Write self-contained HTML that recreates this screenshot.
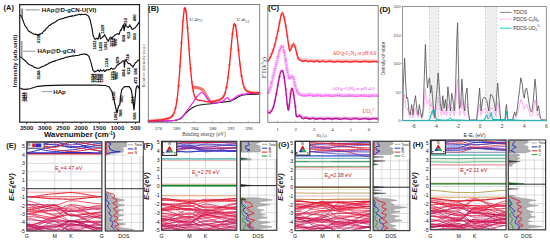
<!DOCTYPE html>
<html><head><meta charset="utf-8"><style>
html,body{margin:0;padding:0;background:#fff;width:550px;height:243px;overflow:hidden;font-family:"Liberation Sans",sans-serif;}
svg{display:block;}
</style></head><body><svg xmlns="http://www.w3.org/2000/svg" width="550" height="243" viewBox="0 0 550 243"><text x="3.6" y="9.8" font-size="7.4" text-anchor="start" font-weight="bold" fill="#111" font-family="Liberation Sans, sans-serif" >(A)</text><text transform="translate(16.6 61) rotate(-90)" font-size="6.0" text-anchor="middle" font-weight="bold" fill="#111" font-family="Liberation Sans, sans-serif">Intensity (arb.unit)</text><path d="M20.1 14.9 L21.2 16.4 L22.5 19 L23.7 22.4 L24.9 25.5 L25.8 26.9 L26.6 27.6 L27.5 29.3 L28.4 30.9 L29.2 31.3 L30.1 32.1 L30.9 32.1 L31.8 32.9 L32.6 33.3 L33.5 34.1 L34.4 34.3 L35.3 34.1 L36.1 34.4 L37 34.7 L37.9 35.3 L38.8 34.8 L39.6 34 L40.5 34.1 L41.3 33.3 L42.2 33.3 L43.1 32 L43.9 30.9 L44.8 30.6 L45.7 29.1 L46.5 28.2 L47.4 27.8 L48.2 26.7 L49.1 25.3 L50 25.3 L50.8 24.5 L51.7 24.1 L52.5 23.2 L53.4 23.2 L54.3 22.5 L55.1 22.2 L56 21.6 L56.8 20.7 L57.7 20.2 L58.6 19.8 L59.4 19.5 L60.3 19.1 L61.2 19 L62 18.9 L62.9 18.2 L63.8 18.4 L64.6 17.8 L65.5 17.5 L66.4 17.6 L67.2 17.1 L68.1 16.7 L69 16.6 L69.8 16.6 L70.7 16 L71.5 16.5 L72.4 15.6 L73.3 16 L74.1 15.9 L75 15.1 L75.8 15.5 L76.7 15 L77.5 15 L78.3 14.5 L79.1 14.4 L79.9 14.4 L80.8 14.9 L81.6 14.2 L82.4 14.5 L83.2 14.5 L84 14.4 L84.8 14.2 L85.7 14.3 L86.5 14.6 L87.3 15.5 L88.1 15.7 L88.9 16.8 L89.8 19.3 L90.6 21.8 L91.9 27.8 L93 35 L94.2 38.1 L95.2 39.3 L96.8 38.2 L97.7 39.2 L98.5 38.5 L99.6 33 L100.4 38.9 L101.2 38.1 L102.1 37.7 L103.4 36.5 L104.6 34.7 L105.4 36.5 L107 39.1 L108.3 41.3 L109.5 38.4 L110.8 37.2 L111.6 38.4 L112.4 37.2 L114 36.1 L114.8 35 L115.7 34.9 L117.3 33.6 L118.2 33.8 L119 34.6 L120.6 29.8 L121.4 30.1 L122.3 27.3 L123.4 24.8 L124.1 30.6 L124.6 28.2 L125.1 24.4 L126.4 26.4 L128 27.5 L128.8 27 L129.7 24.9 L130.5 26.7 L131.3 27.5 L132.2 29.5 L133 29.3 L134.6 28 L135.4 27.7 L136.3 26.2 L137.9 24.1 L139.5 21.5" fill="none" stroke="#111" stroke-width="1.15" stroke-linejoin="round"/><path d="M20.1 56.8 L21.5 57.6 L22.4 58.5 L23.2 59.1 L24 59.8 L24.9 60.6 L25.8 61.2 L26.6 62 L27.5 63.2 L28.4 63.9 L29.2 64.4 L30.1 65 L31 65.3 L31.8 65.6 L32.7 66.1 L33.6 66.9 L34.4 67.4 L35.3 67.5 L36.1 68 L37 68.1 L37.9 68.2 L38.7 68.3 L39.6 68 L40.4 67.3 L41.3 67.2 L42.2 66.5 L43 66.3 L43.9 66.1 L44.8 65.6 L45.6 64.9 L46.5 64.9 L47.3 64.3 L48.2 63.8 L49.1 63 L49.9 62.9 L50.8 62.3 L51.6 62.2 L52.5 61.6 L53.4 61.5 L54.2 61.1 L55.1 60.9 L56 60.3 L56.8 60.2 L57.7 60 L58.6 59.8 L59.4 59.2 L60.3 59.2 L61.2 58.9 L62 58.5 L62.9 58.4 L63.8 58.2 L64.6 57.7 L65.5 57.5 L66.3 57 L67.2 57.3 L68.1 57.1 L68.9 56.6 L69.8 56.5 L70.7 56.4 L71.5 56.3 L72.4 55.8 L73.2 56.1 L74.1 55.9 L75 55.8 L75.8 55.5 L76.7 55.5 L77.5 55.5 L78.4 55.3 L79.3 55.2 L80.3 54.5 L81.2 54.4 L82.1 54.4 L83.1 54.3 L84 53.8 L84.8 54.3 L85.7 54.4 L86.5 54.2 L87.3 55.1 L88.1 55.6 L88.9 56.2 L89.8 58.7 L90.6 61.3 L91.9 66.2 L93 70.3 L93.8 71 L94.7 72 L96.3 71.1 L97.2 70.7 L98 69.9 L98.8 70.8 L99.6 71.6 L100.4 69.6 L101.2 70.7 L102.1 70.9 L102.9 70.7 L103.7 69.8 L104.6 71.5 L105.4 71.1 L106.5 69.7 L107.5 69.9 L109.1 69.8 L109.9 69.7 L110.8 68.5 L111.6 68.1 L112.4 69.1 L113.2 69.1 L114 68.7 L114.8 68.6 L115.7 67.5 L116.5 66.2 L117.3 64.9 L118.2 64.9 L119.8 63.2 L120.6 63.1 L121.4 62.2 L122.8 60.8 L123.9 61.1 L124.4 67.1 L125.1 59.7 L126.4 60.7 L128 63.2 L128.8 63.7 L129.7 63.3 L130.5 64.5 L131.3 65.4 L132.2 65.7 L133 67.1 L134.6 64.2 L135.4 62.7 L136.3 62.3 L137.9 60.4 L139.5 59.8" fill="none" stroke="#111" stroke-width="1.15" stroke-linejoin="round"/><path d="M20.2 88 L22.5 89.2 L26.1 89.4 L30.7 88.5 L36.1 86.7 L45.1 85.6 L63.2 85.2 L97.6 85.2 L105.1 85.5 L109 86.7 L111.9 91.5 L113.8 99.2 L115.7 107.5 L116.6 111.5 L117.3 112.3 L118 108 L118.9 105.5 L119.8 104.8 L120.6 96 L121.8 89.6 L124.4 86.7 L129.2 86.7 L131.2 89.6 L132.5 97.3 L133.4 105 L134 109.9 L134.6 104 L135.2 97.3 L136 88.7 L137 86 L137.9 85.7 L138.6 88 L139.3 86.7" fill="none" stroke="#111" stroke-width="1.2" stroke-linejoin="round"/><path d="M21.6 17.5 L22.1 8.6 L22.6 18" fill="none" stroke="#444" stroke-width="0.7"/><path d="M21.4 57.6 L21.8 41 L22.2 57.8" fill="none" stroke="#777" stroke-width="0.7"/><line x1="25.5" y1="9.9" x2="39.7" y2="9.9" stroke="#777" stroke-width="0.8"/><text x="41.8" y="12.1" font-size="6.2" text-anchor="start" font-weight="bold" fill="#111" font-family="Liberation Sans, sans-serif" >HAp@D-gCN-U(VI)</text><line x1="23.2" y1="51.2" x2="35.3" y2="51.2" stroke="#777" stroke-width="0.8"/><text x="37.6" y="53.4" font-size="6.2" text-anchor="start" font-weight="bold" fill="#111" font-family="Liberation Sans, sans-serif" >HAp@D-gCN</text><line x1="41.5" y1="91.6" x2="52.4" y2="91.6" stroke="#999" stroke-width="1"/><text x="53.2" y="93.8" font-size="6.2" text-anchor="start" font-weight="bold" fill="#111" font-family="Liberation Sans, sans-serif" >HAp</text><text transform="translate(39.7 38.6) rotate(-90)" font-size="4.1" text-anchor="middle" font-weight="bold" fill="#111" stroke="#111" stroke-width="0.12" font-family="Liberation Sans, sans-serif">3198</text><text transform="translate(95.7 45) rotate(-90)" font-size="4.1" text-anchor="middle" font-weight="bold" fill="#111" stroke="#111" stroke-width="0.12" font-family="Liberation Sans, sans-serif">1622</text><text transform="translate(102.1 46.6) rotate(-90)" font-size="4.1" text-anchor="middle" font-weight="bold" fill="#111" stroke="#111" stroke-width="0.12" font-family="Liberation Sans, sans-serif">1420</text><text transform="translate(104.4 29.3) rotate(-90)" font-size="4.1" text-anchor="middle" font-weight="bold" fill="#111" stroke="#111" stroke-width="0.12" font-family="Liberation Sans, sans-serif">1329</text><text transform="translate(106.5 45.8) rotate(-90)" font-size="4.1" text-anchor="middle" font-weight="bold" fill="#111" stroke="#111" stroke-width="0.12" font-family="Liberation Sans, sans-serif">1261</text><text transform="translate(113.3 42.5) rotate(-90)" font-size="4.1" text-anchor="middle" font-weight="bold" fill="#111" stroke="#111" stroke-width="0.12" font-family="Liberation Sans, sans-serif">1075</text><text transform="translate(115.3 42.5) rotate(-90)" font-size="4.1" text-anchor="middle" font-weight="bold" fill="#111" stroke="#111" stroke-width="0.12" font-family="Liberation Sans, sans-serif">1020</text><text transform="translate(117.3 42.5) rotate(-90)" font-size="4.1" text-anchor="middle" font-weight="bold" fill="#111" stroke="#111" stroke-width="0.12" font-family="Liberation Sans, sans-serif">996</text><text transform="translate(125.1 38.4) rotate(-90)" font-size="4.1" text-anchor="middle" font-weight="bold" fill="#111" stroke="#111" stroke-width="0.12" font-family="Liberation Sans, sans-serif">804</text><text transform="translate(126.7 21.5) rotate(-90)" font-size="4.1" text-anchor="middle" font-weight="bold" fill="#111" stroke="#111" stroke-width="0.12" font-family="Liberation Sans, sans-serif">723</text><text transform="translate(130.4 35.1) rotate(-90)" font-size="4.1" text-anchor="middle" font-weight="bold" fill="#111" stroke="#111" stroke-width="0.12" font-family="Liberation Sans, sans-serif">613</text><text transform="translate(135.8 36.7) rotate(-90)" font-size="4.1" text-anchor="middle" font-weight="bold" fill="#111" stroke="#111" stroke-width="0.12" font-family="Liberation Sans, sans-serif">563</text><text transform="translate(135.8 17.8) rotate(-90)" font-size="4.1" text-anchor="middle" font-weight="bold" fill="#111" stroke="#111" stroke-width="0.12" font-family="Liberation Sans, sans-serif">490</text><text transform="translate(40.4 75) rotate(-90)" font-size="4.1" text-anchor="middle" font-weight="bold" fill="#111" stroke="#111" stroke-width="0.12" font-family="Liberation Sans, sans-serif">3188</text><text transform="translate(94.1 78.3) rotate(-90)" font-size="4.1" text-anchor="middle" font-weight="bold" fill="#111" stroke="#111" stroke-width="0.12" font-family="Liberation Sans, sans-serif">1634</text><text transform="translate(96.3 78.3) rotate(-90)" font-size="4.1" text-anchor="middle" font-weight="bold" fill="#111" stroke="#111" stroke-width="0.12" font-family="Liberation Sans, sans-serif">1563</text><text transform="translate(98.5 78.3) rotate(-90)" font-size="4.1" text-anchor="middle" font-weight="bold" fill="#111" stroke="#111" stroke-width="0.12" font-family="Liberation Sans, sans-serif">1470</text><text transform="translate(100.7 78.3) rotate(-90)" font-size="4.1" text-anchor="middle" font-weight="bold" fill="#111" stroke="#111" stroke-width="0.12" font-family="Liberation Sans, sans-serif">1320</text><text transform="translate(102.9 78.3) rotate(-90)" font-size="4.1" text-anchor="middle" font-weight="bold" fill="#111" stroke="#111" stroke-width="0.12" font-family="Liberation Sans, sans-serif">1256</text><text transform="translate(108.2 62.7) rotate(-90)" font-size="4.1" text-anchor="middle" font-weight="bold" fill="#111" stroke="#111" stroke-width="0.12" font-family="Liberation Sans, sans-serif">1124</text><text transform="translate(114.3 75.8) rotate(-90)" font-size="4.1" text-anchor="middle" font-weight="bold" fill="#111" stroke="#111" stroke-width="0.12" font-family="Liberation Sans, sans-serif">1075</text><text transform="translate(116.3 75.8) rotate(-90)" font-size="4.1" text-anchor="middle" font-weight="bold" fill="#111" stroke="#111" stroke-width="0.12" font-family="Liberation Sans, sans-serif">1020</text><text transform="translate(118.3 75.8) rotate(-90)" font-size="4.1" text-anchor="middle" font-weight="bold" fill="#111" stroke="#111" stroke-width="0.12" font-family="Liberation Sans, sans-serif">995</text><text transform="translate(118.9 60.2) rotate(-90)" font-size="4.1" text-anchor="middle" font-weight="bold" fill="#111" stroke="#111" stroke-width="0.12" font-family="Liberation Sans, sans-serif">879</text><text transform="translate(125.1 73) rotate(-90)" font-size="4.1" text-anchor="middle" font-weight="bold" fill="#111" stroke="#111" stroke-width="0.12" font-family="Liberation Sans, sans-serif">804</text><text transform="translate(130.4 70.9) rotate(-90)" font-size="4.1" text-anchor="middle" font-weight="bold" fill="#111" stroke="#111" stroke-width="0.12" font-family="Liberation Sans, sans-serif">613</text><text transform="translate(128.7 57.7) rotate(-90)" font-size="4.1" text-anchor="middle" font-weight="bold" fill="#111" stroke="#111" stroke-width="0.12" font-family="Liberation Sans, sans-serif">724</text><text transform="translate(136.7 71.3) rotate(-90)" font-size="4.1" text-anchor="middle" font-weight="bold" fill="#111" stroke="#111" stroke-width="0.12" font-family="Liberation Sans, sans-serif">566</text><text transform="translate(24.5 97) rotate(-90)" font-size="4.1" text-anchor="middle" font-weight="bold" fill="#111" stroke="#111" stroke-width="0.12" font-family="Liberation Sans, sans-serif">3444</text><text transform="translate(27.2 97) rotate(-90)" font-size="4.1" text-anchor="middle" font-weight="bold" fill="#111" stroke="#111" stroke-width="0.12" font-family="Liberation Sans, sans-serif">3423</text><text transform="translate(114.7 96) rotate(-90)" font-size="4.1" text-anchor="middle" font-weight="bold" fill="#111" stroke="#111" stroke-width="0.12" font-family="Liberation Sans, sans-serif">1120</text><text transform="translate(117.1 116) rotate(-90)" font-size="4.1" text-anchor="middle" font-weight="bold" fill="#111" stroke="#111" stroke-width="0.12" font-family="Liberation Sans, sans-serif">1062</text><text transform="translate(121.7 113) rotate(-90)" font-size="4.1" text-anchor="middle" font-weight="bold" fill="#111" stroke="#111" stroke-width="0.12" font-family="Liberation Sans, sans-serif">966</text><text transform="translate(122.5 99) rotate(-90)" font-size="4.1" text-anchor="middle" font-weight="bold" fill="#111" stroke="#111" stroke-width="0.12" font-family="Liberation Sans, sans-serif">960</text><text transform="translate(134 100) rotate(-90)" font-size="4.1" text-anchor="middle" font-weight="bold" fill="#111" stroke="#111" stroke-width="0.12" font-family="Liberation Sans, sans-serif">661</text><text transform="translate(136.2 116) rotate(-90)" font-size="4.1" text-anchor="middle" font-weight="bold" fill="#111" stroke="#111" stroke-width="0.12" font-family="Liberation Sans, sans-serif">606</text><text transform="translate(136.7 80.3) rotate(-90)" font-size="4.1" text-anchor="middle" font-weight="bold" fill="#111" stroke="#111" stroke-width="0.12" font-family="Liberation Sans, sans-serif">472</text><rect x="19.7" y="4.6" width="119.8" height="117.6" fill="none" stroke="#222" stroke-width="1.2"/><line x1="26.7" y1="122.2" x2="26.7" y2="124" stroke="#222" stroke-width="0.9"/><text x="26.7" y="130" font-size="6.1" text-anchor="middle" font-weight="bold" fill="#1a1a1a" font-family="Liberation Sans, sans-serif" >3500</text><line x1="35.8" y1="122.2" x2="35.8" y2="123.3" stroke="#222" stroke-width="0.7"/><line x1="44.8" y1="122.2" x2="44.8" y2="124" stroke="#222" stroke-width="0.9"/><text x="44.8" y="130" font-size="6.1" text-anchor="middle" font-weight="bold" fill="#1a1a1a" font-family="Liberation Sans, sans-serif" >3000</text><line x1="53.9" y1="122.2" x2="53.9" y2="123.3" stroke="#222" stroke-width="0.7"/><line x1="63" y1="122.2" x2="63" y2="124" stroke="#222" stroke-width="0.9"/><text x="63" y="130" font-size="6.1" text-anchor="middle" font-weight="bold" fill="#1a1a1a" font-family="Liberation Sans, sans-serif" >2500</text><line x1="72.1" y1="122.2" x2="72.1" y2="123.3" stroke="#222" stroke-width="0.7"/><line x1="81.1" y1="122.2" x2="81.1" y2="124" stroke="#222" stroke-width="0.9"/><text x="81.1" y="130" font-size="6.1" text-anchor="middle" font-weight="bold" fill="#1a1a1a" font-family="Liberation Sans, sans-serif" >2000</text><line x1="90.2" y1="122.2" x2="90.2" y2="123.3" stroke="#222" stroke-width="0.7"/><line x1="99.3" y1="122.2" x2="99.3" y2="124" stroke="#222" stroke-width="0.9"/><text x="99.3" y="130" font-size="6.1" text-anchor="middle" font-weight="bold" fill="#1a1a1a" font-family="Liberation Sans, sans-serif" >1500</text><line x1="108.4" y1="122.2" x2="108.4" y2="123.3" stroke="#222" stroke-width="0.7"/><line x1="117.5" y1="122.2" x2="117.5" y2="124" stroke="#222" stroke-width="0.9"/><text x="117.5" y="130" font-size="6.1" text-anchor="middle" font-weight="bold" fill="#1a1a1a" font-family="Liberation Sans, sans-serif" >1000</text><line x1="126.5" y1="122.2" x2="126.5" y2="123.3" stroke="#222" stroke-width="0.7"/><line x1="135.6" y1="122.2" x2="135.6" y2="124" stroke="#222" stroke-width="0.9"/><text x="135.6" y="130" font-size="6.1" text-anchor="middle" font-weight="bold" fill="#1a1a1a" font-family="Liberation Sans, sans-serif" >500</text><text x="44" y="137.4" font-size="7.8" text-anchor="start" font-weight="bold" fill="#111" font-family="Liberation Sans, sans-serif" >Wavenumber (cm<tspan font-size="4.6" dy="-2.6">-1</tspan><tspan dy="2.6">)</tspan></text><circle cx="148.5" cy="120.9" r="1.1" fill="none" stroke="#f06868" stroke-width="0.55"/><circle cx="150" cy="120.8" r="1.1" fill="none" stroke="#f06868" stroke-width="0.55"/><circle cx="151.5" cy="120.7" r="1.1" fill="none" stroke="#f06868" stroke-width="0.55"/><circle cx="153" cy="120.6" r="1.1" fill="none" stroke="#f06868" stroke-width="0.55"/><circle cx="154.5" cy="120.5" r="1.1" fill="none" stroke="#f06868" stroke-width="0.55"/><circle cx="156" cy="120.4" r="1.1" fill="none" stroke="#f06868" stroke-width="0.55"/><circle cx="157.5" cy="120.2" r="1.1" fill="none" stroke="#f06868" stroke-width="0.55"/><circle cx="159" cy="120.1" r="1.1" fill="none" stroke="#f06868" stroke-width="0.55"/><circle cx="160.5" cy="119.9" r="1.1" fill="none" stroke="#f06868" stroke-width="0.55"/><circle cx="162" cy="119.7" r="1.1" fill="none" stroke="#f06868" stroke-width="0.55"/><circle cx="163.5" cy="119.5" r="1.1" fill="none" stroke="#f06868" stroke-width="0.55"/><circle cx="165" cy="119.2" r="1.1" fill="none" stroke="#f06868" stroke-width="0.55"/><circle cx="166.5" cy="118.9" r="1.1" fill="none" stroke="#f06868" stroke-width="0.55"/><circle cx="168" cy="118.4" r="1.1" fill="none" stroke="#f06868" stroke-width="0.55"/><circle cx="169.5" cy="117.9" r="1.1" fill="none" stroke="#f06868" stroke-width="0.55"/><circle cx="171" cy="117.1" r="1.1" fill="none" stroke="#f06868" stroke-width="0.55"/><circle cx="172.5" cy="115.7" r="1.1" fill="none" stroke="#f06868" stroke-width="0.55"/><circle cx="174" cy="113.1" r="1.1" fill="none" stroke="#f06868" stroke-width="0.55"/><circle cx="175.5" cy="108.2" r="1.1" fill="none" stroke="#f06868" stroke-width="0.55"/><circle cx="177" cy="99.7" r="1.1" fill="none" stroke="#f06868" stroke-width="0.55"/><circle cx="178.5" cy="85.8" r="1.1" fill="none" stroke="#f06868" stroke-width="0.55"/><circle cx="180" cy="66" r="1.1" fill="none" stroke="#f06868" stroke-width="0.55"/><circle cx="181.5" cy="42.8" r="1.1" fill="none" stroke="#f06868" stroke-width="0.55"/><circle cx="183" cy="21" r="1.1" fill="none" stroke="#f06868" stroke-width="0.55"/><circle cx="184.5" cy="8.6" r="1.1" fill="none" stroke="#f06868" stroke-width="0.55"/><circle cx="186" cy="11.7" r="1.1" fill="none" stroke="#f06868" stroke-width="0.55"/><circle cx="187.5" cy="27.8" r="1.1" fill="none" stroke="#f06868" stroke-width="0.55"/><circle cx="189" cy="49" r="1.1" fill="none" stroke="#f06868" stroke-width="0.55"/><circle cx="190.5" cy="68.4" r="1.1" fill="none" stroke="#f06868" stroke-width="0.55"/><circle cx="192" cy="82.9" r="1.1" fill="none" stroke="#f06868" stroke-width="0.55"/><circle cx="193" cy="89.7" r="1.1" fill="none" stroke="#f06868" stroke-width="0.55"/><circle cx="193.5" cy="87" r="1.1" fill="none" stroke="#f06868" stroke-width="0.55"/><circle cx="194" cy="87.1" r="1.1" fill="none" stroke="#f06868" stroke-width="0.55"/><circle cx="194.5" cy="87.2" r="1.1" fill="none" stroke="#f06868" stroke-width="0.55"/><circle cx="195" cy="87.3" r="1.1" fill="none" stroke="#f06868" stroke-width="0.55"/><circle cx="195.5" cy="87.3" r="1.1" fill="none" stroke="#f06868" stroke-width="0.55"/><circle cx="196" cy="87.4" r="1.1" fill="none" stroke="#f06868" stroke-width="0.55"/><circle cx="196.5" cy="87.5" r="1.1" fill="none" stroke="#f06868" stroke-width="0.55"/><circle cx="197" cy="87.6" r="1.1" fill="none" stroke="#f06868" stroke-width="0.55"/><circle cx="197.5" cy="87.7" r="1.1" fill="none" stroke="#f06868" stroke-width="0.55"/><circle cx="198" cy="87.9" r="1.1" fill="none" stroke="#f06868" stroke-width="0.55"/><circle cx="198.5" cy="88" r="1.1" fill="none" stroke="#f06868" stroke-width="0.55"/><circle cx="199" cy="88.1" r="1.1" fill="none" stroke="#f06868" stroke-width="0.55"/><circle cx="199.5" cy="88.3" r="1.1" fill="none" stroke="#f06868" stroke-width="0.55"/><circle cx="200" cy="88.4" r="1.1" fill="none" stroke="#f06868" stroke-width="0.55"/><circle cx="200.5" cy="88.6" r="1.1" fill="none" stroke="#f06868" stroke-width="0.55"/><circle cx="201" cy="88.8" r="1.1" fill="none" stroke="#f06868" stroke-width="0.55"/><circle cx="201.5" cy="89.1" r="1.1" fill="none" stroke="#f06868" stroke-width="0.55"/><circle cx="202" cy="89.3" r="1.1" fill="none" stroke="#f06868" stroke-width="0.55"/><circle cx="202.5" cy="89.5" r="1.1" fill="none" stroke="#f06868" stroke-width="0.55"/><circle cx="203" cy="90.2" r="1.1" fill="none" stroke="#f06868" stroke-width="0.55"/><circle cx="203.5" cy="90.9" r="1.1" fill="none" stroke="#f06868" stroke-width="0.55"/><circle cx="204" cy="91.6" r="1.1" fill="none" stroke="#f06868" stroke-width="0.55"/><circle cx="204.5" cy="92.3" r="1.1" fill="none" stroke="#f06868" stroke-width="0.55"/><circle cx="205" cy="93" r="1.1" fill="none" stroke="#f06868" stroke-width="0.55"/><circle cx="205.5" cy="93.9" r="1.1" fill="none" stroke="#f06868" stroke-width="0.55"/><circle cx="206" cy="94.8" r="1.1" fill="none" stroke="#f06868" stroke-width="0.55"/><circle cx="206.5" cy="95.7" r="1.1" fill="none" stroke="#f06868" stroke-width="0.55"/><circle cx="207" cy="96.6" r="1.1" fill="none" stroke="#f06868" stroke-width="0.55"/><circle cx="207.5" cy="97.5" r="1.1" fill="none" stroke="#f06868" stroke-width="0.55"/><circle cx="208" cy="98.3" r="1.1" fill="none" stroke="#f06868" stroke-width="0.55"/><circle cx="208.5" cy="99.1" r="1.1" fill="none" stroke="#f06868" stroke-width="0.55"/><circle cx="209" cy="99.9" r="1.1" fill="none" stroke="#f06868" stroke-width="0.55"/><circle cx="209.5" cy="100.7" r="1.1" fill="none" stroke="#f06868" stroke-width="0.55"/><circle cx="210" cy="101.5" r="1.1" fill="none" stroke="#f06868" stroke-width="0.55"/><circle cx="210.5" cy="101.8" r="1.1" fill="none" stroke="#f06868" stroke-width="0.55"/><circle cx="211" cy="101.7" r="1.1" fill="none" stroke="#f06868" stroke-width="0.55"/><circle cx="211.5" cy="101.7" r="1.1" fill="none" stroke="#f06868" stroke-width="0.55"/><circle cx="213" cy="101.5" r="1.1" fill="none" stroke="#f06868" stroke-width="0.55"/><circle cx="214.5" cy="101.2" r="1.1" fill="none" stroke="#f06868" stroke-width="0.55"/><circle cx="216" cy="100.9" r="1.1" fill="none" stroke="#f06868" stroke-width="0.55"/><circle cx="217.5" cy="100.5" r="1.1" fill="none" stroke="#f06868" stroke-width="0.55"/><circle cx="219" cy="100" r="1.1" fill="none" stroke="#f06868" stroke-width="0.55"/><circle cx="220.5" cy="99.3" r="1.1" fill="none" stroke="#f06868" stroke-width="0.55"/><circle cx="222" cy="98.2" r="1.1" fill="none" stroke="#f06868" stroke-width="0.55"/><circle cx="223.5" cy="96.4" r="1.1" fill="none" stroke="#f06868" stroke-width="0.55"/><circle cx="225" cy="93" r="1.1" fill="none" stroke="#f06868" stroke-width="0.55"/><circle cx="226.5" cy="87.1" r="1.1" fill="none" stroke="#f06868" stroke-width="0.55"/><circle cx="228" cy="77.8" r="1.1" fill="none" stroke="#f06868" stroke-width="0.55"/><circle cx="229.5" cy="64.7" r="1.1" fill="none" stroke="#f06868" stroke-width="0.55"/><circle cx="231" cy="48.8" r="1.1" fill="none" stroke="#f06868" stroke-width="0.55"/><circle cx="232.5" cy="33.7" r="1.1" fill="none" stroke="#f06868" stroke-width="0.55"/><circle cx="234" cy="24.5" r="1.1" fill="none" stroke="#f06868" stroke-width="0.55"/><circle cx="235.5" cy="25.7" r="1.1" fill="none" stroke="#f06868" stroke-width="0.55"/><circle cx="237" cy="35.9" r="1.1" fill="none" stroke="#f06868" stroke-width="0.55"/><circle cx="238.5" cy="50.4" r="1.1" fill="none" stroke="#f06868" stroke-width="0.55"/><circle cx="240" cy="64.3" r="1.1" fill="none" stroke="#f06868" stroke-width="0.55"/><circle cx="241.5" cy="75.8" r="1.1" fill="none" stroke="#f06868" stroke-width="0.55"/><circle cx="243" cy="83.4" r="1.1" fill="none" stroke="#f06868" stroke-width="0.55"/><circle cx="244.5" cy="87.9" r="1.1" fill="none" stroke="#f06868" stroke-width="0.55"/><circle cx="246" cy="90.2" r="1.1" fill="none" stroke="#f06868" stroke-width="0.55"/><circle cx="247.5" cy="91.3" r="1.1" fill="none" stroke="#f06868" stroke-width="0.55"/><circle cx="249" cy="91.9" r="1.1" fill="none" stroke="#f06868" stroke-width="0.55"/><circle cx="250.5" cy="92.3" r="1.1" fill="none" stroke="#f06868" stroke-width="0.55"/><circle cx="252" cy="92.6" r="1.1" fill="none" stroke="#f06868" stroke-width="0.55"/><circle cx="253.5" cy="92.7" r="1.1" fill="none" stroke="#f06868" stroke-width="0.55"/><circle cx="255" cy="92.9" r="1.1" fill="none" stroke="#f06868" stroke-width="0.55"/><circle cx="256.5" cy="92.9" r="1.1" fill="none" stroke="#f06868" stroke-width="0.55"/><circle cx="258" cy="93" r="1.1" fill="none" stroke="#f06868" stroke-width="0.55"/><circle cx="259.5" cy="93.1" r="1.1" fill="none" stroke="#f06868" stroke-width="0.55"/><path d="M148.5 121.5 C150.4 121.5 156.1 121.3 160 121.2 C163.9 121.1 169 121 172 120.8 C175 120.6 176.3 120.3 178 119.8 C179.7 119.2 180.5 118.8 182 117.5 C183.5 116.2 185.3 113.6 187 112 C188.7 110.4 190.3 109.1 192 108 C193.7 106.9 195.1 106.1 197.3 105.5 C199.5 104.9 202.7 104.6 205 104.3 C207.3 104 208.5 104 211 103.7 C213.5 103.4 216.8 102.9 220 102.5 C223.2 102.1 227.5 101.7 230 101.1 C232.5 100.5 233.3 99.8 235 99 C236.7 98.2 237.8 96.8 240 96 C242.2 95.2 244.8 94.8 248 94.5 C251.2 94.2 257.6 94.1 259.5 94" fill="none" stroke="#222" stroke-width="1.1"/><path d="M148.5 121.2 C152.4 121.1 167.1 120.9 172 120.6 C176.9 120.3 176.3 120.1 178 119.5 C179.7 118.9 180.7 118.2 182 117 C183.3 115.8 184.7 113.8 186 112 C187.3 110.2 188.7 108.3 190 106.5 C191.3 104.7 192.8 102.8 194 101 C195.2 99.2 196.2 97.4 197.5 96 C198.8 94.6 200.3 92.7 201.6 92.5 C202.8 92.3 203.9 93.8 205 95 C206.1 96.2 207 98.2 208 99.5 C209 100.8 209.8 101.9 211 102.5 C212.2 103.1 213.2 103.2 215 103 C216.8 102.8 220.2 102.2 222 101.5 C223.8 100.8 224.6 99.6 225.5 99 C226.4 98.4 227 97.6 227.6 97.7 C228.2 97.8 228.7 99.1 229.2 99.5 C229.7 99.9 230.2 100.4 230.8 100.3 C231.4 100.2 231.8 99.8 233 99 C234.2 98.2 236.2 96.3 238 95.5 C239.8 94.7 241.7 94.4 244 94 C246.3 93.6 249.4 93.4 252 93.3 C254.6 93.2 258.2 93.2 259.5 93.2" fill="none" stroke="#ee22ee" stroke-width="1.2"/><path d="M148.5 120.9 L149 120.9 L149.5 120.8 L150 120.8 L150.5 120.8 L151 120.7 L151.5 120.7 L152 120.7 L152.5 120.6 L153 120.6 L153.5 120.6 L154 120.5 L154.5 120.5 L155 120.5 L155.5 120.4 L156 120.4 L156.5 120.3 L157 120.3 L157.5 120.2 L158 120.2 L158.5 120.1 L159 120.1 L159.5 120 L160 120 L160.5 119.9 L161 119.8 L161.5 119.8 L162 119.7 L162.5 119.6 L163 119.6 L163.5 119.5 L164 119.4 L164.5 119.3 L165 119.2 L165.5 119.1 L166 119 L166.5 118.9 L167 118.7 L167.5 118.6 L168 118.4 L168.5 118.3 L169 118.1 L169.5 117.9 L170 117.7 L170.5 117.4 L171 117.1 L171.5 116.8 L172 116.3 L172.5 115.7 L173 115 L173.5 114.1 L174 113.1 L174.5 111.8 L175 110.2 L175.5 108.2 L176 105.9 L176.5 103.1 L177 99.7 L177.5 95.8 L178 91.2 L178.5 85.8 L179 79.8 L179.5 73.2 L180 66 L180.5 58.5 L181 50.7 L181.5 42.8 L182 35.2 L182.5 27.7 L183 21 L183.5 15.3 L184 11.1 L184.5 8.6 L185 7.8 L185.5 8.9 L186 11.7 L186.5 16 L187 21.4 L187.5 27.8 L188 34.7 L188.5 41.8 L189 49 L189.5 55.9 L190 62.4 L190.5 68.4 L191 73.9 L191.5 78.7 L192 82.9 L192.5 86.6 L193 89.7 L193.5 92.3 L194 94.3 L194.5 96 L195 97.2 L195.5 98.1 L196 98.8 L196.5 99.3 L197 99.6 L197.5 99.8 L198 100 L198.5 100.1 L199 100.2 L199.5 100.3 L200 100.3 L200.5 100.4 L201 100.4 L201.5 100.5 L202 100.6 L202.5 100.7 L203 100.8 L203.5 100.9 L204 101 L204.5 101.2 L205 101.3 L205.5 101.4 L206 101.5 L206.5 101.6 L207 101.7 L207.5 101.8 L208 101.8 L208.5 101.8 L209 101.8 L209.5 101.8 L210 101.8 L210.5 101.8 L211 101.7 L211.5 101.7 L212 101.6 L212.5 101.5 L213 101.5 L213.5 101.4 L214 101.3 L214.5 101.2 L215 101.1 L215.5 101 L216 100.9 L216.5 100.7 L217 100.6 L217.5 100.5 L218 100.3 L218.5 100.2 L219 100 L219.5 99.8 L220 99.6 L220.5 99.3 L221 99 L221.5 98.6 L222 98.2 L222.5 97.7 L223 97.1 L223.5 96.4 L224 95.5 L224.5 94.4 L225 93 L225.5 91.4 L226 89.4 L226.5 87.1 L227 84.4 L227.5 81.3 L228 77.8 L228.5 73.8 L229 69.4 L229.5 64.7 L230 59.6 L230.5 54.3 L231 48.8 L231.5 43.4 L232 38.3 L232.5 33.7 L233 29.7 L233.5 26.6 L234 24.5 L234.5 23.7 L235 24.1 L235.5 25.7 L236 28.3 L236.5 31.8 L237 35.9 L237.5 40.5 L238 45.4 L238.5 50.4 L239 55.2 L239.5 59.9 L240 64.3 L240.5 68.5 L241 72.4 L241.5 75.8 L242 78.7 L242.5 81.3 L243 83.4 L243.5 85.2 L244 86.7 L244.5 87.9 L245 88.9 L245.5 89.6 L246 90.2 L246.5 90.7 L247 91 L247.5 91.3 L248 91.5 L248.5 91.7 L249 91.9 L249.5 92.1 L250 92.2 L250.5 92.3 L251 92.4 L251.5 92.5 L252 92.6 L252.5 92.6 L253 92.7 L253.5 92.7 L254 92.8 L254.5 92.8 L255 92.9 L255.5 92.9 L256 92.9 L256.5 92.9 L257 93 L257.5 93 L258 93 L258.5 93 L259 93 L259.5 93.1" fill="none" stroke="#ff2020" stroke-width="1.35"/><rect x="148.3" y="4.5" width="111.4" height="118.2" fill="none" stroke="#777" stroke-width="0.9"/><text x="148" y="10.7" font-size="7.9" text-anchor="start" font-weight="bold" fill="#111" font-family="Liberation Sans, sans-serif" >(B)</text><text x="189.5" y="21" font-size="4.9" text-anchor="start" font-weight="normal" fill="#333" font-family="Liberation Serif, serif" >U 4f<tspan font-size="3.2" dy="1.3">7/2</tspan></text><text x="236.4" y="21.4" font-size="4.9" text-anchor="start" font-weight="normal" fill="#333" font-family="Liberation Serif, serif" >U 4f<tspan font-size="3.2" dy="1.3">5/2</tspan></text><line x1="158" y1="122.7" x2="158" y2="121.2" stroke="#777" stroke-width="0.6"/><text x="158.6" y="129.9" font-size="5.0" text-anchor="middle" font-weight="normal" fill="#333" font-family="Liberation Serif, serif" >376</text><line x1="167" y1="122.7" x2="167" y2="121.8" stroke="#777" stroke-width="0.5"/><line x1="176.1" y1="122.7" x2="176.1" y2="121.2" stroke="#777" stroke-width="0.6"/><text x="176.7" y="129.9" font-size="5.0" text-anchor="middle" font-weight="normal" fill="#333" font-family="Liberation Serif, serif" >380</text><line x1="185.1" y1="122.7" x2="185.1" y2="121.8" stroke="#777" stroke-width="0.5"/><line x1="194.1" y1="122.7" x2="194.1" y2="121.2" stroke="#777" stroke-width="0.6"/><text x="194.7" y="129.9" font-size="5.0" text-anchor="middle" font-weight="normal" fill="#333" font-family="Liberation Serif, serif" >384</text><line x1="203.2" y1="122.7" x2="203.2" y2="121.8" stroke="#777" stroke-width="0.5"/><line x1="212.2" y1="122.7" x2="212.2" y2="121.2" stroke="#777" stroke-width="0.6"/><text x="212.8" y="129.9" font-size="5.0" text-anchor="middle" font-weight="normal" fill="#333" font-family="Liberation Serif, serif" >388</text><line x1="221.2" y1="122.7" x2="221.2" y2="121.8" stroke="#777" stroke-width="0.5"/><line x1="230.3" y1="122.7" x2="230.3" y2="121.2" stroke="#777" stroke-width="0.6"/><text x="230.9" y="129.9" font-size="5.0" text-anchor="middle" font-weight="normal" fill="#333" font-family="Liberation Serif, serif" >392</text><line x1="239.3" y1="122.7" x2="239.3" y2="121.8" stroke="#777" stroke-width="0.5"/><line x1="248.3" y1="122.7" x2="248.3" y2="121.2" stroke="#777" stroke-width="0.6"/><text x="248.9" y="129.9" font-size="5.0" text-anchor="middle" font-weight="normal" fill="#333" font-family="Liberation Serif, serif" >396</text><line x1="257.4" y1="122.7" x2="257.4" y2="121.8" stroke="#777" stroke-width="0.5"/><text x="204" y="136" font-size="5.3" text-anchor="middle" font-weight="normal" fill="#444" font-family="Liberation Serif, serif" >Binding energy (eV)</text><text transform="translate(145 66) rotate(-90)" font-size="4.6" text-anchor="middle" font-weight="normal" fill="#555" font-family="Liberation Serif, serif">Relative intensity (a.u.)</text><path d="M268.2 59.1l1.1 1.9h-2.2z" fill="none" stroke="#ff7070" stroke-width="0.5"/><path d="M269.8 56l1.1 1.9h-2.2z" fill="none" stroke="#ff7070" stroke-width="0.5"/><path d="M271.4 52.5l1.1 1.9h-2.2z" fill="none" stroke="#ff7070" stroke-width="0.5"/><path d="M273 48.2l1.1 1.9h-2.2z" fill="none" stroke="#ff7070" stroke-width="0.5"/><path d="M274.6 43.3l1.1 1.9h-2.2z" fill="none" stroke="#ff7070" stroke-width="0.5"/><path d="M276.2 36.5l1.1 1.9h-2.2z" fill="none" stroke="#ff7070" stroke-width="0.5"/><path d="M277.8 29.5l1.1 1.9h-2.2z" fill="none" stroke="#ff7070" stroke-width="0.5"/><path d="M279.4 21.2l1.1 1.9h-2.2z" fill="none" stroke="#ff7070" stroke-width="0.5"/><path d="M281 13.7l1.1 1.9h-2.2z" fill="none" stroke="#ff7070" stroke-width="0.5"/><path d="M282.6 11.2l1.1 1.9h-2.2z" fill="none" stroke="#ff7070" stroke-width="0.5"/><path d="M284.2 16l1.1 1.9h-2.2z" fill="none" stroke="#ff7070" stroke-width="0.5"/><path d="M285.8 24.3l1.1 1.9h-2.2z" fill="none" stroke="#ff7070" stroke-width="0.5"/><path d="M287.4 34.5l1.1 1.9h-2.2z" fill="none" stroke="#ff7070" stroke-width="0.5"/><path d="M289 44.8l1.1 1.9h-2.2z" fill="none" stroke="#ff7070" stroke-width="0.5"/><path d="M290.6 47.3l1.1 1.9h-2.2z" fill="none" stroke="#ff7070" stroke-width="0.5"/><path d="M292.2 43.9l1.1 1.9h-2.2z" fill="none" stroke="#ff7070" stroke-width="0.5"/><path d="M293.8 42l1.1 1.9h-2.2z" fill="none" stroke="#ff7070" stroke-width="0.5"/><path d="M295.4 45.6l1.1 1.9h-2.2z" fill="none" stroke="#ff7070" stroke-width="0.5"/><path d="M297 52.2l1.1 1.9h-2.2z" fill="none" stroke="#ff7070" stroke-width="0.5"/><path d="M298.6 56.6l1.1 1.9h-2.2z" fill="none" stroke="#ff7070" stroke-width="0.5"/><path d="M300.2 57.8l1.1 1.9h-2.2z" fill="none" stroke="#ff7070" stroke-width="0.5"/><path d="M301.8 58.7l1.1 1.9h-2.2z" fill="none" stroke="#ff7070" stroke-width="0.5"/><path d="M303.4 59l1.1 1.9h-2.2z" fill="none" stroke="#ff7070" stroke-width="0.5"/><path d="M305 58.6l1.1 1.9h-2.2z" fill="none" stroke="#ff7070" stroke-width="0.5"/><path d="M306.6 58.6l1.1 1.9h-2.2z" fill="none" stroke="#ff7070" stroke-width="0.5"/><path d="M308.2 59.4l1.1 1.9h-2.2z" fill="none" stroke="#ff7070" stroke-width="0.5"/><path d="M309.8 59.1l1.1 1.9h-2.2z" fill="none" stroke="#ff7070" stroke-width="0.5"/><path d="M311.4 58.8l1.1 1.9h-2.2z" fill="none" stroke="#ff7070" stroke-width="0.5"/><path d="M313 59.3l1.1 1.9h-2.2z" fill="none" stroke="#ff7070" stroke-width="0.5"/><path d="M314.6 59.4l1.1 1.9h-2.2z" fill="none" stroke="#ff7070" stroke-width="0.5"/><path d="M316.2 58.9l1.1 1.9h-2.2z" fill="none" stroke="#ff7070" stroke-width="0.5"/><path d="M317.8 59l1.1 1.9h-2.2z" fill="none" stroke="#ff7070" stroke-width="0.5"/><path d="M319.4 59.5l1.1 1.9h-2.2z" fill="none" stroke="#ff7070" stroke-width="0.5"/><path d="M321 59.4l1.1 1.9h-2.2z" fill="none" stroke="#ff7070" stroke-width="0.5"/><path d="M322.6 59l1.1 1.9h-2.2z" fill="none" stroke="#ff7070" stroke-width="0.5"/><path d="M324.2 59.2l1.1 1.9h-2.2z" fill="none" stroke="#ff7070" stroke-width="0.5"/><path d="M325.8 59.6l1.1 1.9h-2.2z" fill="none" stroke="#ff7070" stroke-width="0.5"/><path d="M327.4 59.5l1.1 1.9h-2.2z" fill="none" stroke="#ff7070" stroke-width="0.5"/><path d="M329 59.2l1.1 1.9h-2.2z" fill="none" stroke="#ff7070" stroke-width="0.5"/><path d="M330.6 59.1l1.1 1.9h-2.2z" fill="none" stroke="#ff7070" stroke-width="0.5"/><path d="M332.2 59.4l1.1 1.9h-2.2z" fill="none" stroke="#ff7070" stroke-width="0.5"/><path d="M333.8 59.8l1.1 1.9h-2.2z" fill="none" stroke="#ff7070" stroke-width="0.5"/><path d="M335.4 59.6l1.1 1.9h-2.2z" fill="none" stroke="#ff7070" stroke-width="0.5"/><path d="M337 59.3l1.1 1.9h-2.2z" fill="none" stroke="#ff7070" stroke-width="0.5"/><path d="M338.6 59.2l1.1 1.9h-2.2z" fill="none" stroke="#ff7070" stroke-width="0.5"/><path d="M340.2 59.5l1.1 1.9h-2.2z" fill="none" stroke="#ff7070" stroke-width="0.5"/><path d="M341.8 59.8l1.1 1.9h-2.2z" fill="none" stroke="#ff7070" stroke-width="0.5"/><path d="M343.4 59.6l1.1 1.9h-2.2z" fill="none" stroke="#ff7070" stroke-width="0.5"/><path d="M345 59.3l1.1 1.9h-2.2z" fill="none" stroke="#ff7070" stroke-width="0.5"/><path d="M346.6 59.2l1.1 1.9h-2.2z" fill="none" stroke="#ff7070" stroke-width="0.5"/><path d="M348.2 59.5l1.1 1.9h-2.2z" fill="none" stroke="#ff7070" stroke-width="0.5"/><path d="M349.8 59.8l1.1 1.9h-2.2z" fill="none" stroke="#ff7070" stroke-width="0.5"/><path d="M351.4 59.6l1.1 1.9h-2.2z" fill="none" stroke="#ff7070" stroke-width="0.5"/><path d="M353 59.4l1.1 1.9h-2.2z" fill="none" stroke="#ff7070" stroke-width="0.5"/><path d="M354.6 59.2l1.1 1.9h-2.2z" fill="none" stroke="#ff7070" stroke-width="0.5"/><path d="M356.2 59.3l1.1 1.9h-2.2z" fill="none" stroke="#ff7070" stroke-width="0.5"/><path d="M357.8 59.5l1.1 1.9h-2.2z" fill="none" stroke="#ff7070" stroke-width="0.5"/><path d="M359.4 59.7l1.1 1.9h-2.2z" fill="none" stroke="#ff7070" stroke-width="0.5"/><path d="M361 59.7l1.1 1.9h-2.2z" fill="none" stroke="#ff7070" stroke-width="0.5"/><path d="M362.6 59.5l1.1 1.9h-2.2z" fill="none" stroke="#ff7070" stroke-width="0.5"/><path d="M364.2 59.3l1.1 1.9h-2.2z" fill="none" stroke="#ff7070" stroke-width="0.5"/><path d="M365.8 59.3l1.1 1.9h-2.2z" fill="none" stroke="#ff7070" stroke-width="0.5"/><path d="M367.4 59.5l1.1 1.9h-2.2z" fill="none" stroke="#ff7070" stroke-width="0.5"/><path d="M369 59.7l1.1 1.9h-2.2z" fill="none" stroke="#ff7070" stroke-width="0.5"/><path d="M370.6 59.7l1.1 1.9h-2.2z" fill="none" stroke="#ff7070" stroke-width="0.5"/><path d="M372.2 59.5l1.1 1.9h-2.2z" fill="none" stroke="#ff7070" stroke-width="0.5"/><path d="M373.8 59.3l1.1 1.9h-2.2z" fill="none" stroke="#ff7070" stroke-width="0.5"/><path d="M375.4 59.4l1.1 1.9h-2.2z" fill="none" stroke="#ff7070" stroke-width="0.5"/><path d="M377 59.6l1.1 1.9h-2.2z" fill="none" stroke="#ff7070" stroke-width="0.5"/><circle cx="268.2" cy="92.5" r="1.1" fill="none" stroke="#f070f0" stroke-width="0.5"/><circle cx="269.8" cy="88.5" r="1.1" fill="none" stroke="#f070f0" stroke-width="0.5"/><circle cx="271.4" cy="82.8" r="1.1" fill="none" stroke="#f070f0" stroke-width="0.5"/><circle cx="273" cy="76.2" r="1.1" fill="none" stroke="#f070f0" stroke-width="0.5"/><circle cx="274.6" cy="69.5" r="1.1" fill="none" stroke="#f070f0" stroke-width="0.5"/><circle cx="276.2" cy="63.3" r="1.1" fill="none" stroke="#f070f0" stroke-width="0.5"/><circle cx="277.8" cy="56.9" r="1.1" fill="none" stroke="#f070f0" stroke-width="0.5"/><circle cx="279.4" cy="50.7" r="1.1" fill="none" stroke="#f070f0" stroke-width="0.5"/><circle cx="281" cy="46.2" r="1.1" fill="none" stroke="#f070f0" stroke-width="0.5"/><circle cx="282.6" cy="45.8" r="1.1" fill="none" stroke="#f070f0" stroke-width="0.5"/><circle cx="284.2" cy="51.3" r="1.1" fill="none" stroke="#f070f0" stroke-width="0.5"/><circle cx="285.8" cy="60.3" r="1.1" fill="none" stroke="#f070f0" stroke-width="0.5"/><circle cx="287.4" cy="70" r="1.1" fill="none" stroke="#f070f0" stroke-width="0.5"/><circle cx="289" cy="76.7" r="1.1" fill="none" stroke="#f070f0" stroke-width="0.5"/><circle cx="290.6" cy="76.7" r="1.1" fill="none" stroke="#f070f0" stroke-width="0.5"/><circle cx="292.2" cy="75.6" r="1.1" fill="none" stroke="#f070f0" stroke-width="0.5"/><circle cx="293.8" cy="78" r="1.1" fill="none" stroke="#f070f0" stroke-width="0.5"/><circle cx="295.4" cy="85.3" r="1.1" fill="none" stroke="#f070f0" stroke-width="0.5"/><circle cx="297" cy="90.6" r="1.1" fill="none" stroke="#f070f0" stroke-width="0.5"/><circle cx="298.6" cy="92.8" r="1.1" fill="none" stroke="#f070f0" stroke-width="0.5"/><circle cx="300.2" cy="93.9" r="1.1" fill="none" stroke="#f070f0" stroke-width="0.5"/><circle cx="301.8" cy="94.5" r="1.1" fill="none" stroke="#f070f0" stroke-width="0.5"/><circle cx="303.4" cy="94.7" r="1.1" fill="none" stroke="#f070f0" stroke-width="0.5"/><circle cx="305" cy="94.8" r="1.1" fill="none" stroke="#f070f0" stroke-width="0.5"/><circle cx="306.6" cy="94.8" r="1.1" fill="none" stroke="#f070f0" stroke-width="0.5"/><circle cx="308.2" cy="94.5" r="1.1" fill="none" stroke="#f070f0" stroke-width="0.5"/><circle cx="309.8" cy="94.2" r="1.1" fill="none" stroke="#f070f0" stroke-width="0.5"/><circle cx="311.4" cy="94.6" r="1.1" fill="none" stroke="#f070f0" stroke-width="0.5"/><circle cx="313" cy="95" r="1.1" fill="none" stroke="#f070f0" stroke-width="0.5"/><circle cx="314.6" cy="95.1" r="1.1" fill="none" stroke="#f070f0" stroke-width="0.5"/><circle cx="316.2" cy="94.8" r="1.1" fill="none" stroke="#f070f0" stroke-width="0.5"/><circle cx="317.8" cy="94.5" r="1.1" fill="none" stroke="#f070f0" stroke-width="0.5"/><circle cx="319.4" cy="94.8" r="1.1" fill="none" stroke="#f070f0" stroke-width="0.5"/><circle cx="321" cy="95.1" r="1.1" fill="none" stroke="#f070f0" stroke-width="0.5"/><circle cx="322.6" cy="95.2" r="1.1" fill="none" stroke="#f070f0" stroke-width="0.5"/><circle cx="324.2" cy="95" r="1.1" fill="none" stroke="#f070f0" stroke-width="0.5"/><circle cx="325.8" cy="94.8" r="1.1" fill="none" stroke="#f070f0" stroke-width="0.5"/><circle cx="327.4" cy="94.7" r="1.1" fill="none" stroke="#f070f0" stroke-width="0.5"/><circle cx="329" cy="94.9" r="1.1" fill="none" stroke="#f070f0" stroke-width="0.5"/><circle cx="330.6" cy="95.1" r="1.1" fill="none" stroke="#f070f0" stroke-width="0.5"/><circle cx="332.2" cy="95.3" r="1.1" fill="none" stroke="#f070f0" stroke-width="0.5"/><circle cx="333.8" cy="95.1" r="1.1" fill="none" stroke="#f070f0" stroke-width="0.5"/><circle cx="335.4" cy="95" r="1.1" fill="none" stroke="#f070f0" stroke-width="0.5"/><circle cx="337" cy="94.8" r="1.1" fill="none" stroke="#f070f0" stroke-width="0.5"/><circle cx="338.6" cy="94.8" r="1.1" fill="none" stroke="#f070f0" stroke-width="0.5"/><circle cx="340.2" cy="94.9" r="1.1" fill="none" stroke="#f070f0" stroke-width="0.5"/><circle cx="341.8" cy="95.1" r="1.1" fill="none" stroke="#f070f0" stroke-width="0.5"/><circle cx="343.4" cy="95.2" r="1.1" fill="none" stroke="#f070f0" stroke-width="0.5"/><circle cx="345" cy="95.2" r="1.1" fill="none" stroke="#f070f0" stroke-width="0.5"/><circle cx="346.6" cy="95.1" r="1.1" fill="none" stroke="#f070f0" stroke-width="0.5"/><circle cx="348.2" cy="94.9" r="1.1" fill="none" stroke="#f070f0" stroke-width="0.5"/><circle cx="349.8" cy="94.8" r="1.1" fill="none" stroke="#f070f0" stroke-width="0.5"/><circle cx="351.4" cy="94.9" r="1.1" fill="none" stroke="#f070f0" stroke-width="0.5"/><circle cx="353" cy="95.1" r="1.1" fill="none" stroke="#f070f0" stroke-width="0.5"/><circle cx="354.6" cy="95.3" r="1.1" fill="none" stroke="#f070f0" stroke-width="0.5"/><circle cx="356.2" cy="95.4" r="1.1" fill="none" stroke="#f070f0" stroke-width="0.5"/><circle cx="357.8" cy="95.2" r="1.1" fill="none" stroke="#f070f0" stroke-width="0.5"/><circle cx="359.4" cy="95.1" r="1.1" fill="none" stroke="#f070f0" stroke-width="0.5"/><circle cx="361" cy="95" r="1.1" fill="none" stroke="#f070f0" stroke-width="0.5"/><circle cx="362.6" cy="95" r="1.1" fill="none" stroke="#f070f0" stroke-width="0.5"/><circle cx="364.2" cy="95.1" r="1.1" fill="none" stroke="#f070f0" stroke-width="0.5"/><circle cx="365.8" cy="95.2" r="1.1" fill="none" stroke="#f070f0" stroke-width="0.5"/><circle cx="367.4" cy="95.4" r="1.1" fill="none" stroke="#f070f0" stroke-width="0.5"/><circle cx="369" cy="95.3" r="1.1" fill="none" stroke="#f070f0" stroke-width="0.5"/><circle cx="370.6" cy="95.2" r="1.1" fill="none" stroke="#f070f0" stroke-width="0.5"/><circle cx="372.2" cy="95.1" r="1.1" fill="none" stroke="#f070f0" stroke-width="0.5"/><circle cx="373.8" cy="95" r="1.1" fill="none" stroke="#f070f0" stroke-width="0.5"/><circle cx="375.4" cy="95.1" r="1.1" fill="none" stroke="#f070f0" stroke-width="0.5"/><circle cx="377" cy="95.2" r="1.1" fill="none" stroke="#f070f0" stroke-width="0.5"/><circle cx="268.2" cy="111.4" r="1.1" fill="none" stroke="#e060c0" stroke-width="0.5"/><circle cx="269.8" cy="112.4" r="1.1" fill="none" stroke="#e060c0" stroke-width="0.5"/><circle cx="271.4" cy="110.5" r="1.1" fill="none" stroke="#e060c0" stroke-width="0.5"/><circle cx="273" cy="107.2" r="1.1" fill="none" stroke="#e060c0" stroke-width="0.5"/><circle cx="274.6" cy="101.3" r="1.1" fill="none" stroke="#e060c0" stroke-width="0.5"/><circle cx="276.2" cy="93.7" r="1.1" fill="none" stroke="#e060c0" stroke-width="0.5"/><circle cx="277.8" cy="85.2" r="1.1" fill="none" stroke="#e060c0" stroke-width="0.5"/><circle cx="279.4" cy="76.7" r="1.1" fill="none" stroke="#e060c0" stroke-width="0.5"/><circle cx="281" cy="71.2" r="1.1" fill="none" stroke="#e060c0" stroke-width="0.5"/><circle cx="282.6" cy="71" r="1.1" fill="none" stroke="#e060c0" stroke-width="0.5"/><circle cx="284.2" cy="77.5" r="1.1" fill="none" stroke="#e060c0" stroke-width="0.5"/><circle cx="285.8" cy="89.4" r="1.1" fill="none" stroke="#e060c0" stroke-width="0.5"/><circle cx="287.4" cy="104.1" r="1.1" fill="none" stroke="#e060c0" stroke-width="0.5"/><circle cx="289" cy="105.8" r="1.1" fill="none" stroke="#e060c0" stroke-width="0.5"/><circle cx="290.6" cy="93.3" r="1.1" fill="none" stroke="#e060c0" stroke-width="0.5"/><circle cx="292.2" cy="88.7" r="1.1" fill="none" stroke="#e060c0" stroke-width="0.5"/><circle cx="293.8" cy="95.2" r="1.1" fill="none" stroke="#e060c0" stroke-width="0.5"/><circle cx="295.4" cy="106.4" r="1.1" fill="none" stroke="#e060c0" stroke-width="0.5"/><circle cx="297" cy="115.7" r="1.1" fill="none" stroke="#e060c0" stroke-width="0.5"/><circle cx="298.6" cy="115.6" r="1.1" fill="none" stroke="#e060c0" stroke-width="0.5"/><circle cx="300.2" cy="115.4" r="1.1" fill="none" stroke="#e060c0" stroke-width="0.5"/><circle cx="301.8" cy="117.1" r="1.1" fill="none" stroke="#e060c0" stroke-width="0.5"/><circle cx="303.4" cy="117.9" r="1.1" fill="none" stroke="#e060c0" stroke-width="0.5"/><circle cx="305" cy="117.4" r="1.1" fill="none" stroke="#e060c0" stroke-width="0.5"/><circle cx="306.6" cy="117.5" r="1.1" fill="none" stroke="#e060c0" stroke-width="0.5"/><circle cx="308.2" cy="117.9" r="1.1" fill="none" stroke="#e060c0" stroke-width="0.5"/><circle cx="309.8" cy="118.3" r="1.1" fill="none" stroke="#e060c0" stroke-width="0.5"/><circle cx="311.4" cy="118" r="1.1" fill="none" stroke="#e060c0" stroke-width="0.5"/><circle cx="313" cy="117.6" r="1.1" fill="none" stroke="#e060c0" stroke-width="0.5"/><circle cx="314.6" cy="118.1" r="1.1" fill="none" stroke="#e060c0" stroke-width="0.5"/><circle cx="316.2" cy="118.6" r="1.1" fill="none" stroke="#e060c0" stroke-width="0.5"/><circle cx="317.8" cy="118.2" r="1.1" fill="none" stroke="#e060c0" stroke-width="0.5"/><circle cx="319.4" cy="117.9" r="1.1" fill="none" stroke="#e060c0" stroke-width="0.5"/><circle cx="321" cy="118" r="1.1" fill="none" stroke="#e060c0" stroke-width="0.5"/><circle cx="322.6" cy="118.3" r="1.1" fill="none" stroke="#e060c0" stroke-width="0.5"/><circle cx="324.2" cy="118.6" r="1.1" fill="none" stroke="#e060c0" stroke-width="0.5"/><circle cx="325.8" cy="118.2" r="1.1" fill="none" stroke="#e060c0" stroke-width="0.5"/><circle cx="327.4" cy="117.9" r="1.1" fill="none" stroke="#e060c0" stroke-width="0.5"/><circle cx="329" cy="118" r="1.1" fill="none" stroke="#e060c0" stroke-width="0.5"/><circle cx="330.6" cy="118.3" r="1.1" fill="none" stroke="#e060c0" stroke-width="0.5"/><circle cx="332.2" cy="118.5" r="1.1" fill="none" stroke="#e060c0" stroke-width="0.5"/><circle cx="333.8" cy="118.2" r="1.1" fill="none" stroke="#e060c0" stroke-width="0.5"/><circle cx="335.4" cy="117.9" r="1.1" fill="none" stroke="#e060c0" stroke-width="0.5"/><circle cx="337" cy="118" r="1.1" fill="none" stroke="#e060c0" stroke-width="0.5"/><circle cx="338.6" cy="118.3" r="1.1" fill="none" stroke="#e060c0" stroke-width="0.5"/><circle cx="340.2" cy="118.6" r="1.1" fill="none" stroke="#e060c0" stroke-width="0.5"/><circle cx="341.8" cy="118.3" r="1.1" fill="none" stroke="#e060c0" stroke-width="0.5"/><circle cx="343.4" cy="118.1" r="1.1" fill="none" stroke="#e060c0" stroke-width="0.5"/><circle cx="345" cy="117.9" r="1.1" fill="none" stroke="#e060c0" stroke-width="0.5"/><circle cx="346.6" cy="118.1" r="1.1" fill="none" stroke="#e060c0" stroke-width="0.5"/><circle cx="348.2" cy="118.3" r="1.1" fill="none" stroke="#e060c0" stroke-width="0.5"/><circle cx="349.8" cy="118.6" r="1.1" fill="none" stroke="#e060c0" stroke-width="0.5"/><circle cx="351.4" cy="118.4" r="1.1" fill="none" stroke="#e060c0" stroke-width="0.5"/><circle cx="353" cy="118.2" r="1.1" fill="none" stroke="#e060c0" stroke-width="0.5"/><circle cx="354.6" cy="118" r="1.1" fill="none" stroke="#e060c0" stroke-width="0.5"/><circle cx="356.2" cy="118.1" r="1.1" fill="none" stroke="#e060c0" stroke-width="0.5"/><circle cx="357.8" cy="118.3" r="1.1" fill="none" stroke="#e060c0" stroke-width="0.5"/><circle cx="359.4" cy="118.5" r="1.1" fill="none" stroke="#e060c0" stroke-width="0.5"/><circle cx="361" cy="118.5" r="1.1" fill="none" stroke="#e060c0" stroke-width="0.5"/><circle cx="362.6" cy="118.3" r="1.1" fill="none" stroke="#e060c0" stroke-width="0.5"/><circle cx="364.2" cy="118.1" r="1.1" fill="none" stroke="#e060c0" stroke-width="0.5"/><circle cx="365.8" cy="118.1" r="1.1" fill="none" stroke="#e060c0" stroke-width="0.5"/><circle cx="367.4" cy="118.3" r="1.1" fill="none" stroke="#e060c0" stroke-width="0.5"/><circle cx="369" cy="118.5" r="1.1" fill="none" stroke="#e060c0" stroke-width="0.5"/><circle cx="370.6" cy="118.5" r="1.1" fill="none" stroke="#e060c0" stroke-width="0.5"/><circle cx="372.2" cy="118.3" r="1.1" fill="none" stroke="#e060c0" stroke-width="0.5"/><circle cx="373.8" cy="118" r="1.1" fill="none" stroke="#e060c0" stroke-width="0.5"/><circle cx="375.4" cy="118.1" r="1.1" fill="none" stroke="#e060c0" stroke-width="0.5"/><circle cx="377" cy="118.3" r="1.1" fill="none" stroke="#e060c0" stroke-width="0.5"/><path d="M268.2 61.4 C268.6 60.7 269.8 58.5 270.5 57 C271.2 55.5 271.7 54.1 272.4 52.3 C273.1 50.5 273.8 48.5 274.5 46 C275.2 43.5 275.9 40.2 276.5 37.5 C277.1 34.8 277.7 32.4 278.2 30 C278.7 27.6 279 25.3 279.5 23 C280 20.7 280.5 17.7 281 16 C281.5 14.3 281.9 13 282.3 12.9 C282.7 12.8 283.2 14 283.6 15.5 C284.1 17 284.5 19.6 285 22 C285.5 24.4 286 27.4 286.4 30 C286.8 32.6 287.1 35 287.5 37.5 C287.9 40 288.2 42.8 288.6 45 C289 47.2 289.3 50.1 289.7 50.8 C290.1 51.5 290.5 49.9 291 49 C291.5 48.1 292 46.3 292.5 45.5 C293 44.7 293.3 44 293.8 44.3 C294.3 44.6 294.8 45.8 295.3 47.5 C295.8 49.2 296.5 52.6 297 54.5 C297.5 56.4 297.9 57.8 298.5 58.8 C299.1 59.8 300.1 60.2 300.8 60.6 C301.6 61 302.1 61.4 303 61.4 C303.9 61.4 305.1 60.5 306 60.6 C306.9 60.7 307.7 61.7 308.5 61.8 C309.3 61.9 310.1 61 311 61 C311.9 61 313 61.9 314 61.9 C315 61.9 316 61 317 61 C318 61 319 62 320 62 C321 62 322 61.2 323 61.2 C324 61.2 324.8 62 326 62 C327.2 62 328.7 61.3 330 61.3 C331.3 61.3 332.7 62.1 334 62.1 C335.3 62.1 336.7 61.4 338 61.4 C339.3 61.4 340.7 62.1 342 62.1 C343.3 62.1 344.7 61.4 346 61.4 C347.3 61.4 348.5 62.1 350 62.1 C351.5 62.1 353.3 61.5 355 61.5 C356.7 61.5 358.3 62.1 360 62.1 C361.7 62.1 363.3 61.5 365 61.5 C366.7 61.5 368.5 62.1 370 62.1 C371.5 62.1 372.7 61.6 374 61.6 C375.3 61.6 377.3 61.9 378 62" fill="none" stroke="#ff2a2a" stroke-width="1.45"/><path d="M268.2 93.5 C268.4 92.9 269.2 91.1 269.7 89.8 C270.2 88.5 270.6 87 271 85.5 C271.4 84 271.8 82.2 272.2 80.5 C272.6 78.8 273 77.2 273.4 75.5 C273.8 73.8 274.2 72.2 274.6 70.5 C275 68.8 275.5 67.1 275.9 65.5 C276.3 63.9 276.7 62.5 277.1 60.8 C277.5 59.1 278 57.1 278.4 55.5 C278.8 53.9 279.2 52.2 279.6 51 C280 49.8 280.2 48.8 280.5 48 C280.8 47.2 281.2 46.7 281.5 46.5 C281.8 46.3 282.2 46.2 282.5 46.6 C282.8 47 283.1 47.4 283.5 49 C283.9 50.6 284.5 53.2 285 56 C285.5 58.8 286 62.8 286.5 66 C287 69.2 287.7 73.3 288.2 75.5 C288.7 77.7 289.1 78.7 289.5 79 C289.9 79.3 290.3 77.9 290.8 77.5 C291.3 77.1 291.8 76.2 292.3 76.5 C292.8 76.8 293.3 77.4 293.8 79 C294.3 80.6 294.7 83.8 295.3 86 C295.9 88.2 296.5 90.9 297.2 92.3 C297.9 93.7 298.5 94 299.3 94.6 C300.1 95.1 300.9 95.4 302 95.6 C303.1 95.8 304.7 96 306 95.9 C307.3 95.8 308.7 95.2 310 95.2 C311.3 95.2 312.7 96.2 314 96.2 C315.3 96.2 316.7 95.5 318 95.5 C319.3 95.5 320.5 96.3 322 96.3 C323.5 96.3 325.3 95.6 327 95.6 C328.7 95.6 330.2 96.3 332 96.3 C333.8 96.3 336 95.7 338 95.7 C340 95.7 342 96.3 344 96.3 C346 96.3 348 95.8 350 95.8 C352 95.8 354 96.4 356 96.4 C358 96.4 360 95.9 362 95.9 C364 95.9 366.2 96.4 368 96.4 C369.8 96.4 371.3 96 373 96 C374.7 96 377.2 96.2 378 96.2" fill="none" stroke="#f8a0f0" stroke-width="0.7" transform="translate(-1.3 0.3)"/><path d="M268.2 93.5 C268.4 92.9 269.2 91.1 269.7 89.8 C270.2 88.5 270.6 87 271 85.5 C271.4 84 271.8 82.2 272.2 80.5 C272.6 78.8 273 77.2 273.4 75.5 C273.8 73.8 274.2 72.2 274.6 70.5 C275 68.8 275.5 67.1 275.9 65.5 C276.3 63.9 276.7 62.5 277.1 60.8 C277.5 59.1 278 57.1 278.4 55.5 C278.8 53.9 279.2 52.2 279.6 51 C280 49.8 280.2 48.8 280.5 48 C280.8 47.2 281.2 46.7 281.5 46.5 C281.8 46.3 282.2 46.2 282.5 46.6 C282.8 47 283.1 47.4 283.5 49 C283.9 50.6 284.5 53.2 285 56 C285.5 58.8 286 62.8 286.5 66 C287 69.2 287.7 73.3 288.2 75.5 C288.7 77.7 289.1 78.7 289.5 79 C289.9 79.3 290.3 77.9 290.8 77.5 C291.3 77.1 291.8 76.2 292.3 76.5 C292.8 76.8 293.3 77.4 293.8 79 C294.3 80.6 294.7 83.8 295.3 86 C295.9 88.2 296.5 90.9 297.2 92.3 C297.9 93.7 298.5 94 299.3 94.6 C300.1 95.1 300.9 95.4 302 95.6 C303.1 95.8 304.7 96 306 95.9 C307.3 95.8 308.7 95.2 310 95.2 C311.3 95.2 312.7 96.2 314 96.2 C315.3 96.2 316.7 95.5 318 95.5 C319.3 95.5 320.5 96.3 322 96.3 C323.5 96.3 325.3 95.6 327 95.6 C328.7 95.6 330.2 96.3 332 96.3 C333.8 96.3 336 95.7 338 95.7 C340 95.7 342 96.3 344 96.3 C346 96.3 348 95.8 350 95.8 C352 95.8 354 96.4 356 96.4 C358 96.4 360 95.9 362 95.9 C364 95.9 366.2 96.4 368 96.4 C369.8 96.4 371.3 96 373 96 C374.7 96 377.2 96.2 378 96.2" fill="none" stroke="#f8a0f0" stroke-width="0.7" transform="translate(1.1 0.3)"/><path d="M268.2 93.5 C268.4 92.9 269.2 91.1 269.7 89.8 C270.2 88.5 270.6 87 271 85.5 C271.4 84 271.8 82.2 272.2 80.5 C272.6 78.8 273 77.2 273.4 75.5 C273.8 73.8 274.2 72.2 274.6 70.5 C275 68.8 275.5 67.1 275.9 65.5 C276.3 63.9 276.7 62.5 277.1 60.8 C277.5 59.1 278 57.1 278.4 55.5 C278.8 53.9 279.2 52.2 279.6 51 C280 49.8 280.2 48.8 280.5 48 C280.8 47.2 281.2 46.7 281.5 46.5 C281.8 46.3 282.2 46.2 282.5 46.6 C282.8 47 283.1 47.4 283.5 49 C283.9 50.6 284.5 53.2 285 56 C285.5 58.8 286 62.8 286.5 66 C287 69.2 287.7 73.3 288.2 75.5 C288.7 77.7 289.1 78.7 289.5 79 C289.9 79.3 290.3 77.9 290.8 77.5 C291.3 77.1 291.8 76.2 292.3 76.5 C292.8 76.8 293.3 77.4 293.8 79 C294.3 80.6 294.7 83.8 295.3 86 C295.9 88.2 296.5 90.9 297.2 92.3 C297.9 93.7 298.5 94 299.3 94.6 C300.1 95.1 300.9 95.4 302 95.6 C303.1 95.8 304.7 96 306 95.9 C307.3 95.8 308.7 95.2 310 95.2 C311.3 95.2 312.7 96.2 314 96.2 C315.3 96.2 316.7 95.5 318 95.5 C319.3 95.5 320.5 96.3 322 96.3 C323.5 96.3 325.3 95.6 327 95.6 C328.7 95.6 330.2 96.3 332 96.3 C333.8 96.3 336 95.7 338 95.7 C340 95.7 342 96.3 344 96.3 C346 96.3 348 95.8 350 95.8 C352 95.8 354 96.4 356 96.4 C358 96.4 360 95.9 362 95.9 C364 95.9 366.2 96.4 368 96.4 C369.8 96.4 371.3 96 373 96 C374.7 96 377.2 96.2 378 96.2" fill="none" stroke="#f050f0" stroke-width="1.2" stroke-dasharray="1.4 0.7"/><path d="M268.2 112 C268.4 112.2 269.1 113.3 269.7 113.1 C270.2 112.9 270.9 112 271.5 111 C272.1 110 272.8 109 273.4 107 C274 105 274.7 101.9 275.3 99 C275.9 96.1 276.5 93 277.1 89.7 C277.7 86.4 278.4 81.9 279 79 C279.6 76.1 280 73.9 280.5 72.5 C281 71.1 281.5 70.3 282 70.4 C282.5 70.5 282.9 71.4 283.3 73 C283.7 74.6 284.1 77 284.5 79.8 C284.9 82.6 285.4 86.3 285.8 90 C286.2 93.7 286.6 98.6 287 102 C287.4 105.4 287.8 109.9 288.2 110.2 C288.6 110.5 289.1 106.9 289.5 104 C289.9 101.1 290.3 95.6 290.7 93 C291.1 90.4 291.5 88.7 291.9 88.5 C292.3 88.3 292.8 90.2 293.2 92 C293.6 93.8 294 97.1 294.4 99.6 C294.8 102.1 295.1 104.3 295.4 107 C295.7 109.7 295.8 113.9 296.2 115.5 C296.6 117.1 296.9 116.8 297.5 116.8 C298.1 116.8 299.2 115.5 299.9 115.6 C300.6 115.7 300.9 117 301.5 117.5 C302.1 118 302.6 118.5 303.2 118.6 C303.8 118.7 304.3 118.1 305 118 C305.7 117.9 306.5 118 307.3 118.2 C308.1 118.4 309.1 119 310 119 C310.9 119 312 118.2 313 118.2 C314 118.2 314.8 119.2 316 119.2 C317.2 119.2 318.7 118.4 320 118.4 C321.3 118.4 322.7 119.2 324 119.2 C325.3 119.2 326.7 118.4 328 118.4 C329.3 118.4 330.7 119.1 332 119.1 C333.3 119.1 334.7 118.4 336 118.4 C337.3 118.4 338.5 119.2 340 119.2 C341.5 119.2 343.3 118.5 345 118.5 C346.7 118.5 348.3 119.2 350 119.2 C351.7 119.2 353.3 118.5 355 118.5 C356.7 118.5 358.3 119.2 360 119.2 C361.7 119.2 363.3 118.6 365 118.6 C366.7 118.6 368.5 119.2 370 119.2 C371.5 119.2 372.7 118.6 374 118.6 C375.3 118.6 377.3 118.9 378 119" fill="none" stroke="#c0109a" stroke-width="1.45"/><rect x="267.8" y="5.5" width="110.4" height="116.8" fill="none" stroke="#777" stroke-width="0.9"/><text x="268" y="10.4" font-size="8.0" text-anchor="start" font-weight="bold" fill="#111" font-family="Liberation Sans, sans-serif" >(C)</text><text x="376.3" y="54.9" font-size="5.1" text-anchor="end" font-weight="normal" fill="#ff3030" font-family="Liberation Serif, serif" >AO/g-C<tspan font-size="3.4" dy="1.2">3</tspan><tspan dy="-1.2">N</tspan><tspan font-size="3.4" dy="1.2">4</tspan><tspan dy="-1.2"> at pH 6.0</tspan></text><text x="374.5" y="89.8" font-size="5.0" text-anchor="end" font-weight="normal" fill="#e840e8" font-family="Liberation Serif, serif" >AO/g-C<tspan font-size="3.4" dy="1.2">3</tspan><tspan dy="-1.2">N</tspan><tspan font-size="3.4" dy="1.2">4</tspan><tspan dy="-1.2"> at pH 4.0</tspan></text><text x="362.6" y="113.4" font-size="5.4" text-anchor="start" font-weight="normal" fill="#ff3030" font-family="Liberation Serif, serif" >UO<tspan font-size="3.4" dy="1.2">2</tspan><tspan font-size="3.4" dy="-3.6">2+</tspan></text><line x1="277.5" y1="122.3" x2="277.5" y2="120.8" stroke="#777" stroke-width="0.6"/><text x="277.5" y="131" font-size="5.0" text-anchor="middle" font-weight="normal" fill="#333" font-family="Liberation Serif, serif" >1</text><line x1="286.6" y1="122.3" x2="286.6" y2="121.4" stroke="#777" stroke-width="0.5"/><line x1="295.8" y1="122.3" x2="295.8" y2="120.8" stroke="#777" stroke-width="0.6"/><text x="295.8" y="131" font-size="5.0" text-anchor="middle" font-weight="normal" fill="#333" font-family="Liberation Serif, serif" >2</text><line x1="304.9" y1="122.3" x2="304.9" y2="121.4" stroke="#777" stroke-width="0.5"/><line x1="314.1" y1="122.3" x2="314.1" y2="120.8" stroke="#777" stroke-width="0.6"/><text x="314.1" y="131" font-size="5.0" text-anchor="middle" font-weight="normal" fill="#333" font-family="Liberation Serif, serif" >3</text><line x1="323.2" y1="122.3" x2="323.2" y2="121.4" stroke="#777" stroke-width="0.5"/><line x1="332.4" y1="122.3" x2="332.4" y2="120.8" stroke="#777" stroke-width="0.6"/><text x="332.4" y="131" font-size="5.0" text-anchor="middle" font-weight="normal" fill="#333" font-family="Liberation Serif, serif" >4</text><line x1="341.5" y1="122.3" x2="341.5" y2="121.4" stroke="#777" stroke-width="0.5"/><line x1="350.7" y1="122.3" x2="350.7" y2="120.8" stroke="#777" stroke-width="0.6"/><text x="350.7" y="131" font-size="5.0" text-anchor="middle" font-weight="normal" fill="#333" font-family="Liberation Serif, serif" >5</text><line x1="359.8" y1="122.3" x2="359.8" y2="121.4" stroke="#777" stroke-width="0.5"/><line x1="369" y1="122.3" x2="369" y2="120.8" stroke="#777" stroke-width="0.6"/><text x="369" y="131" font-size="5.0" text-anchor="middle" font-weight="normal" fill="#333" font-family="Liberation Serif, serif" >6</text><text x="321.7" y="136.7" font-size="5.0" text-anchor="middle" font-weight="normal" fill="#444" font-family="Liberation Serif, serif" >R(Å)</text><text transform="translate(266.4 67.5) rotate(-90)" font-size="6.9" text-anchor="middle" font-weight="normal" fill="#555" font-family="Liberation Serif, serif">FT(k<tspan font-size="4.4" dy="-2.2">3</tspan><tspan dy="2.2">χ)</tspan></text><rect x="429.5" y="6.5" width="9.1" height="114.1" fill="#efefef"/><line x1="429.5" y1="6.5" x2="429.5" y2="120.6" stroke="#bbb" stroke-width="0.7" stroke-dasharray="2 1.5"/><line x1="438.6" y1="6.5" x2="438.6" y2="120.6" stroke="#bbb" stroke-width="0.7" stroke-dasharray="2 1.5"/><rect x="485.5" y="6.5" width="10.9" height="114.1" fill="#efefef"/><line x1="485.5" y1="6.5" x2="485.5" y2="120.6" stroke="#bbb" stroke-width="0.7" stroke-dasharray="2 1.5"/><line x1="496.4" y1="6.5" x2="496.4" y2="120.6" stroke="#bbb" stroke-width="0.7" stroke-dasharray="2 1.5"/><path d="M402.6 120.3 L403.3 103 L404.6 94.3 L405.8 105.9 L406.6 109.4 L407.6 108.8 L408.9 115.8 L410.2 117.7 L411.7 112.6 L413 117.7 L414.2 112 L415.5 108.2 L416.8 114.5 L418.1 117.7 L419.3 112.6 L420.6 116.4 L421.9 119 L423.2 115.5 L424.4 101.6 L425.4 88.6 L426.5 101.6 L427.5 104.3 L428.5 100.5 L429.6 99.2 L430.6 106.9 L431.6 103 L432.6 109.4 L433.6 115.8 L434.7 119 L435.7 112 L436.9 105.6 L438.2 96.7 L439.2 103 L440.3 112 L441.5 115.8 L442.8 108.2 L444.1 114.5 L445.4 110 L446.6 115.8 L447.9 103.7 L449.2 110 L450.5 115.8 L451.7 106.9 L453 110.7 L454.3 115.8 L455.6 106.9 L456.8 86.7 L457.6 79.5 L458.3 95.1 L459.1 109.8 L459.4 115.5 L460.7 113.2 L461.9 99.8 L463.2 110.7 L464.5 115.8 L465.8 107.5 L467 104.3 L468.3 115.8 L469.6 120.3 L472 120.3 L476.6 120.3 L478.1 112.8 L479.6 104.3 L480.3 110.3 L481.1 115.8 L482 112.3 L482.9 109.4 L484.7 108.8 L485.8 109.8 L486.8 110.7 L487.8 113.3 L488.8 115.8 L489.7 110.8 L490.6 107.5 L492.4 108.2 L493.4 109.8 L494.4 112 L495.7 115.8 L496.7 107.8 L497.7 101.8 L498.6 107.8 L499.5 113.3 L500.2 117.3 L500.8 120.3 L505 120.3 L505.7 115.3 L506.4 112.6 L507.2 116.3 L507.9 120.3 L512.6 120.2 L513.7 117.8 L514.7 116.4 L515.7 118.3 L517.2 115.1 L518.2 110.7 L519.5 105.5 L520.8 99.2 L522.3 102.4 L523.3 107.5 L524.3 109.4 L525.4 104.9 L526.6 104.3 L527.9 108.1 L529.2 112.5 L530.4 115.8 L531.7 116.4 L533 111.9 L534.3 104.3 L535 99.8 L536 104.9 L537.3 115.8 L538.6 113.2 L539.6 117 L540.6 119.5 L542 120.2 L546.3 120.3" fill="none" stroke="#f8a8ec" stroke-width="0.9"/><path d="M402.6 120 L403.3 85.5 L404.6 58 L405.8 85.5 L406.6 98.3 L407.6 97 L408.9 111 L410.2 114.8 L411.7 104.6 L413 114.8 L414.2 103.4 L415.5 95.7 L416.8 108.5 L418.1 114.8 L419.3 104.6 L420.6 112.3 L421.9 117.4 L423.2 108.5 L424.4 75.3 L425.4 44.5 L426.5 75.3 L427.5 88 L428.5 80.4 L429.6 77.9 L430.6 93.2 L431.6 85.5 L432.6 98.3 L433.6 111 L434.7 117.4 L435.7 103.4 L436.9 90.6 L438.2 72.8 L439.2 85.5 L440.3 103.4 L441.5 111 L442.8 95.7 L444.1 108.5 L445.4 99.5 L446.6 111 L447.9 86.8 L449.2 99.5 L450.5 111 L451.7 93.2 L453 100.8 L454.3 111 L455.6 88 L456.8 40 L457.6 22.8 L458.3 60 L459.1 95 L459.4 108.5 L460.7 105.9 L461.9 79.1 L463.2 100.8 L464.5 111 L465.8 94.4 L467 88 L468.3 111 L469.6 120 L472 120 L476.6 120 L478.1 105 L479.6 88 L480.3 100 L481.1 111 L482 104 L482.9 98.3 L484.7 97 L485.8 99 L486.8 100.8 L487.8 106 L488.8 111 L489.7 101 L490.6 94.4 L492.4 95.7 L493.4 99 L494.4 103.4 L495.7 111 L496.7 95 L497.7 83 L498.6 95 L499.5 106 L500.2 114 L500.8 120 L505 120 L505.7 110 L506.4 104.6 L507.2 112 L507.9 120 L512.6 119.8 L513.7 115 L514.7 112.2 L515.7 116 L517.2 109.6 L518.2 100.7 L519.5 90.5 L520.8 77.8 L522.3 84.2 L523.3 94.4 L524.3 98.2 L525.4 89.3 L526.6 88 L527.9 95.6 L529.2 104.5 L530.4 110.9 L531.7 112.2 L533 103.3 L534.3 88 L535 79.1 L536 89.3 L537.3 110.9 L538.6 105.8 L539.6 113.4 L540.6 118.5 L542 119.8 L546.3 120" fill="none" stroke="#555" stroke-width="0.85"/><path d="M402.6 120.4 L428 120.4 L430 119 L431.3 114 L432.4 110.5 L433.4 115 L434.3 110 L435.3 115 L436.4 119.6 L445 120.2 L449 119.6 L450.4 117.5 L451.5 119.8 L470 120.4 L484 120.2 L485.5 117 L486.8 114.8 L488 119 L490 117 L491.3 112.3 L492.5 119.5 L505.5 119.5 L506.7 111 L507.6 119.5 L520 120.3 L546.3 120.4" fill="none" stroke="#18b8b8" stroke-width="1.0"/><path d="M402.5 6.5 H546.4 V120.6 H402.5 Z" fill="none" stroke="#888" stroke-width="0.9"/><line x1="402.5" y1="120.6" x2="546.4" y2="120.6" stroke="#20b8b8" stroke-width="0.9"/><line x1="401.3" y1="6.5" x2="402.5" y2="6.5" stroke="#888" stroke-width="0.6"/><text x="400.6" y="8" font-size="4.3" text-anchor="end" font-weight="normal" fill="#444" font-family="Liberation Sans, sans-serif" >200</text><line x1="401.3" y1="35" x2="402.5" y2="35" stroke="#888" stroke-width="0.6"/><text x="400.6" y="36.5" font-size="4.3" text-anchor="end" font-weight="normal" fill="#444" font-family="Liberation Sans, sans-serif" >150</text><line x1="401.3" y1="63.5" x2="402.5" y2="63.5" stroke="#888" stroke-width="0.6"/><text x="400.6" y="65" font-size="4.3" text-anchor="end" font-weight="normal" fill="#444" font-family="Liberation Sans, sans-serif" >100</text><line x1="401.3" y1="92.1" x2="402.5" y2="92.1" stroke="#888" stroke-width="0.6"/><text x="400.6" y="93.6" font-size="4.3" text-anchor="end" font-weight="normal" fill="#444" font-family="Liberation Sans, sans-serif" >50</text><line x1="401.3" y1="120.6" x2="402.5" y2="120.6" stroke="#888" stroke-width="0.6"/><text x="400.6" y="122.1" font-size="4.3" text-anchor="end" font-weight="normal" fill="#444" font-family="Liberation Sans, sans-serif" >0</text><line x1="413.6" y1="120.6" x2="413.6" y2="121.8" stroke="#888" stroke-width="0.6"/><text x="413.6" y="127.9" font-size="4.7" text-anchor="middle" font-weight="normal" fill="#333" font-family="Liberation Sans, sans-serif" >-6</text><line x1="435.8" y1="120.6" x2="435.8" y2="121.8" stroke="#888" stroke-width="0.6"/><text x="435.8" y="127.9" font-size="4.7" text-anchor="middle" font-weight="normal" fill="#333" font-family="Liberation Sans, sans-serif" >-4</text><line x1="457.9" y1="120.6" x2="457.9" y2="121.8" stroke="#888" stroke-width="0.6"/><text x="457.9" y="127.9" font-size="4.7" text-anchor="middle" font-weight="normal" fill="#333" font-family="Liberation Sans, sans-serif" >-2</text><line x1="480" y1="120.6" x2="480" y2="121.8" stroke="#888" stroke-width="0.6"/><text x="480" y="127.9" font-size="4.7" text-anchor="middle" font-weight="normal" fill="#333" font-family="Liberation Sans, sans-serif" >0</text><line x1="502.1" y1="120.6" x2="502.1" y2="121.8" stroke="#888" stroke-width="0.6"/><text x="502.1" y="127.9" font-size="4.7" text-anchor="middle" font-weight="normal" fill="#333" font-family="Liberation Sans, sans-serif" >2</text><line x1="524.2" y1="120.6" x2="524.2" y2="121.8" stroke="#888" stroke-width="0.6"/><text x="524.2" y="127.9" font-size="4.7" text-anchor="middle" font-weight="normal" fill="#333" font-family="Liberation Sans, sans-serif" >4</text><line x1="546.4" y1="120.6" x2="546.4" y2="121.8" stroke="#888" stroke-width="0.6"/><text x="546.4" y="127.9" font-size="4.7" text-anchor="middle" font-weight="normal" fill="#333" font-family="Liberation Sans, sans-serif" >6</text><text x="379.5" y="11.5" font-size="7.9" text-anchor="start" font-weight="bold" fill="#111" font-family="Liberation Sans, sans-serif" >(D)</text><text transform="translate(384.6 58.5) rotate(-90)" font-size="4.8" text-anchor="middle" font-weight="normal" fill="#444" font-family="Liberation Sans, sans-serif">Density-of-state</text><text x="463.5" y="137.2" font-size="5.5" text-anchor="start" font-weight="normal" fill="#333" font-family="Liberation Sans, sans-serif" >E-E<tspan font-size="3.4" dy="1.1">f</tspan><tspan dy="-1.1"> (eV)</tspan></text><line x1="499.9" y1="12.4" x2="511.6" y2="12.4" stroke="#666" stroke-width="0.8"/><line x1="499.9" y1="19.2" x2="511.6" y2="19.2" stroke="#ffb8f0" stroke-width="1"/><line x1="499.9" y1="28.2" x2="511.6" y2="28.2" stroke="#20c8c8" stroke-width="1"/><text x="513.2" y="14.2" font-size="5" text-anchor="start" font-weight="normal" fill="#333" font-family="Liberation Sans, sans-serif" >TDOS</text><text x="513.2" y="21" font-size="4.8" text-anchor="start" font-weight="normal" fill="#333" font-family="Liberation Sans, sans-serif" >PDOS-C<tspan font-size="3" dy="1">3</tspan><tspan dy="-1">N</tspan><tspan font-size="3" dy="1">4</tspan></text><text x="513.2" y="30" font-size="4.8" text-anchor="start" font-weight="normal" fill="#333" font-family="Liberation Sans, sans-serif" >PDOS-UO<tspan font-size="3" dy="1">2</tspan><tspan font-size="3" dy="-4">2+</tspan></text><clipPath id="cbE"><rect x="26.8" y="141.8" width="75.1" height="89.2"/></clipPath><clipPath id="cdE"><rect x="105.3" y="141.8" width="37.9" height="89.2"/></clipPath><path d="M26.8 230.8H101.9M105.3 230.8H143.2M26.8 222.4H101.9M105.3 222.4H143.2M26.8 214H101.9M105.3 214H143.2M26.8 205.6H101.9M105.3 205.6H143.2M26.8 197.1H101.9M105.3 197.1H143.2M26.8 180.3H101.9M105.3 180.3H143.2M26.8 171.8H101.9M105.3 171.8H143.2M26.8 163.4H101.9M105.3 163.4H143.2M26.8 155H101.9M105.3 155H143.2M26.8 146.5H101.9M105.3 146.5H143.2M54.8 141.8V231M71 141.8V231M114 141.8V231M122.7 141.8V231M131.4 141.8V231M140.1 141.8V231" stroke="#c4c4c4" stroke-width="0.6" fill="none"/><g clip-path="url(#cbE)" fill="none"><path d="M26.8 211.5 L28.4 211.5 L29.9 211.4 L31.5 211.4 L33 211.3 L34.6 211.2 L36.1 211.1 L37.7 211 L39.2 210.9 L40.8 210.8 L42.4 210.7 L43.9 210.6 L45.5 210.5 L47 210.4 L48.6 210.4 L50.1 210.3 L51.7 210.2 L53.2 210.2 L54.8 210.1 L56.4 210.8 L58 211.8 L59.7 213 L61.3 214.4 L62.9 215.9 L64.5 217.4 L66.1 218.8 L67.8 220.1 L69.4 221 L71 221.7 L72.5 221.7 L74.1 221.7 L75.6 221.6 L77.2 221.6 L78.7 221.6 L80.3 221.5 L81.8 221.5 L83.4 221.5 L84.9 221.4 L86.5 221.4 L88 221.3 L89.5 221.3 L91.1 221.2 L92.6 221.2 L94.2 221.2 L95.7 221.1 L97.3 221.1 L98.8 221.1 L100.4 221 L101.9 221" stroke="#d81850" stroke-width="0.85" stroke-opacity="0.9"/><path d="M26.8 209.4 L28.4 209.5 L29.9 209.7 L31.5 209.9 L33 210.2 L34.6 210.5 L36.1 210.8 L37.7 211.1 L39.2 211.5 L40.8 211.8 L42.4 212.2 L43.9 212.5 L45.5 212.9 L47 213.2 L48.6 213.5 L50.1 213.7 L51.7 214 L53.2 214.1 L54.8 214.3 L56.4 214 L58 213.6 L59.7 213.1 L61.3 212.6 L62.9 212 L64.5 211.4 L66.1 210.8 L67.8 210.3 L69.4 210 L71 209.7 L72.5 209.8 L74.1 210 L75.6 210.2 L77.2 210.5 L78.7 210.7 L80.3 211 L81.8 211.4 L83.4 211.7 L84.9 212 L86.5 212.4 L88 212.8 L89.5 213.1 L91.1 213.4 L92.6 213.8 L94.2 214.1 L95.7 214.3 L97.3 214.6 L98.8 214.8 L100.4 215 L101.9 215.1" stroke="#e01838" stroke-width="0.85" stroke-opacity="0.9"/><path d="M26.8 210.5 L28.4 210.3 L29.9 210.1 L31.5 209.9 L33 209.6 L34.6 209.3 L36.1 209 L37.7 208.6 L39.2 208.3 L40.8 207.9 L42.4 207.5 L43.9 207.2 L45.5 206.8 L47 206.5 L48.6 206.2 L50.1 205.9 L51.7 205.7 L53.2 205.5 L54.8 205.4 L56.4 206 L58 206.8 L59.7 207.9 L61.3 209.1 L62.9 210.4 L64.5 211.7 L66.1 212.9 L67.8 214 L69.4 214.9 L71 215.4 L72.5 215.4 L74.1 215.2 L75.6 215.1 L77.2 215 L78.7 214.8 L80.3 214.6 L81.8 214.4 L83.4 214.2 L84.9 214 L86.5 213.7 L88 213.5 L89.5 213.3 L91.1 213.1 L92.6 212.9 L94.2 212.7 L95.7 212.5 L97.3 212.4 L98.8 212.3 L100.4 212.1 L101.9 212.1" stroke="#e01838" stroke-width="0.85" stroke-opacity="0.9"/><path d="M26.8 213.5 L28.4 213.6 L29.9 213.8 L31.5 213.9 L33 214.2 L34.6 214.4 L36.1 214.7 L37.7 215 L39.2 215.3 L40.8 215.6 L42.4 215.9 L43.9 216.1 L45.5 216.4 L47 216.7 L48.6 216.9 L50.1 217.2 L51.7 217.3 L53.2 217.5 L54.8 217.6 L56.4 216.9 L58 215.9 L59.7 214.7 L61.3 213.2 L62.9 211.7 L64.5 210.2 L66.1 208.7 L67.8 207.5 L69.4 206.5 L71 205.8 L72.5 206.1 L74.1 206.5 L75.6 207 L77.2 207.5 L78.7 208.1 L80.3 208.8 L81.8 209.5 L83.4 210.3 L84.9 211.1 L86.5 211.9 L88 212.6 L89.5 213.4 L91.1 214.2 L92.6 214.9 L94.2 215.6 L95.7 216.2 L97.3 216.7 L98.8 217.2 L100.4 217.6 L101.9 217.9" stroke="#e8102c" stroke-width="0.85" stroke-opacity="0.9"/><path d="M26.8 209.2 L28.4 209.1 L29.9 209 L31.5 208.8 L33 208.6 L34.6 208.4 L36.1 208.2 L37.7 207.9 L39.2 207.6 L40.8 207.4 L42.4 207.1 L43.9 206.8 L45.5 206.6 L47 206.3 L48.6 206.1 L50.1 205.9 L51.7 205.7 L53.2 205.6 L54.8 205.5 L56.4 205.8 L58 206.3 L59.7 206.8 L61.3 207.5 L62.9 208.2 L64.5 208.9 L66.1 209.5 L67.8 210.1 L69.4 210.5 L71 210.8 L72.5 210.7 L74.1 210.5 L75.6 210.3 L77.2 210.1 L78.7 209.8 L80.3 209.5 L81.8 209.2 L83.4 208.8 L84.9 208.5 L86.5 208.1 L88 207.7 L89.5 207.4 L91.1 207.1 L92.6 206.7 L94.2 206.4 L95.7 206.1 L97.3 205.9 L98.8 205.7 L100.4 205.5 L101.9 205.4" stroke="#e8102c" stroke-width="0.85" stroke-opacity="0.9"/><path d="M26.8 213.8 L28.4 213.6 L29.9 213.4 L31.5 213.1 L33 212.7 L34.6 212.3 L36.1 211.9 L37.7 211.4 L39.2 210.9 L40.8 210.4 L42.4 209.9 L43.9 209.5 L45.5 209 L47 208.6 L48.6 208.2 L50.1 207.8 L51.7 207.5 L53.2 207.2 L54.8 207 L56.4 207.6 L58 208.3 L59.7 209.2 L61.3 210.3 L62.9 211.4 L64.5 212.6 L66.1 213.7 L67.8 214.6 L69.4 215.3 L71 215.8 L72.5 215.8 L74.1 215.6 L75.6 215.5 L77.2 215.4 L78.7 215.2 L80.3 215 L81.8 214.8 L83.4 214.6 L84.9 214.4 L86.5 214.2 L88 213.9 L89.5 213.7 L91.1 213.5 L92.6 213.3 L94.2 213.1 L95.7 213 L97.3 212.8 L98.8 212.7 L100.4 212.6 L101.9 212.5" stroke="#f01830" stroke-width="0.85" stroke-opacity="0.9"/><path d="M26.8 213.4 L28.4 213.3 L29.9 213.2 L31.5 213.1 L33 212.9 L34.6 212.7 L36.1 212.5 L37.7 212.3 L39.2 212.1 L40.8 211.8 L42.4 211.6 L43.9 211.3 L45.5 211.1 L47 210.9 L48.6 210.7 L50.1 210.5 L51.7 210.4 L53.2 210.3 L54.8 210.2 L56.4 209.9 L58 209.4 L59.7 208.8 L61.3 208.1 L62.9 207.4 L64.5 206.7 L66.1 206 L67.8 205.4 L69.4 204.9 L71 204.6 L72.5 204.7 L74.1 204.9 L75.6 205.1 L77.2 205.4 L78.7 205.6 L80.3 206 L81.8 206.3 L83.4 206.6 L84.9 207 L86.5 207.3 L88 207.7 L89.5 208 L91.1 208.4 L92.6 208.7 L94.2 209 L95.7 209.3 L97.3 209.5 L98.8 209.7 L100.4 209.9 L101.9 210.1" stroke="#e8102c" stroke-width="0.85" stroke-opacity="0.9"/><path d="M26.8 207.7 L28.4 207.6 L29.9 207.5 L31.5 207.4 L33 207.3 L34.6 207.1 L36.1 207 L37.7 206.8 L39.2 206.7 L40.8 206.5 L42.4 206.3 L43.9 206.2 L45.5 206 L47 205.8 L48.6 205.7 L50.1 205.6 L51.7 205.5 L53.2 205.4 L54.8 205.3 L56.4 205 L58 204.7 L59.7 204.2 L61.3 203.6 L62.9 203 L64.5 202.4 L66.1 201.8 L67.8 201.3 L69.4 200.9 L71 200.7 L72.5 200.7 L74.1 200.8 L75.6 201 L77.2 201.1 L78.7 201.3 L80.3 201.5 L81.8 201.7 L83.4 201.9 L84.9 202.1 L86.5 202.3 L88 202.5 L89.5 202.7 L91.1 202.9 L92.6 203.1 L94.2 203.3 L95.7 203.5 L97.3 203.6 L98.8 203.7 L100.4 203.8 L101.9 203.9" stroke="#f01830" stroke-width="0.85" stroke-opacity="0.9"/><path d="M26.8 200.8 L28.4 201 L29.9 201.3 L31.5 201.6 L33 202 L34.6 202.5 L36.1 203 L37.7 203.5 L39.2 204 L40.8 204.6 L42.4 205.1 L43.9 205.7 L45.5 206.2 L47 206.7 L48.6 207.1 L50.1 207.5 L51.7 207.9 L53.2 208.1 L54.8 208.4 L56.4 208.4 L58 208.3 L59.7 208.3 L61.3 208.3 L62.9 208.3 L64.5 208.2 L66.1 208.2 L67.8 208.2 L69.4 208.2 L71 208.2 L72.5 208.1 L74.1 208.1 L75.6 208 L77.2 208 L78.7 207.9 L80.3 207.9 L81.8 207.8 L83.4 207.7 L84.9 207.6 L86.5 207.5 L88 207.5 L89.5 207.4 L91.1 207.3 L92.6 207.2 L94.2 207.2 L95.7 207.1 L97.3 207 L98.8 207 L100.4 207 L101.9 206.9" stroke="#d81850" stroke-width="0.85" stroke-opacity="0.9"/><path d="M26.8 226.2 L28.4 226.2 L29.9 226.2 L31.5 226.2 L33 226.1 L34.6 226.1 L36.1 226.1 L37.7 226.1 L39.2 226.1 L40.8 226.1 L42.4 226.1 L43.9 226.1 L45.5 226.1 L47 226.1 L48.6 226.1 L50.1 226.1 L51.7 226.1 L53.2 226.1 L54.8 226.1 L56.4 226.1 L58 226.1 L59.7 226.1 L61.3 226.1 L62.9 226.1 L64.5 226.1 L66.1 226.1 L67.8 226.1 L69.4 226.1 L71 226.1 L72.5 226.1 L74.1 226.1 L75.6 226.1 L77.2 226.1 L78.7 226 L80.3 226 L81.8 226 L83.4 225.9 L84.9 225.9 L86.5 225.9 L88 225.8 L89.5 225.8 L91.1 225.8 L92.6 225.7 L94.2 225.7 L95.7 225.7 L97.3 225.6 L98.8 225.6 L100.4 225.6 L101.9 225.6" stroke="#f06080" stroke-width="0.85" stroke-opacity="0.9"/><path d="M26.8 218.1 L28.4 218.2 L29.9 218.5 L31.5 218.8 L33 219.1 L34.6 219.5 L36.1 219.9 L37.7 220.3 L39.2 220.7 L40.8 221.2 L42.4 221.6 L43.9 222.1 L45.5 222.5 L47 222.9 L48.6 223.3 L50.1 223.6 L51.7 223.9 L53.2 224.1 L54.8 224.3 L56.4 224.3 L58 224.3 L59.7 224.2 L61.3 224.2 L62.9 224.1 L64.5 224.1 L66.1 224 L67.8 224 L69.4 224 L71 223.9 L72.5 224 L74.1 224.2 L75.6 224.3 L77.2 224.5 L78.7 224.7 L80.3 224.9 L81.8 225.2 L83.4 225.4 L84.9 225.7 L86.5 225.9 L88 226.2 L89.5 226.4 L91.1 226.7 L92.6 226.9 L94.2 227.1 L95.7 227.3 L97.3 227.5 L98.8 227.7 L100.4 227.8 L101.9 227.9" stroke="#d02058" stroke-width="0.85" stroke-opacity="0.9"/><path d="M26.8 226.7 L28.4 226.4 L29.9 226 L31.5 225.6 L33 225.1 L34.6 224.5 L36.1 223.9 L37.7 223.2 L39.2 222.5 L40.8 221.8 L42.4 221.1 L43.9 220.4 L45.5 219.7 L47 219.1 L48.6 218.5 L50.1 218 L51.7 217.5 L53.2 217.1 L54.8 216.9 L56.4 216.7 L58 216.6 L59.7 216.3 L61.3 216.1 L62.9 215.8 L64.5 215.6 L66.1 215.3 L67.8 215.1 L69.4 214.9 L71 214.8 L72.5 215.1 L74.1 215.4 L75.6 215.8 L77.2 216.2 L78.7 216.8 L80.3 217.3 L81.8 217.9 L83.4 218.5 L84.9 219.2 L86.5 219.9 L88 220.5 L89.5 221.2 L91.1 221.8 L92.6 222.4 L94.2 223 L95.7 223.5 L97.3 223.9 L98.8 224.3 L100.4 224.6 L101.9 224.9" stroke="#e02050" stroke-width="0.85" stroke-opacity="0.9"/><path d="M26.8 227.9 L28.4 227.9 L29.9 227.8 L31.5 227.8 L33 227.7 L34.6 227.6 L36.1 227.5 L37.7 227.3 L39.2 227.2 L40.8 227.1 L42.4 227 L43.9 226.8 L45.5 226.7 L47 226.6 L48.6 226.5 L50.1 226.4 L51.7 226.4 L53.2 226.3 L54.8 226.2 L56.4 226.1 L58 225.9 L59.7 225.7 L61.3 225.4 L62.9 225.1 L64.5 224.8 L66.1 224.5 L67.8 224.3 L69.4 224.1 L71 223.9 L72.5 224 L74.1 224.2 L75.6 224.4 L77.2 224.6 L78.7 224.8 L80.3 225.1 L81.8 225.3 L83.4 225.6 L84.9 225.9 L86.5 226.2 L88 226.5 L89.5 226.8 L91.1 227.1 L92.6 227.4 L94.2 227.6 L95.7 227.9 L97.3 228.1 L98.8 228.3 L100.4 228.4 L101.9 228.5" stroke="#b81058" stroke-width="0.85" stroke-opacity="0.9"/><path d="M26.8 226.1 L28.4 225.8 L29.9 225.5 L31.5 225.1 L33 224.7 L34.6 224.2 L36.1 223.7 L37.7 223.2 L39.2 222.6 L40.8 222 L42.4 221.4 L43.9 220.8 L45.5 220.3 L47 219.7 L48.6 219.3 L50.1 218.8 L51.7 218.5 L53.2 218.2 L54.8 217.9 L56.4 217.7 L58 217.3 L59.7 216.9 L61.3 216.4 L62.9 215.9 L64.5 215.4 L66.1 214.9 L67.8 214.4 L69.4 214.1 L71 213.8 L72.5 214.2 L74.1 214.5 L75.6 215 L77.2 215.5 L78.7 216.1 L80.3 216.8 L81.8 217.5 L83.4 218.2 L84.9 219 L86.5 219.8 L88 220.6 L89.5 221.3 L91.1 222.1 L92.6 222.8 L94.2 223.4 L95.7 224 L97.3 224.6 L98.8 225 L100.4 225.4 L101.9 225.7" stroke="#e02050" stroke-width="0.85" stroke-opacity="0.9"/><path d="M26.8 224.8 L28.4 224.7 L29.9 224.6 L31.5 224.4 L33 224.3 L34.6 224 L36.1 223.8 L37.7 223.6 L39.2 223.3 L40.8 223.1 L42.4 222.8 L43.9 222.6 L45.5 222.3 L47 222.1 L48.6 221.9 L50.1 221.7 L51.7 221.6 L53.2 221.4 L54.8 221.3 L56.4 221.6 L58 222 L59.7 222.5 L61.3 223.1 L62.9 223.7 L64.5 224.4 L66.1 225 L67.8 225.5 L69.4 225.9 L71 226.2 L72.5 225.9 L74.1 225.6 L75.6 225.1 L77.2 224.7 L78.7 224.1 L80.3 223.5 L81.8 222.9 L83.4 222.3 L84.9 221.6 L86.5 220.9 L88 220.2 L89.5 219.5 L91.1 218.8 L92.6 218.2 L94.2 217.6 L95.7 217.1 L97.3 216.6 L98.8 216.2 L100.4 215.9 L101.9 215.6" stroke="#e02050" stroke-width="0.85" stroke-opacity="0.9"/><path d="M26.8 214 L28.4 214.2 L29.9 214.5 L31.5 214.8 L33 215.1 L34.6 215.5 L36.1 216 L37.7 216.4 L39.2 216.9 L40.8 217.4 L42.4 217.9 L43.9 218.4 L45.5 218.9 L47 219.3 L48.6 219.7 L50.1 220.1 L51.7 220.4 L53.2 220.6 L54.8 220.8 L56.4 220.8 L58 220.9 L59.7 220.9 L61.3 221 L62.9 221 L64.5 221.1 L66.1 221.1 L67.8 221.2 L69.4 221.2 L71 221.2 L72.5 221 L74.1 220.7 L75.6 220.3 L77.2 219.9 L78.7 219.5 L80.3 219 L81.8 218.4 L83.4 217.8 L84.9 217.2 L86.5 216.6 L88 216 L89.5 215.4 L91.1 214.9 L92.6 214.3 L94.2 213.8 L95.7 213.4 L97.3 212.9 L98.8 212.6 L100.4 212.3 L101.9 212" stroke="#d02058" stroke-width="0.85" stroke-opacity="0.9"/><path d="M26.8 216.5 L28.4 216.6 L29.9 216.7 L31.5 216.8 L33 216.8 L34.6 217 L36.1 217.1 L37.7 217.2 L39.2 217.3 L40.8 217.5 L42.4 217.6 L43.9 217.7 L45.5 217.9 L47 218 L48.6 218.1 L50.1 218.2 L51.7 218.3 L53.2 218.3 L54.8 218.4 L56.4 217.9 L58 217.3 L59.7 216.5 L61.3 215.5 L62.9 214.5 L64.5 213.5 L66.1 212.6 L67.8 211.8 L69.4 211.1 L71 210.7 L72.5 210.9 L74.1 211.1 L75.6 211.5 L77.2 211.8 L78.7 212.2 L80.3 212.7 L81.8 213.1 L83.4 213.6 L84.9 214.2 L86.5 214.7 L88 215.2 L89.5 215.7 L91.1 216.2 L92.6 216.7 L94.2 217.1 L95.7 217.5 L97.3 217.9 L98.8 218.2 L100.4 218.5 L101.9 218.7" stroke="#d81848" stroke-width="0.85" stroke-opacity="0.9"/><path d="M26.8 213.9 L28.4 213.8 L29.9 213.7 L31.5 213.6 L33 213.4 L34.6 213.2 L36.1 213 L37.7 212.8 L39.2 212.6 L40.8 212.4 L42.4 212.2 L43.9 211.9 L45.5 211.7 L47 211.5 L48.6 211.3 L50.1 211.2 L51.7 211 L53.2 210.9 L54.8 210.8 L56.4 210.8 L58 210.9 L59.7 210.9 L61.3 210.9 L62.9 210.9 L64.5 211 L66.1 211 L67.8 211 L69.4 211 L71 211 L72.5 211 L74.1 210.8 L75.6 210.7 L77.2 210.6 L78.7 210.4 L80.3 210.2 L81.8 210 L83.4 209.8 L84.9 209.5 L86.5 209.3 L88 209.1 L89.5 208.9 L91.1 208.6 L92.6 208.4 L94.2 208.2 L95.7 208.1 L97.3 207.9 L98.8 207.8 L100.4 207.7 L101.9 207.6" stroke="#f06080" stroke-width="0.85" stroke-opacity="0.9"/><path d="M26.8 205 L28.4 205.3 L29.9 205.7 L31.5 206.2 L33 206.7 L34.6 207.3 L36.1 208 L37.7 208.8 L39.2 209.5 L40.8 210.3 L42.4 211.1 L43.9 211.9 L45.5 212.6 L47 213.3 L48.6 213.9 L50.1 214.5 L51.7 215 L53.2 215.4 L54.8 215.7 L56.4 216 L58 216.5 L59.7 217.1 L61.3 217.8 L62.9 218.6 L64.5 219.3 L66.1 220.1 L67.8 220.7 L69.4 221.2 L71 221.5 L72.5 221.3 L74.1 221.1 L75.6 220.9 L77.2 220.6 L78.7 220.3 L80.3 219.9 L81.8 219.6 L83.4 219.2 L84.9 218.8 L86.5 218.4 L88 217.9 L89.5 217.5 L91.1 217.1 L92.6 216.8 L94.2 216.4 L95.7 216.1 L97.3 215.8 L98.8 215.6 L100.4 215.4 L101.9 215.2" stroke="#e02050" stroke-width="0.85" stroke-opacity="0.9"/><path d="M26.8 204.1 L28.4 204.3 L29.9 204.5 L31.5 204.7 L33 205 L34.6 205.3 L36.1 205.7 L37.7 206.1 L39.2 206.4 L40.8 206.8 L42.4 207.2 L43.9 207.6 L45.5 208 L47 208.3 L48.6 208.6 L50.1 208.9 L51.7 209.1 L53.2 209.3 L54.8 209.5 L56.4 209.6 L58 209.8 L59.7 210 L61.3 210.2 L62.9 210.5 L64.5 210.7 L66.1 211 L67.8 211.2 L69.4 211.4 L71 211.5 L72.5 211.4 L74.1 211.3 L75.6 211.2 L77.2 211 L78.7 210.9 L80.3 210.7 L81.8 210.5 L83.4 210.3 L84.9 210.1 L86.5 209.9 L88 209.7 L89.5 209.5 L91.1 209.3 L92.6 209.1 L94.2 208.9 L95.7 208.8 L97.3 208.6 L98.8 208.5 L100.4 208.4 L101.9 208.3" stroke="#b81058" stroke-width="0.85" stroke-opacity="0.9"/><path d="M26.8 204.5 L28.4 204.5 L29.9 204.5 L31.5 204.5 L33 204.5 L34.6 204.5 L36.1 204.5 L37.7 204.5 L39.2 204.5 L40.8 204.5 L42.4 204.6 L43.9 204.6 L45.5 204.6 L47 204.6 L48.6 204.6 L50.1 204.6 L51.7 204.6 L53.2 204.6 L54.8 204.6 L56.4 205.3 L58 206.2 L59.7 207.4 L61.3 208.8 L62.9 210.3 L64.5 211.7 L66.1 213.1 L67.8 214.3 L69.4 215.2 L71 215.9 L72.5 215.9 L74.1 216 L75.6 216 L77.2 216.1 L78.7 216.2 L80.3 216.3 L81.8 216.3 L83.4 216.4 L84.9 216.5 L86.5 216.6 L88 216.7 L89.5 216.8 L91.1 216.9 L92.6 217 L94.2 217 L95.7 217.1 L97.3 217.2 L98.8 217.2 L100.4 217.3 L101.9 217.3" stroke="#c81860" stroke-width="0.85" stroke-opacity="0.9"/><path d="M26.8 240.6 L28.4 240.6 L29.9 240.6 L31.5 240.5 L33 240.5 L34.6 240.5 L36.1 240.4 L37.7 240.4 L39.2 240.4 L40.8 240.3 L42.4 240.3 L43.9 240.2 L45.5 240.2 L47 240.2 L48.6 240.1 L50.1 240.1 L51.7 240.1 L53.2 240 L54.8 240 L56.4 239.8 L58 239.6 L59.7 239.2 L61.3 238.8 L62.9 238.4 L64.5 237.9 L66.1 237.5 L67.8 237.2 L69.4 236.9 L71 236.7 L72.5 236.7 L74.1 236.8 L75.6 236.9 L77.2 237 L78.7 237.1 L80.3 237.2 L81.8 237.3 L83.4 237.4 L84.9 237.6 L86.5 237.7 L88 237.8 L89.5 238 L91.1 238.1 L92.6 238.2 L94.2 238.3 L95.7 238.4 L97.3 238.5 L98.8 238.6 L100.4 238.6 L101.9 238.7" stroke="#c81860" stroke-width="0.85" stroke-opacity="0.9"/><path d="M26.8 231 L28.4 231.2 L29.9 231.4 L31.5 231.7 L33 232.1 L34.6 232.4 L36.1 232.9 L37.7 233.3 L39.2 233.8 L40.8 234.2 L42.4 234.7 L43.9 235.2 L45.5 235.6 L47 236 L48.6 236.4 L50.1 236.7 L51.7 237 L53.2 237.3 L54.8 237.5 L56.4 237.6 L58 237.8 L59.7 238 L61.3 238.3 L62.9 238.6 L64.5 238.9 L66.1 239.2 L67.8 239.4 L69.4 239.6 L71 239.7 L72.5 239.4 L74.1 239 L75.6 238.6 L77.2 238.1 L78.7 237.5 L80.3 236.8 L81.8 236.1 L83.4 235.4 L84.9 234.7 L86.5 233.9 L88 233.2 L89.5 232.4 L91.1 231.7 L92.6 231 L94.2 230.4 L95.7 229.8 L97.3 229.3 L98.8 228.8 L100.4 228.4 L101.9 228.1" stroke="#c81860" stroke-width="0.85" stroke-opacity="0.9"/><path d="M26.8 240.6 L28.4 240.4 L29.9 240.1 L31.5 239.8 L33 239.4 L34.6 239 L36.1 238.6 L37.7 238.1 L39.2 237.6 L40.8 237.1 L42.4 236.6 L43.9 236 L45.5 235.6 L47 235.1 L48.6 234.7 L50.1 234.3 L51.7 234 L53.2 233.7 L54.8 233.5 L56.4 233.3 L58 232.9 L59.7 232.3 L61.3 231.7 L62.9 231.1 L64.5 230.5 L66.1 229.9 L67.8 229.4 L69.4 229 L71 228.7 L72.5 228.9 L74.1 229.1 L75.6 229.4 L77.2 229.8 L78.7 230.1 L80.3 230.5 L81.8 231 L83.4 231.4 L84.9 231.9 L86.5 232.4 L88 232.9 L89.5 233.4 L91.1 233.8 L92.6 234.3 L94.2 234.7 L95.7 235 L97.3 235.4 L98.8 235.7 L100.4 235.9 L101.9 236.1" stroke="#b81058" stroke-width="0.85" stroke-opacity="0.9"/><path d="M26.8 237.1 L28.4 237.1 L29.9 237.1 L31.5 237.1 L33 237.1 L34.6 237.1 L36.1 237 L37.7 237 L39.2 237 L40.8 237 L42.4 237 L43.9 237 L45.5 236.9 L47 236.9 L48.6 236.9 L50.1 236.9 L51.7 236.9 L53.2 236.9 L54.8 236.9 L56.4 236.4 L58 235.8 L59.7 235 L61.3 234.1 L62.9 233.2 L64.5 232.2 L66.1 231.4 L67.8 230.6 L69.4 230 L71 229.5 L72.5 229.6 L74.1 229.7 L75.6 229.7 L77.2 229.8 L78.7 229.9 L80.3 230 L81.8 230.1 L83.4 230.2 L84.9 230.4 L86.5 230.5 L88 230.6 L89.5 230.7 L91.1 230.8 L92.6 230.9 L94.2 231 L95.7 231.1 L97.3 231.2 L98.8 231.3 L100.4 231.4 L101.9 231.4" stroke="#b81058" stroke-width="0.85" stroke-opacity="0.9"/><path d="M26.8 225.6 L28.4 225.9 L29.9 226.1 L31.5 226.5 L33 226.9 L34.6 227.3 L36.1 227.8 L37.7 228.3 L39.2 228.8 L40.8 229.4 L42.4 229.9 L43.9 230.5 L45.5 231 L47 231.4 L48.6 231.9 L50.1 232.3 L51.7 232.6 L53.2 232.9 L54.8 233.1 L56.4 232.7 L58 232 L59.7 231.2 L61.3 230.3 L62.9 229.3 L64.5 228.3 L66.1 227.3 L67.8 226.5 L69.4 225.8 L71 225.4 L72.5 225.4 L74.1 225.4 L75.6 225.4 L77.2 225.3 L78.7 225.3 L80.3 225.3 L81.8 225.3 L83.4 225.2 L84.9 225.2 L86.5 225.2 L88 225.2 L89.5 225.1 L91.1 225.1 L92.6 225.1 L94.2 225.1 L95.7 225 L97.3 225 L98.8 225 L100.4 225 L101.9 225" stroke="#c02070" stroke-width="0.85" stroke-opacity="0.9"/><path d="M26.8 229.4 L28.4 229.3 L29.9 229.1 L31.5 228.9 L33 228.7 L34.6 228.4 L36.1 228.1 L37.7 227.8 L39.2 227.5 L40.8 227.1 L42.4 226.8 L43.9 226.5 L45.5 226.1 L47 225.8 L48.6 225.6 L50.1 225.3 L51.7 225.1 L53.2 225 L54.8 224.8 L56.4 225.1 L58 225.6 L59.7 226.2 L61.3 226.9 L62.9 227.6 L64.5 228.3 L66.1 229 L67.8 229.6 L69.4 230.1 L71 230.4 L72.5 230.4 L74.1 230.5 L75.6 230.5 L77.2 230.6 L78.7 230.7 L80.3 230.7 L81.8 230.8 L83.4 230.9 L84.9 231 L86.5 231 L88 231.1 L89.5 231.2 L91.1 231.3 L92.6 231.4 L94.2 231.4 L95.7 231.5 L97.3 231.5 L98.8 231.6 L100.4 231.6 L101.9 231.7" stroke="#d02068" stroke-width="0.85" stroke-opacity="0.9"/><path d="M26.8 225.4 L28.4 225.7 L29.9 226.1 L31.5 226.5 L33 227.1 L34.6 227.7 L36.1 228.3 L37.7 229 L39.2 229.8 L40.8 230.5 L42.4 231.3 L43.9 232 L45.5 232.7 L47 233.4 L48.6 234 L50.1 234.5 L51.7 235 L53.2 235.4 L54.8 235.7 L56.4 235 L58 234 L59.7 232.8 L61.3 231.4 L62.9 229.8 L64.5 228.3 L66.1 226.9 L67.8 225.7 L69.4 224.7 L71 224 L72.5 224.2 L74.1 224.4 L75.6 224.7 L77.2 225 L78.7 225.3 L80.3 225.7 L81.8 226.2 L83.4 226.6 L84.9 227 L86.5 227.5 L88 228 L89.5 228.4 L91.1 228.9 L92.6 229.3 L94.2 229.7 L95.7 230 L97.3 230.3 L98.8 230.6 L100.4 230.8 L101.9 231" stroke="#b81058" stroke-width="0.85" stroke-opacity="0.9"/><path d="M26.8 223.7 L28.4 223.9 L29.9 224.1 L31.5 224.4 L33 224.7 L34.6 225.1 L36.1 225.5 L37.7 225.9 L39.2 226.4 L40.8 226.8 L42.4 227.3 L43.9 227.7 L45.5 228.2 L47 228.6 L48.6 229 L50.1 229.3 L51.7 229.6 L53.2 229.8 L54.8 230 L56.4 229.9 L58 229.7 L59.7 229.5 L61.3 229.2 L62.9 228.9 L64.5 228.6 L66.1 228.4 L67.8 228.1 L69.4 228 L71 227.8 L72.5 227.8 L74.1 227.8 L75.6 227.8 L77.2 227.9 L78.7 227.9 L80.3 227.9 L81.8 227.9 L83.4 227.9 L84.9 227.9 L86.5 227.9 L88 227.9 L89.5 227.9 L91.1 228 L92.6 228 L94.2 228 L95.7 228 L97.3 228 L98.8 228 L100.4 228 L101.9 228" stroke="#d02068" stroke-width="0.85" stroke-opacity="0.9"/><path d="M26.8 234.1 L28.4 233.8 L29.9 233.3 L31.5 232.7 L33 232 L34.6 231.2 L36.1 230.4 L37.7 229.5 L39.2 228.5 L40.8 227.6 L42.4 226.6 L43.9 225.7 L45.5 224.8 L47 223.9 L48.6 223.2 L50.1 222.5 L51.7 221.9 L53.2 221.4 L54.8 221 L56.4 221 L58 221.1 L59.7 221.1 L61.3 221.2 L62.9 221.2 L64.5 221.3 L66.1 221.4 L67.8 221.4 L69.4 221.5 L71 221.5 L72.5 221.5 L74.1 221.5 L75.6 221.5 L77.2 221.5 L78.7 221.5 L80.3 221.6 L81.8 221.6 L83.4 221.6 L84.9 221.6 L86.5 221.6 L88 221.6 L89.5 221.7 L91.1 221.7 L92.6 221.7 L94.2 221.7 L95.7 221.7 L97.3 221.7 L98.8 221.7 L100.4 221.8 L101.9 221.8" stroke="#d02068" stroke-width="0.85" stroke-opacity="0.9"/><path d="M26.8 230.6 L28.4 230.6 L29.9 230.5 L31.5 230.4 L33 230.2 L34.6 230.1 L36.1 229.9 L37.7 229.7 L39.2 229.5 L40.8 229.3 L42.4 229.1 L43.9 228.9 L45.5 228.8 L47 228.6 L48.6 228.4 L50.1 228.3 L51.7 228.2 L53.2 228.1 L54.8 228 L56.4 227.6 L58 227 L59.7 226.3 L61.3 225.5 L62.9 224.6 L64.5 223.7 L66.1 222.8 L67.8 222.1 L69.4 221.5 L71 221.1 L72.5 221.3 L74.1 221.5 L75.6 221.8 L77.2 222.1 L78.7 222.5 L80.3 222.8 L81.8 223.3 L83.4 223.7 L84.9 224.1 L86.5 224.6 L88 225.1 L89.5 225.5 L91.1 225.9 L92.6 226.4 L94.2 226.7 L95.7 227.1 L97.3 227.4 L98.8 227.7 L100.4 227.9 L101.9 228.1" stroke="#d02068" stroke-width="0.85" stroke-opacity="0.9"/><path d="M26.8 219.9 L28.4 220 L29.9 220 L31.5 220.1 L33 220.2 L34.6 220.3 L36.1 220.4 L37.7 220.5 L39.2 220.6 L40.8 220.7 L42.4 220.8 L43.9 220.9 L45.5 221 L47 221.1 L48.6 221.2 L50.1 221.3 L51.7 221.3 L53.2 221.4 L54.8 221.4 L56.4 222 L58 222.9 L59.7 224 L61.3 225.2 L62.9 226.6 L64.5 227.9 L66.1 229.2 L67.8 230.3 L69.4 231.1 L71 231.7 L72.5 231.5 L74.1 231.2 L75.6 230.8 L77.2 230.4 L78.7 229.9 L80.3 229.4 L81.8 228.9 L83.4 228.3 L84.9 227.7 L86.5 227.1 L88 226.5 L89.5 225.9 L91.1 225.3 L92.6 224.8 L94.2 224.3 L95.7 223.8 L97.3 223.4 L98.8 223 L100.4 222.7 L101.9 222.5" stroke="#c02070" stroke-width="0.85" stroke-opacity="0.9"/><path d="M26.8 224.5 L28.4 224.7 L29.9 224.9 L31.5 225.2 L33 225.5 L34.6 225.8 L36.1 226.2 L37.7 226.6 L39.2 227 L40.8 227.4 L42.4 227.9 L43.9 228.3 L45.5 228.7 L47 229.1 L48.6 229.4 L50.1 229.7 L51.7 230 L53.2 230.2 L54.8 230.4 L56.4 229.8 L58 229 L59.7 228 L61.3 226.9 L62.9 225.7 L64.5 224.4 L66.1 223.3 L67.8 222.3 L69.4 221.5 L71 221 L72.5 221.3 L74.1 221.6 L75.6 222.1 L77.2 222.6 L78.7 223.2 L80.3 223.8 L81.8 224.5 L83.4 225.3 L84.9 226 L86.5 226.8 L88 227.5 L89.5 228.3 L91.1 229 L92.6 229.7 L94.2 230.4 L95.7 231 L97.3 231.5 L98.8 231.9 L100.4 232.3 L101.9 232.6" stroke="#b81058" stroke-width="0.85" stroke-opacity="0.9"/><path d="M26.8 229.9 L28.4 229.8 L29.9 229.7 L31.5 229.6 L33 229.4 L34.6 229.3 L36.1 229.1 L37.7 228.9 L39.2 228.7 L40.8 228.5 L42.4 228.3 L43.9 228.1 L45.5 227.9 L47 227.7 L48.6 227.5 L50.1 227.4 L51.7 227.2 L53.2 227.1 L54.8 227 L56.4 226.6 L58 226.1 L59.7 225.4 L61.3 224.5 L62.9 223.7 L64.5 222.8 L66.1 222 L67.8 221.2 L69.4 220.7 L71 220.3 L72.5 220.5 L74.1 220.8 L75.6 221.2 L77.2 221.6 L78.7 222.1 L80.3 222.6 L81.8 223.2 L83.4 223.7 L84.9 224.4 L86.5 225 L88 225.6 L89.5 226.2 L91.1 226.8 L92.6 227.3 L94.2 227.9 L95.7 228.3 L97.3 228.8 L98.8 229.1 L100.4 229.4 L101.9 229.7" stroke="#a81050" stroke-width="0.85" stroke-opacity="0.9"/><path d="M26.8 229 L28.4 228.8 L29.9 228.4 L31.5 227.9 L33 227.4 L34.6 226.8 L36.1 226.1 L37.7 225.4 L39.2 224.7 L40.8 224 L42.4 223.3 L43.9 222.5 L45.5 221.8 L47 221.2 L48.6 220.6 L50.1 220.1 L51.7 219.6 L53.2 219.2 L54.8 218.9 L56.4 219.1 L58 219.4 L59.7 219.7 L61.3 220.1 L62.9 220.5 L64.5 220.9 L66.1 221.3 L67.8 221.6 L69.4 221.9 L71 222.1 L72.5 222.1 L74.1 222.1 L75.6 222.1 L77.2 222.1 L78.7 222.2 L80.3 222.2 L81.8 222.2 L83.4 222.3 L84.9 222.3 L86.5 222.3 L88 222.4 L89.5 222.4 L91.1 222.4 L92.6 222.5 L94.2 222.5 L95.7 222.5 L97.3 222.6 L98.8 222.6 L100.4 222.6 L101.9 222.6" stroke="#c81860" stroke-width="0.85" stroke-opacity="0.9"/><path d="M26.8 192.2 L28.4 192.2 L29.9 192.2 L31.5 192.2 L33 192.2 L34.6 192.2 L36.1 192.2 L37.7 192.2 L39.2 192.2 L40.8 192.2 L42.4 192.2 L43.9 192.2 L45.5 192.2 L47 192.2 L48.6 192.2 L50.1 192.2 L51.7 192.2 L53.2 192.2 L54.8 192.2 L56.4 192.2 L58 192.2 L59.7 192.2 L61.3 192.2 L62.9 192.2 L64.5 192.2 L66.1 192.2 L67.8 192.2 L69.4 192.2 L71 192.2 L72.5 192.2 L74.1 192.2 L75.6 192.2 L77.2 192.2 L78.7 192.2 L80.3 192.2 L81.8 192.2 L83.4 192.2 L84.9 192.2 L86.5 192.2 L88 192.2 L89.5 192.2 L91.1 192.2 L92.6 192.2 L94.2 192.2 L95.7 192.2 L97.3 192.2 L98.8 192.2 L100.4 192.2 L101.9 192.2" stroke="#f08080" stroke-width="0.8"/><path d="M26.8 196.7 L28.4 196.8 L29.9 196.8 L31.5 196.9 L33 197.1 L34.6 197.2 L36.1 197.3 L37.7 197.5 L39.2 197.6 L40.8 197.8 L42.4 197.9 L43.9 198.1 L45.5 198.2 L47 198.3 L48.6 198.5 L50.1 198.6 L51.7 198.7 L53.2 198.8 L54.8 198.8 L56.4 198.8 L58 198.9 L59.7 198.9 L61.3 199 L62.9 199 L64.5 199.1 L66.1 199.1 L67.8 199.2 L69.4 199.2 L71 199.2 L72.5 199.2 L74.1 199.1 L75.6 199 L77.2 198.9 L78.7 198.7 L80.3 198.6 L81.8 198.5 L83.4 198.3 L84.9 198.1 L86.5 198 L88 197.8 L89.5 197.6 L91.1 197.5 L92.6 197.3 L94.2 197.2 L95.7 197.1 L97.3 197 L98.8 196.9 L100.4 196.8 L101.9 196.7" stroke="#e02030" stroke-width="1.1"/><path d="M26.8 197.1 L28.4 197 L29.9 196.9 L31.5 196.8 L33 196.6 L34.6 196.4 L36.1 196.2 L37.7 195.9 L39.2 195.7 L40.8 195.4 L42.4 195.2 L43.9 195 L45.5 194.7 L47 194.5 L48.6 194.3 L50.1 194.1 L51.7 194 L53.2 193.9 L54.8 193.8 L56.4 193.7 L58 193.6 L59.7 193.4 L61.3 193.3 L62.9 193.1 L64.5 193 L66.1 192.8 L67.8 192.7 L69.4 192.6 L71 192.5 L72.5 192.6 L74.1 192.7 L75.6 192.9 L77.2 193.1 L78.7 193.3 L80.3 193.5 L81.8 193.8 L83.4 194.1 L84.9 194.3 L86.5 194.6 L88 194.9 L89.5 195.1 L91.1 195.4 L92.6 195.7 L94.2 195.9 L95.7 196.1 L97.3 196.3 L98.8 196.5 L100.4 196.6 L101.9 196.7" stroke="#e02030" stroke-width="1.0"/><path d="M26.8 196.7 L28.4 196.7 L29.9 196.7 L31.5 196.7 L33 196.7 L34.6 196.7 L36.1 196.7 L37.7 196.7 L39.2 196.7 L40.8 196.7 L42.4 196.7 L43.9 196.7 L45.5 196.7 L47 196.7 L48.6 196.7 L50.1 196.7 L51.7 196.7 L53.2 196.7 L54.8 196.7 L56.4 196.7 L58 196.7 L59.7 196.7 L61.3 196.7 L62.9 196.7 L64.5 196.7 L66.1 196.7 L67.8 196.7 L69.4 196.7 L71 196.7 L72.5 196.7 L74.1 196.7 L75.6 196.7 L77.2 196.7 L78.7 196.7 L80.3 196.7 L81.8 196.7 L83.4 196.7 L84.9 196.7 L86.5 196.7 L88 196.7 L89.5 196.7 L91.1 196.7 L92.6 196.7 L94.2 196.7 L95.7 196.7 L97.3 196.7 L98.8 196.7 L100.4 196.7 L101.9 196.7" stroke="#e83040" stroke-width="0.8"/><path d="M26.8 154.6 L28.4 154.6 L29.9 154.6 L31.5 154.6 L33 154.6 L34.6 154.6 L36.1 154.6 L37.7 154.6 L39.2 154.6 L40.8 154.6 L42.4 154.6 L43.9 154.6 L45.5 154.6 L47 154.6 L48.6 154.6 L50.1 154.6 L51.7 154.6 L53.2 154.6 L54.8 154.6 L56.4 154.6 L58 154.6 L59.7 154.6 L61.3 154.6 L62.9 154.6 L64.5 154.6 L66.1 154.6 L67.8 154.6 L69.4 154.6 L71 154.6 L72.5 154.6 L74.1 154.6 L75.6 154.6 L77.2 154.6 L78.7 154.6 L80.3 154.6 L81.8 154.6 L83.4 154.6 L84.9 154.6 L86.5 154.6 L88 154.6 L89.5 154.6 L91.1 154.6 L92.6 154.6 L94.2 154.6 L95.7 154.6 L97.3 154.6 L98.8 154.6 L100.4 154.6 L101.9 154.6" stroke="#f0a0a0" stroke-width="0.8"/><path d="M26.8 153.7 L28.4 153.7 L29.9 153.7 L31.5 153.7 L33 153.7 L34.6 153.7 L36.1 153.7 L37.7 153.7 L39.2 153.7 L40.8 153.7 L42.4 153.7 L43.9 153.7 L45.5 153.7 L47 153.7 L48.6 153.6 L50.1 153.6 L51.7 153.6 L53.2 153.6 L54.8 153.6 L56.4 153.6 L58 153.6 L59.7 153.7 L61.3 153.7 L62.9 153.7 L64.5 153.7 L66.1 153.7 L67.8 153.7 L69.4 153.7 L71 153.7 L72.5 153.7 L74.1 153.7 L75.6 153.7 L77.2 153.7 L78.7 153.7 L80.3 153.7 L81.8 153.7 L83.4 153.7 L84.9 153.7 L86.5 153.7 L88 153.7 L89.5 153.7 L91.1 153.7 L92.6 153.7 L94.2 153.7 L95.7 153.7 L97.3 153.7 L98.8 153.7 L100.4 153.7 L101.9 153.7" stroke="#e02030" stroke-width="1.3"/><path d="M26.8 152.9 L28.4 152.9 L29.9 152.9 L31.5 152.9 L33 152.9 L34.6 152.9 L36.1 152.9 L37.7 152.9 L39.2 152.9 L40.8 152.9 L42.4 152.9 L43.9 152.9 L45.5 152.9 L47 152.9 L48.6 152.9 L50.1 152.9 L51.7 152.9 L53.2 152.9 L54.8 152.9 L56.4 152.8 L58 152.8 L59.7 152.8 L61.3 152.7 L62.9 152.7 L64.5 152.6 L66.1 152.6 L67.8 152.5 L69.4 152.5 L71 152.5 L72.5 152.5 L74.1 152.5 L75.6 152.5 L77.2 152.5 L78.7 152.5 L80.3 152.6 L81.8 152.6 L83.4 152.6 L84.9 152.6 L86.5 152.7 L88 152.7 L89.5 152.7 L91.1 152.7 L92.6 152.8 L94.2 152.8 L95.7 152.8 L97.3 152.8 L98.8 152.8 L100.4 152.9 L101.9 152.9" stroke="#2030c8" stroke-width="1.3"/><path d="M26.8 152.5 L28.4 152.3 L29.9 152.1 L31.5 151.8 L33 151.5 L34.6 151.1 L36.1 150.8 L37.7 150.4 L39.2 149.9 L40.8 149.5 L42.4 149.1 L43.9 148.7 L45.5 148.2 L47 147.9 L48.6 147.5 L50.1 147.2 L51.7 146.9 L53.2 146.7 L54.8 146.5 L56.4 146.3 L58 145.9 L59.7 145.5 L61.3 145 L62.9 144.4 L64.5 143.9 L66.1 143.4 L67.8 142.9 L69.4 142.6 L71 142.3 L72.5 142.6 L74.1 142.9 L75.6 143.2 L77.2 143.7 L78.7 144.1 L80.3 144.6 L81.8 145.2 L83.4 145.8 L84.9 146.4 L86.5 147 L88 147.6 L89.5 148.2 L91.1 148.8 L92.6 149.3 L94.2 149.8 L95.7 150.3 L97.3 150.7 L98.8 151.1 L100.4 151.4 L101.9 151.6" stroke="#2030c8" stroke-width="1.0"/><path d="M26.8 147.4 L28.4 147.5 L29.9 147.7 L31.5 147.9 L33 148.1 L34.6 148.3 L36.1 148.6 L37.7 148.9 L39.2 149.2 L40.8 149.5 L42.4 149.8 L43.9 150.1 L45.5 150.4 L47 150.7 L48.6 150.9 L50.1 151.1 L51.7 151.3 L53.2 151.5 L54.8 151.6 L56.4 151.5 L58 151.4 L59.7 151.2 L61.3 151 L62.9 150.8 L64.5 150.5 L66.1 150.3 L67.8 150.2 L69.4 150 L71 149.9 L72.5 149.8 L74.1 149.6 L75.6 149.4 L77.2 149.2 L78.7 148.9 L80.3 148.7 L81.8 148.4 L83.4 148.1 L84.9 147.7 L86.5 147.4 L88 147.1 L89.5 146.7 L91.1 146.4 L92.6 146.1 L94.2 145.8 L95.7 145.6 L97.3 145.4 L98.8 145.2 L100.4 145 L101.9 144.9" stroke="#2838c8" stroke-width="1.0"/><path d="M26.8 142.3 L28.4 142.6 L29.9 142.8 L31.5 143.2 L33 143.6 L34.6 144 L36.1 144.5 L37.7 145 L39.2 145.6 L40.8 146.1 L42.4 146.7 L43.9 147.2 L45.5 147.7 L47 148.2 L48.6 148.7 L50.1 149.1 L51.7 149.4 L53.2 149.7 L54.8 149.9 L56.4 150 L58 150.2 L59.7 150.3 L61.3 150.5 L62.9 150.8 L64.5 151 L66.1 151.2 L67.8 151.4 L69.4 151.5 L71 151.6 L72.5 151.5 L74.1 151.4 L75.6 151.3 L77.2 151.1 L78.7 151 L80.3 150.8 L81.8 150.6 L83.4 150.4 L84.9 150.1 L86.5 149.9 L88 149.7 L89.5 149.5 L91.1 149.3 L92.6 149.1 L94.2 148.9 L95.7 148.7 L97.3 148.6 L98.8 148.4 L100.4 148.3 L101.9 148.2" stroke="#e02030" stroke-width="1.0"/><path d="M26.8 146.5 L28.4 146.5 L29.9 146.4 L31.5 146.3 L33 146.1 L34.6 146 L36.1 145.8 L37.7 145.6 L39.2 145.5 L40.8 145.3 L42.4 145.1 L43.9 144.9 L45.5 144.7 L47 144.6 L48.6 144.4 L50.1 144.3 L51.7 144.2 L53.2 144.1 L54.8 144 L56.4 144.2 L58 144.5 L59.7 144.9 L61.3 145.3 L62.9 145.7 L64.5 146.1 L66.1 146.6 L67.8 146.9 L69.4 147.2 L71 147.4 L72.5 147.5 L74.1 147.6 L75.6 147.7 L77.2 147.9 L78.7 148 L80.3 148.2 L81.8 148.4 L83.4 148.6 L84.9 148.9 L86.5 149.1 L88 149.3 L89.5 149.5 L91.1 149.7 L92.6 149.9 L94.2 150.1 L95.7 150.3 L97.3 150.4 L98.8 150.6 L100.4 150.7 L101.9 150.8" stroke="#e02838" stroke-width="1.0"/><path d="M26.8 141.5 L28.4 141.6 L29.9 141.7 L31.5 141.9 L33 142 L34.6 142.2 L36.1 142.5 L37.7 142.7 L39.2 142.9 L40.8 143.2 L42.4 143.4 L43.9 143.7 L45.5 143.9 L47 144.1 L48.6 144.3 L50.1 144.5 L51.7 144.6 L53.2 144.8 L54.8 144.9 L56.4 145 L58 145.2 L59.7 145.5 L61.3 145.8 L62.9 146.1 L64.5 146.5 L66.1 146.8 L67.8 147 L69.4 147.2 L71 147.4 L72.5 147.3 L74.1 147.1 L75.6 147 L77.2 146.8 L78.7 146.6 L80.3 146.3 L81.8 146.1 L83.4 145.8 L84.9 145.6 L86.5 145.3 L88 145 L89.5 144.7 L91.1 144.5 L92.6 144.2 L94.2 144 L95.7 143.8 L97.3 143.6 L98.8 143.4 L100.4 143.3 L101.9 143.2" stroke="#2030c8" stroke-width="1.0"/><path d="M26.8 143.2 L28.4 143.2 L29.9 143.1 L31.5 143.1 L33 143 L34.6 143 L36.1 142.9 L37.7 142.9 L39.2 142.8 L40.8 142.8 L42.4 142.7 L43.9 142.6 L45.5 142.6 L47 142.5 L48.6 142.5 L50.1 142.4 L51.7 142.4 L53.2 142.4 L54.8 142.3 L56.4 142.5 L58 142.7 L59.7 143 L61.3 143.3 L62.9 143.6 L64.5 143.9 L66.1 144.2 L67.8 144.5 L69.4 144.7 L71 144.9 L72.5 144.8 L74.1 144.7 L75.6 144.5 L77.2 144.4 L78.7 144.2 L80.3 144 L81.8 143.8 L83.4 143.6 L84.9 143.4 L86.5 143.2 L88 143 L89.5 142.7 L91.1 142.5 L92.6 142.3 L94.2 142.1 L95.7 142 L97.3 141.8 L98.8 141.7 L100.4 141.6 L101.9 141.5" stroke="#8030a0" stroke-width="1.0"/><path d="M26.8 144 L28.4 144.1 L29.9 144.2 L31.5 144.4 L33 144.6 L34.6 144.8 L36.1 145 L37.7 145.2 L39.2 145.5 L40.8 145.7 L42.4 146 L43.9 146.2 L45.5 146.4 L47 146.6 L48.6 146.8 L50.1 147 L51.7 147.2 L53.2 147.3 L54.8 147.4 L56.4 147 L58 146.6 L59.7 145.9 L61.3 145.2 L62.9 144.4 L64.5 143.7 L66.1 143 L67.8 142.3 L69.4 141.8 L71 141.5 L72.5 141.6 L74.1 141.7 L75.6 141.9 L77.2 142.1 L78.7 142.3 L80.3 142.5 L81.8 142.8 L83.4 143.1 L84.9 143.3 L86.5 143.6 L88 143.9 L89.5 144.1 L91.1 144.4 L92.6 144.7 L94.2 144.9 L95.7 145.1 L97.3 145.3 L98.8 145.5 L100.4 145.6 L101.9 145.7" stroke="#e02030" stroke-width="1.0"/><path d="M26.8 149.1 L28.4 148.9 L29.9 148.6 L31.5 148.2 L33 147.8 L34.6 147.4 L36.1 146.9 L37.7 146.4 L39.2 145.8 L40.8 145.3 L42.4 144.7 L43.9 144.2 L45.5 143.7 L47 143.2 L48.6 142.7 L50.1 142.3 L51.7 142 L53.2 141.7 L54.8 141.5 L56.4 141.8 L58 142.2 L59.7 142.7 L61.3 143.4 L62.9 144 L64.5 144.7 L66.1 145.3 L67.8 145.8 L69.4 146.3 L71 146.5 L72.5 146.6 L74.1 146.6 L75.6 146.6 L77.2 146.7 L78.7 146.7 L80.3 146.8 L81.8 146.8 L83.4 146.9 L84.9 146.9 L86.5 147 L88 147 L89.5 147.1 L91.1 147.1 L92.6 147.2 L94.2 147.2 L95.7 147.3 L97.3 147.3 L98.8 147.3 L100.4 147.4 L101.9 147.4" stroke="#3040c0" stroke-width="0.9"/></g><line x1="26.8" y1="188.7" x2="101.9" y2="188.7" stroke="#333" stroke-width="1"/><line x1="105.3" y1="188.7" x2="143.2" y2="188.7" stroke="#333" stroke-width="1"/><g clip-path="url(#cdE)"><path d="M105.3 191.2 L105.3 191.2 L105.8 191.6 L106.3 191.9 L106.8 192.2 L107.5 192.6 L108.2 192.9 L108.9 193.3 L109.6 193.6 L110.3 193.9 L110.8 194.3 L111.2 194.6 L111.5 194.9 L111.7 195.3 L111.9 195.6 L112.3 195.9 L112.8 196.3 L113.4 196.6 L114.1 197 L114.8 197.3 L115.4 197.6 L115.8 198 L116.9 198.3 L118.5 198.6 L120.1 199 L121.7 199.3 L123.3 199.7 L124.9 200 L124.1 200.3 L122.5 200.7 L120.9 201 L119.3 201.3 L117.7 201.7 L118.1 202 L118.1 202.4 L118 202.7 L117.7 203 L117.4 203.4 L118.5 203.7 L120.1 204 L121.7 204.4 L123.3 204.7 L124.9 205.1 L124.1 205.4 L122.5 205.7 L120.9 206.1 L119.3 206.4 L117.9 206.7 L117.1 207.1 L116.4 207.4 L115.7 207.8 L115.4 208.1 L116.3 208.4 L117.8 208.8 L119.4 209.1 L120.9 209.4 L122.4 209.8 L123.9 210.1 L123.2 210.4 L121.6 210.8 L120.1 211.1 L118.6 211.5 L117.1 211.8 L115.6 212.1 L116 212.5 L116.6 212.8 L117.4 213.1 L118.1 213.5 L118.7 213.8 L119.4 214.2 L120.9 214.5 L122.4 214.8 L123.9 215.2 L123.2 215.5 L121.6 215.8 L120.1 216.2 L118.6 216.5 L117.1 216.9 L117.4 217.2 L117.7 217.5 L117.8 217.9 L117.8 218.2 L117.4 218.5 L118.2 218.9 L119.6 219.2 L120.9 219.6 L122.3 219.9 L120.9 220.2 L119.6 220.6 L118.2 220.9 L116.9 221.2 L116.3 221.6 L116.9 221.9 L117.4 222.3 L118.7 222.6 L120.4 222.9 L122.1 223.3 L123.8 223.6 L125.5 223.9 L125.5 224.3 L123.8 224.6 L122.1 224.9 L120.4 225.3 L118.7 225.6 L119.1 226 L119.3 226.3 L119.1 226.6 L118.7 227 L118.6 227.3 L121 227.6 L123.3 228 L125.6 228.3 L127.9 228.7 L130.2 229 L132.6 229.3 L133.7 229.7 L131.4 230 L129.1 230.3 L126.8 230.7 L124.4 231 L122.1 231.4 L119.8 231.7 L117.5 232 L115.2 232.4 L115.2 232.7 L115.7 233 L116.4 233.4 L105.3 233.4Z" fill="#b0b0b0" stroke="#8c8c8c" stroke-width="0.4"/><path d="M105.3 140.6 L127.3 140.6 L127.3 144 L126.3 146.5 L122.3 147.2 L118.3 147.8 L123.3 148.4 L123.6 149.9 L123.3 151.6 L121.3 152.5 L114.3 153.3 L111.3 154.1 L107.3 155 L105.3 155.4 L105.3 155.4Z" fill="#b0b0b0" stroke="#8c8c8c" stroke-width="0.4"/><path d="M105.9 192.9 L106.1 193.6 L105.9 194.3 L106.3 194.9 L107.1 195.6 L107.4 196.3 L107.3 197 L107.1 197.6 L107.3 198.3 L106.6 199 L106 199.7 L105.9 200.3 L107.3 201 L108.3 201.7 L108.3 202.4 L108.8 203 L109.1 203.7 L109.1 204.4 L108.3 205.1 L107.2 205.7 L107.2 206.4 L108.3 207.1 L108.6 207.8 L108.9 208.4 L109.5 209.1 L110.3 209.8 L110.6 210.4 L109.7 211.1 L109.1 211.8 L109.1 212.5 L109.5 213.1 L109.4 213.8 L109.7 214.5 L110.7 215.2 L111.7 215.8 L112.1 216.5 L111.4 217.2 L111 217.9 L111 218.5 L110.5 219.2 L110 219.9 L110.3 220.6 L111.5 221.2 L112.8 221.9 L112.7 222.6 L112.8 223.3 L112.8 223.9 L113 224.6 L112.1 225.3 L111 226 L111.5 226.6 L112.8 227.3 L113.2 228 L113.6 228.7 L113.9 229.3 L114.4 230 L114.4 230.7 L113.5 231.4" fill="none" stroke="#2030c8" stroke-width="0.9"/><path d="M106.6 191.7 L107.8 192.3 L109.3 193 L111.4 193.7 L113.6 194.3 L114.6 195 L114.5 195.7 L114.5 196.4 L114.2 197 L112.5 197.7 L113.2 198.4 L115.7 199.1 L116.9 199.7 L116.7 200.4 L116.2 201.1 L116.5 201.8 L114.5 202.4 L112.7 203.1 L113.2 203.8 L115.1 204.5 L116.2 205.1 L116.4 205.8 L117.5 206.5 L117.9 207.2 L115.3 207.8 L113.5 208.5 L114.2 209.2 L114.7 209.9 L114.5 210.5 L116.2 211.2 L118 211.9 L118.1 212.6 L116.4 213.2 L115 213.9 L115 214.6 L114 215.3 L113.5 215.9 L115.7 216.6 L117.8 217.3 L118.1 218 L117 218.6 L116.9 219.3 L116.5 220 L114.2 220.6 L113.6 221.3 L115.6 222 L117 222.7 L117.1 223.3 L117.9 224 L118.7 224.7 L117.1 225.4 L114.6 226 L114.3 226.7 L115.6 227.4 L115.8 228.1 L116.6 228.7 L118.3 229.4 L119.4 230.1 L117.9 230.8 L115.6 231.4" fill="none" stroke="#e02030" stroke-width="0.9"/><path d="M106.8 141.5 L111.1 144 L108.9 145.7 L109.9 149.1 L114.3 151.2 L120.3 151.6 L111.3 152.5 L106.8 153.7" fill="none" stroke="#2030c8" stroke-width="1.0"/><path d="M106.6 141.5 L106.4 146.5 L106.7 150.8 L106.5 154.6" fill="none" stroke="#e02030" stroke-width="0.8"/></g><rect x="26.8" y="141.8" width="75.1" height="89.2" fill="none" stroke="#3a3a3a" stroke-width="1.2"/><rect x="105.3" y="141.8" width="37.9" height="89.2" fill="none" stroke="#3a3a3a" stroke-width="1.2"/><text x="25" y="232.8" font-size="5.3" text-anchor="end" font-weight="normal" fill="#222" font-family="Liberation Sans, sans-serif" >-5</text><text x="25" y="224.3" font-size="5.3" text-anchor="end" font-weight="normal" fill="#222" font-family="Liberation Sans, sans-serif" >-4</text><text x="25" y="215.9" font-size="5.3" text-anchor="end" font-weight="normal" fill="#222" font-family="Liberation Sans, sans-serif" >-3</text><text x="25" y="207.5" font-size="5.3" text-anchor="end" font-weight="normal" fill="#222" font-family="Liberation Sans, sans-serif" >-2</text><text x="25" y="199" font-size="5.3" text-anchor="end" font-weight="normal" fill="#222" font-family="Liberation Sans, sans-serif" >-1</text><text x="25" y="190.6" font-size="5.3" text-anchor="end" font-weight="normal" fill="#222" font-family="Liberation Sans, sans-serif" >0</text><text x="25" y="182.2" font-size="5.3" text-anchor="end" font-weight="normal" fill="#222" font-family="Liberation Sans, sans-serif" >1</text><text x="25" y="173.7" font-size="5.3" text-anchor="end" font-weight="normal" fill="#222" font-family="Liberation Sans, sans-serif" >2</text><text x="25" y="165.3" font-size="5.3" text-anchor="end" font-weight="normal" fill="#222" font-family="Liberation Sans, sans-serif" >3</text><text x="25" y="156.9" font-size="5.3" text-anchor="end" font-weight="normal" fill="#222" font-family="Liberation Sans, sans-serif" >4</text><text x="25" y="148.4" font-size="5.3" text-anchor="end" font-weight="normal" fill="#222" font-family="Liberation Sans, sans-serif" >5</text><text transform="translate(14.1 187) rotate(-90)" font-size="7.3" text-anchor="middle" font-style="italic" font-weight="bold" fill="#1a1a1a" font-family="Liberation Sans, sans-serif">E-E<tspan font-size="4.8" dy="1.5">f</tspan><tspan dy="-1.5">(eV)</tspan></text><text x="26.8" y="237.9" font-size="5.3" text-anchor="middle" font-weight="normal" fill="#111" font-family="Liberation Sans, sans-serif" >G</text><text x="54.8" y="237.9" font-size="5.3" text-anchor="middle" font-weight="normal" fill="#111" font-family="Liberation Sans, sans-serif" >M</text><text x="71" y="237.9" font-size="5.3" text-anchor="middle" font-weight="normal" fill="#111" font-family="Liberation Sans, sans-serif" >K</text><text x="101.9" y="237.9" font-size="5.3" text-anchor="middle" font-weight="normal" fill="#111" font-family="Liberation Sans, sans-serif" >G</text><text x="123.8" y="237.9" font-size="5.1" text-anchor="middle" font-weight="normal" fill="#111" font-family="Liberation Sans, sans-serif" >DOS</text><text x="6.2" y="148.2" font-size="7.6" text-anchor="start" font-weight="bold" fill="#222" font-family="Liberation Sans, sans-serif" >(E)</text><text x="55" y="170.3" font-size="5.4" text-anchor="start" font-weight="normal" fill="#c01830" font-family="Liberation Sans, sans-serif" >E<tspan font-size="3.6" dy="1.5">g</tspan><tspan dy="-1.5">=4.47 eV</tspan></text><rect x="126.9" y="142.4" width="15.7" height="13.8" fill="#fff"/><line x1="127.7" y1="144.8" x2="133.3" y2="144.8" stroke="#aaa" stroke-width="1"/><text x="134.6" y="146.1" font-size="3.5" text-anchor="start" font-weight="normal" fill="#222" font-family="Liberation Sans, sans-serif" >Total</text><line x1="127.7" y1="148.9" x2="133.3" y2="148.9" stroke="#2030c8" stroke-width="1"/><text x="134.6" y="150.2" font-size="3.5" text-anchor="start" font-weight="normal" fill="#222" font-family="Liberation Sans, sans-serif" >B</text><line x1="127.7" y1="153" x2="133.3" y2="153" stroke="#e02030" stroke-width="1"/><text x="134.6" y="154.2" font-size="3.5" text-anchor="start" font-weight="normal" fill="#222" font-family="Liberation Sans, sans-serif" >N</text><rect x="27.6" y="142.4" width="16.4" height="5.8" fill="#e4e4e4" stroke="#555" stroke-width="0.8"/><rect x="32.2" y="143.5" width="3.4" height="3.6" fill="#e02030"/><rect x="35.6" y="143.5" width="5.6" height="3.6" fill="#2030d0"/><text x="28.1" y="146.4" font-size="3" text-anchor="start" font-weight="normal" fill="#333" font-family="Liberation Sans, sans-serif" >N</text><clipPath id="cbF"><rect x="161.5" y="141.3" width="75.3" height="89"/></clipPath><clipPath id="cdF"><rect x="240.3" y="141.3" width="36.5" height="89"/></clipPath><path d="M161.5 221.6H236.8M240.3 221.6H276.8M161.5 212.7H236.8M240.3 212.7H276.8M161.5 203.9H236.8M240.3 203.9H276.8M161.5 195.1H236.8M240.3 195.1H276.8M161.5 186.2H236.8M240.3 186.2H276.8M161.5 177.4H236.8M240.3 177.4H276.8M161.5 168.6H236.8M240.3 168.6H276.8M161.5 159.8H236.8M240.3 159.8H276.8M161.5 150.9H236.8M240.3 150.9H276.8M161.5 142.1H236.8M240.3 142.1H276.8M189.5 141.3V230.3M205.5 141.3V230.3M249 141.3V230.3M257.7 141.3V230.3M266.4 141.3V230.3M275.1 141.3V230.3" stroke="#c4c4c4" stroke-width="0.6" fill="none"/><g clip-path="url(#cbF)" fill="none"><path d="M161.5 203.2 L163.1 203.4 L164.6 203.7 L166.2 204 L167.7 204.4 L169.3 204.8 L170.8 205.3 L172.4 205.8 L173.9 206.3 L175.5 206.9 L177.1 207.4 L178.6 207.9 L180.2 208.4 L181.7 208.9 L183.3 209.3 L184.8 209.7 L186.4 210 L187.9 210.3 L189.5 210.5 L191.1 210.1 L192.7 209.6 L194.3 208.9 L195.9 208.1 L197.5 207.3 L199.1 206.4 L200.7 205.6 L202.3 204.9 L203.9 204.4 L205.5 204 L207.1 204.1 L208.6 204.3 L210.2 204.5 L211.8 204.8 L213.3 205.1 L214.9 205.4 L216.5 205.7 L218 206 L219.6 206.4 L221.2 206.7 L222.7 207.1 L224.3 207.4 L225.8 207.8 L227.4 208.1 L229 208.4 L230.5 208.7 L232.1 208.9 L233.7 209.1 L235.2 209.3 L236.8 209.5" stroke="#d81040" stroke-width="0.9" stroke-opacity="0.9"/><path d="M161.5 208.4 L163.1 208.3 L164.6 208 L166.2 207.8 L167.7 207.5 L169.3 207.1 L170.8 206.7 L172.4 206.3 L173.9 205.9 L175.5 205.5 L177.1 205 L178.6 204.6 L180.2 204.2 L181.7 203.8 L183.3 203.5 L184.8 203.2 L186.4 202.9 L187.9 202.7 L189.5 202.5 L191.1 202.8 L192.7 203.1 L194.3 203.6 L195.9 204.2 L197.5 204.8 L199.1 205.4 L200.7 205.9 L202.3 206.4 L203.9 206.8 L205.5 207.1 L207.1 207.1 L208.6 207.1 L210.2 207.1 L211.8 207.1 L213.3 207.1 L214.9 207.1 L216.5 207.1 L218 207.1 L219.6 207.1 L221.2 207.1 L222.7 207.1 L224.3 207.1 L225.8 207.1 L227.4 207.1 L229 207.1 L230.5 207.1 L232.1 207.1 L233.7 207.1 L235.2 207.1 L236.8 207.1" stroke="#e8102c" stroke-width="0.9" stroke-opacity="0.9"/><path d="M161.5 199.7 L163.1 199.8 L164.6 199.9 L166.2 200 L167.7 200.1 L169.3 200.3 L170.8 200.5 L172.4 200.7 L173.9 200.9 L175.5 201.1 L177.1 201.3 L178.6 201.5 L180.2 201.7 L181.7 201.9 L183.3 202.1 L184.8 202.3 L186.4 202.4 L187.9 202.5 L189.5 202.6 L191.1 202.9 L192.7 203.3 L194.3 203.9 L195.9 204.5 L197.5 205.2 L199.1 205.9 L200.7 206.6 L202.3 207.1 L203.9 207.6 L205.5 207.9 L207.1 207.9 L208.6 207.9 L210.2 207.9 L211.8 207.9 L213.3 207.9 L214.9 207.9 L216.5 207.9 L218 207.9 L219.6 207.9 L221.2 207.8 L222.7 207.8 L224.3 207.8 L225.8 207.8 L227.4 207.8 L229 207.8 L230.5 207.8 L232.1 207.8 L233.7 207.8 L235.2 207.8 L236.8 207.8" stroke="#e01838" stroke-width="0.9" stroke-opacity="0.9"/><path d="M161.5 204.3 L163.1 204.2 L164.6 204.2 L166.2 204.2 L167.7 204.2 L169.3 204.1 L170.8 204.1 L172.4 204.1 L173.9 204 L175.5 204 L177.1 203.9 L178.6 203.9 L180.2 203.8 L181.7 203.8 L183.3 203.8 L184.8 203.7 L186.4 203.7 L187.9 203.7 L189.5 203.7 L191.1 203.4 L192.7 203 L194.3 202.6 L195.9 202 L197.5 201.4 L199.1 200.9 L200.7 200.3 L202.3 199.8 L203.9 199.5 L205.5 199.2 L207.1 199.2 L208.6 199.3 L210.2 199.3 L211.8 199.4 L213.3 199.4 L214.9 199.5 L216.5 199.6 L218 199.7 L219.6 199.7 L221.2 199.8 L222.7 199.9 L224.3 200 L225.8 200 L227.4 200.1 L229 200.2 L230.5 200.2 L232.1 200.3 L233.7 200.3 L235.2 200.4 L236.8 200.4" stroke="#d81040" stroke-width="0.9" stroke-opacity="0.9"/><path d="M161.5 218.2 L163.1 218.1 L164.6 217.9 L166.2 217.6 L167.7 217.3 L169.3 217 L170.8 216.7 L172.4 216.3 L173.9 216 L175.5 215.6 L177.1 215.2 L178.6 214.8 L180.2 214.4 L181.7 214.1 L183.3 213.8 L184.8 213.5 L186.4 213.3 L187.9 213.1 L189.5 212.9 L191.1 213.4 L192.7 214 L194.3 214.8 L195.9 215.7 L197.5 216.7 L199.1 217.7 L200.7 218.6 L202.3 219.4 L203.9 220 L205.5 220.4 L207.1 220.3 L208.6 220.1 L210.2 219.9 L211.8 219.7 L213.3 219.4 L214.9 219.1 L216.5 218.8 L218 218.5 L219.6 218.2 L221.2 217.8 L222.7 217.5 L224.3 217.2 L225.8 216.8 L227.4 216.5 L229 216.2 L230.5 216 L232.1 215.7 L233.7 215.5 L235.2 215.4 L236.8 215.2" stroke="#f06080" stroke-width="0.85" stroke-opacity="0.9"/><path d="M161.5 209 L163.1 209.1 L164.6 209.1 L166.2 209.1 L167.7 209.1 L169.3 209.1 L170.8 209.1 L172.4 209.1 L173.9 209.1 L175.5 209.1 L177.1 209.2 L178.6 209.2 L180.2 209.2 L181.7 209.2 L183.3 209.2 L184.8 209.2 L186.4 209.2 L187.9 209.2 L189.5 209.2 L191.1 209.3 L192.7 209.5 L194.3 209.7 L195.9 210 L197.5 210.2 L199.1 210.5 L200.7 210.7 L202.3 210.9 L203.9 211.1 L205.5 211.2 L207.1 211.1 L208.6 211.1 L210.2 210.9 L211.8 210.8 L213.3 210.7 L214.9 210.5 L216.5 210.3 L218 210.2 L219.6 210 L221.2 209.8 L222.7 209.6 L224.3 209.4 L225.8 209.2 L227.4 209 L229 208.9 L230.5 208.7 L232.1 208.6 L233.7 208.5 L235.2 208.4 L236.8 208.3" stroke="#f01830" stroke-width="0.85" stroke-opacity="0.9"/><path d="M161.5 216.2 L163.1 216.1 L164.6 216 L166.2 215.9 L167.7 215.8 L169.3 215.6 L170.8 215.5 L172.4 215.3 L173.9 215.1 L175.5 214.9 L177.1 214.7 L178.6 214.5 L180.2 214.4 L181.7 214.2 L183.3 214 L184.8 213.9 L186.4 213.8 L187.9 213.7 L189.5 213.6 L191.1 213.8 L192.7 214.2 L194.3 214.6 L195.9 215 L197.5 215.5 L199.1 216 L200.7 216.5 L202.3 216.9 L203.9 217.2 L205.5 217.5 L207.1 217.4 L208.6 217.4 L210.2 217.4 L211.8 217.4 L213.3 217.3 L214.9 217.3 L216.5 217.3 L218 217.2 L219.6 217.2 L221.2 217.1 L222.7 217.1 L224.3 217.1 L225.8 217 L227.4 217 L229 217 L230.5 216.9 L232.1 216.9 L233.7 216.9 L235.2 216.9 L236.8 216.8" stroke="#e83060" stroke-width="0.85" stroke-opacity="0.9"/><path d="M161.5 219.7 L163.1 219.7 L164.6 219.6 L166.2 219.5 L167.7 219.4 L169.3 219.3 L170.8 219.2 L172.4 219.1 L173.9 219 L175.5 218.9 L177.1 218.8 L178.6 218.7 L180.2 218.5 L181.7 218.4 L183.3 218.3 L184.8 218.3 L186.4 218.2 L187.9 218.1 L189.5 218.1 L191.1 217.9 L192.7 217.7 L194.3 217.3 L195.9 217 L197.5 216.6 L199.1 216.2 L200.7 215.8 L202.3 215.5 L203.9 215.3 L205.5 215.1 L207.1 215.2 L208.6 215.3 L210.2 215.5 L211.8 215.7 L213.3 215.9 L214.9 216.1 L216.5 216.4 L218 216.7 L219.6 216.9 L221.2 217.2 L222.7 217.5 L224.3 217.8 L225.8 218 L227.4 218.3 L229 218.5 L230.5 218.7 L232.1 218.9 L233.7 219.1 L235.2 219.2 L236.8 219.3" stroke="#e02050" stroke-width="0.85" stroke-opacity="0.9"/><path d="M161.5 210.9 L163.1 210.8 L164.6 210.7 L166.2 210.6 L167.7 210.5 L169.3 210.3 L170.8 210.2 L172.4 210 L173.9 209.8 L175.5 209.6 L177.1 209.4 L178.6 209.3 L180.2 209.1 L181.7 208.9 L183.3 208.8 L184.8 208.6 L186.4 208.5 L187.9 208.4 L189.5 208.3 L191.1 208.7 L192.7 209.2 L194.3 209.9 L195.9 210.7 L197.5 211.5 L199.1 212.3 L200.7 213 L202.3 213.7 L203.9 214.2 L205.5 214.6 L207.1 214.4 L208.6 214.1 L210.2 213.8 L211.8 213.5 L213.3 213.1 L214.9 212.6 L216.5 212.2 L218 211.7 L219.6 211.2 L221.2 210.6 L222.7 210.1 L224.3 209.6 L225.8 209.1 L227.4 208.7 L229 208.2 L230.5 207.8 L232.1 207.5 L233.7 207.2 L235.2 206.9 L236.8 206.7" stroke="#e01838" stroke-width="0.85" stroke-opacity="0.9"/><path d="M161.5 209.8 L163.1 210.1 L164.6 210.4 L166.2 210.7 L167.7 211.1 L169.3 211.6 L170.8 212.1 L172.4 212.6 L173.9 213.2 L175.5 213.7 L177.1 214.3 L178.6 214.9 L180.2 215.4 L181.7 215.9 L183.3 216.3 L184.8 216.8 L186.4 217.1 L187.9 217.4 L189.5 217.6 L191.1 217.2 L192.7 216.5 L194.3 215.7 L195.9 214.7 L197.5 213.7 L199.1 212.6 L200.7 211.7 L202.3 210.8 L203.9 210.2 L205.5 209.7 L207.1 209.9 L208.6 210.1 L210.2 210.4 L211.8 210.7 L213.3 211.1 L214.9 211.5 L216.5 211.9 L218 212.3 L219.6 212.8 L221.2 213.3 L222.7 213.7 L224.3 214.2 L225.8 214.7 L227.4 215.1 L229 215.5 L230.5 215.8 L232.1 216.2 L233.7 216.4 L235.2 216.7 L236.8 216.9" stroke="#d81040" stroke-width="0.85" stroke-opacity="0.9"/><path d="M161.5 205.3 L163.1 205.4 L164.6 205.5 L166.2 205.7 L167.7 205.9 L169.3 206.1 L170.8 206.4 L172.4 206.6 L173.9 206.9 L175.5 207.2 L177.1 207.5 L178.6 207.8 L180.2 208 L181.7 208.3 L183.3 208.5 L184.8 208.7 L186.4 208.9 L187.9 209 L189.5 209.1 L191.1 209.6 L192.7 210.3 L194.3 211.1 L195.9 212.1 L197.5 213.1 L199.1 214.2 L200.7 215.1 L202.3 216 L203.9 216.7 L205.5 217.1 L207.1 217.1 L208.6 217 L210.2 216.9 L211.8 216.8 L213.3 216.7 L214.9 216.6 L216.5 216.5 L218 216.3 L219.6 216.2 L221.2 216 L222.7 215.9 L224.3 215.8 L225.8 215.6 L227.4 215.5 L229 215.4 L230.5 215.3 L232.1 215.2 L233.7 215.1 L235.2 215 L236.8 215" stroke="#f01830" stroke-width="0.85" stroke-opacity="0.9"/><path d="M161.5 210.3 L163.1 210.1 L164.6 209.9 L166.2 209.7 L167.7 209.4 L169.3 209.1 L170.8 208.7 L172.4 208.4 L173.9 208 L175.5 207.6 L177.1 207.2 L178.6 206.8 L180.2 206.5 L181.7 206.1 L183.3 205.8 L184.8 205.5 L186.4 205.3 L187.9 205.1 L189.5 204.9 L191.1 205.3 L192.7 205.9 L194.3 206.6 L195.9 207.4 L197.5 208.3 L199.1 209.2 L200.7 210 L202.3 210.8 L203.9 211.3 L205.5 211.7 L207.1 211.5 L208.6 211.3 L210.2 211 L211.8 210.6 L213.3 210.3 L214.9 209.8 L216.5 209.4 L218 208.9 L219.6 208.4 L221.2 207.9 L222.7 207.4 L224.3 206.9 L225.8 206.4 L227.4 206 L229 205.6 L230.5 205.2 L232.1 204.8 L233.7 204.5 L235.2 204.3 L236.8 204.1" stroke="#d02058" stroke-width="0.85" stroke-opacity="0.9"/><path d="M161.5 213.8 L163.1 213.8 L164.6 213.8 L166.2 213.9 L167.7 213.9 L169.3 214 L170.8 214 L172.4 214.1 L173.9 214.2 L175.5 214.2 L177.1 214.3 L178.6 214.4 L180.2 214.4 L181.7 214.5 L183.3 214.5 L184.8 214.6 L186.4 214.6 L187.9 214.7 L189.5 214.7 L191.1 214.2 L192.7 213.4 L194.3 212.5 L195.9 211.5 L197.5 210.4 L199.1 209.2 L200.7 208.2 L202.3 207.3 L203.9 206.5 L205.5 206 L207.1 206.1 L208.6 206.2 L210.2 206.4 L211.8 206.5 L213.3 206.7 L214.9 206.9 L216.5 207.1 L218 207.3 L219.6 207.5 L221.2 207.7 L222.7 207.9 L224.3 208.1 L225.8 208.3 L227.4 208.5 L229 208.7 L230.5 208.9 L232.1 209 L233.7 209.2 L235.2 209.3 L236.8 209.4" stroke="#e83060" stroke-width="0.85" stroke-opacity="0.9"/><path d="M161.5 204.2 L163.1 204.2 L164.6 204.3 L166.2 204.4 L167.7 204.5 L169.3 204.6 L170.8 204.7 L172.4 204.8 L173.9 204.9 L175.5 205.1 L177.1 205.2 L178.6 205.3 L180.2 205.5 L181.7 205.6 L183.3 205.7 L184.8 205.8 L186.4 205.9 L187.9 205.9 L189.5 206 L191.1 206.3 L192.7 206.6 L194.3 207.1 L195.9 207.7 L197.5 208.3 L199.1 208.9 L200.7 209.5 L202.3 210 L203.9 210.4 L205.5 210.7 L207.1 210.5 L208.6 210.2 L210.2 209.9 L211.8 209.6 L213.3 209.2 L214.9 208.8 L216.5 208.4 L218 207.9 L219.6 207.4 L221.2 206.9 L222.7 206.4 L224.3 206 L225.8 205.5 L227.4 205 L229 204.6 L230.5 204.3 L232.1 203.9 L233.7 203.6 L235.2 203.4 L236.8 203.2" stroke="#d81040" stroke-width="0.85" stroke-opacity="0.9"/><path d="M161.5 205.1 L163.1 205.4 L164.6 205.8 L166.2 206.2 L167.7 206.7 L169.3 207.2 L170.8 207.8 L172.4 208.5 L173.9 209.1 L175.5 209.8 L177.1 210.5 L178.6 211.2 L180.2 211.8 L181.7 212.4 L183.3 213 L184.8 213.5 L186.4 213.9 L187.9 214.2 L189.5 214.5 L191.1 214.2 L192.7 213.8 L194.3 213.3 L195.9 212.7 L197.5 212 L199.1 211.4 L200.7 210.8 L202.3 210.3 L203.9 209.8 L205.5 209.5 L207.1 209.5 L208.6 209.5 L210.2 209.5 L211.8 209.5 L213.3 209.5 L214.9 209.5 L216.5 209.5 L218 209.5 L219.6 209.5 L221.2 209.5 L222.7 209.4 L224.3 209.4 L225.8 209.4 L227.4 209.4 L229 209.4 L230.5 209.4 L232.1 209.4 L233.7 209.4 L235.2 209.4 L236.8 209.4" stroke="#f06080" stroke-width="0.85" stroke-opacity="0.9"/><path d="M161.5 208.4 L163.1 208.3 L164.6 208.3 L166.2 208.2 L167.7 208.1 L169.3 207.9 L170.8 207.8 L172.4 207.7 L173.9 207.5 L175.5 207.4 L177.1 207.2 L178.6 207.1 L180.2 206.9 L181.7 206.8 L183.3 206.7 L184.8 206.6 L186.4 206.5 L187.9 206.4 L189.5 206.3 L191.1 206.1 L192.7 205.7 L194.3 205.2 L195.9 204.7 L197.5 204.1 L199.1 203.5 L200.7 203 L202.3 202.5 L203.9 202.1 L205.5 201.9 L207.1 201.9 L208.6 201.8 L210.2 201.8 L211.8 201.8 L213.3 201.8 L214.9 201.7 L216.5 201.7 L218 201.7 L219.6 201.6 L221.2 201.6 L222.7 201.5 L224.3 201.5 L225.8 201.5 L227.4 201.4 L229 201.4 L230.5 201.4 L232.1 201.4 L233.7 201.3 L235.2 201.3 L236.8 201.3" stroke="#f01830" stroke-width="0.85" stroke-opacity="0.9"/><path d="M161.5 224.2 L163.1 224.3 L164.6 224.5 L166.2 224.7 L167.7 224.9 L169.3 225.1 L170.8 225.3 L172.4 225.6 L173.9 225.9 L175.5 226.1 L177.1 226.4 L178.6 226.7 L180.2 226.9 L181.7 227.2 L183.3 227.4 L184.8 227.6 L186.4 227.8 L187.9 227.9 L189.5 228 L191.1 228.1 L192.7 228.2 L194.3 228.3 L195.9 228.4 L197.5 228.6 L199.1 228.7 L200.7 228.8 L202.3 228.9 L203.9 229 L205.5 229.1 L207.1 228.9 L208.6 228.7 L210.2 228.5 L211.8 228.2 L213.3 227.9 L214.9 227.6 L216.5 227.2 L218 226.8 L219.6 226.5 L221.2 226.1 L222.7 225.7 L224.3 225.3 L225.8 224.9 L227.4 224.6 L229 224.2 L230.5 223.9 L232.1 223.6 L233.7 223.4 L235.2 223.2 L236.8 223.1" stroke="#c01050" stroke-width="0.85" stroke-opacity="0.9"/><path d="M161.5 220.5 L163.1 220.4 L164.6 220.2 L166.2 220 L167.7 219.8 L169.3 219.6 L170.8 219.3 L172.4 219 L173.9 218.7 L175.5 218.4 L177.1 218 L178.6 217.7 L180.2 217.4 L181.7 217.2 L183.3 216.9 L184.8 216.7 L186.4 216.5 L187.9 216.3 L189.5 216.2 L191.1 216.6 L192.7 217.3 L194.3 218 L195.9 219 L197.5 219.9 L199.1 220.9 L200.7 221.8 L202.3 222.6 L203.9 223.2 L205.5 223.7 L207.1 223.6 L208.6 223.5 L210.2 223.4 L211.8 223.2 L213.3 223.1 L214.9 222.9 L216.5 222.7 L218 222.5 L219.6 222.3 L221.2 222.1 L222.7 221.9 L224.3 221.7 L225.8 221.5 L227.4 221.3 L229 221.1 L230.5 221 L232.1 220.8 L233.7 220.7 L235.2 220.6 L236.8 220.5" stroke="#f06080" stroke-width="0.85" stroke-opacity="0.9"/><path d="M161.5 230 L163.1 229.7 L164.6 229.3 L166.2 228.9 L167.7 228.3 L169.3 227.7 L170.8 227.1 L172.4 226.4 L173.9 225.7 L175.5 225 L177.1 224.2 L178.6 223.5 L180.2 222.8 L181.7 222.2 L183.3 221.6 L184.8 221 L186.4 220.6 L187.9 220.2 L189.5 219.9 L191.1 219.8 L192.7 219.7 L194.3 219.5 L195.9 219.2 L197.5 219 L199.1 218.7 L200.7 218.5 L202.3 218.3 L203.9 218.2 L205.5 218.1 L207.1 218.3 L208.6 218.7 L210.2 219.1 L211.8 219.5 L213.3 220 L214.9 220.6 L216.5 221.2 L218 221.8 L219.6 222.5 L221.2 223.1 L222.7 223.8 L224.3 224.5 L225.8 225.1 L227.4 225.7 L229 226.3 L230.5 226.8 L232.1 227.2 L233.7 227.6 L235.2 228 L236.8 228.2" stroke="#e02060" stroke-width="0.85" stroke-opacity="0.9"/><path d="M161.5 218.3 L163.1 218.5 L164.6 218.7 L166.2 218.9 L167.7 219.2 L169.3 219.6 L170.8 220 L172.4 220.4 L173.9 220.8 L175.5 221.2 L177.1 221.6 L178.6 222.1 L180.2 222.5 L181.7 222.8 L183.3 223.2 L184.8 223.5 L186.4 223.7 L187.9 224 L189.5 224.1 L191.1 223.6 L192.7 222.8 L194.3 221.8 L195.9 220.6 L197.5 219.4 L199.1 218.1 L200.7 217 L202.3 216 L203.9 215.2 L205.5 214.6 L207.1 214.8 L208.6 215.1 L210.2 215.5 L211.8 215.9 L213.3 216.3 L214.9 216.8 L216.5 217.4 L218 217.9 L219.6 218.5 L221.2 219.1 L222.7 219.7 L224.3 220.3 L225.8 220.8 L227.4 221.4 L229 221.9 L230.5 222.3 L232.1 222.7 L233.7 223.1 L235.2 223.4 L236.8 223.6" stroke="#e02060" stroke-width="0.85" stroke-opacity="0.9"/><path d="M161.5 220.8 L163.1 220.7 L164.6 220.5 L166.2 220.3 L167.7 220.1 L169.3 219.8 L170.8 219.6 L172.4 219.3 L173.9 218.9 L175.5 218.6 L177.1 218.3 L178.6 218 L180.2 217.7 L181.7 217.4 L183.3 217.1 L184.8 216.9 L186.4 216.7 L187.9 216.5 L189.5 216.4 L191.1 216.9 L192.7 217.5 L194.3 218.4 L195.9 219.3 L197.5 220.3 L199.1 221.3 L200.7 222.3 L202.3 223.1 L203.9 223.8 L205.5 224.2 L207.1 224.1 L208.6 223.9 L210.2 223.7 L211.8 223.5 L213.3 223.2 L214.9 222.9 L216.5 222.6 L218 222.3 L219.6 221.9 L221.2 221.6 L222.7 221.3 L224.3 220.9 L225.8 220.6 L227.4 220.3 L229 220 L230.5 219.7 L232.1 219.5 L233.7 219.3 L235.2 219.1 L236.8 219" stroke="#c01050" stroke-width="0.85" stroke-opacity="0.9"/><path d="M161.5 218.4 L163.1 218.6 L164.6 218.7 L166.2 218.9 L167.7 219.2 L169.3 219.5 L170.8 219.8 L172.4 220.1 L173.9 220.4 L175.5 220.8 L177.1 221.1 L178.6 221.4 L180.2 221.8 L181.7 222.1 L183.3 222.3 L184.8 222.6 L186.4 222.8 L187.9 223 L189.5 223.1 L191.1 222.5 L192.7 221.7 L194.3 220.6 L195.9 219.3 L197.5 218 L199.1 216.7 L200.7 215.4 L202.3 214.3 L203.9 213.5 L205.5 212.9 L207.1 212.8 L208.6 212.8 L210.2 212.7 L211.8 212.7 L213.3 212.6 L214.9 212.5 L216.5 212.5 L218 212.4 L219.6 212.3 L221.2 212.2 L222.7 212.1 L224.3 212 L225.8 212 L227.4 211.9 L229 211.8 L230.5 211.7 L232.1 211.7 L233.7 211.6 L235.2 211.6 L236.8 211.6" stroke="#d01850" stroke-width="0.85" stroke-opacity="0.9"/><path d="M161.5 224.3 L163.1 224 L164.6 223.6 L166.2 223.1 L167.7 222.5 L169.3 221.8 L170.8 221.1 L172.4 220.3 L173.9 219.5 L175.5 218.7 L177.1 217.9 L178.6 217.1 L180.2 216.3 L181.7 215.6 L183.3 215 L184.8 214.4 L186.4 213.9 L187.9 213.5 L189.5 213.1 L191.1 213.6 L192.7 214.4 L194.3 215.3 L195.9 216.3 L197.5 217.4 L199.1 218.5 L200.7 219.5 L202.3 220.4 L203.9 221.2 L205.5 221.7 L207.1 221.4 L208.6 221.1 L210.2 220.7 L211.8 220.3 L213.3 219.8 L214.9 219.3 L216.5 218.7 L218 218.1 L219.6 217.5 L221.2 216.8 L222.7 216.2 L224.3 215.6 L225.8 215 L227.4 214.4 L229 213.9 L230.5 213.4 L232.1 212.9 L233.7 212.6 L235.2 212.2 L236.8 212" stroke="#f06080" stroke-width="0.85" stroke-opacity="0.9"/><path d="M161.5 219.3 L163.1 219.4 L164.6 219.5 L166.2 219.6 L167.7 219.8 L169.3 220 L170.8 220.2 L172.4 220.4 L173.9 220.6 L175.5 220.9 L177.1 221.1 L178.6 221.3 L180.2 221.5 L181.7 221.7 L183.3 221.9 L184.8 222.1 L186.4 222.2 L187.9 222.3 L189.5 222.4 L191.1 222 L192.7 221.4 L194.3 220.7 L195.9 219.9 L197.5 219 L199.1 218.1 L200.7 217.3 L202.3 216.5 L203.9 216 L205.5 215.6 L207.1 215.5 L208.6 215.4 L210.2 215.2 L211.8 215.1 L213.3 214.9 L214.9 214.7 L216.5 214.5 L218 214.3 L219.6 214.1 L221.2 213.9 L222.7 213.6 L224.3 213.4 L225.8 213.2 L227.4 213 L229 212.8 L230.5 212.6 L232.1 212.5 L233.7 212.4 L235.2 212.3 L236.8 212.2" stroke="#e02060" stroke-width="0.85" stroke-opacity="0.9"/><path d="M161.5 221.9 L163.1 221.5 L164.6 221.1 L166.2 220.5 L167.7 219.8 L169.3 219 L170.8 218.2 L172.4 217.3 L173.9 216.4 L175.5 215.5 L177.1 214.6 L178.6 213.7 L180.2 212.8 L181.7 212 L183.3 211.2 L184.8 210.5 L186.4 209.9 L187.9 209.5 L189.5 209.1 L191.1 209.1 L192.7 209.2 L194.3 209.3 L195.9 209.4 L197.5 209.5 L199.1 209.6 L200.7 209.7 L202.3 209.7 L203.9 209.8 L205.5 209.8 L207.1 210 L208.6 210.1 L210.2 210.3 L211.8 210.5 L213.3 210.7 L214.9 211 L216.5 211.2 L218 211.5 L219.6 211.8 L221.2 212.1 L222.7 212.4 L224.3 212.7 L225.8 212.9 L227.4 213.2 L229 213.4 L230.5 213.7 L232.1 213.9 L233.7 214 L235.2 214.2 L236.8 214.3" stroke="#d02058" stroke-width="0.85" stroke-opacity="0.9"/><path d="M161.5 209.5 L163.1 209.5 L164.6 209.5 L166.2 209.4 L167.7 209.4 L169.3 209.3 L170.8 209.3 L172.4 209.2 L173.9 209.1 L175.5 209.1 L177.1 209 L178.6 208.9 L180.2 208.9 L181.7 208.8 L183.3 208.7 L184.8 208.7 L186.4 208.7 L187.9 208.6 L189.5 208.6 L191.1 208.9 L192.7 209.3 L194.3 209.7 L195.9 210.3 L197.5 210.9 L199.1 211.5 L200.7 212.1 L202.3 212.6 L203.9 212.9 L205.5 213.2 L207.1 213.2 L208.6 213.2 L210.2 213.2 L211.8 213.2 L213.3 213.1 L214.9 213.1 L216.5 213.1 L218 213.1 L219.6 213 L221.2 213 L222.7 213 L224.3 213 L225.8 212.9 L227.4 212.9 L229 212.9 L230.5 212.9 L232.1 212.9 L233.7 212.8 L235.2 212.8 L236.8 212.8" stroke="#e02050" stroke-width="0.85" stroke-opacity="0.9"/><path d="M161.5 216 L163.1 216.2 L164.6 216.4 L166.2 216.7 L167.7 217 L169.3 217.4 L170.8 217.8 L172.4 218.2 L173.9 218.6 L175.5 219 L177.1 219.5 L178.6 219.9 L180.2 220.3 L181.7 220.7 L183.3 221.1 L184.8 221.4 L186.4 221.7 L187.9 221.9 L189.5 222.1 L191.1 221.6 L192.7 220.9 L194.3 220.1 L195.9 219.1 L197.5 218.1 L199.1 217.1 L200.7 216.1 L202.3 215.3 L203.9 214.7 L205.5 214.2 L207.1 214.4 L208.6 214.6 L210.2 214.8 L211.8 215.1 L213.3 215.5 L214.9 215.8 L216.5 216.2 L218 216.6 L219.6 217 L221.2 217.4 L222.7 217.9 L224.3 218.3 L225.8 218.7 L227.4 219.1 L229 219.4 L230.5 219.8 L232.1 220.1 L233.7 220.3 L235.2 220.5 L236.8 220.7" stroke="#c81858" stroke-width="0.85" stroke-opacity="0.9"/><path d="M161.5 213.3 L163.1 213.4 L164.6 213.5 L166.2 213.7 L167.7 213.9 L169.3 214.2 L170.8 214.4 L172.4 214.7 L173.9 215 L175.5 215.3 L177.1 215.6 L178.6 215.9 L180.2 216.2 L181.7 216.4 L183.3 216.7 L184.8 216.9 L186.4 217.1 L187.9 217.2 L189.5 217.3 L191.1 217.1 L192.7 216.7 L194.3 216.1 L195.9 215.6 L197.5 214.9 L199.1 214.3 L200.7 213.7 L202.3 213.2 L203.9 212.8 L205.5 212.5 L207.1 212.6 L208.6 212.7 L210.2 212.9 L211.8 213 L213.3 213.2 L214.9 213.4 L216.5 213.7 L218 213.9 L219.6 214.1 L221.2 214.4 L222.7 214.6 L224.3 214.9 L225.8 215.1 L227.4 215.3 L229 215.5 L230.5 215.7 L232.1 215.9 L233.7 216 L235.2 216.2 L236.8 216.3" stroke="#e02050" stroke-width="0.85" stroke-opacity="0.9"/><path d="M161.5 230.1 L163.1 230.2 L164.6 230.4 L166.2 230.7 L167.7 231 L169.3 231.3 L170.8 231.6 L172.4 232 L173.9 232.4 L175.5 232.8 L177.1 233.2 L178.6 233.6 L180.2 233.9 L181.7 234.3 L183.3 234.6 L184.8 234.9 L186.4 235.1 L187.9 235.3 L189.5 235.5 L191.1 235.4 L192.7 235.3 L194.3 235.2 L195.9 235 L197.5 234.8 L199.1 234.7 L200.7 234.5 L202.3 234.4 L203.9 234.2 L205.5 234.2 L207.1 234.3 L208.6 234.5 L210.2 234.7 L211.8 235 L213.3 235.2 L214.9 235.5 L216.5 235.9 L218 236.2 L219.6 236.6 L221.2 237 L222.7 237.3 L224.3 237.7 L225.8 238 L227.4 238.4 L229 238.7 L230.5 238.9 L232.1 239.2 L233.7 239.4 L235.2 239.6 L236.8 239.7" stroke="#e02060" stroke-width="0.85" stroke-opacity="0.9"/><path d="M161.5 231.7 L163.1 231.7 L164.6 231.7 L166.2 231.6 L167.7 231.6 L169.3 231.5 L170.8 231.5 L172.4 231.4 L173.9 231.3 L175.5 231.3 L177.1 231.2 L178.6 231.1 L180.2 231.1 L181.7 231 L183.3 231 L184.8 230.9 L186.4 230.9 L187.9 230.8 L189.5 230.8 L191.1 230.7 L192.7 230.7 L194.3 230.6 L195.9 230.4 L197.5 230.3 L199.1 230.2 L200.7 230.1 L202.3 230 L203.9 229.9 L205.5 229.8 L207.1 229.8 L208.6 229.8 L210.2 229.8 L211.8 229.8 L213.3 229.8 L214.9 229.8 L216.5 229.9 L218 229.9 L219.6 229.9 L221.2 229.9 L222.7 229.9 L224.3 229.9 L225.8 229.9 L227.4 229.9 L229 229.9 L230.5 229.9 L232.1 229.9 L233.7 229.9 L235.2 229.9 L236.8 229.9" stroke="#c01050" stroke-width="0.85" stroke-opacity="0.9"/><path d="M161.5 232.6 L163.1 232.4 L164.6 232.2 L166.2 231.9 L167.7 231.6 L169.3 231.2 L170.8 230.8 L172.4 230.4 L173.9 229.9 L175.5 229.5 L177.1 229 L178.6 228.6 L180.2 228.1 L181.7 227.7 L183.3 227.4 L184.8 227 L186.4 226.8 L187.9 226.5 L189.5 226.3 L191.1 226.5 L192.7 226.8 L194.3 227.1 L195.9 227.5 L197.5 227.9 L199.1 228.3 L200.7 228.6 L202.3 228.9 L203.9 229.2 L205.5 229.4 L207.1 229.3 L208.6 229.3 L210.2 229.2 L211.8 229.1 L213.3 229 L214.9 228.9 L216.5 228.8 L218 228.7 L219.6 228.6 L221.2 228.4 L222.7 228.3 L224.3 228.2 L225.8 228.1 L227.4 227.9 L229 227.8 L230.5 227.7 L232.1 227.7 L233.7 227.6 L235.2 227.5 L236.8 227.5" stroke="#d01850" stroke-width="0.85" stroke-opacity="0.9"/><path d="M161.5 225.7 L163.1 225.9 L164.6 226.1 L166.2 226.3 L167.7 226.6 L169.3 226.9 L170.8 227.2 L172.4 227.6 L173.9 228 L175.5 228.4 L177.1 228.8 L178.6 229.1 L180.2 229.5 L181.7 229.9 L183.3 230.2 L184.8 230.5 L186.4 230.7 L187.9 230.9 L189.5 231.1 L191.1 231.1 L192.7 231.1 L194.3 231.1 L195.9 231.1 L197.5 231.1 L199.1 231.1 L200.7 231.1 L202.3 231.1 L203.9 231.1 L205.5 231.1 L207.1 231.1 L208.6 231.1 L210.2 231.2 L211.8 231.3 L213.3 231.3 L214.9 231.4 L216.5 231.5 L218 231.6 L219.6 231.6 L221.2 231.7 L222.7 231.8 L224.3 231.9 L225.8 232 L227.4 232.1 L229 232.1 L230.5 232.2 L232.1 232.3 L233.7 232.3 L235.2 232.3 L236.8 232.4" stroke="#d01850" stroke-width="0.85" stroke-opacity="0.9"/><path d="M161.5 237 L163.1 236.7 L164.6 236.4 L166.2 235.9 L167.7 235.4 L169.3 234.9 L170.8 234.3 L172.4 233.6 L173.9 232.9 L175.5 232.3 L177.1 231.6 L178.6 230.9 L180.2 230.2 L181.7 229.6 L183.3 229.1 L184.8 228.6 L186.4 228.2 L187.9 227.8 L189.5 227.5 L191.1 227.4 L192.7 227.2 L194.3 226.9 L195.9 226.6 L197.5 226.3 L199.1 226 L200.7 225.7 L202.3 225.4 L203.9 225.2 L205.5 225.1 L207.1 225.1 L208.6 225.2 L210.2 225.3 L211.8 225.4 L213.3 225.5 L214.9 225.6 L216.5 225.8 L218 225.9 L219.6 226.1 L221.2 226.2 L222.7 226.4 L224.3 226.5 L225.8 226.7 L227.4 226.8 L229 227 L230.5 227.1 L232.1 227.2 L233.7 227.3 L235.2 227.4 L236.8 227.4" stroke="#e04070" stroke-width="0.85" stroke-opacity="0.9"/><path d="M161.5 225.7 L163.1 225.6 L164.6 225.6 L166.2 225.5 L167.7 225.4 L169.3 225.4 L170.8 225.3 L172.4 225.2 L173.9 225.1 L175.5 225 L177.1 224.9 L178.6 224.8 L180.2 224.7 L181.7 224.6 L183.3 224.6 L184.8 224.5 L186.4 224.4 L187.9 224.4 L189.5 224.3 L191.1 224.4 L192.7 224.4 L194.3 224.4 L195.9 224.4 L197.5 224.4 L199.1 224.4 L200.7 224.4 L202.3 224.4 L203.9 224.4 L205.5 224.4 L207.1 224.7 L208.6 224.9 L210.2 225.3 L211.8 225.7 L213.3 226.2 L214.9 226.6 L216.5 227.2 L218 227.7 L219.6 228.3 L221.2 228.9 L222.7 229.5 L224.3 230.1 L225.8 230.6 L227.4 231.1 L229 231.6 L230.5 232.1 L232.1 232.5 L233.7 232.8 L235.2 233.1 L236.8 233.4" stroke="#a81050" stroke-width="0.85" stroke-opacity="0.9"/><path d="M161.5 228.6 L163.1 228.7 L164.6 228.7 L166.2 228.8 L167.7 228.9 L169.3 229 L170.8 229.1 L172.4 229.2 L173.9 229.3 L175.5 229.4 L177.1 229.5 L178.6 229.6 L180.2 229.7 L181.7 229.8 L183.3 229.9 L184.8 230 L186.4 230 L187.9 230.1 L189.5 230.1 L191.1 230.4 L192.7 230.8 L194.3 231.4 L195.9 231.9 L197.5 232.6 L199.1 233.2 L200.7 233.8 L202.3 234.3 L203.9 234.7 L205.5 235 L207.1 234.8 L208.6 234.5 L210.2 234.1 L211.8 233.7 L213.3 233.3 L214.9 232.8 L216.5 232.2 L218 231.7 L219.6 231.1 L221.2 230.5 L222.7 229.9 L224.3 229.3 L225.8 228.7 L227.4 228.2 L229 227.7 L230.5 227.2 L232.1 226.8 L233.7 226.5 L235.2 226.2 L236.8 225.9" stroke="#e04070" stroke-width="0.85" stroke-opacity="0.9"/><path d="M161.5 226.7 L163.1 226.6 L164.6 226.6 L166.2 226.5 L167.7 226.4 L169.3 226.3 L170.8 226.2 L172.4 226.1 L173.9 226 L175.5 225.9 L177.1 225.8 L178.6 225.6 L180.2 225.5 L181.7 225.4 L183.3 225.3 L184.8 225.3 L186.4 225.2 L187.9 225.1 L189.5 225.1 L191.1 224.8 L192.7 224.5 L194.3 224.1 L195.9 223.6 L197.5 223.1 L199.1 222.6 L200.7 222.1 L202.3 221.6 L203.9 221.3 L205.5 221.1 L207.1 221.1 L208.6 221.1 L210.2 221.2 L211.8 221.2 L213.3 221.2 L214.9 221.3 L216.5 221.3 L218 221.4 L219.6 221.4 L221.2 221.5 L222.7 221.6 L224.3 221.6 L225.8 221.7 L227.4 221.7 L229 221.8 L230.5 221.8 L232.1 221.8 L233.7 221.9 L235.2 221.9 L236.8 221.9" stroke="#b81058" stroke-width="0.85" stroke-opacity="0.9"/><path d="M161.5 223.9 L163.1 223.9 L164.6 223.8 L166.2 223.6 L167.7 223.5 L169.3 223.3 L170.8 223.1 L172.4 222.9 L173.9 222.7 L175.5 222.5 L177.1 222.3 L178.6 222.1 L180.2 221.9 L181.7 221.7 L183.3 221.6 L184.8 221.4 L186.4 221.3 L187.9 221.2 L189.5 221.1 L191.1 221.5 L192.7 222 L194.3 222.7 L195.9 223.4 L197.5 224.3 L199.1 225.1 L200.7 225.8 L202.3 226.5 L203.9 227 L205.5 227.4 L207.1 227.3 L208.6 227.1 L210.2 226.9 L211.8 226.6 L213.3 226.4 L214.9 226.1 L216.5 225.7 L218 225.4 L219.6 225 L221.2 224.7 L222.7 224.3 L224.3 224 L225.8 223.6 L227.4 223.3 L229 223 L230.5 222.7 L232.1 222.5 L233.7 222.3 L235.2 222.1 L236.8 222" stroke="#c81858" stroke-width="0.85" stroke-opacity="0.9"/><path d="M161.5 226.7 L163.1 226.9 L164.6 227 L166.2 227.2 L167.7 227.4 L169.3 227.7 L170.8 228 L172.4 228.3 L173.9 228.6 L175.5 228.9 L177.1 229.2 L178.6 229.5 L180.2 229.8 L181.7 230 L183.3 230.3 L184.8 230.5 L186.4 230.7 L187.9 230.8 L189.5 231 L191.1 231 L192.7 231.1 L194.3 231.1 L195.9 231.2 L197.5 231.3 L199.1 231.4 L200.7 231.5 L202.3 231.6 L203.9 231.6 L205.5 231.7 L207.1 231.5 L208.6 231.3 L210.2 231.1 L211.8 230.8 L213.3 230.5 L214.9 230.1 L216.5 229.7 L218 229.3 L219.6 228.9 L221.2 228.5 L222.7 228.1 L224.3 227.7 L225.8 227.3 L227.4 226.9 L229 226.6 L230.5 226.3 L232.1 226 L233.7 225.7 L235.2 225.5 L236.8 225.4" stroke="#c81858" stroke-width="0.85" stroke-opacity="0.9"/><path d="M161.5 224.7 L163.1 224.5 L164.6 224.3 L166.2 224 L167.7 223.7 L169.3 223.4 L170.8 223 L172.4 222.6 L173.9 222.2 L175.5 221.7 L177.1 221.3 L178.6 220.9 L180.2 220.5 L181.7 220.1 L183.3 219.8 L184.8 219.5 L186.4 219.2 L187.9 219 L189.5 218.8 L191.1 219.6 L192.7 220.7 L194.3 222.2 L195.9 223.8 L197.5 225.5 L199.1 227.3 L200.7 228.9 L202.3 230.3 L203.9 231.5 L205.5 232.2 L207.1 232.2 L208.6 232 L210.2 231.9 L211.8 231.8 L213.3 231.6 L214.9 231.4 L216.5 231.2 L218 231 L219.6 230.8 L221.2 230.5 L222.7 230.3 L224.3 230.1 L225.8 229.9 L227.4 229.7 L229 229.5 L230.5 229.3 L232.1 229.1 L233.7 229 L235.2 228.9 L236.8 228.8" stroke="#e02060" stroke-width="0.85" stroke-opacity="0.9"/><path d="M161.5 229 L163.1 228.9 L164.6 228.7 L166.2 228.5 L167.7 228.3 L169.3 228.1 L170.8 227.9 L172.4 227.6 L173.9 227.3 L175.5 227.1 L177.1 226.8 L178.6 226.5 L180.2 226.3 L181.7 226 L183.3 225.8 L184.8 225.6 L186.4 225.4 L187.9 225.3 L189.5 225.2 L191.1 225.2 L192.7 225.2 L194.3 225.1 L195.9 225.1 L197.5 225.1 L199.1 225.1 L200.7 225.1 L202.3 225.1 L203.9 225 L205.5 225 L207.1 225 L208.6 225 L210.2 224.9 L211.8 224.9 L213.3 224.8 L214.9 224.8 L216.5 224.7 L218 224.6 L219.6 224.5 L221.2 224.5 L222.7 224.4 L224.3 224.3 L225.8 224.3 L227.4 224.2 L229 224.1 L230.5 224.1 L232.1 224 L233.7 224 L235.2 223.9 L236.8 223.9" stroke="#c81858" stroke-width="0.85" stroke-opacity="0.9"/><path d="M161.5 221.9 L163.1 222.1 L164.6 222.4 L166.2 222.7 L167.7 223.1 L169.3 223.6 L170.8 224 L172.4 224.6 L173.9 225.1 L175.5 225.7 L177.1 226.2 L178.6 226.8 L180.2 227.3 L181.7 227.8 L183.3 228.2 L184.8 228.6 L186.4 229 L187.9 229.3 L189.5 229.5 L191.1 229.5 L192.7 229.5 L194.3 229.5 L195.9 229.6 L197.5 229.6 L199.1 229.6 L200.7 229.6 L202.3 229.7 L203.9 229.7 L205.5 229.7 L207.1 229.4 L208.6 229 L210.2 228.5 L211.8 227.9 L213.3 227.3 L214.9 226.6 L216.5 225.9 L218 225.2 L219.6 224.4 L221.2 223.6 L222.7 222.8 L224.3 222 L225.8 221.2 L227.4 220.5 L229 219.8 L230.5 219.2 L232.1 218.6 L233.7 218.2 L235.2 217.8 L236.8 217.4" stroke="#e02060" stroke-width="0.85" stroke-opacity="0.9"/><path d="M161.5 153.2 L163.1 153 L164.6 152.9 L166.2 152.7 L167.7 152.4 L169.3 152.2 L170.8 151.9 L172.4 151.6 L173.9 151.3 L175.5 150.9 L177.1 150.6 L178.6 150.3 L180.2 150 L181.7 149.7 L183.3 149.4 L184.8 149.2 L186.4 149 L187.9 148.8 L189.5 148.7 L191.1 148.7 L192.7 148.7 L194.3 148.7 L195.9 148.7 L197.5 148.7 L199.1 148.7 L200.7 148.7 L202.3 148.7 L203.9 148.7 L205.5 148.7 L207.1 148.7 L208.6 148.6 L210.2 148.6 L211.8 148.6 L213.3 148.6 L214.9 148.5 L216.5 148.5 L218 148.4 L219.6 148.4 L221.2 148.3 L222.7 148.3 L224.3 148.2 L225.8 148.2 L227.4 148.1 L229 148.1 L230.5 148.1 L232.1 148 L233.7 148 L235.2 148 L236.8 148" stroke="#e02030" stroke-width="0.9" stroke-opacity="0.9"/><path d="M161.5 146.8 L163.1 146.8 L164.6 146.8 L166.2 146.8 L167.7 146.8 L169.3 146.8 L170.8 146.9 L172.4 146.9 L173.9 146.9 L175.5 146.9 L177.1 146.9 L178.6 146.9 L180.2 146.9 L181.7 146.9 L183.3 147 L184.8 147 L186.4 147 L187.9 147 L189.5 147 L191.1 147.3 L192.7 147.7 L194.3 148.2 L195.9 148.8 L197.5 149.5 L199.1 150.1 L200.7 150.7 L202.3 151.2 L203.9 151.6 L205.5 151.9 L207.1 151.8 L208.6 151.7 L210.2 151.5 L211.8 151.3 L213.3 151.1 L214.9 150.8 L216.5 150.5 L218 150.3 L219.6 150 L221.2 149.7 L222.7 149.4 L224.3 149.1 L225.8 148.8 L227.4 148.5 L229 148.3 L230.5 148 L232.1 147.8 L233.7 147.7 L235.2 147.5 L236.8 147.4" stroke="#7030b0" stroke-width="0.9" stroke-opacity="0.9"/><path d="M161.5 151.8 L163.1 151.7 L164.6 151.5 L166.2 151.3 L167.7 151.1 L169.3 150.8 L170.8 150.5 L172.4 150.2 L173.9 149.9 L175.5 149.6 L177.1 149.3 L178.6 149 L180.2 148.7 L181.7 148.4 L183.3 148.1 L184.8 147.9 L186.4 147.7 L187.9 147.5 L189.5 147.4 L191.1 147.4 L192.7 147.4 L194.3 147.3 L195.9 147.3 L197.5 147.2 L199.1 147.1 L200.7 147.1 L202.3 147 L203.9 147 L205.5 147 L207.1 147 L208.6 147 L210.2 147.1 L211.8 147.1 L213.3 147.2 L214.9 147.2 L216.5 147.3 L218 147.3 L219.6 147.4 L221.2 147.5 L222.7 147.5 L224.3 147.6 L225.8 147.6 L227.4 147.7 L229 147.8 L230.5 147.8 L232.1 147.9 L233.7 147.9 L235.2 147.9 L236.8 147.9" stroke="#d02048" stroke-width="0.9" stroke-opacity="0.9"/><path d="M161.5 149.9 L163.1 149.8 L164.6 149.6 L166.2 149.4 L167.7 149.1 L169.3 148.8 L170.8 148.5 L172.4 148.2 L173.9 147.8 L175.5 147.5 L177.1 147.1 L178.6 146.8 L180.2 146.4 L181.7 146.1 L183.3 145.8 L184.8 145.6 L186.4 145.4 L187.9 145.2 L189.5 145 L191.1 145.4 L192.7 145.9 L194.3 146.5 L195.9 147.2 L197.5 148 L199.1 148.7 L200.7 149.4 L202.3 150.1 L203.9 150.6 L205.5 150.9 L207.1 150.9 L208.6 150.9 L210.2 150.9 L211.8 150.8 L213.3 150.8 L214.9 150.8 L216.5 150.8 L218 150.8 L219.6 150.7 L221.2 150.7 L222.7 150.7 L224.3 150.7 L225.8 150.6 L227.4 150.6 L229 150.6 L230.5 150.6 L232.1 150.5 L233.7 150.5 L235.2 150.5 L236.8 150.5" stroke="#2a38c0" stroke-width="0.9" stroke-opacity="0.9"/><path d="M161.5 143.4 L163.1 143.6 L164.6 143.7 L166.2 144 L167.7 144.2 L169.3 144.5 L170.8 144.8 L172.4 145.1 L173.9 145.5 L175.5 145.8 L177.1 146.2 L178.6 146.5 L180.2 146.9 L181.7 147.2 L183.3 147.5 L184.8 147.7 L186.4 147.9 L187.9 148.1 L189.5 148.3 L191.1 148.2 L192.7 148.1 L194.3 148 L195.9 147.9 L197.5 147.8 L199.1 147.6 L200.7 147.5 L202.3 147.4 L203.9 147.3 L205.5 147.2 L207.1 147.2 L208.6 147 L210.2 146.9 L211.8 146.8 L213.3 146.6 L214.9 146.4 L216.5 146.2 L218 146 L219.6 145.8 L221.2 145.6 L222.7 145.4 L224.3 145.2 L225.8 145 L227.4 144.8 L229 144.6 L230.5 144.5 L232.1 144.3 L233.7 144.2 L235.2 144.1 L236.8 144" stroke="#7030b0" stroke-width="0.9" stroke-opacity="0.9"/><path d="M161.5 142.8 L163.1 142.9 L164.6 143 L166.2 143.2 L167.7 143.4 L169.3 143.6 L170.8 143.8 L172.4 144 L173.9 144.3 L175.5 144.5 L177.1 144.8 L178.6 145 L180.2 145.3 L181.7 145.5 L183.3 145.7 L184.8 145.9 L186.4 146.1 L187.9 146.2 L189.5 146.3 L191.1 146.4 L192.7 146.7 L194.3 146.9 L195.9 147.2 L197.5 147.6 L199.1 147.9 L200.7 148.2 L202.3 148.5 L203.9 148.7 L205.5 148.9 L207.1 148.8 L208.6 148.8 L210.2 148.8 L211.8 148.7 L213.3 148.7 L214.9 148.6 L216.5 148.6 L218 148.5 L219.6 148.4 L221.2 148.4 L222.7 148.3 L224.3 148.2 L225.8 148.2 L227.4 148.1 L229 148.1 L230.5 148 L232.1 148 L233.7 147.9 L235.2 147.9 L236.8 147.9" stroke="#7030b0" stroke-width="0.9" stroke-opacity="0.9"/><path d="M161.5 144.2 L163.1 144.3 L164.6 144.4 L166.2 144.5 L167.7 144.7 L169.3 144.8 L170.8 145 L172.4 145.2 L173.9 145.4 L175.5 145.7 L177.1 145.9 L178.6 146.1 L180.2 146.3 L181.7 146.5 L183.3 146.7 L184.8 146.8 L186.4 147 L187.9 147.1 L189.5 147.2 L191.1 147 L192.7 146.7 L194.3 146.4 L195.9 146 L197.5 145.6 L199.1 145.1 L200.7 144.8 L202.3 144.4 L203.9 144.2 L205.5 144 L207.1 144 L208.6 144.1 L210.2 144.1 L211.8 144.2 L213.3 144.3 L214.9 144.4 L216.5 144.4 L218 144.5 L219.6 144.6 L221.2 144.7 L222.7 144.8 L224.3 144.9 L225.8 145 L227.4 145.1 L229 145.2 L230.5 145.3 L232.1 145.4 L233.7 145.4 L235.2 145.5 L236.8 145.5" stroke="#7030b0" stroke-width="0.9" stroke-opacity="0.9"/><path d="M161.5 145 L163.1 144.9 L164.6 144.8 L166.2 144.7 L167.7 144.6 L169.3 144.5 L170.8 144.4 L172.4 144.2 L173.9 144.1 L175.5 143.9 L177.1 143.8 L178.6 143.6 L180.2 143.5 L181.7 143.4 L183.3 143.2 L184.8 143.1 L186.4 143 L187.9 143 L189.5 142.9 L191.1 142.8 L192.7 142.7 L194.3 142.5 L195.9 142.3 L197.5 142.1 L199.1 141.9 L200.7 141.7 L202.3 141.6 L203.9 141.4 L205.5 141.3 L207.1 141.4 L208.6 141.5 L210.2 141.5 L211.8 141.6 L213.3 141.7 L214.9 141.9 L216.5 142 L218 142.1 L219.6 142.2 L221.2 142.4 L222.7 142.5 L224.3 142.6 L225.8 142.8 L227.4 142.9 L229 143 L230.5 143.1 L232.1 143.2 L233.7 143.3 L235.2 143.4 L236.8 143.4" stroke="#e02030" stroke-width="0.9" stroke-opacity="0.9"/><path d="M161.5 140.2 L163.1 140.4 L164.6 140.5 L166.2 140.8 L167.7 141 L169.3 141.3 L170.8 141.7 L172.4 142 L173.9 142.4 L175.5 142.7 L177.1 143.1 L178.6 143.5 L180.2 143.8 L181.7 144.1 L183.3 144.4 L184.8 144.7 L186.4 144.9 L187.9 145.1 L189.5 145.3 L191.1 145.2 L192.7 145.2 L194.3 145.2 L195.9 145.1 L197.5 145.1 L199.1 145.1 L200.7 145 L202.3 145 L203.9 145 L205.5 144.9 L207.1 145 L208.6 145 L210.2 145 L211.8 145 L213.3 145.1 L214.9 145.1 L216.5 145.1 L218 145.2 L219.6 145.2 L221.2 145.3 L222.7 145.3 L224.3 145.4 L225.8 145.4 L227.4 145.4 L229 145.5 L230.5 145.5 L232.1 145.5 L233.7 145.6 L235.2 145.6 L236.8 145.6" stroke="#2a38c0" stroke-width="0.9" stroke-opacity="0.9"/><path d="M161.5 139.5 L163.1 139.6 L164.6 139.7 L166.2 139.9 L167.7 140.1 L169.3 140.3 L170.8 140.6 L172.4 140.9 L173.9 141.1 L175.5 141.4 L177.1 141.7 L178.6 142 L180.2 142.2 L181.7 142.5 L183.3 142.7 L184.8 142.9 L186.4 143.1 L187.9 143.2 L189.5 143.3 L191.1 143.3 L192.7 143.2 L194.3 143.2 L195.9 143.1 L197.5 143 L199.1 142.9 L200.7 142.9 L202.3 142.8 L203.9 142.7 L205.5 142.7 L207.1 142.7 L208.6 142.7 L210.2 142.7 L211.8 142.7 L213.3 142.7 L214.9 142.7 L216.5 142.7 L218 142.7 L219.6 142.7 L221.2 142.7 L222.7 142.7 L224.3 142.7 L225.8 142.7 L227.4 142.7 L229 142.7 L230.5 142.7 L232.1 142.7 L233.7 142.7 L235.2 142.7 L236.8 142.7" stroke="#2030c8" stroke-width="0.9" stroke-opacity="0.9"/><path d="M161.5 141.5 L163.1 141.5 L164.6 141.5 L166.2 141.5 L167.7 141.5 L169.3 141.6 L170.8 141.6 L172.4 141.6 L173.9 141.6 L175.5 141.7 L177.1 141.7 L178.6 141.7 L180.2 141.7 L181.7 141.8 L183.3 141.8 L184.8 141.8 L186.4 141.8 L187.9 141.8 L189.5 141.8 L191.1 141.9 L192.7 141.9 L194.3 142 L195.9 142.1 L197.5 142.2 L199.1 142.3 L200.7 142.4 L202.3 142.5 L203.9 142.6 L205.5 142.6 L207.1 142.6 L208.6 142.6 L210.2 142.5 L211.8 142.5 L213.3 142.4 L214.9 142.4 L216.5 142.3 L218 142.3 L219.6 142.2 L221.2 142.1 L222.7 142.1 L224.3 142 L225.8 141.9 L227.4 141.9 L229 141.8 L230.5 141.8 L232.1 141.7 L233.7 141.7 L235.2 141.6 L236.8 141.6" stroke="#e02030" stroke-width="0.9" stroke-opacity="0.9"/><path d="M161.5 139.2 L163.1 139.3 L164.6 139.4 L166.2 139.6 L167.7 139.8 L169.3 140 L170.8 140.2 L172.4 140.4 L173.9 140.7 L175.5 141 L177.1 141.2 L178.6 141.5 L180.2 141.7 L181.7 142 L183.3 142.2 L184.8 142.4 L186.4 142.5 L187.9 142.7 L189.5 142.8 L191.1 142.7 L192.7 142.7 L194.3 142.7 L195.9 142.7 L197.5 142.6 L199.1 142.6 L200.7 142.6 L202.3 142.6 L203.9 142.5 L205.5 142.5 L207.1 142.5 L208.6 142.4 L210.2 142.3 L211.8 142.3 L213.3 142.2 L214.9 142.1 L216.5 141.9 L218 141.8 L219.6 141.7 L221.2 141.6 L222.7 141.5 L224.3 141.3 L225.8 141.2 L227.4 141.1 L229 141 L230.5 140.9 L232.1 140.8 L233.7 140.7 L235.2 140.7 L236.8 140.6" stroke="#e02030" stroke-width="0.9" stroke-opacity="0.9"/><path d="M161.5 142.1 L163.1 141.9 L164.6 141.8 L166.2 141.5 L167.7 141.2 L169.3 140.9 L170.8 140.6 L172.4 140.2 L173.9 139.8 L175.5 139.5 L177.1 139.1 L178.6 138.7 L180.2 138.3 L181.7 138 L183.3 137.7 L184.8 137.4 L186.4 137.2 L187.9 137 L189.5 136.8 L191.1 136.9 L192.7 137.1 L194.3 137.3 L195.9 137.5 L197.5 137.8 L199.1 138.1 L200.7 138.3 L202.3 138.5 L203.9 138.7 L205.5 138.8 L207.1 138.7 L208.6 138.7 L210.2 138.6 L211.8 138.5 L213.3 138.4 L214.9 138.3 L216.5 138.1 L218 138 L219.6 137.9 L221.2 137.7 L222.7 137.6 L224.3 137.5 L225.8 137.3 L227.4 137.2 L229 137.1 L230.5 137 L232.1 136.9 L233.7 136.8 L235.2 136.7 L236.8 136.7" stroke="#d02048" stroke-width="0.9" stroke-opacity="0.9"/><path d="M161.5 136.1 L163.1 136.2 L164.6 136.3 L166.2 136.4 L167.7 136.6 L169.3 136.8 L170.8 137 L172.4 137.2 L173.9 137.4 L175.5 137.6 L177.1 137.8 L178.6 138 L180.2 138.2 L181.7 138.4 L183.3 138.6 L184.8 138.8 L186.4 138.9 L187.9 139 L189.5 139.1 L191.1 139.2 L192.7 139.4 L194.3 139.7 L195.9 139.9 L197.5 140.2 L199.1 140.5 L200.7 140.8 L202.3 141.1 L203.9 141.2 L205.5 141.4 L207.1 141.3 L208.6 141.2 L210.2 141.1 L211.8 141 L213.3 140.9 L214.9 140.7 L216.5 140.6 L218 140.4 L219.6 140.2 L221.2 140 L222.7 139.9 L224.3 139.7 L225.8 139.5 L227.4 139.4 L229 139.2 L230.5 139.1 L232.1 139 L233.7 138.9 L235.2 138.8 L236.8 138.7" stroke="#2a38c0" stroke-width="0.9" stroke-opacity="0.9"/><path d="M161.5 184.1 L163.1 184.1 L164.6 184.1 L166.2 184.1 L167.7 184.1 L169.3 184.1 L170.8 184.1 L172.4 184.1 L173.9 184.1 L175.5 184.1 L177.1 184.1 L178.6 184.1 L180.2 184.1 L181.7 184.1 L183.3 184.1 L184.8 184.1 L186.4 184.1 L187.9 184.1 L189.5 184.1 L191.1 184.1 L192.7 184.1 L194.3 184.1 L195.9 184.1 L197.5 184.1 L199.1 184.1 L200.7 184.1 L202.3 184.1 L203.9 184.1 L205.5 184.1 L207.1 184.1 L208.6 184.1 L210.2 184.1 L211.8 184.1 L213.3 184.1 L214.9 184.1 L216.5 184.1 L218 184.1 L219.6 184.1 L221.2 184.1 L222.7 184.1 L224.3 184.1 L225.8 184.1 L227.4 184.1 L229 184.1 L230.5 184.1 L232.1 184.1 L233.7 184.1 L235.2 184.1 L236.8 184.1" stroke="#f0a0a0" stroke-width="0.9"/><path d="M161.5 185.6 L163.1 185.6 L164.6 185.6 L166.2 185.6 L167.7 185.6 L169.3 185.6 L170.8 185.6 L172.4 185.6 L173.9 185.6 L175.5 185.6 L177.1 185.6 L178.6 185.6 L180.2 185.6 L181.7 185.6 L183.3 185.6 L184.8 185.6 L186.4 185.6 L187.9 185.6 L189.5 185.6 L191.1 185.6 L192.7 185.6 L194.3 185.6 L195.9 185.6 L197.5 185.6 L199.1 185.6 L200.7 185.6 L202.3 185.6 L203.9 185.6 L205.5 185.6 L207.1 185.6 L208.6 185.6 L210.2 185.6 L211.8 185.6 L213.3 185.6 L214.9 185.6 L216.5 185.6 L218 185.6 L219.6 185.6 L221.2 185.6 L222.7 185.6 L224.3 185.6 L225.8 185.6 L227.4 185.6 L229 185.6 L230.5 185.6 L232.1 185.6 L233.7 185.6 L235.2 185.6 L236.8 185.6" stroke="#108a28" stroke-width="1.6"/><path d="M161.5 195.8 L163.1 195.8 L164.6 195.8 L166.2 195.8 L167.7 195.8 L169.3 195.8 L170.8 195.8 L172.4 195.8 L173.9 195.8 L175.5 195.8 L177.1 195.8 L178.6 195.8 L180.2 195.8 L181.7 195.8 L183.3 195.8 L184.8 195.8 L186.4 195.8 L187.9 195.8 L189.5 195.8 L191.1 195.8 L192.7 195.8 L194.3 195.8 L195.9 195.8 L197.5 195.8 L199.1 195.8 L200.7 195.8 L202.3 195.8 L203.9 195.8 L205.5 195.8 L207.1 195.8 L208.6 195.8 L210.2 195.8 L211.8 195.8 L213.3 195.8 L214.9 195.8 L216.5 195.8 L218 195.8 L219.6 195.8 L221.2 195.8 L222.7 195.8 L224.3 195.8 L225.8 195.8 L227.4 195.8 L229 195.8 L230.5 195.8 L232.1 195.8 L233.7 195.8 L235.2 195.8 L236.8 195.8" stroke="#e8a070" stroke-width="1.0"/><path d="M161.5 198.6 L163.1 198.7 L164.6 198.8 L166.2 198.9 L167.7 199 L169.3 199.2 L170.8 199.4 L172.4 199.6 L173.9 199.7 L175.5 199.9 L177.1 200.1 L178.6 200.3 L180.2 200.5 L181.7 200.7 L183.3 200.8 L184.8 201 L186.4 201.1 L187.9 201.2 L189.5 201.3 L191.1 201.2 L192.7 201.2 L194.3 201.2 L195.9 201.1 L197.5 201 L199.1 201 L200.7 200.9 L202.3 200.9 L203.9 200.8 L205.5 200.8 L207.1 200.8 L208.6 200.7 L210.2 200.6 L211.8 200.5 L213.3 200.4 L214.9 200.3 L216.5 200.1 L218 200 L219.6 199.9 L221.2 199.7 L222.7 199.6 L224.3 199.4 L225.8 199.3 L227.4 199.2 L229 199 L230.5 198.9 L232.1 198.8 L233.7 198.7 L235.2 198.7 L236.8 198.6" stroke="#e02030" stroke-width="1.3"/><path d="M161.5 200.4 L163.1 200.4 L164.6 200.3 L166.2 200.3 L167.7 200.3 L169.3 200.3 L170.8 200.3 L172.4 200.2 L173.9 200.2 L175.5 200.2 L177.1 200.1 L178.6 200.1 L180.2 200.1 L181.7 200 L183.3 200 L184.8 200 L186.4 200 L187.9 199.9 L189.5 199.9 L191.1 200 L192.7 200 L194.3 200 L195.9 200.1 L197.5 200.2 L199.1 200.2 L200.7 200.3 L202.3 200.3 L203.9 200.4 L205.5 200.4 L207.1 200.4 L208.6 200.4 L210.2 200.4 L211.8 200.4 L213.3 200.4 L214.9 200.4 L216.5 200.4 L218 200.4 L219.6 200.4 L221.2 200.4 L222.7 200.4 L224.3 200.4 L225.8 200.4 L227.4 200.4 L229 200.4 L230.5 200.4 L232.1 200.4 L233.7 200.4 L235.2 200.4 L236.8 200.4" stroke="#e03040" stroke-width="0.9"/><path d="M161.5 158.9 L163.1 158.9 L164.6 158.9 L166.2 158.9 L167.7 158.9 L169.3 158.9 L170.8 158.9 L172.4 158.9 L173.9 158.9 L175.5 158.9 L177.1 158.9 L178.6 158.9 L180.2 158.9 L181.7 158.9 L183.3 158.9 L184.8 158.9 L186.4 158.9 L187.9 158.9 L189.5 158.9 L191.1 158.9 L192.7 158.9 L194.3 158.9 L195.9 158.9 L197.5 158.9 L199.1 158.9 L200.7 158.9 L202.3 158.9 L203.9 158.9 L205.5 158.9 L207.1 158.9 L208.6 158.9 L210.2 158.9 L211.8 158.9 L213.3 158.9 L214.9 158.9 L216.5 158.9 L218 158.9 L219.6 158.9 L221.2 158.9 L222.7 158.9 L224.3 158.9 L225.8 158.9 L227.4 158.9 L229 158.9 L230.5 158.9 L232.1 158.9 L233.7 158.9 L235.2 158.9 L236.8 158.9" stroke="#40b0b0" stroke-width="1.4"/><path d="M161.5 160.5 L163.1 160.5 L164.6 160.5 L166.2 160.5 L167.7 160.5 L169.3 160.5 L170.8 160.5 L172.4 160.5 L173.9 160.5 L175.5 160.5 L177.1 160.5 L178.6 160.5 L180.2 160.5 L181.7 160.5 L183.3 160.5 L184.8 160.5 L186.4 160.5 L187.9 160.5 L189.5 160.5 L191.1 160.5 L192.7 160.5 L194.3 160.5 L195.9 160.5 L197.5 160.5 L199.1 160.5 L200.7 160.5 L202.3 160.5 L203.9 160.5 L205.5 160.5 L207.1 160.5 L208.6 160.5 L210.2 160.5 L211.8 160.5 L213.3 160.5 L214.9 160.5 L216.5 160.5 L218 160.5 L219.6 160.5 L221.2 160.5 L222.7 160.5 L224.3 160.5 L225.8 160.5 L227.4 160.5 L229 160.5 L230.5 160.5 L232.1 160.5 L233.7 160.5 L235.2 160.5 L236.8 160.5" stroke="#f09090" stroke-width="0.7"/><path d="M161.5 151.4 L163.1 151.4 L164.6 151.4 L166.2 151.4 L167.7 151.4 L169.3 151.5 L170.8 151.5 L172.4 151.5 L173.9 151.6 L175.5 151.6 L177.1 151.6 L178.6 151.7 L180.2 151.7 L181.7 151.7 L183.3 151.7 L184.8 151.8 L186.4 151.8 L187.9 151.8 L189.5 151.8 L191.1 151.8 L192.7 151.7 L194.3 151.6 L195.9 151.5 L197.5 151.4 L199.1 151.3 L200.7 151.1 L202.3 151.1 L203.9 151 L205.5 150.9 L207.1 150.9 L208.6 151 L210.2 151 L211.8 151 L213.3 151 L214.9 151 L216.5 151.1 L218 151.1 L219.6 151.1 L221.2 151.2 L222.7 151.2 L224.3 151.2 L225.8 151.2 L227.4 151.3 L229 151.3 L230.5 151.3 L232.1 151.3 L233.7 151.3 L235.2 151.4 L236.8 151.4" stroke="#3040d0" stroke-width="1.2"/><path d="M161.5 150.5 L163.1 150.4 L164.6 150.3 L166.2 150.2 L167.7 150.1 L169.3 150 L170.8 149.9 L172.4 149.7 L173.9 149.5 L175.5 149.4 L177.1 149.2 L178.6 149.1 L180.2 148.9 L181.7 148.8 L183.3 148.6 L184.8 148.5 L186.4 148.4 L187.9 148.3 L189.5 148.3 L191.1 148.4 L192.7 148.5 L194.3 148.7 L195.9 148.9 L197.5 149.2 L199.1 149.4 L200.7 149.6 L202.3 149.8 L203.9 149.9 L205.5 150 L207.1 150.1 L208.6 150.1 L210.2 150.1 L211.8 150.1 L213.3 150.1 L214.9 150.2 L216.5 150.2 L218 150.2 L219.6 150.2 L221.2 150.3 L222.7 150.3 L224.3 150.3 L225.8 150.4 L227.4 150.4 L229 150.4 L230.5 150.4 L232.1 150.4 L233.7 150.5 L235.2 150.5 L236.8 150.5" stroke="#6030b0" stroke-width="1.0"/></g><line x1="240.3" y1="185.5" x2="276.8" y2="185.5" stroke="#333" stroke-width="1"/><g clip-path="url(#cdF)"><path d="M240.3 197.7 L256.8 197.7 L259.4 198.1 L262.1 198.4 L264.7 198.8 L267.4 199.1 L270 199.5 L272.6 199.8 L271.3 200.2 L268.7 200.6 L266 200.9 L263.4 201.3 L260.8 201.6 L258.9 202 L259.5 202.3 L259.9 202.7 L260 203 L260.7 203.4 L263.1 203.7 L265.5 204.1 L267.9 204.4 L270.3 204.8 L267.9 205.1 L265.5 205.5 L263.1 205.9 L260.7 206.2 L258.3 206.6 L256.6 206.9 L257 207.3 L257.1 207.6 L256.9 208 L256.5 208.3 L256.6 208.7 L258.5 209 L260.5 209.4 L262.4 209.7 L264.3 210.1 L262.4 210.4 L260.5 210.8 L259.9 211.2 L260.5 211.5 L260.7 211.9 L260.4 212.2 L259.7 212.6 L258.9 212.9 L259 213.3 L261.1 213.6 L263.2 214 L265.3 214.3 L265.3 214.7 L263.2 215 L261.1 215.4 L259 215.7 L258.8 216.1 L261 216.4 L263.3 216.8 L265.5 217.2 L267.7 217.5 L266.6 217.9 L264.4 218.2 L262.1 218.6 L259.9 218.9 L257.7 219.3 L257.3 219.6 L258 220 L258.5 220.3 L258.6 220.7 L260.7 221 L263.1 221.4 L265.5 221.7 L267.9 222.1 L270.3 222.5 L267.9 222.8 L265.5 223.2 L263.1 223.5 L260.7 223.9 L260.5 224.2 L260.5 224.6 L259.9 224.9 L261.4 225.3 L264.1 225.6 L266.7 226 L269.3 226.3 L272 226.7 L272 227 L269.3 227.4 L266.7 227.8 L264.1 228.1 L261.4 228.5 L258.8 228.8 L257.6 229.2 L259.5 229.5 L261.4 229.9 L263.3 230.2 L263.3 230.6 L261.4 230.9 L259.5 231.3 L257.6 231.6 L257.6 232 L240.3 232.2Z" fill="#b0b0b0" stroke="#8c8c8c" stroke-width="0.4"/><path d="M240.3 141.7 L260.1 141.7 L259.9 142 L259.3 142.4 L258.4 142.7 L257.3 143.1 L256.3 143.4 L255.6 143.8 L255.4 144.1 L255.7 144.5 L256.5 144.8 L257.6 145.2 L258.7 145.5 L259.7 145.9 L260.3 146.3 L260.5 146.6 L260.3 147 L259.9 147.3 L259.4 147.7 L259.2 148 L259.2 148.4 L259.6 148.7 L260.3 149.1 L261.2 149.4 L262.1 149.8 L262.6 150.1 L262.7 150.5 L262.2 150.8 L261.3 151.2 L260.2 151.5 L258.9 151.9 L240.3 152.3Z" fill="#b0b0b0" stroke="#8c8c8c" stroke-width="0.4"/><path d="M240.3 157.6 L240.3 157.6 L243.6 157.9 L246.6 158.3 L249.4 158.6 L251.3 159 L251.1 159.3 L251.1 159.7 L251.2 160 L240.3 160.2Z" fill="#b0b0b0" stroke="#8c8c8c" stroke-width="0.4"/><path d="M240.3 196.8 L240.3 195.1Z" fill="#b0b0b0" stroke="#8c8c8c" stroke-width="0.4"/><path d="M241 198.2 L240.9 198.9 L241.5 199.6 L241.5 200.3 L241.7 201 L241.6 201.7 L241.6 202.4 L241.1 203.1 L240.7 203.8 L240.7 204.5 L240.7 205.2 L241.9 205.9 L242.8 206.6 L242.8 207.4 L242.7 208.1 L243.5 208.8 L243.4 209.5 L242.6 210.2 L241.6 210.9 L241.1 211.6 L241.3 212.3 L242.1 213 L242.6 213.7 L242.9 214.4 L243.2 215.1 L244.3 215.8 L245.1 216.5 L244.7 217.2 L243.5 217.9 L242.9 218.7 L242.9 219.4 L242.9 220.1 L242.7 220.8 L242.7 221.5 L243.9 222.2 L245.1 222.9 L246 223.6 L245.4 224.3 L245 225 L244.7 225.7 L244.8 226.4 L244.3 227.1 L243.9 227.8 L243.1 228.5 L244 229.3 L245.4 230" fill="none" stroke="#10a030" stroke-width="0.9"/><path d="M241.4 200.4 L241.7 201.1 L241.6 201.8 L241.3 202.5 L241.1 203.2 L242.1 203.9 L243 204.6 L243.3 205.3 L243.7 206 L245 206.7 L245.8 207.4 L245.2 208.1 L244 208.9 L243.1 209.6 L243.4 210.3 L244 211 L244 211.7 L244.5 212.4 L245.6 213.1 L247.2 213.8 L248.3 214.5 L247.9 215.2 L247.2 215.9 L246.6 216.6 L246.7 217.3 L246.8 218 L246 218.7 L246.1 219.5 L246.6 220.2 L248.7 220.9 L249.9 221.6 L250 222.3 L250 223 L250 223.7 L250.3 224.4 L250.1 225.1 L248.6 225.8 L247.9 226.5 L248.7 227.2 L250.3 227.9 L251.1 228.6 L251.5 229.3 L252.3 230" fill="none" stroke="#2030c8" stroke-width="0.9"/><path d="M242.3 197.7 L243.9 198.4 L244.9 199.1 L245.5 199.8 L244.7 200.6 L244.7 201.3 L247 202 L249.8 202.7 L251.1 203.4 L250.9 204.1 L251.5 204.8 L252.6 205.5 L252.7 206.2 L250.8 206.9 L247.9 207.6 L246.6 208.3 L247.3 209 L248.8 209.7 L248.9 210.4 L249.1 211.2 L250.9 211.9 L253.3 212.6 L254.2 213.3 L252.6 214 L250 214.7 L248.6 215.4 L248.6 216.1 L248.7 216.8 L247.9 217.5 L247.6 218.2 L249.5 218.9 L252.6 219.6 L254.5 220.3 L253.2 221 L252 221.7 L251.4 222.5 L251.1 223.2 L249.9 223.9 L247.3 224.6 L246.6 225.3 L248.6 226 L251.2 226.7 L253.2 227.4 L252.8 228.1 L252.7 228.8 L253.4 229.5 L253.8 230.2" fill="none" stroke="#e02030" stroke-width="0.9"/><path d="M248.4 141.7 L248.3 142.1 L248.3 142.5 L248.3 143 L248.4 143.4 L248.7 143.9 L249.5 144.3 L249.5 144.7 L248.6 145.2 L247.3 145.6 L246 146.1 L245.5 146.5 L245.8 147 L245.9 147.4 L245.8 147.8 L245.5 148.3 L246.1 148.7 L247.6 149.2 L249 149.6 L250 150 L249.5 150.5 L247.8 150.9 L247.1 151.4" fill="none" stroke="#2030c8" stroke-width="1.0"/><path d="M241.3 141.2 L241.3 151.8" fill="none" stroke="#e02030" stroke-width="0.9"/><path d="M240.3 184.3 L251.3 185.5 L240.3 186.7 Z" fill="#222" stroke="#222" stroke-width="0.4"/><path d="M240.3 157.9 L247.3 158.9 L240.3 159.9 Z" fill="#1a6a40" stroke="#1a6a40" stroke-width="0.4"/><path d="M240.3 198.3 L246.3 199.5 L240.3 200.7 Z" fill="#1a5a1a" stroke="#1a5a1a" stroke-width="0.4"/></g><rect x="161.5" y="141.3" width="75.3" height="89" fill="none" stroke="#3a3a3a" stroke-width="1.2"/><rect x="240.3" y="141.3" width="36.5" height="89" fill="none" stroke="#3a3a3a" stroke-width="1.2"/><text x="159.7" y="232.3" font-size="5.3" text-anchor="end" font-weight="normal" fill="#222" font-family="Liberation Sans, sans-serif" >-5</text><text x="159.7" y="223.5" font-size="5.3" text-anchor="end" font-weight="normal" fill="#222" font-family="Liberation Sans, sans-serif" >-4</text><text x="159.7" y="214.6" font-size="5.3" text-anchor="end" font-weight="normal" fill="#222" font-family="Liberation Sans, sans-serif" >-3</text><text x="159.7" y="205.8" font-size="5.3" text-anchor="end" font-weight="normal" fill="#222" font-family="Liberation Sans, sans-serif" >-2</text><text x="159.7" y="197" font-size="5.3" text-anchor="end" font-weight="normal" fill="#222" font-family="Liberation Sans, sans-serif" >-1</text><text x="159.7" y="188.2" font-size="5.3" text-anchor="end" font-weight="normal" fill="#222" font-family="Liberation Sans, sans-serif" >0</text><text x="159.7" y="179.3" font-size="5.3" text-anchor="end" font-weight="normal" fill="#222" font-family="Liberation Sans, sans-serif" >1</text><text x="159.7" y="170.5" font-size="5.3" text-anchor="end" font-weight="normal" fill="#222" font-family="Liberation Sans, sans-serif" >2</text><text x="159.7" y="161.7" font-size="5.3" text-anchor="end" font-weight="normal" fill="#222" font-family="Liberation Sans, sans-serif" >3</text><text x="159.7" y="152.8" font-size="5.3" text-anchor="end" font-weight="normal" fill="#222" font-family="Liberation Sans, sans-serif" >4</text><text x="159.7" y="144" font-size="5.3" text-anchor="end" font-weight="normal" fill="#222" font-family="Liberation Sans, sans-serif" >5</text><text transform="translate(148.9 186) rotate(-90)" font-size="7.3" text-anchor="middle" font-style="italic" font-weight="bold" fill="#1a1a1a" font-family="Liberation Sans, sans-serif">E-E<tspan font-size="4.8" dy="1.5">f</tspan><tspan dy="-1.5">(eV)</tspan></text><text x="161.5" y="237.9" font-size="5.3" text-anchor="middle" font-weight="normal" fill="#111" font-family="Liberation Sans, sans-serif" >G</text><text x="189.5" y="237.9" font-size="5.3" text-anchor="middle" font-weight="normal" fill="#111" font-family="Liberation Sans, sans-serif" >M</text><text x="205.5" y="237.9" font-size="5.3" text-anchor="middle" font-weight="normal" fill="#111" font-family="Liberation Sans, sans-serif" >K</text><text x="236.8" y="237.9" font-size="5.3" text-anchor="middle" font-weight="normal" fill="#111" font-family="Liberation Sans, sans-serif" >G</text><text x="258.1" y="237.9" font-size="5.1" text-anchor="middle" font-weight="normal" fill="#111" font-family="Liberation Sans, sans-serif" >DOS</text><text x="143.3" y="147.5" font-size="7.6" text-anchor="start" font-weight="bold" fill="#222" font-family="Liberation Sans, sans-serif" >(F)</text><text x="191.9" y="174" font-size="5.4" text-anchor="start" font-weight="normal" fill="#c01830" font-family="Liberation Sans, sans-serif" >E<tspan font-size="3.6" dy="1.5">g</tspan><tspan dy="-1.5">=2.76 eV</tspan></text><rect x="261" y="141.9" width="15.2" height="17.1" fill="#fff"/><line x1="261.8" y1="144.3" x2="267.4" y2="144.3" stroke="#aaa" stroke-width="1"/><text x="268.7" y="145.6" font-size="3.5" text-anchor="start" font-weight="normal" fill="#222" font-family="Liberation Sans, sans-serif" >Total</text><line x1="261.8" y1="148.2" x2="267.4" y2="148.2" stroke="#2030c8" stroke-width="1"/><text x="268.7" y="149.5" font-size="3.5" text-anchor="start" font-weight="normal" fill="#222" font-family="Liberation Sans, sans-serif" >B</text><line x1="261.8" y1="152.1" x2="267.4" y2="152.1" stroke="#e02030" stroke-width="1"/><text x="268.7" y="153.4" font-size="3.5" text-anchor="start" font-weight="normal" fill="#222" font-family="Liberation Sans, sans-serif" >N</text><line x1="261.8" y1="156" x2="267.4" y2="156" stroke="#10a030" stroke-width="1"/><text x="268.7" y="157.2" font-size="3.5" text-anchor="start" font-weight="normal" fill="#222" font-family="Liberation Sans, sans-serif" >C</text><rect x="162.3" y="141.8" width="14.4" height="13.6" fill="#fff" stroke="#222" stroke-width="1.0"/><path d="M169.5 145.7 L165.6 152.7 L169.5 150.4 Z" fill="#c02060"/><path d="M169.5 145.7 L173.4 152.7 L169.5 150.4 Z" fill="#c05020"/><path d="M165.6 152.7 L173.4 152.7 L169.5 150.4 Z" fill="#30a060"/><path d="M169.5 145.7 L167.6 149.2 L171.4 149.2 Z" fill="#e01818"/><path d="M165.6 152.7 L167.6 149.2 L169.5 152.7 Z" fill="#2038e0"/><path d="M173.4 152.7 L171.4 149.2 L169.5 152.7 Z" fill="#20b030"/><rect x="165.6" y="152.7" width="7.8" height="1" fill="#fff"/><text x="169.5" y="145.3" font-size="3.4" text-anchor="middle" font-weight="normal" fill="#000" font-family="Liberation Sans, sans-serif" >N</text><rect x="163" y="152.8" width="1.5" height="1.5" fill="#fff" stroke="#333" stroke-width="0.3"/><rect x="174.5" y="152.8" width="1.5" height="1.5" fill="#fff" stroke="#333" stroke-width="0.3"/><clipPath id="cbG"><rect x="295" y="141.3" width="75.3" height="89.3"/></clipPath><clipPath id="cdG"><rect x="373.1" y="141.3" width="36.7" height="89.3"/></clipPath><path d="M295 222.3H370.3M373.1 222.3H409.8M295 213.5H370.3M373.1 213.5H409.8M295 204.8H370.3M373.1 204.8H409.8M295 196H370.3M373.1 196H409.8M295 187.2H370.3M373.1 187.2H409.8M295 178.4H370.3M373.1 178.4H409.8M295 169.6H370.3M373.1 169.6H409.8M295 160.9H370.3M373.1 160.9H409.8M295 152.1H370.3M373.1 152.1H409.8M295 143.3H370.3M373.1 143.3H409.8M322.4 141.3V230.6M338.5 141.3V230.6M381.8 141.3V230.6M390.5 141.3V230.6M399.2 141.3V230.6M407.9 141.3V230.6" stroke="#c4c4c4" stroke-width="0.6" fill="none"/><g clip-path="url(#cbG)" fill="none"><path d="M295 205.5 L296.5 205.7 L298 205.8 L299.6 206.1 L301.1 206.4 L302.6 206.7 L304.1 207 L305.7 207.4 L307.2 207.7 L308.7 208.1 L310.2 208.5 L311.7 208.9 L313.3 209.2 L314.8 209.5 L316.3 209.9 L317.8 210.1 L319.4 210.4 L320.9 210.6 L322.4 210.7 L324 210.6 L325.6 210.3 L327.2 210.1 L328.8 209.8 L330.4 209.4 L332.1 209.1 L333.7 208.8 L335.3 208.5 L336.9 208.3 L338.5 208.2 L340 208.1 L341.5 208.1 L343 208 L344.6 207.9 L346.1 207.8 L347.6 207.7 L349.1 207.6 L350.6 207.5 L352.1 207.4 L353.6 207.3 L355.2 207.2 L356.7 207.1 L358.2 207 L359.7 206.8 L361.2 206.7 L362.7 206.6 L364.2 206.6 L365.8 206.5 L367.3 206.4 L368.8 206.4 L370.3 206.3" stroke="#f01830" stroke-width="0.9" stroke-opacity="0.9"/><path d="M295 204.1 L296.5 204.2 L298 204.4 L299.6 204.6 L301.1 204.8 L302.6 205.1 L304.1 205.4 L305.7 205.7 L307.2 206 L308.7 206.3 L310.2 206.6 L311.7 206.9 L313.3 207.2 L314.8 207.5 L316.3 207.8 L317.8 208 L319.4 208.2 L320.9 208.3 L322.4 208.5 L324 208.4 L325.6 208.2 L327.2 208 L328.8 207.7 L330.4 207.5 L332.1 207.2 L333.7 207 L335.3 206.8 L336.9 206.6 L338.5 206.5 L340 206.5 L341.5 206.6 L343 206.7 L344.6 206.8 L346.1 206.9 L347.6 207 L349.1 207.1 L350.6 207.2 L352.1 207.3 L353.6 207.5 L355.2 207.6 L356.7 207.7 L358.2 207.9 L359.7 208 L361.2 208.1 L362.7 208.2 L364.2 208.3 L365.8 208.4 L367.3 208.5 L368.8 208.5 L370.3 208.6" stroke="#d81040" stroke-width="0.9" stroke-opacity="0.9"/><path d="M295 208.2 L296.5 208.1 L298 207.8 L299.6 207.6 L301.1 207.2 L302.6 206.9 L304.1 206.5 L305.7 206.1 L307.2 205.6 L308.7 205.2 L310.2 204.8 L311.7 204.3 L313.3 203.9 L314.8 203.5 L316.3 203.2 L317.8 202.8 L319.4 202.6 L320.9 202.3 L322.4 202.2 L324 202.6 L325.6 203.2 L327.2 204 L328.8 204.9 L330.4 205.8 L332.1 206.7 L333.7 207.6 L335.3 208.4 L336.9 209 L338.5 209.4 L340 209.3 L341.5 209.3 L343 209.1 L344.6 209 L346.1 208.9 L347.6 208.7 L349.1 208.5 L350.6 208.3 L352.1 208.2 L353.6 208 L355.2 207.8 L356.7 207.6 L358.2 207.4 L359.7 207.2 L361.2 207 L362.7 206.9 L364.2 206.7 L365.8 206.6 L367.3 206.5 L368.8 206.4 L370.3 206.3" stroke="#e01838" stroke-width="0.9" stroke-opacity="0.9"/><path d="M295 203.9 L296.5 203.9 L298 203.9 L299.6 203.9 L301.1 203.9 L302.6 203.9 L304.1 203.9 L305.7 203.9 L307.2 203.9 L308.7 203.9 L310.2 203.9 L311.7 203.9 L313.3 203.9 L314.8 203.9 L316.3 203.9 L317.8 203.9 L319.4 203.9 L320.9 203.9 L322.4 203.9 L324 203.8 L325.6 203.7 L327.2 203.5 L328.8 203.3 L330.4 203.1 L332.1 202.9 L333.7 202.7 L335.3 202.6 L336.9 202.4 L338.5 202.3 L340 202.4 L341.5 202.5 L343 202.6 L344.6 202.7 L346.1 202.8 L347.6 202.9 L349.1 203 L350.6 203.2 L352.1 203.3 L353.6 203.5 L355.2 203.6 L356.7 203.8 L358.2 203.9 L359.7 204.1 L361.2 204.2 L362.7 204.3 L364.2 204.4 L365.8 204.5 L367.3 204.6 L368.8 204.7 L370.3 204.7" stroke="#f01830" stroke-width="0.9" stroke-opacity="0.9"/><path d="M295 206.9 L296.5 206.8 L298 206.8 L299.6 206.8 L301.1 206.8 L302.6 206.7 L304.1 206.7 L305.7 206.6 L307.2 206.6 L308.7 206.5 L310.2 206.5 L311.7 206.4 L313.3 206.4 L314.8 206.3 L316.3 206.3 L317.8 206.3 L319.4 206.2 L320.9 206.2 L322.4 206.2 L324 206.2 L325.6 206.1 L327.2 206.1 L328.8 206 L330.4 206 L332.1 205.9 L333.7 205.8 L335.3 205.8 L336.9 205.7 L338.5 205.7 L340 205.6 L341.5 205.5 L343 205.4 L344.6 205.2 L346.1 205 L347.6 204.9 L349.1 204.6 L350.6 204.4 L352.1 204.2 L353.6 204 L355.2 203.8 L356.7 203.5 L358.2 203.3 L359.7 203.1 L361.2 202.9 L362.7 202.7 L364.2 202.5 L365.8 202.4 L367.3 202.3 L368.8 202.1 L370.3 202" stroke="#e01838" stroke-width="0.9" stroke-opacity="0.9"/><path d="M295 223.5 L296.5 223.3 L298 223.1 L299.6 222.9 L301.1 222.5 L302.6 222.2 L304.1 221.8 L305.7 221.4 L307.2 221 L308.7 220.6 L310.2 220.1 L311.7 219.7 L313.3 219.3 L314.8 218.9 L316.3 218.6 L317.8 218.3 L319.4 218 L320.9 217.8 L322.4 217.6 L324 217.4 L325.6 217 L327.2 216.6 L328.8 216.1 L330.4 215.5 L332.1 214.9 L333.7 214.4 L335.3 214 L336.9 213.6 L338.5 213.4 L340 213.3 L341.5 213.3 L343 213.2 L344.6 213.1 L346.1 213 L347.6 212.9 L349.1 212.8 L350.6 212.7 L352.1 212.6 L353.6 212.4 L355.2 212.3 L356.7 212.2 L358.2 212.1 L359.7 212 L361.2 211.9 L362.7 211.8 L364.2 211.7 L365.8 211.6 L367.3 211.5 L368.8 211.5 L370.3 211.4" stroke="#d02058" stroke-width="0.85" stroke-opacity="0.9"/><path d="M295 211.2 L296.5 211.3 L298 211.4 L299.6 211.6 L301.1 211.9 L302.6 212.1 L304.1 212.4 L305.7 212.7 L307.2 213 L308.7 213.3 L310.2 213.6 L311.7 213.9 L313.3 214.2 L314.8 214.4 L316.3 214.7 L317.8 214.9 L319.4 215.1 L320.9 215.3 L322.4 215.4 L324 215.2 L325.6 215 L327.2 214.8 L328.8 214.5 L330.4 214.2 L332.1 213.9 L333.7 213.6 L335.3 213.3 L336.9 213.1 L338.5 213 L340 213 L341.5 213.1 L343 213.2 L344.6 213.3 L346.1 213.4 L347.6 213.5 L349.1 213.6 L350.6 213.7 L352.1 213.9 L353.6 214 L355.2 214.2 L356.7 214.3 L358.2 214.4 L359.7 214.6 L361.2 214.7 L362.7 214.8 L364.2 214.9 L365.8 215 L367.3 215.1 L368.8 215.1 L370.3 215.2" stroke="#e83060" stroke-width="0.85" stroke-opacity="0.9"/><path d="M295 220.3 L296.5 220 L298 219.7 L299.6 219.3 L301.1 218.9 L302.6 218.4 L304.1 217.9 L305.7 217.3 L307.2 216.7 L308.7 216.1 L310.2 215.5 L311.7 214.9 L313.3 214.3 L314.8 213.8 L316.3 213.3 L317.8 212.8 L319.4 212.5 L320.9 212.1 L322.4 211.9 L324 211.8 L325.6 211.6 L327.2 211.3 L328.8 211.1 L330.4 210.8 L332.1 210.5 L333.7 210.2 L335.3 210 L336.9 209.8 L338.5 209.7 L340 209.7 L341.5 209.7 L343 209.7 L344.6 209.8 L346.1 209.8 L347.6 209.8 L349.1 209.9 L350.6 209.9 L352.1 210 L353.6 210 L355.2 210 L356.7 210.1 L358.2 210.1 L359.7 210.2 L361.2 210.2 L362.7 210.3 L364.2 210.3 L365.8 210.3 L367.3 210.3 L368.8 210.4 L370.3 210.4" stroke="#e8102c" stroke-width="0.85" stroke-opacity="0.9"/><path d="M295 214.4 L296.5 214.3 L298 214.2 L299.6 214 L301.1 213.8 L302.6 213.6 L304.1 213.4 L305.7 213.1 L307.2 212.9 L308.7 212.6 L310.2 212.3 L311.7 212.1 L313.3 211.8 L314.8 211.6 L316.3 211.4 L317.8 211.2 L319.4 211 L320.9 210.9 L322.4 210.8 L324 210.8 L325.6 210.7 L327.2 210.7 L328.8 210.7 L330.4 210.7 L332.1 210.7 L333.7 210.7 L335.3 210.7 L336.9 210.7 L338.5 210.7 L340 210.6 L341.5 210.5 L343 210.3 L344.6 210.1 L346.1 210 L347.6 209.7 L349.1 209.5 L350.6 209.3 L352.1 209 L353.6 208.8 L355.2 208.5 L356.7 208.3 L358.2 208.1 L359.7 207.8 L361.2 207.6 L362.7 207.4 L364.2 207.2 L365.8 207 L367.3 206.9 L368.8 206.8 L370.3 206.7" stroke="#f01830" stroke-width="0.85" stroke-opacity="0.9"/><path d="M295 208.7 L296.5 208.5 L298 208.4 L299.6 208.3 L301.1 208.1 L302.6 207.9 L304.1 207.6 L305.7 207.4 L307.2 207.1 L308.7 206.9 L310.2 206.6 L311.7 206.4 L313.3 206.1 L314.8 205.9 L316.3 205.7 L317.8 205.5 L319.4 205.3 L320.9 205.2 L322.4 205.1 L324 205.9 L325.6 207 L327.2 208.4 L328.8 210 L330.4 211.7 L332.1 213.5 L333.7 215.1 L335.3 216.5 L336.9 217.6 L338.5 218.4 L340 218.3 L341.5 218.1 L343 217.9 L344.6 217.7 L346.1 217.5 L347.6 217.3 L349.1 217 L350.6 216.7 L352.1 216.4 L353.6 216.1 L355.2 215.8 L356.7 215.5 L358.2 215.2 L359.7 214.9 L361.2 214.6 L362.7 214.4 L364.2 214.1 L365.8 213.9 L367.3 213.8 L368.8 213.6 L370.3 213.5" stroke="#e8102c" stroke-width="0.85" stroke-opacity="0.9"/><path d="M295 213.7 L296.5 213.7 L298 213.6 L299.6 213.5 L301.1 213.4 L302.6 213.3 L304.1 213.2 L305.7 213.1 L307.2 212.9 L308.7 212.8 L310.2 212.7 L311.7 212.5 L313.3 212.4 L314.8 212.3 L316.3 212.2 L317.8 212.1 L319.4 212 L320.9 211.9 L322.4 211.9 L324 212.3 L325.6 212.9 L327.2 213.6 L328.8 214.4 L330.4 215.3 L332.1 216.2 L333.7 217 L335.3 217.8 L336.9 218.3 L338.5 218.8 L340 218.6 L341.5 218.3 L343 218.1 L344.6 217.8 L346.1 217.4 L347.6 217 L349.1 216.6 L350.6 216.2 L352.1 215.8 L353.6 215.3 L355.2 214.8 L356.7 214.4 L358.2 213.9 L359.7 213.5 L361.2 213.1 L362.7 212.7 L364.2 212.4 L365.8 212.1 L367.3 211.8 L368.8 211.6 L370.3 211.4" stroke="#f06080" stroke-width="0.85" stroke-opacity="0.9"/><path d="M295 217.6 L296.5 217.7 L298 217.7 L299.6 217.7 L301.1 217.7 L302.6 217.8 L304.1 217.8 L305.7 217.9 L307.2 217.9 L308.7 218 L310.2 218 L311.7 218.1 L313.3 218.1 L314.8 218.2 L316.3 218.2 L317.8 218.2 L319.4 218.3 L320.9 218.3 L322.4 218.3 L324 217.4 L325.6 216.1 L327.2 214.5 L328.8 212.7 L330.4 210.7 L332.1 208.7 L333.7 206.9 L335.3 205.3 L336.9 204 L338.5 203.1 L340 203.2 L341.5 203.3 L343 203.4 L344.6 203.6 L346.1 203.8 L347.6 204 L349.1 204.2 L350.6 204.4 L352.1 204.6 L353.6 204.8 L355.2 205.1 L356.7 205.3 L358.2 205.5 L359.7 205.7 L361.2 205.9 L362.7 206.1 L364.2 206.3 L365.8 206.4 L367.3 206.6 L368.8 206.7 L370.3 206.8" stroke="#d81040" stroke-width="0.85" stroke-opacity="0.9"/><path d="M295 216.1 L296.5 215.8 L298 215.4 L299.6 214.8 L301.1 214.2 L302.6 213.5 L304.1 212.8 L305.7 212 L307.2 211.2 L308.7 210.3 L310.2 209.5 L311.7 208.6 L313.3 207.8 L314.8 207.1 L316.3 206.4 L317.8 205.8 L319.4 205.3 L320.9 204.8 L322.4 204.5 L324 204.9 L325.6 205.5 L327.2 206.2 L328.8 207.1 L330.4 207.9 L332.1 208.8 L333.7 209.7 L335.3 210.4 L336.9 211 L338.5 211.4 L340 211.5 L341.5 211.7 L343 211.9 L344.6 212.1 L346.1 212.4 L347.6 212.6 L349.1 212.9 L350.6 213.2 L352.1 213.5 L353.6 213.9 L355.2 214.2 L356.7 214.5 L358.2 214.8 L359.7 215.1 L361.2 215.4 L362.7 215.7 L364.2 216 L365.8 216.2 L367.3 216.4 L368.8 216.5 L370.3 216.7" stroke="#d81040" stroke-width="0.85" stroke-opacity="0.9"/><path d="M295 211.7 L296.5 211.4 L298 211 L299.6 210.5 L301.1 210 L302.6 209.4 L304.1 208.7 L305.7 208 L307.2 207.3 L308.7 206.6 L310.2 205.8 L311.7 205.1 L313.3 204.4 L314.8 203.8 L316.3 203.2 L317.8 202.6 L319.4 202.2 L320.9 201.8 L322.4 201.5 L324 201.8 L325.6 202.3 L327.2 202.9 L328.8 203.7 L330.4 204.4 L332.1 205.2 L333.7 205.9 L335.3 206.5 L336.9 207 L338.5 207.3 L340 207.6 L341.5 207.8 L343 208.2 L344.6 208.5 L346.1 209 L347.6 209.4 L349.1 209.9 L350.6 210.5 L352.1 211 L353.6 211.6 L355.2 212.1 L356.7 212.7 L358.2 213.2 L359.7 213.8 L361.2 214.3 L362.7 214.7 L364.2 215.2 L365.8 215.5 L367.3 215.9 L368.8 216.2 L370.3 216.4" stroke="#e83060" stroke-width="0.85" stroke-opacity="0.9"/><path d="M295 200.1 L296.5 200.2 L298 200.4 L299.6 200.6 L301.1 200.8 L302.6 201 L304.1 201.3 L305.7 201.6 L307.2 201.9 L308.7 202.1 L310.2 202.4 L311.7 202.7 L313.3 203 L314.8 203.3 L316.3 203.5 L317.8 203.7 L319.4 203.9 L320.9 204.1 L322.4 204.2 L324 204.3 L325.6 204.6 L327.2 204.8 L328.8 205.2 L330.4 205.5 L332.1 205.9 L333.7 206.2 L335.3 206.5 L336.9 206.7 L338.5 206.9 L340 206.7 L341.5 206.6 L343 206.4 L344.6 206.1 L346.1 205.9 L347.6 205.6 L349.1 205.3 L350.6 205 L352.1 204.7 L353.6 204.3 L355.2 204 L356.7 203.6 L358.2 203.3 L359.7 203 L361.2 202.7 L362.7 202.4 L364.2 202.2 L365.8 201.9 L367.3 201.7 L368.8 201.6 L370.3 201.4" stroke="#f01830" stroke-width="0.85" stroke-opacity="0.9"/><path d="M295 208.8 L296.5 208.6 L298 208.3 L299.6 208 L301.1 207.6 L302.6 207.2 L304.1 206.7 L305.7 206.3 L307.2 205.8 L308.7 205.2 L310.2 204.7 L311.7 204.2 L313.3 203.7 L314.8 203.3 L316.3 202.8 L317.8 202.5 L319.4 202.2 L320.9 201.9 L322.4 201.7 L324 202.1 L325.6 202.7 L327.2 203.5 L328.8 204.4 L330.4 205.3 L332.1 206.3 L333.7 207.2 L335.3 207.9 L336.9 208.6 L338.5 209 L340 208.8 L341.5 208.6 L343 208.4 L344.6 208.1 L346.1 207.8 L347.6 207.5 L349.1 207.2 L350.6 206.8 L352.1 206.4 L353.6 206 L355.2 205.6 L356.7 205.2 L358.2 204.8 L359.7 204.5 L361.2 204.1 L362.7 203.8 L364.2 203.5 L365.8 203.2 L367.3 203 L368.8 202.8 L370.3 202.7" stroke="#d81040" stroke-width="0.85" stroke-opacity="0.9"/><path d="M295 210.2 L296.5 209.9 L298 209.6 L299.6 209.2 L301.1 208.8 L302.6 208.3 L304.1 207.7 L305.7 207.1 L307.2 206.5 L308.7 205.9 L310.2 205.2 L311.7 204.6 L313.3 204 L314.8 203.5 L316.3 203 L317.8 202.5 L319.4 202.1 L320.9 201.8 L322.4 201.6 L324 201.5 L325.6 201.5 L327.2 201.5 L328.8 201.5 L330.4 201.5 L332.1 201.4 L333.7 201.4 L335.3 201.4 L336.9 201.4 L338.5 201.4 L340 201.5 L341.5 201.7 L343 201.9 L344.6 202.1 L346.1 202.3 L347.6 202.6 L349.1 202.9 L350.6 203.2 L352.1 203.5 L353.6 203.8 L355.2 204.1 L356.7 204.4 L358.2 204.7 L359.7 205 L361.2 205.3 L362.7 205.6 L364.2 205.8 L365.8 206 L367.3 206.2 L368.8 206.4 L370.3 206.5" stroke="#e83060" stroke-width="0.85" stroke-opacity="0.9"/><path d="M295 226.1 L296.5 226.2 L298 226.3 L299.6 226.4 L301.1 226.5 L302.6 226.7 L304.1 226.8 L305.7 227 L307.2 227.2 L308.7 227.4 L310.2 227.6 L311.7 227.7 L313.3 227.9 L314.8 228.1 L316.3 228.2 L317.8 228.4 L319.4 228.5 L320.9 228.6 L322.4 228.6 L324 228.5 L325.6 228.3 L327.2 228.1 L328.8 227.8 L330.4 227.5 L332.1 227.3 L333.7 227 L335.3 226.8 L336.9 226.6 L338.5 226.4 L340 226.2 L341.5 226 L343 225.7 L344.6 225.3 L346.1 224.9 L347.6 224.4 L349.1 224 L350.6 223.5 L352.1 222.9 L353.6 222.4 L355.2 221.9 L356.7 221.3 L358.2 220.8 L359.7 220.3 L361.2 219.8 L362.7 219.4 L364.2 219 L365.8 218.6 L367.3 218.3 L368.8 218 L370.3 217.8" stroke="#e83060" stroke-width="0.85" stroke-opacity="0.9"/><path d="M295 228.6 L296.5 228.5 L298 228.4 L299.6 228.3 L301.1 228.1 L302.6 228 L304.1 227.8 L305.7 227.6 L307.2 227.4 L308.7 227.2 L310.2 227 L311.7 226.8 L313.3 226.6 L314.8 226.4 L316.3 226.2 L317.8 226.1 L319.4 226 L320.9 225.9 L322.4 225.8 L324 226.1 L325.6 226.5 L327.2 227 L328.8 227.6 L330.4 228.2 L332.1 228.9 L333.7 229.5 L335.3 230 L336.9 230.4 L338.5 230.7 L340 230.4 L341.5 230.1 L343 229.8 L344.6 229.4 L346.1 228.9 L347.6 228.4 L349.1 227.9 L350.6 227.3 L352.1 226.7 L353.6 226.1 L355.2 225.5 L356.7 224.9 L358.2 224.3 L359.7 223.7 L361.2 223.2 L362.7 222.7 L364.2 222.2 L365.8 221.8 L367.3 221.4 L368.8 221.1 L370.3 220.9" stroke="#d01850" stroke-width="0.85" stroke-opacity="0.9"/><path d="M295 220.9 L296.5 220.9 L298 221 L299.6 221.1 L301.1 221.2 L302.6 221.3 L304.1 221.4 L305.7 221.5 L307.2 221.6 L308.7 221.7 L310.2 221.8 L311.7 221.9 L313.3 222 L314.8 222.2 L316.3 222.2 L317.8 222.3 L319.4 222.4 L320.9 222.5 L322.4 222.5 L324 222.3 L325.6 222 L327.2 221.6 L328.8 221.2 L330.4 220.8 L332.1 220.3 L333.7 219.9 L335.3 219.5 L336.9 219.2 L338.5 219 L340 219.1 L341.5 219.2 L343 219.3 L344.6 219.5 L346.1 219.6 L347.6 219.8 L349.1 220 L350.6 220.2 L352.1 220.5 L353.6 220.7 L355.2 220.9 L356.7 221.1 L358.2 221.4 L359.7 221.6 L361.2 221.8 L362.7 222 L364.2 222.1 L365.8 222.3 L367.3 222.4 L368.8 222.5 L370.3 222.6" stroke="#e04070" stroke-width="0.85" stroke-opacity="0.9"/><path d="M295 218.4 L296.5 218.6 L298 218.9 L299.6 219.2 L301.1 219.6 L302.6 220 L304.1 220.4 L305.7 220.9 L307.2 221.4 L308.7 221.9 L310.2 222.5 L311.7 223 L313.3 223.4 L314.8 223.9 L316.3 224.3 L317.8 224.7 L319.4 225 L320.9 225.3 L322.4 225.5 L324 225.4 L325.6 225.3 L327.2 225.1 L328.8 224.9 L330.4 224.7 L332.1 224.5 L333.7 224.4 L335.3 224.2 L336.9 224.1 L338.5 224 L340 224.1 L341.5 224.2 L343 224.3 L344.6 224.4 L346.1 224.6 L347.6 224.8 L349.1 225 L350.6 225.1 L352.1 225.3 L353.6 225.5 L355.2 225.8 L356.7 226 L358.2 226.2 L359.7 226.3 L361.2 226.5 L362.7 226.7 L364.2 226.9 L365.8 227 L367.3 227.1 L368.8 227.2 L370.3 227.3" stroke="#d01850" stroke-width="0.85" stroke-opacity="0.9"/><path d="M295 225.7 L296.5 225.4 L298 225.1 L299.6 224.6 L301.1 224.1 L302.6 223.6 L304.1 223 L305.7 222.3 L307.2 221.6 L308.7 221 L310.2 220.3 L311.7 219.6 L313.3 219 L314.8 218.3 L316.3 217.8 L317.8 217.3 L319.4 216.9 L320.9 216.5 L322.4 216.2 L324 216.9 L325.6 217.9 L327.2 219.1 L328.8 220.4 L330.4 221.9 L332.1 223.4 L333.7 224.8 L335.3 226 L336.9 226.9 L338.5 227.6 L340 227.3 L341.5 226.8 L343 226.3 L344.6 225.8 L346.1 225.1 L347.6 224.4 L349.1 223.6 L350.6 222.8 L352.1 222 L353.6 221.1 L355.2 220.2 L356.7 219.4 L358.2 218.5 L359.7 217.7 L361.2 216.9 L362.7 216.2 L364.2 215.6 L365.8 215 L367.3 214.5 L368.8 214.1 L370.3 213.7" stroke="#c81858" stroke-width="0.85" stroke-opacity="0.9"/><path d="M295 214.6 L296.5 214.9 L298 215.1 L299.6 215.5 L301.1 215.9 L302.6 216.3 L304.1 216.8 L305.7 217.3 L307.2 217.8 L308.7 218.4 L310.2 218.9 L311.7 219.5 L313.3 220 L314.8 220.5 L316.3 220.9 L317.8 221.3 L319.4 221.6 L320.9 221.9 L322.4 222.1 L324 222.2 L325.6 222.4 L327.2 222.6 L328.8 222.9 L330.4 223.1 L332.1 223.4 L333.7 223.6 L335.3 223.8 L336.9 224 L338.5 224.1 L340 223.9 L341.5 223.6 L343 223.2 L344.6 222.8 L346.1 222.3 L347.6 221.8 L349.1 221.3 L350.6 220.7 L352.1 220.1 L353.6 219.5 L355.2 218.9 L356.7 218.3 L358.2 217.7 L359.7 217.1 L361.2 216.5 L362.7 216 L364.2 215.6 L365.8 215.2 L367.3 214.8 L368.8 214.5 L370.3 214.3" stroke="#e02050" stroke-width="0.85" stroke-opacity="0.9"/><path d="M295 217.7 L296.5 217.7 L298 217.8 L299.6 217.9 L301.1 218 L302.6 218.1 L304.1 218.2 L305.7 218.3 L307.2 218.5 L308.7 218.6 L310.2 218.8 L311.7 218.9 L313.3 219 L314.8 219.1 L316.3 219.2 L317.8 219.3 L319.4 219.4 L320.9 219.5 L322.4 219.6 L324 219.8 L325.6 220.2 L327.2 220.7 L328.8 221.3 L330.4 221.9 L332.1 222.6 L333.7 223.1 L335.3 223.6 L336.9 224 L338.5 224.3 L340 224.2 L341.5 224 L343 223.8 L344.6 223.6 L346.1 223.4 L347.6 223.1 L349.1 222.8 L350.6 222.5 L352.1 222.2 L353.6 221.9 L355.2 221.6 L356.7 221.3 L358.2 220.9 L359.7 220.6 L361.2 220.4 L362.7 220.1 L364.2 219.8 L365.8 219.6 L367.3 219.4 L368.8 219.3 L370.3 219.2" stroke="#e83060" stroke-width="0.85" stroke-opacity="0.9"/><path d="M295 221.6 L296.5 221.5 L298 221.5 L299.6 221.4 L301.1 221.3 L302.6 221.2 L304.1 221.1 L305.7 221 L307.2 220.8 L308.7 220.7 L310.2 220.6 L311.7 220.5 L313.3 220.3 L314.8 220.2 L316.3 220.1 L317.8 220 L319.4 219.9 L320.9 219.9 L322.4 219.8 L324 219.7 L325.6 219.6 L327.2 219.4 L328.8 219.1 L330.4 218.9 L332.1 218.6 L333.7 218.4 L335.3 218.2 L336.9 218 L338.5 217.9 L340 218.1 L341.5 218.3 L343 218.5 L344.6 218.8 L346.1 219.1 L347.6 219.4 L349.1 219.8 L350.6 220.2 L352.1 220.6 L353.6 221 L355.2 221.4 L356.7 221.8 L358.2 222.2 L359.7 222.5 L361.2 222.9 L362.7 223.2 L364.2 223.5 L365.8 223.8 L367.3 224 L368.8 224.2 L370.3 224.4" stroke="#c01050" stroke-width="0.85" stroke-opacity="0.9"/><path d="M295 213.8 L296.5 213.8 L298 213.9 L299.6 213.9 L301.1 214 L302.6 214 L304.1 214.1 L305.7 214.1 L307.2 214.2 L308.7 214.3 L310.2 214.3 L311.7 214.4 L313.3 214.5 L314.8 214.5 L316.3 214.6 L317.8 214.6 L319.4 214.7 L320.9 214.7 L322.4 214.7 L324 215.2 L325.6 215.9 L327.2 216.8 L328.8 217.8 L330.4 218.8 L332.1 219.9 L333.7 220.9 L335.3 221.8 L336.9 222.5 L338.5 222.9 L340 222.9 L341.5 222.9 L343 222.9 L344.6 222.8 L346.1 222.8 L347.6 222.7 L349.1 222.7 L350.6 222.6 L352.1 222.6 L353.6 222.5 L355.2 222.5 L356.7 222.4 L358.2 222.4 L359.7 222.3 L361.2 222.2 L362.7 222.2 L364.2 222.2 L365.8 222.1 L367.3 222.1 L368.8 222.1 L370.3 222" stroke="#d02058" stroke-width="0.85" stroke-opacity="0.9"/><path d="M295 216.9 L296.5 217 L298 217.2 L299.6 217.4 L301.1 217.7 L302.6 218 L304.1 218.3 L305.7 218.6 L307.2 219 L308.7 219.3 L310.2 219.7 L311.7 220 L313.3 220.4 L314.8 220.7 L316.3 221 L317.8 221.3 L319.4 221.5 L320.9 221.7 L322.4 221.8 L324 221.5 L325.6 221 L327.2 220.3 L328.8 219.6 L330.4 218.8 L332.1 218 L333.7 217.3 L335.3 216.7 L336.9 216.2 L338.5 215.8 L340 215.9 L341.5 215.9 L343 216 L344.6 216.1 L346.1 216.3 L347.6 216.4 L349.1 216.5 L350.6 216.7 L352.1 216.8 L353.6 217 L355.2 217.2 L356.7 217.3 L358.2 217.5 L359.7 217.6 L361.2 217.8 L362.7 217.9 L364.2 218 L365.8 218.1 L367.3 218.2 L368.8 218.3 L370.3 218.3" stroke="#d81848" stroke-width="0.85" stroke-opacity="0.9"/><path d="M295 217.7 L296.5 217.8 L298 217.9 L299.6 218 L301.1 218.1 L302.6 218.2 L304.1 218.3 L305.7 218.5 L307.2 218.6 L308.7 218.8 L310.2 218.9 L311.7 219.1 L313.3 219.2 L314.8 219.3 L316.3 219.4 L317.8 219.6 L319.4 219.6 L320.9 219.7 L322.4 219.8 L324 219.9 L325.6 220.2 L327.2 220.5 L328.8 220.8 L330.4 221.2 L332.1 221.5 L333.7 221.9 L335.3 222.2 L336.9 222.4 L338.5 222.5 L340 222.6 L341.5 222.6 L343 222.6 L344.6 222.6 L346.1 222.6 L347.6 222.6 L349.1 222.6 L350.6 222.6 L352.1 222.7 L353.6 222.7 L355.2 222.7 L356.7 222.7 L358.2 222.7 L359.7 222.7 L361.2 222.7 L362.7 222.8 L364.2 222.8 L365.8 222.8 L367.3 222.8 L368.8 222.8 L370.3 222.8" stroke="#e02060" stroke-width="0.85" stroke-opacity="0.9"/><path d="M295 209.1 L296.5 209 L298 208.9 L299.6 208.8 L301.1 208.7 L302.6 208.5 L304.1 208.3 L305.7 208.2 L307.2 208 L308.7 207.8 L310.2 207.6 L311.7 207.4 L313.3 207.2 L314.8 207.1 L316.3 206.9 L317.8 206.8 L319.4 206.6 L320.9 206.5 L322.4 206.5 L324 207.1 L325.6 208 L327.2 209.1 L328.8 210.4 L330.4 211.8 L332.1 213.2 L333.7 214.5 L335.3 215.6 L336.9 216.5 L338.5 217.2 L340 217 L341.5 216.9 L343 216.6 L344.6 216.4 L346.1 216.1 L347.6 215.8 L349.1 215.5 L350.6 215.1 L352.1 214.8 L353.6 214.4 L355.2 214 L356.7 213.7 L358.2 213.3 L359.7 213 L361.2 212.7 L362.7 212.4 L364.2 212.1 L365.8 211.8 L367.3 211.6 L368.8 211.4 L370.3 211.3" stroke="#f06080" stroke-width="0.85" stroke-opacity="0.9"/><path d="M295 237 L296.5 237.1 L298 237.2 L299.6 237.4 L301.1 237.6 L302.6 237.7 L304.1 238 L305.7 238.2 L307.2 238.4 L308.7 238.6 L310.2 238.9 L311.7 239.1 L313.3 239.3 L314.8 239.5 L316.3 239.7 L317.8 239.9 L319.4 240.1 L320.9 240.2 L322.4 240.3 L324 239.7 L325.6 239 L327.2 238 L328.8 236.9 L330.4 235.7 L332.1 234.5 L333.7 233.4 L335.3 232.4 L336.9 231.6 L338.5 231.1 L340 231.2 L341.5 231.4 L343 231.6 L344.6 231.9 L346.1 232.1 L347.6 232.4 L349.1 232.7 L350.6 233 L352.1 233.4 L353.6 233.7 L355.2 234.1 L356.7 234.4 L358.2 234.8 L359.7 235.1 L361.2 235.4 L362.7 235.7 L364.2 236 L365.8 236.2 L367.3 236.4 L368.8 236.6 L370.3 236.7" stroke="#a81050" stroke-width="0.85" stroke-opacity="0.9"/><path d="M295 239.7 L296.5 239.6 L298 239.4 L299.6 239.2 L301.1 238.9 L302.6 238.6 L304.1 238.3 L305.7 238 L307.2 237.7 L308.7 237.3 L310.2 237 L311.7 236.7 L313.3 236.3 L314.8 236 L316.3 235.7 L317.8 235.5 L319.4 235.3 L320.9 235.1 L322.4 235 L324 235 L325.6 235 L327.2 235.1 L328.8 235.1 L330.4 235.2 L332.1 235.3 L333.7 235.3 L335.3 235.4 L336.9 235.4 L338.5 235.5 L340 235.6 L341.5 235.7 L343 235.9 L344.6 236.1 L346.1 236.3 L347.6 236.5 L349.1 236.8 L350.6 237.1 L352.1 237.4 L353.6 237.6 L355.2 237.9 L356.7 238.2 L358.2 238.5 L359.7 238.8 L361.2 239 L362.7 239.3 L364.2 239.5 L365.8 239.7 L367.3 239.9 L368.8 240 L370.3 240.1" stroke="#c01050" stroke-width="0.85" stroke-opacity="0.9"/><path d="M295 235.7 L296.5 235.6 L298 235.4 L299.6 235.1 L301.1 234.8 L302.6 234.4 L304.1 234.1 L305.7 233.7 L307.2 233.2 L308.7 232.8 L310.2 232.4 L311.7 232 L313.3 231.6 L314.8 231.2 L316.3 230.8 L317.8 230.5 L319.4 230.3 L320.9 230 L322.4 229.9 L324 230.3 L325.6 230.8 L327.2 231.5 L328.8 232.4 L330.4 233.2 L332.1 234.1 L333.7 234.9 L335.3 235.7 L336.9 236.2 L338.5 236.6 L340 236.4 L341.5 236.1 L343 235.7 L344.6 235.3 L346.1 234.8 L347.6 234.3 L349.1 233.8 L350.6 233.2 L352.1 232.6 L353.6 232 L355.2 231.4 L356.7 230.8 L358.2 230.2 L359.7 229.6 L361.2 229 L362.7 228.5 L364.2 228.1 L365.8 227.6 L367.3 227.3 L368.8 227 L370.3 226.7" stroke="#c81858" stroke-width="0.85" stroke-opacity="0.9"/><path d="M295 236.9 L296.5 236.7 L298 236.4 L299.6 236.1 L301.1 235.7 L302.6 235.3 L304.1 234.9 L305.7 234.4 L307.2 233.9 L308.7 233.4 L310.2 232.9 L311.7 232.4 L313.3 231.9 L314.8 231.4 L316.3 231 L317.8 230.7 L319.4 230.3 L320.9 230.1 L322.4 229.9 L324 230.2 L325.6 230.7 L327.2 231.4 L328.8 232.1 L330.4 232.9 L332.1 233.6 L333.7 234.4 L335.3 235 L336.9 235.5 L338.5 235.9 L340 235.9 L341.5 236 L343 236 L344.6 236.1 L346.1 236.2 L347.6 236.3 L349.1 236.5 L350.6 236.6 L352.1 236.7 L353.6 236.8 L355.2 237 L356.7 237.1 L358.2 237.2 L359.7 237.3 L361.2 237.4 L362.7 237.5 L364.2 237.6 L365.8 237.7 L367.3 237.8 L368.8 237.9 L370.3 237.9" stroke="#e02060" stroke-width="0.85" stroke-opacity="0.9"/><path d="M295 226.6 L296.5 226.7 L298 226.9 L299.6 227.1 L301.1 227.3 L302.6 227.6 L304.1 227.9 L305.7 228.2 L307.2 228.5 L308.7 228.9 L310.2 229.2 L311.7 229.5 L313.3 229.8 L314.8 230.1 L316.3 230.4 L317.8 230.6 L319.4 230.8 L320.9 231 L322.4 231.2 L324 231.3 L325.6 231.6 L327.2 231.9 L328.8 232.3 L330.4 232.7 L332.1 233.1 L333.7 233.5 L335.3 233.8 L336.9 234.1 L338.5 234.3 L340 234.1 L341.5 233.8 L343 233.5 L344.6 233.1 L346.1 232.8 L347.6 232.3 L349.1 231.9 L350.6 231.4 L352.1 230.9 L353.6 230.3 L355.2 229.8 L356.7 229.3 L358.2 228.8 L359.7 228.3 L361.2 227.8 L362.7 227.4 L364.2 227 L365.8 226.7 L367.3 226.4 L368.8 226.1 L370.3 225.9" stroke="#e02060" stroke-width="0.85" stroke-opacity="0.9"/><path d="M295 236.8 L296.5 236.6 L298 236.5 L299.6 236.2 L301.1 236 L302.6 235.6 L304.1 235.3 L305.7 235 L307.2 234.6 L308.7 234.2 L310.2 233.8 L311.7 233.5 L313.3 233.1 L314.8 232.8 L316.3 232.5 L317.8 232.2 L319.4 232 L320.9 231.8 L322.4 231.6 L324 231.6 L325.6 231.7 L327.2 231.7 L328.8 231.8 L330.4 231.8 L332.1 231.9 L333.7 231.9 L335.3 232 L336.9 232 L338.5 232 L340 232.1 L341.5 232.2 L343 232.4 L344.6 232.6 L346.1 232.8 L347.6 233 L349.1 233.2 L350.6 233.5 L352.1 233.7 L353.6 234 L355.2 234.3 L356.7 234.5 L358.2 234.8 L359.7 235 L361.2 235.3 L362.7 235.5 L364.2 235.7 L365.8 235.9 L367.3 236 L368.8 236.1 L370.3 236.2" stroke="#c01050" stroke-width="0.85" stroke-opacity="0.9"/><path d="M295 231.3 L296.5 231.1 L298 230.8 L299.6 230.5 L301.1 230.2 L302.6 229.8 L304.1 229.4 L305.7 228.9 L307.2 228.5 L308.7 228 L310.2 227.5 L311.7 227 L313.3 226.6 L314.8 226.2 L316.3 225.8 L317.8 225.4 L319.4 225.1 L320.9 224.9 L322.4 224.7 L324 225.1 L325.6 225.8 L327.2 226.6 L328.8 227.5 L330.4 228.5 L332.1 229.5 L333.7 230.5 L335.3 231.3 L336.9 231.9 L338.5 232.4 L340 232.2 L341.5 232 L343 231.8 L344.6 231.6 L346.1 231.3 L347.6 231 L349.1 230.7 L350.6 230.3 L352.1 230 L353.6 229.6 L355.2 229.2 L356.7 228.9 L358.2 228.5 L359.7 228.2 L361.2 227.8 L362.7 227.5 L364.2 227.3 L365.8 227 L367.3 226.8 L368.8 226.6 L370.3 226.5" stroke="#e02060" stroke-width="0.85" stroke-opacity="0.9"/><path d="M295 235.3 L296.5 235.2 L298 235.1 L299.6 234.9 L301.1 234.7 L302.6 234.4 L304.1 234.2 L305.7 233.9 L307.2 233.6 L308.7 233.3 L310.2 233 L311.7 232.7 L313.3 232.4 L314.8 232.2 L316.3 231.9 L317.8 231.7 L319.4 231.6 L320.9 231.4 L322.4 231.3 L324 231.2 L325.6 231.2 L327.2 231.1 L328.8 231 L330.4 230.9 L332.1 230.8 L333.7 230.8 L335.3 230.7 L336.9 230.6 L338.5 230.6 L340 230.6 L341.5 230.6 L343 230.7 L344.6 230.7 L346.1 230.8 L347.6 230.8 L349.1 230.9 L350.6 231 L352.1 231 L353.6 231.1 L355.2 231.2 L356.7 231.2 L358.2 231.3 L359.7 231.3 L361.2 231.4 L362.7 231.5 L364.2 231.5 L365.8 231.6 L367.3 231.6 L368.8 231.6 L370.3 231.7" stroke="#a81050" stroke-width="0.85" stroke-opacity="0.9"/><path d="M295 231.7 L296.5 231.6 L298 231.4 L299.6 231.3 L301.1 231.1 L302.6 230.8 L304.1 230.6 L305.7 230.3 L307.2 230 L308.7 229.7 L310.2 229.4 L311.7 229.1 L313.3 228.9 L314.8 228.6 L316.3 228.4 L317.8 228.2 L319.4 228 L320.9 227.8 L322.4 227.7 L324 227.6 L325.6 227.4 L327.2 227.2 L328.8 227 L330.4 226.7 L332.1 226.4 L333.7 226.2 L335.3 226 L336.9 225.8 L338.5 225.7 L340 225.6 L341.5 225.4 L343 225.2 L344.6 225 L346.1 224.8 L347.6 224.6 L349.1 224.3 L350.6 224 L352.1 223.7 L353.6 223.4 L355.2 223.1 L356.7 222.8 L358.2 222.6 L359.7 222.3 L361.2 222 L362.7 221.8 L364.2 221.5 L365.8 221.3 L367.3 221.2 L368.8 221 L370.3 220.9" stroke="#e02060" stroke-width="0.85" stroke-opacity="0.9"/><path d="M295 224 L296.5 224.2 L298 224.5 L299.6 224.8 L301.1 225.2 L302.6 225.6 L304.1 226 L305.7 226.5 L307.2 227 L308.7 227.5 L310.2 228 L311.7 228.5 L313.3 229 L314.8 229.4 L316.3 229.8 L317.8 230.2 L319.4 230.5 L320.9 230.7 L322.4 230.9 L324 231 L325.6 231.2 L327.2 231.4 L328.8 231.7 L330.4 231.9 L332.1 232.2 L333.7 232.4 L335.3 232.6 L336.9 232.8 L338.5 232.9 L340 232.9 L341.5 232.9 L343 232.9 L344.6 233 L346.1 233 L347.6 233 L349.1 233 L350.6 233 L352.1 233.1 L353.6 233.1 L355.2 233.1 L356.7 233.1 L358.2 233.2 L359.7 233.2 L361.2 233.2 L362.7 233.2 L364.2 233.3 L365.8 233.3 L367.3 233.3 L368.8 233.3 L370.3 233.3" stroke="#e04070" stroke-width="0.85" stroke-opacity="0.9"/><path d="M295 226.8 L296.5 226.9 L298 227 L299.6 227.1 L301.1 227.2 L302.6 227.3 L304.1 227.4 L305.7 227.5 L307.2 227.7 L308.7 227.8 L310.2 228 L311.7 228.1 L313.3 228.2 L314.8 228.4 L316.3 228.5 L317.8 228.6 L319.4 228.7 L320.9 228.7 L322.4 228.8 L324 228.3 L325.6 227.7 L327.2 226.9 L328.8 225.9 L330.4 224.9 L332.1 223.9 L333.7 222.9 L335.3 222.1 L336.9 221.5 L338.5 221 L340 221 L341.5 221 L343 221 L344.6 220.9 L346.1 220.9 L347.6 220.9 L349.1 220.8 L350.6 220.8 L352.1 220.7 L353.6 220.7 L355.2 220.6 L356.7 220.6 L358.2 220.6 L359.7 220.5 L361.2 220.5 L362.7 220.4 L364.2 220.4 L365.8 220.4 L367.3 220.4 L368.8 220.3 L370.3 220.3" stroke="#c01050" stroke-width="0.85" stroke-opacity="0.9"/><path d="M295 225.8 L296.5 225.6 L298 225.4 L299.6 225.1 L301.1 224.8 L302.6 224.5 L304.1 224.1 L305.7 223.7 L307.2 223.3 L308.7 222.8 L310.2 222.4 L311.7 222 L313.3 221.6 L314.8 221.2 L316.3 220.9 L317.8 220.6 L319.4 220.3 L320.9 220.1 L322.4 219.9 L324 220 L325.6 220.1 L327.2 220.3 L328.8 220.5 L330.4 220.8 L332.1 221 L333.7 221.2 L335.3 221.4 L336.9 221.5 L338.5 221.6 L340 221.7 L341.5 221.9 L343 222.1 L344.6 222.4 L346.1 222.6 L347.6 222.9 L349.1 223.3 L350.6 223.6 L352.1 223.9 L353.6 224.3 L355.2 224.7 L356.7 225 L358.2 225.4 L359.7 225.7 L361.2 226 L362.7 226.3 L364.2 226.6 L365.8 226.8 L367.3 227 L368.8 227.2 L370.3 227.4" stroke="#c01050" stroke-width="0.85" stroke-opacity="0.9"/><path d="M295 217.1 L296.5 217.4 L298 217.9 L299.6 218.4 L301.1 219 L302.6 219.7 L304.1 220.4 L305.7 221.2 L307.2 222.1 L308.7 222.9 L310.2 223.8 L311.7 224.6 L313.3 225.4 L314.8 226.1 L316.3 226.8 L317.8 227.4 L319.4 227.9 L320.9 228.4 L322.4 228.7 L324 228.7 L325.6 228.6 L327.2 228.6 L328.8 228.5 L330.4 228.4 L332.1 228.3 L333.7 228.3 L335.3 228.2 L336.9 228.2 L338.5 228.1 L340 228.1 L341.5 228.1 L343 228.1 L344.6 228.1 L346.1 228 L347.6 228 L349.1 228 L350.6 227.9 L352.1 227.9 L353.6 227.9 L355.2 227.9 L356.7 227.8 L358.2 227.8 L359.7 227.8 L361.2 227.7 L362.7 227.7 L364.2 227.7 L365.8 227.7 L367.3 227.6 L368.8 227.6 L370.3 227.6" stroke="#b81058" stroke-width="0.85" stroke-opacity="0.9"/><path d="M295 153.5 L296.5 153.4 L298 153.3 L299.6 153.2 L301.1 153 L302.6 152.8 L304.1 152.7 L305.7 152.5 L307.2 152.3 L308.7 152 L310.2 151.8 L311.7 151.6 L313.3 151.4 L314.8 151.3 L316.3 151.1 L317.8 150.9 L319.4 150.8 L320.9 150.7 L322.4 150.6 L324 150.6 L325.6 150.6 L327.2 150.5 L328.8 150.5 L330.4 150.4 L332.1 150.4 L333.7 150.3 L335.3 150.3 L336.9 150.3 L338.5 150.2 L340 150.4 L341.5 150.6 L343 150.9 L344.6 151.2 L346.1 151.5 L347.6 151.8 L349.1 152.2 L350.6 152.6 L352.1 153 L353.6 153.5 L355.2 153.9 L356.7 154.3 L358.2 154.7 L359.7 155.1 L361.2 155.5 L362.7 155.9 L364.2 156.2 L365.8 156.5 L367.3 156.7 L368.8 156.9 L370.3 157.1" stroke="#d02048" stroke-width="0.9" stroke-opacity="0.9"/><path d="M295 151.3 L296.5 151.3 L298 151.3 L299.6 151.4 L301.1 151.4 L302.6 151.4 L304.1 151.5 L305.7 151.5 L307.2 151.6 L308.7 151.6 L310.2 151.7 L311.7 151.7 L313.3 151.8 L314.8 151.8 L316.3 151.9 L317.8 151.9 L319.4 152 L320.9 152 L322.4 152 L324 152 L325.6 151.9 L327.2 151.9 L328.8 151.8 L330.4 151.7 L332.1 151.7 L333.7 151.6 L335.3 151.5 L336.9 151.5 L338.5 151.5 L340 151.5 L341.5 151.5 L343 151.5 L344.6 151.5 L346.1 151.5 L347.6 151.6 L349.1 151.6 L350.6 151.6 L352.1 151.6 L353.6 151.7 L355.2 151.7 L356.7 151.7 L358.2 151.8 L359.7 151.8 L361.2 151.8 L362.7 151.8 L364.2 151.9 L365.8 151.9 L367.3 151.9 L368.8 151.9 L370.3 151.9" stroke="#5030c0" stroke-width="0.9" stroke-opacity="0.9"/><path d="M295 149.1 L296.5 149.2 L298 149.3 L299.6 149.5 L301.1 149.7 L302.6 149.9 L304.1 150.1 L305.7 150.4 L307.2 150.7 L308.7 150.9 L310.2 151.2 L311.7 151.5 L313.3 151.7 L314.8 152 L316.3 152.2 L317.8 152.4 L319.4 152.5 L320.9 152.7 L322.4 152.8 L324 152.9 L325.6 153 L327.2 153.1 L328.8 153.2 L330.4 153.4 L332.1 153.5 L333.7 153.6 L335.3 153.8 L336.9 153.9 L338.5 153.9 L340 153.9 L341.5 154 L343 154 L344.6 154 L346.1 154 L347.6 154.1 L349.1 154.1 L350.6 154.1 L352.1 154.2 L353.6 154.2 L355.2 154.2 L356.7 154.3 L358.2 154.3 L359.7 154.3 L361.2 154.4 L362.7 154.4 L364.2 154.4 L365.8 154.5 L367.3 154.5 L368.8 154.5 L370.3 154.5" stroke="#5030c0" stroke-width="0.9" stroke-opacity="0.9"/><path d="M295 148.7 L296.5 148.7 L298 148.7 L299.6 148.7 L301.1 148.7 L302.6 148.7 L304.1 148.8 L305.7 148.8 L307.2 148.8 L308.7 148.8 L310.2 148.8 L311.7 148.8 L313.3 148.8 L314.8 148.8 L316.3 148.8 L317.8 148.8 L319.4 148.8 L320.9 148.8 L322.4 148.8 L324 148.7 L325.6 148.5 L327.2 148.3 L328.8 148.1 L330.4 147.8 L332.1 147.6 L333.7 147.3 L335.3 147.1 L336.9 147 L338.5 146.8 L340 146.9 L341.5 146.9 L343 146.9 L344.6 147 L346.1 147 L347.6 147.1 L349.1 147.1 L350.6 147.2 L352.1 147.2 L353.6 147.3 L355.2 147.4 L356.7 147.4 L358.2 147.5 L359.7 147.5 L361.2 147.6 L362.7 147.7 L364.2 147.7 L365.8 147.7 L367.3 147.8 L368.8 147.8 L370.3 147.8" stroke="#e02030" stroke-width="0.9" stroke-opacity="0.9"/><path d="M295 148.2 L296.5 148.1 L298 148.1 L299.6 148.1 L301.1 148 L302.6 148 L304.1 147.9 L305.7 147.9 L307.2 147.8 L308.7 147.8 L310.2 147.7 L311.7 147.6 L313.3 147.6 L314.8 147.5 L316.3 147.5 L317.8 147.4 L319.4 147.4 L320.9 147.4 L322.4 147.3 L324 147.6 L325.6 147.9 L327.2 148.2 L328.8 148.7 L330.4 149.1 L332.1 149.6 L333.7 150 L335.3 150.4 L336.9 150.7 L338.5 150.9 L340 150.9 L341.5 150.9 L343 150.9 L344.6 150.8 L346.1 150.8 L347.6 150.7 L349.1 150.7 L350.6 150.6 L352.1 150.6 L353.6 150.5 L355.2 150.5 L356.7 150.4 L358.2 150.4 L359.7 150.3 L361.2 150.3 L362.7 150.2 L364.2 150.2 L365.8 150.2 L367.3 150.1 L368.8 150.1 L370.3 150.1" stroke="#7030b0" stroke-width="0.9" stroke-opacity="0.9"/><path d="M295 147.8 L296.5 147.9 L298 148 L299.6 148.1 L301.1 148.2 L302.6 148.3 L304.1 148.4 L305.7 148.6 L307.2 148.7 L308.7 148.9 L310.2 149 L311.7 149.2 L313.3 149.3 L314.8 149.4 L316.3 149.6 L317.8 149.7 L319.4 149.8 L320.9 149.9 L322.4 149.9 L324 149.9 L325.6 149.9 L327.2 149.9 L328.8 149.9 L330.4 149.9 L332.1 149.9 L333.7 149.8 L335.3 149.8 L336.9 149.8 L338.5 149.8 L340 149.8 L341.5 149.8 L343 149.8 L344.6 149.8 L346.1 149.7 L347.6 149.7 L349.1 149.7 L350.6 149.6 L352.1 149.6 L353.6 149.6 L355.2 149.5 L356.7 149.5 L358.2 149.5 L359.7 149.4 L361.2 149.4 L362.7 149.4 L364.2 149.4 L365.8 149.3 L367.3 149.3 L368.8 149.3 L370.3 149.3" stroke="#e02030" stroke-width="0.9" stroke-opacity="0.9"/><path d="M295 145.2 L296.5 145.2 L298 145.2 L299.6 145.1 L301.1 145.1 L302.6 145 L304.1 144.9 L305.7 144.9 L307.2 144.8 L308.7 144.7 L310.2 144.7 L311.7 144.6 L313.3 144.5 L314.8 144.5 L316.3 144.4 L317.8 144.4 L319.4 144.3 L320.9 144.3 L322.4 144.2 L324 144.2 L325.6 144.1 L327.2 144 L328.8 144 L330.4 143.9 L332.1 143.7 L333.7 143.7 L335.3 143.6 L336.9 143.5 L338.5 143.5 L340 143.5 L341.5 143.5 L343 143.6 L344.6 143.6 L346.1 143.7 L347.6 143.7 L349.1 143.8 L350.6 143.9 L352.1 143.9 L353.6 144 L355.2 144.1 L356.7 144.2 L358.2 144.2 L359.7 144.3 L361.2 144.4 L362.7 144.4 L364.2 144.5 L365.8 144.6 L367.3 144.6 L368.8 144.6 L370.3 144.7" stroke="#2a38c0" stroke-width="0.9" stroke-opacity="0.9"/><path d="M295 144 L296.5 144.1 L298 144.2 L299.6 144.3 L301.1 144.4 L302.6 144.6 L304.1 144.7 L305.7 144.9 L307.2 145.1 L308.7 145.2 L310.2 145.4 L311.7 145.6 L313.3 145.7 L314.8 145.9 L316.3 146 L317.8 146.1 L319.4 146.3 L320.9 146.3 L322.4 146.4 L324 146.3 L325.6 146.2 L327.2 146.1 L328.8 146 L330.4 145.8 L332.1 145.7 L333.7 145.5 L335.3 145.4 L336.9 145.3 L338.5 145.2 L340 145.4 L341.5 145.5 L343 145.7 L344.6 145.8 L346.1 146.1 L347.6 146.3 L349.1 146.5 L350.6 146.8 L352.1 147.1 L353.6 147.3 L355.2 147.6 L356.7 147.9 L358.2 148.2 L359.7 148.4 L361.2 148.7 L362.7 148.9 L364.2 149.1 L365.8 149.3 L367.3 149.5 L368.8 149.6 L370.3 149.7" stroke="#d02048" stroke-width="0.9" stroke-opacity="0.9"/><path d="M295 142.3 L296.5 142.5 L298 142.7 L299.6 143 L301.1 143.3 L302.6 143.6 L304.1 144 L305.7 144.4 L307.2 144.8 L308.7 145.2 L310.2 145.6 L311.7 146 L313.3 146.4 L314.8 146.8 L316.3 147.1 L317.8 147.4 L319.4 147.7 L320.9 147.9 L322.4 148.1 L324 148 L325.6 147.9 L327.2 147.7 L328.8 147.6 L330.4 147.4 L332.1 147.2 L333.7 147 L335.3 146.9 L336.9 146.8 L338.5 146.7 L340 146.6 L341.5 146.6 L343 146.5 L344.6 146.4 L346.1 146.3 L347.6 146.3 L349.1 146.2 L350.6 146.1 L352.1 145.9 L353.6 145.8 L355.2 145.7 L356.7 145.6 L358.2 145.5 L359.7 145.4 L361.2 145.3 L362.7 145.2 L364.2 145.1 L365.8 145 L367.3 145 L368.8 144.9 L370.3 144.9" stroke="#5030c0" stroke-width="0.9" stroke-opacity="0.9"/><path d="M295 145.8 L296.5 145.8 L298 145.7 L299.6 145.5 L301.1 145.4 L302.6 145.2 L304.1 145.1 L305.7 144.9 L307.2 144.7 L308.7 144.5 L310.2 144.3 L311.7 144.1 L313.3 143.9 L314.8 143.8 L316.3 143.6 L317.8 143.5 L319.4 143.3 L320.9 143.2 L322.4 143.2 L324 143.3 L325.6 143.4 L327.2 143.6 L328.8 143.9 L330.4 144.1 L332.1 144.3 L333.7 144.6 L335.3 144.8 L336.9 144.9 L338.5 145 L340 145 L341.5 144.9 L343 144.8 L344.6 144.7 L346.1 144.6 L347.6 144.5 L349.1 144.4 L350.6 144.3 L352.1 144.1 L353.6 144 L355.2 143.9 L356.7 143.7 L358.2 143.6 L359.7 143.5 L361.2 143.3 L362.7 143.2 L364.2 143.1 L365.8 143 L367.3 142.9 L368.8 142.9 L370.3 142.8" stroke="#e02030" stroke-width="0.9" stroke-opacity="0.9"/><path d="M295 141.6 L296.5 141.6 L298 141.6 L299.6 141.6 L301.1 141.5 L302.6 141.5 L304.1 141.5 L305.7 141.4 L307.2 141.4 L308.7 141.4 L310.2 141.3 L311.7 141.3 L313.3 141.2 L314.8 141.2 L316.3 141.2 L317.8 141.1 L319.4 141.1 L320.9 141.1 L322.4 141.1 L324 141.1 L325.6 141.1 L327.2 141.1 L328.8 141.1 L330.4 141.1 L332.1 141.1 L333.7 141.1 L335.3 141.1 L336.9 141.2 L338.5 141.2 L340 141.2 L341.5 141.3 L343 141.3 L344.6 141.4 L346.1 141.5 L347.6 141.6 L349.1 141.7 L350.6 141.8 L352.1 141.9 L353.6 142 L355.2 142.1 L356.7 142.2 L358.2 142.4 L359.7 142.5 L361.2 142.6 L362.7 142.7 L364.2 142.7 L365.8 142.8 L367.3 142.9 L368.8 142.9 L370.3 143" stroke="#3040d8" stroke-width="0.9" stroke-opacity="0.9"/><path d="M295 144.8 L296.5 144.7 L298 144.5 L299.6 144.3 L301.1 144.1 L302.6 143.8 L304.1 143.5 L305.7 143.2 L307.2 142.9 L308.7 142.6 L310.2 142.3 L311.7 142 L313.3 141.7 L314.8 141.4 L316.3 141.2 L317.8 141 L319.4 140.8 L320.9 140.6 L322.4 140.5 L324 140.7 L325.6 140.9 L327.2 141.3 L328.8 141.7 L330.4 142.1 L332.1 142.6 L333.7 143 L335.3 143.3 L336.9 143.6 L338.5 143.8 L340 143.8 L341.5 143.8 L343 143.8 L344.6 143.9 L346.1 143.9 L347.6 144 L349.1 144 L350.6 144 L352.1 144.1 L353.6 144.1 L355.2 144.2 L356.7 144.2 L358.2 144.3 L359.7 144.3 L361.2 144.4 L362.7 144.4 L364.2 144.4 L365.8 144.5 L367.3 144.5 L368.8 144.5 L370.3 144.5" stroke="#e02030" stroke-width="0.9" stroke-opacity="0.9"/><path d="M295 140.2 L296.5 140.3 L298 140.4 L299.6 140.6 L301.1 140.7 L302.6 140.9 L304.1 141.1 L305.7 141.3 L307.2 141.5 L308.7 141.8 L310.2 142 L311.7 142.2 L313.3 142.4 L314.8 142.6 L316.3 142.8 L317.8 143 L319.4 143.1 L320.9 143.2 L322.4 143.3 L324 143.3 L325.6 143.4 L327.2 143.4 L328.8 143.4 L330.4 143.5 L332.1 143.5 L333.7 143.6 L335.3 143.6 L336.9 143.6 L338.5 143.6 L340 143.7 L341.5 143.7 L343 143.7 L344.6 143.8 L346.1 143.8 L347.6 143.9 L349.1 144 L350.6 144 L352.1 144.1 L353.6 144.2 L355.2 144.3 L356.7 144.3 L358.2 144.4 L359.7 144.5 L361.2 144.6 L362.7 144.6 L364.2 144.7 L365.8 144.7 L367.3 144.8 L368.8 144.8 L370.3 144.8" stroke="#d02048" stroke-width="0.9" stroke-opacity="0.9"/><path d="M295 138.1 L296.5 138 L298 138 L299.6 137.9 L301.1 137.9 L302.6 137.8 L304.1 137.8 L305.7 137.7 L307.2 137.6 L308.7 137.6 L310.2 137.5 L311.7 137.4 L313.3 137.4 L314.8 137.3 L316.3 137.3 L317.8 137.2 L319.4 137.2 L320.9 137.1 L322.4 137.1 L324 137.4 L325.6 137.8 L327.2 138.2 L328.8 138.8 L330.4 139.4 L332.1 140 L333.7 140.6 L335.3 141.1 L336.9 141.5 L338.5 141.7 L340 141.7 L341.5 141.7 L343 141.7 L344.6 141.7 L346.1 141.7 L347.6 141.7 L349.1 141.7 L350.6 141.7 L352.1 141.7 L353.6 141.7 L355.2 141.7 L356.7 141.7 L358.2 141.7 L359.7 141.7 L361.2 141.7 L362.7 141.7 L364.2 141.7 L365.8 141.7 L367.3 141.7 L368.8 141.7 L370.3 141.7" stroke="#7030b0" stroke-width="0.9" stroke-opacity="0.9"/><path d="M295 155.9 L296.5 155.9 L298 155.9 L299.6 155.9 L301.1 155.9 L302.6 155.9 L304.1 155.9 L305.7 155.9 L307.2 155.9 L308.7 155.9 L310.2 155.9 L311.7 155.9 L313.3 155.9 L314.8 155.9 L316.3 155.9 L317.8 155.9 L319.4 155.9 L320.9 155.9 L322.4 155.9 L324 155.9 L325.6 155.9 L327.2 155.9 L328.8 155.9 L330.4 155.9 L332.1 155.9 L333.7 155.9 L335.3 155.9 L336.9 155.9 L338.5 155.9 L340 155.9 L341.5 155.9 L343 155.9 L344.6 155.9 L346.1 155.9 L347.6 155.9 L349.1 155.9 L350.6 155.9 L352.1 155.9 L353.6 155.9 L355.2 155.9 L356.7 155.9 L358.2 155.9 L359.7 155.9 L361.2 155.9 L362.7 155.9 L364.2 155.9 L365.8 155.9 L367.3 155.9 L368.8 155.9 L370.3 155.9" stroke="#3050c0" stroke-width="1.1"/><path d="M295 158.3 L296.5 158.3 L298 158.3 L299.6 158.3 L301.1 158.3 L302.6 158.3 L304.1 158.3 L305.7 158.3 L307.2 158.3 L308.7 158.3 L310.2 158.3 L311.7 158.3 L313.3 158.3 L314.8 158.3 L316.3 158.3 L317.8 158.3 L319.4 158.3 L320.9 158.3 L322.4 158.3 L324 158.3 L325.6 158.3 L327.2 158.3 L328.8 158.3 L330.4 158.3 L332.1 158.3 L333.7 158.3 L335.3 158.3 L336.9 158.3 L338.5 158.3 L340 158.3 L341.5 158.3 L343 158.3 L344.6 158.3 L346.1 158.3 L347.6 158.3 L349.1 158.3 L350.6 158.3 L352.1 158.3 L353.6 158.3 L355.2 158.3 L356.7 158.3 L358.2 158.3 L359.7 158.3 L361.2 158.3 L362.7 158.3 L364.2 158.3 L365.8 158.3 L367.3 158.3 L368.8 158.3 L370.3 158.3" stroke="#3898a8" stroke-width="0.9"/><path d="M295 161.6 L296.5 161.6 L298 161.6 L299.6 161.6 L301.1 161.6 L302.6 161.6 L304.1 161.6 L305.7 161.6 L307.2 161.6 L308.7 161.7 L310.2 161.7 L311.7 161.7 L313.3 161.7 L314.8 161.7 L316.3 161.7 L317.8 161.7 L319.4 161.7 L320.9 161.7 L322.4 161.7 L324 161.7 L325.6 161.7 L327.2 161.7 L328.8 161.7 L330.4 161.7 L332.1 161.6 L333.7 161.6 L335.3 161.6 L336.9 161.6 L338.5 161.6 L340 161.6 L341.5 161.6 L343 161.6 L344.6 161.6 L346.1 161.6 L347.6 161.6 L349.1 161.6 L350.6 161.6 L352.1 161.6 L353.6 161.6 L355.2 161.6 L356.7 161.6 L358.2 161.6 L359.7 161.6 L361.2 161.6 L362.7 161.6 L364.2 161.6 L365.8 161.6 L367.3 161.6 L368.8 161.6 L370.3 161.6" stroke="#40a060" stroke-width="1.1"/><path d="M295 166.4 L296.5 166.4 L298 166.4 L299.6 166.4 L301.1 166.4 L302.6 166.4 L304.1 166.4 L305.7 166.5 L307.2 166.5 L308.7 166.5 L310.2 166.5 L311.7 166.5 L313.3 166.5 L314.8 166.5 L316.3 166.5 L317.8 166.5 L319.4 166.6 L320.9 166.6 L322.4 166.6 L324 166.6 L325.6 166.5 L327.2 166.5 L328.8 166.5 L330.4 166.5 L332.1 166.5 L333.7 166.4 L335.3 166.4 L336.9 166.4 L338.5 166.4 L340 166.4 L341.5 166.4 L343 166.4 L344.6 166.4 L346.1 166.4 L347.6 166.4 L349.1 166.4 L350.6 166.4 L352.1 166.4 L353.6 166.4 L355.2 166.4 L356.7 166.4 L358.2 166.4 L359.7 166.4 L361.2 166.4 L362.7 166.4 L364.2 166.4 L365.8 166.4 L367.3 166.4 L368.8 166.4 L370.3 166.4" stroke="#50a860" stroke-width="1.0"/><path d="M295 167.7 L296.5 167.7 L298 167.7 L299.6 167.7 L301.1 167.7 L302.6 167.7 L304.1 167.7 L305.7 167.7 L307.2 167.7 L308.7 167.7 L310.2 167.7 L311.7 167.7 L313.3 167.7 L314.8 167.7 L316.3 167.7 L317.8 167.7 L319.4 167.7 L320.9 167.7 L322.4 167.7 L324 167.7 L325.6 167.7 L327.2 167.7 L328.8 167.7 L330.4 167.7 L332.1 167.7 L333.7 167.7 L335.3 167.7 L336.9 167.7 L338.5 167.7 L340 167.7 L341.5 167.7 L343 167.7 L344.6 167.7 L346.1 167.7 L347.6 167.7 L349.1 167.7 L350.6 167.7 L352.1 167.7 L353.6 167.7 L355.2 167.7 L356.7 167.7 L358.2 167.7 L359.7 167.7 L361.2 167.7 L362.7 167.7 L364.2 167.7 L365.8 167.7 L367.3 167.7 L368.8 167.7 L370.3 167.7" stroke="#e07070" stroke-width="0.8"/><path d="M295 187.2 L296.5 187.2 L298 187.2 L299.6 187.2 L301.1 187.2 L302.6 187.2 L304.1 187.2 L305.7 187.2 L307.2 187.2 L308.7 187.2 L310.2 187.2 L311.7 187.2 L313.3 187.2 L314.8 187.2 L316.3 187.2 L317.8 187.2 L319.4 187.2 L320.9 187.2 L322.4 187.2 L324 187.2 L325.6 187.2 L327.2 187.2 L328.8 187.2 L330.4 187.2 L332.1 187.2 L333.7 187.2 L335.3 187.2 L336.9 187.2 L338.5 187.2 L340 187.2 L341.5 187.2 L343 187.2 L344.6 187.2 L346.1 187.2 L347.6 187.2 L349.1 187.2 L350.6 187.2 L352.1 187.2 L353.6 187.2 L355.2 187.2 L356.7 187.2 L358.2 187.2 L359.7 187.2 L361.2 187.2 L362.7 187.2 L364.2 187.2 L365.8 187.2 L367.3 187.2 L368.8 187.2 L370.3 187.2" stroke="#603010" stroke-width="1.3"/><path d="M295 189.3 L296.5 189.3 L298 189.3 L299.6 189.3 L301.1 189.3 L302.6 189.3 L304.1 189.3 L305.7 189.3 L307.2 189.3 L308.7 189.3 L310.2 189.3 L311.7 189.3 L313.3 189.3 L314.8 189.3 L316.3 189.3 L317.8 189.3 L319.4 189.3 L320.9 189.3 L322.4 189.3 L324 189.3 L325.6 189.3 L327.2 189.3 L328.8 189.3 L330.4 189.3 L332.1 189.3 L333.7 189.3 L335.3 189.3 L336.9 189.3 L338.5 189.3 L340 189.3 L341.5 189.3 L343 189.3 L344.6 189.3 L346.1 189.3 L347.6 189.3 L349.1 189.3 L350.6 189.3 L352.1 189.3 L353.6 189.3 L355.2 189.3 L356.7 189.3 L358.2 189.3 L359.7 189.3 L361.2 189.3 L362.7 189.3 L364.2 189.3 L365.8 189.3 L367.3 189.3 L368.8 189.3 L370.3 189.3" stroke="#d8e0a0" stroke-width="0.8"/><path d="M295 193 L296.5 193 L298 193 L299.6 193 L301.1 193 L302.6 193 L304.1 193 L305.7 193.1 L307.2 193.1 L308.7 193.1 L310.2 193.1 L311.7 193.1 L313.3 193.1 L314.8 193.1 L316.3 193.1 L317.8 193.2 L319.4 193.2 L320.9 193.2 L322.4 193.2 L324 193.2 L325.6 193.1 L327.2 193.1 L328.8 193.1 L330.4 193.1 L332.1 193.1 L333.7 193 L335.3 193 L336.9 193 L338.5 193 L340 193 L341.5 193 L343 193 L344.6 193 L346.1 193 L347.6 193 L349.1 193 L350.6 193 L352.1 193 L353.6 193 L355.2 193 L356.7 193 L358.2 193 L359.7 193 L361.2 193 L362.7 193 L364.2 193 L365.8 193 L367.3 193 L368.8 193 L370.3 193" stroke="#c0a060" stroke-width="1.0"/><path d="M295 196 L296.5 196 L298 196 L299.6 196 L301.1 196 L302.6 196 L304.1 196 L305.7 196 L307.2 196 L308.7 196 L310.2 196 L311.7 196 L313.3 196 L314.8 196 L316.3 196 L317.8 196 L319.4 196 L320.9 196 L322.4 196 L324 196 L325.6 196 L327.2 196 L328.8 196 L330.4 196 L332.1 196 L333.7 196 L335.3 196 L336.9 196 L338.5 196 L340 196 L341.5 196 L343 196 L344.6 196 L346.1 196 L347.6 196 L349.1 196 L350.6 196 L352.1 196 L353.6 196 L355.2 196 L356.7 196 L358.2 196 L359.7 196 L361.2 196 L362.7 196 L364.2 196 L365.8 196 L367.3 196 L368.8 196 L370.3 196" stroke="#f0c8c8" stroke-width="0.8"/><path d="M295 199.2 L296.5 199.2 L298 199.3 L299.6 199.3 L301.1 199.3 L302.6 199.3 L304.1 199.4 L305.7 199.4 L307.2 199.4 L308.7 199.4 L310.2 199.5 L311.7 199.5 L313.3 199.5 L314.8 199.6 L316.3 199.6 L317.8 199.6 L319.4 199.6 L320.9 199.7 L322.4 199.7 L324 199.6 L325.6 199.6 L327.2 199.6 L328.8 199.5 L330.4 199.4 L332.1 199.4 L333.7 199.3 L335.3 199.3 L336.9 199.3 L338.5 199.2 L340 199.2 L341.5 199.2 L343 199.2 L344.6 199.2 L346.1 199.2 L347.6 199.2 L349.1 199.2 L350.6 199.2 L352.1 199.2 L353.6 199.2 L355.2 199.2 L356.7 199.2 L358.2 199.2 L359.7 199.2 L361.2 199.2 L362.7 199.2 L364.2 199.2 L365.8 199.2 L367.3 199.2 L368.8 199.2 L370.3 199.2" stroke="#c87030" stroke-width="1.0"/><path d="M295 201.2 L296.5 201.3 L298 201.4 L299.6 201.4 L301.1 201.5 L302.6 201.6 L304.1 201.7 L305.7 201.8 L307.2 201.9 L308.7 202 L310.2 202.2 L311.7 202.3 L313.3 202.4 L314.8 202.5 L316.3 202.6 L317.8 202.7 L319.4 202.7 L320.9 202.8 L322.4 202.8 L324 202.8 L325.6 202.8 L327.2 202.7 L328.8 202.6 L330.4 202.6 L332.1 202.5 L333.7 202.4 L335.3 202.4 L336.9 202.3 L338.5 202.3 L340 202.3 L341.5 202.2 L343 202.2 L344.6 202.2 L346.1 202.1 L347.6 202.1 L349.1 202 L350.6 201.9 L352.1 201.9 L353.6 201.8 L355.2 201.7 L356.7 201.7 L358.2 201.6 L359.7 201.6 L361.2 201.5 L362.7 201.4 L364.2 201.4 L365.8 201.3 L367.3 201.3 L368.8 201.3 L370.3 201.2" stroke="#e02030" stroke-width="1.2"/></g><line x1="373.1" y1="187.2" x2="409.8" y2="187.2" stroke="#333" stroke-width="1"/><g clip-path="url(#cdG)"><path d="M373.1 198.6 L387.5 198.6 L389.4 199 L391.3 199.3 L393.3 199.7 L395.2 200 L397.1 200.4 L395.2 200.7 L393.3 201.1 L391.3 201.4 L389.4 201.8 L389 202.1 L389.5 202.5 L390.4 202.8 L391.4 203.2 L392.5 203.5 L393.3 203.9 L393.7 204.2 L393.7 204.6 L393.3 204.9 L392.9 205.3 L393.5 205.6 L396.2 206 L398.9 206.3 L401.7 206.7 L404.4 207 L407.1 207.4 L404.4 207.7 L401.7 208.1 L398.9 208.4 L396.2 208.8 L395 209.1 L393.8 209.5 L392.6 209.9 L391.6 210.2 L393.3 210.6 L395.5 210.9 L397.7 211.3 L400 211.6 L400 212 L397.7 212.3 L395.5 212.7 L393.3 213 L391.4 213.4 L390.5 213.7 L389.8 214.1 L389.5 214.4 L390.8 214.8 L392.9 215.1 L394.9 215.5 L397 215.8 L399.1 216.2 L397 216.5 L395.7 216.9 L395.7 217.2 L395.3 217.6 L394.7 217.9 L394 218.3 L393.5 218.6 L393.3 219 L394.7 219.3 L397.1 219.7 L399.5 220 L401.9 220.4 L401.9 220.7 L399.5 221.1 L397.1 221.4 L394.7 221.8 L392.3 222.1 L390.8 222.5 L389.9 222.8 L389.4 223.2 L389.4 223.5 L389.9 223.9 L390.8 224.3 L391.7 224.6 L392.4 225 L394.2 225.3 L396.1 225.7 L396.1 226 L394.2 226.4 L392.3 226.7 L391.4 227.1 L391.6 227.4 L392.2 227.8 L393.2 228.1 L394.5 228.5 L395.6 228.8 L396.5 229.2 L396.8 229.5 L396.6 229.9 L396 230.2 L395 230.6 L393.9 230.9 L392.9 231.3 L392.3 231.6 L392.1 232 L392.3 232.3 L392.7 232.7 L373.1 232.9Z" fill="#b0b0b0" stroke="#8c8c8c" stroke-width="0.4"/><path d="M373.1 141.5 L392.5 141.5 L392 141.9 L391.9 142.2 L392.1 142.6 L392.6 142.9 L393 143.3 L393.2 143.7 L393.1 144 L392.5 144.4 L391.6 144.7 L390.5 145.1 L389.4 145.4 L388.6 145.8 L388.2 146.1 L388.4 146.5 L389 146.8 L390 147.2 L391.1 147.5 L392.1 147.9 L392.7 148.2 L393 148.6 L392.9 148.9 L392.5 149.3 L392 149.6 L391.7 150 L391.7 150.3 L392.1 150.7 L392.9 151 L393.8 151.4 L394.7 151.7 L395.4 152.1 L395.6 152.4 L395.3 152.8 L394.6 153.1 L393.5 153.5 L392.2 153.8 L391.1 154.2 L390.4 154.5 L373.1 154.7Z" fill="#b0b0b0" stroke="#8c8c8c" stroke-width="0.4"/><path d="M373.5 198.6 L373.7 199.3 L374 200 L374.2 200.7 L373.5 201.4 L373.5 202.1 L373.5 202.8 L373.9 203.5 L374.7 204.2 L374.7 204.9 L374.9 205.6 L375.1 206.3 L375.8 207 L375.7 207.7 L374.7 208.4 L373.9 209.1 L373.7 209.9 L374.5 210.6 L374.8 211.3 L374.9 212 L375.1 212.7 L376.1 213.4 L376.6 214.1 L376.9 214.8 L376.1 215.5 L375.2 216.2 L375 216.9 L375.2 217.6 L375.1 218.3 L375 219 L375.2 219.7 L376 220.4 L377.3 221.1 L377.2 221.8 L377.2 222.5 L376.6 223.2 L376.7 223.9 L376.8 224.6 L375.8 225.3 L375.2 226 L375.6 226.7 L376.6 227.4 L377.5 228.1 L377.7 228.8 L377.9 229.5 L377.9 230.2 L378.5 230.9" fill="none" stroke="#10a030" stroke-width="0.9"/><path d="M374 200.4 L374.6 201.1 L374.8 201.8 L375.2 202.5 L375.4 203.2 L375.4 203.9 L374.8 204.6 L373.8 205.3 L373.9 206 L375.3 206.7 L376.9 207.4 L377.6 208.1 L377.4 208.8 L378.2 209.5 L379 210.2 L378.7 210.9 L377.6 211.6 L376.3 212.3 L376.4 213 L377.2 213.7 L378.1 214.4 L378.2 215.1 L379.1 215.8 L380.1 216.5 L381.3 217.2 L381.7 217.9 L380.7 218.6 L379.6 219.3 L379.5 220 L379.5 220.7 L379.8 221.4 L379.6 222.1 L380.4 222.8 L381.9 223.5 L383.2 224.3 L383.8 225 L383.1 225.7 L382.8 226.4 L383 227.1 L383 227.8 L382.2 228.5 L381.3 229.2 L381.5 229.9 L383.2 230.6" fill="none" stroke="#2030c8" stroke-width="0.9"/><path d="M374.9 198.6 L376.4 199.3 L376.7 200 L378.2 200.7 L380.2 201.4 L382 202.1 L384.1 202.8 L385.9 203.5 L385.3 204.2 L382.6 204.9 L381.9 205.6 L382.2 206.3 L382.4 207 L382.4 207.7 L384.5 208.4 L386.5 209.1 L385.7 209.9 L383.9 210.6 L383.5 211.3 L383.1 212 L381.6 212.7 L381.9 213.4 L384.6 214.1 L386.3 214.8 L385.8 215.5 L385.6 216.2 L385.5 216.9 L384.2 217.6 L381.8 218.3 L382.3 219 L384.4 219.7 L385.4 220.4 L385.3 221.1 L386.5 221.8 L387.2 222.5 L384.7 223.2 L383.1 223.9 L383.3 224.6 L383.8 225.3 L383.9 226 L385.2 226.7 L387.2 227.4 L387.5 228.1 L385.9 228.8 L384.4 229.5 L384.5 230.2 L383.6 230.9" fill="none" stroke="#e02030" stroke-width="0.9"/><path d="M378.2 142 L377.6 142.4 L377.7 142.9 L378 143.3 L378.2 143.7 L378.3 144.2 L378.3 144.6 L379.3 145.1 L379.9 145.5 L379.4 145.9 L378.1 146.4 L376.3 146.8 L375.5 147.3 L375.6 147.7 L375.9 148.1 L376.2 148.6 L375.9 149 L376 149.4 L376.7 149.9 L378.2 150.3 L379.4 150.8 L379.9 151.2 L379.1 151.6 L377.8 152.1 L376.5 152.5 L376.3 153 L376.5 153.4 L375.7 153.8 L374.9 154.3 L374.1 154.7" fill="none" stroke="#2030c8" stroke-width="1.0"/><path d="M374.1 142.4 L374.1 154.7" fill="none" stroke="#e02030" stroke-width="0.9"/><path d="M373.1 155.9 L384.1 156.9 L373.1 157.9 Z" fill="#777" stroke="#777" stroke-width="0.4"/><path d="M373.1 159.9 L385.1 160.9 L373.1 161.9 Z" fill="#555" stroke="#555" stroke-width="0.4"/><path d="M373.1 163.5 L378.1 164.4 L373.1 165.3 Z" fill="#2a6a2a" stroke="#2a6a2a" stroke-width="0.4"/><path d="M373.1 186.2 L384.1 187.2 L373.1 188.2 Z" fill="#333" stroke="#333" stroke-width="0.4"/><path d="M373.1 189.6 L381.1 190.3 L373.1 191 Z" fill="#777" stroke="#777" stroke-width="0.4"/><path d="M373.1 192.4 L386.1 193.3 L373.1 194.2 Z" fill="#444" stroke="#444" stroke-width="0.4"/><path d="M373.1 197.1 L379.1 197.7 L373.1 198.3 Z" fill="#888" stroke="#888" stroke-width="0.4"/></g><rect x="295" y="141.3" width="75.3" height="89.3" fill="none" stroke="#3a3a3a" stroke-width="1.2"/><rect x="373.1" y="141.3" width="36.7" height="89.3" fill="none" stroke="#3a3a3a" stroke-width="1.2"/><text x="293.2" y="233" font-size="5.3" text-anchor="end" font-weight="normal" fill="#222" font-family="Liberation Sans, sans-serif" >-5</text><text x="293.2" y="224.2" font-size="5.3" text-anchor="end" font-weight="normal" fill="#222" font-family="Liberation Sans, sans-serif" >-4</text><text x="293.2" y="215.4" font-size="5.3" text-anchor="end" font-weight="normal" fill="#222" font-family="Liberation Sans, sans-serif" >-3</text><text x="293.2" y="206.7" font-size="5.3" text-anchor="end" font-weight="normal" fill="#222" font-family="Liberation Sans, sans-serif" >-2</text><text x="293.2" y="197.9" font-size="5.3" text-anchor="end" font-weight="normal" fill="#222" font-family="Liberation Sans, sans-serif" >-1</text><text x="293.2" y="189.1" font-size="5.3" text-anchor="end" font-weight="normal" fill="#222" font-family="Liberation Sans, sans-serif" >0</text><text x="293.2" y="180.3" font-size="5.3" text-anchor="end" font-weight="normal" fill="#222" font-family="Liberation Sans, sans-serif" >1</text><text x="293.2" y="171.5" font-size="5.3" text-anchor="end" font-weight="normal" fill="#222" font-family="Liberation Sans, sans-serif" >2</text><text x="293.2" y="162.8" font-size="5.3" text-anchor="end" font-weight="normal" fill="#222" font-family="Liberation Sans, sans-serif" >3</text><text x="293.2" y="154" font-size="5.3" text-anchor="end" font-weight="normal" fill="#222" font-family="Liberation Sans, sans-serif" >4</text><text x="293.2" y="145.2" font-size="5.3" text-anchor="end" font-weight="normal" fill="#222" font-family="Liberation Sans, sans-serif" >5</text><text transform="translate(282.5 187) rotate(-90)" font-size="7.3" text-anchor="middle" font-style="italic" font-weight="bold" fill="#1a1a1a" font-family="Liberation Sans, sans-serif">E-E<tspan font-size="4.8" dy="1.5">f</tspan><tspan dy="-1.5">(eV)</tspan></text><text x="295" y="237.9" font-size="5.3" text-anchor="middle" font-weight="normal" fill="#111" font-family="Liberation Sans, sans-serif" >G</text><text x="322.4" y="237.9" font-size="5.3" text-anchor="middle" font-weight="normal" fill="#111" font-family="Liberation Sans, sans-serif" >M</text><text x="338.5" y="237.9" font-size="5.3" text-anchor="middle" font-weight="normal" fill="#111" font-family="Liberation Sans, sans-serif" >K</text><text x="370.3" y="237.9" font-size="5.3" text-anchor="middle" font-weight="normal" fill="#111" font-family="Liberation Sans, sans-serif" >G</text><text x="391" y="237.9" font-size="5.1" text-anchor="middle" font-weight="normal" fill="#111" font-family="Liberation Sans, sans-serif" >DOS</text><text x="278.3" y="147" font-size="7.6" text-anchor="start" font-weight="bold" fill="#222" font-family="Liberation Sans, sans-serif" >(G)</text><text x="324.6" y="176.6" font-size="5.4" text-anchor="start" font-weight="normal" fill="#c01830" font-family="Liberation Sans, sans-serif" >E<tspan font-size="3.6" dy="1.5">g</tspan><tspan dy="-1.5">=2.38 eV</tspan></text><rect x="393.9" y="141.9" width="15.3" height="17.1" fill="#fff"/><line x1="394.7" y1="144.3" x2="400.3" y2="144.3" stroke="#aaa" stroke-width="1"/><text x="401.6" y="145.6" font-size="3.5" text-anchor="start" font-weight="normal" fill="#222" font-family="Liberation Sans, sans-serif" >Total</text><line x1="394.7" y1="148.2" x2="400.3" y2="148.2" stroke="#2030c8" stroke-width="1"/><text x="401.6" y="149.5" font-size="3.5" text-anchor="start" font-weight="normal" fill="#222" font-family="Liberation Sans, sans-serif" >B</text><line x1="394.7" y1="152.1" x2="400.3" y2="152.1" stroke="#e02030" stroke-width="1"/><text x="401.6" y="153.4" font-size="3.5" text-anchor="start" font-weight="normal" fill="#222" font-family="Liberation Sans, sans-serif" >N</text><line x1="394.7" y1="156" x2="400.3" y2="156" stroke="#10a030" stroke-width="1"/><text x="401.6" y="157.2" font-size="3.5" text-anchor="start" font-weight="normal" fill="#222" font-family="Liberation Sans, sans-serif" >C</text><rect x="295.4" y="141.4" width="14.4" height="13.7" fill="#fff" stroke="#222" stroke-width="1.0"/><path d="M302.6 145.3 L298.7 152.4 L302.6 150 Z" fill="#c02060"/><path d="M302.6 145.3 L306.5 152.4 L302.6 150 Z" fill="#c05020"/><path d="M298.7 152.4 L306.5 152.4 L302.6 150 Z" fill="#30a060"/><path d="M302.6 145.3 L300.7 148.9 L304.5 148.9 Z" fill="#e01818"/><path d="M298.7 152.4 L300.7 148.9 L302.6 152.4 Z" fill="#2038e0"/><path d="M306.5 152.4 L304.5 148.9 L302.6 152.4 Z" fill="#20b030"/><rect x="298.7" y="152.4" width="7.8" height="1" fill="#fff"/><text x="302.6" y="144.9" font-size="3.4" text-anchor="middle" font-weight="normal" fill="#000" font-family="Liberation Sans, sans-serif" >N</text><rect x="296.1" y="152.5" width="1.5" height="1.5" fill="#fff" stroke="#333" stroke-width="0.3"/><rect x="307.6" y="152.5" width="1.5" height="1.5" fill="#fff" stroke="#333" stroke-width="0.3"/><clipPath id="cbH"><rect x="430.4" y="140" width="75.7" height="89.8"/></clipPath><clipPath id="cdH"><rect x="508.3" y="140" width="37.3" height="89.8"/></clipPath><path d="M430.4 221.3H506.1M508.3 221.3H545.6M430.4 212.6H506.1M508.3 212.6H545.6M430.4 203.8H506.1M508.3 203.8H545.6M430.4 195.1H506.1M508.3 195.1H545.6M430.4 186.3H506.1M508.3 186.3H545.6M430.4 177.6H506.1M508.3 177.6H545.6M430.4 168.8H506.1M508.3 168.8H545.6M430.4 160.1H506.1M508.3 160.1H545.6M430.4 151.3H506.1M508.3 151.3H545.6M430.4 142.6H506.1M508.3 142.6H545.6M458.7 140V229.8M474.4 140V229.8M517 140V229.8M525.7 140V229.8M534.4 140V229.8M543.1 140V229.8" stroke="#c4c4c4" stroke-width="0.6" fill="none"/><g clip-path="url(#cbH)" fill="none"><path d="M430.4 204.9 L432 204.8 L433.5 204.7 L435.1 204.6 L436.7 204.5 L438.3 204.4 L439.8 204.2 L441.4 204.1 L443 203.9 L444.5 203.8 L446.1 203.6 L447.7 203.4 L449.3 203.3 L450.8 203.1 L452.4 203 L454 202.9 L455.6 202.8 L457.1 202.7 L458.7 202.6 L460.3 203.1 L461.8 203.7 L463.4 204.5 L465 205.4 L466.5 206.4 L468.1 207.4 L469.7 208.4 L471.3 209.2 L472.8 209.8 L474.4 210.2 L475.9 210.2 L477.4 210.1 L478.9 210.1 L480.4 210 L481.9 209.9 L483.5 209.8 L485 209.7 L486.5 209.6 L488 209.5 L489.5 209.4 L491 209.3 L492.5 209.2 L494 209 L495.5 208.9 L497 208.8 L498.6 208.7 L500.1 208.7 L501.6 208.6 L503.1 208.5 L504.6 208.5 L506.1 208.4" stroke="#e8102c" stroke-width="0.9" stroke-opacity="0.9"/><path d="M430.4 201.8 L432 202 L433.5 202.2 L435.1 202.5 L436.7 202.8 L438.3 203.1 L439.8 203.5 L441.4 203.9 L443 204.3 L444.5 204.8 L446.1 205.2 L447.7 205.6 L449.3 206 L450.8 206.4 L452.4 206.8 L454 207.1 L455.6 207.4 L457.1 207.6 L458.7 207.8 L460.3 207.8 L461.8 207.9 L463.4 208 L465 208.1 L466.5 208.2 L468.1 208.3 L469.7 208.5 L471.3 208.6 L472.8 208.6 L474.4 208.7 L475.9 208.6 L477.4 208.5 L478.9 208.4 L480.4 208.2 L481.9 208.1 L483.5 207.9 L485 207.7 L486.5 207.6 L488 207.4 L489.5 207.2 L491 207 L492.5 206.8 L494 206.6 L495.5 206.4 L497 206.2 L498.6 206 L500.1 205.9 L501.6 205.7 L503.1 205.6 L504.6 205.5 L506.1 205.4" stroke="#f01830" stroke-width="0.9" stroke-opacity="0.9"/><path d="M430.4 202.4 L432 202.5 L433.5 202.6 L435.1 202.7 L436.7 202.9 L438.3 203.1 L439.8 203.2 L441.4 203.4 L443 203.6 L444.5 203.8 L446.1 204 L447.7 204.2 L449.3 204.4 L450.8 204.6 L452.4 204.7 L454 204.9 L455.6 205 L457.1 205.1 L458.7 205.2 L460.3 205.3 L461.8 205.5 L463.4 205.8 L465 206 L466.5 206.3 L468.1 206.7 L469.7 206.9 L471.3 207.2 L472.8 207.4 L474.4 207.5 L475.9 207.4 L477.4 207.3 L478.9 207.2 L480.4 207 L481.9 206.8 L483.5 206.6 L485 206.4 L486.5 206.2 L488 206 L489.5 205.7 L491 205.5 L492.5 205.3 L494 205 L495.5 204.8 L497 204.6 L498.6 204.4 L500.1 204.2 L501.6 204.1 L503.1 203.9 L504.6 203.8 L506.1 203.7" stroke="#e01838" stroke-width="0.9" stroke-opacity="0.9"/><path d="M430.4 200 L432 200.2 L433.5 200.4 L435.1 200.7 L436.7 201 L438.3 201.3 L439.8 201.7 L441.4 202.1 L443 202.5 L444.5 202.9 L446.1 203.3 L447.7 203.7 L449.3 204.1 L450.8 204.5 L452.4 204.8 L454 205.1 L455.6 205.4 L457.1 205.6 L458.7 205.7 L460.3 205.7 L461.8 205.7 L463.4 205.7 L465 205.6 L466.5 205.6 L468.1 205.6 L469.7 205.6 L471.3 205.5 L472.8 205.5 L474.4 205.5 L475.9 205.5 L477.4 205.5 L478.9 205.5 L480.4 205.6 L481.9 205.6 L483.5 205.6 L485 205.7 L486.5 205.7 L488 205.7 L489.5 205.8 L491 205.8 L492.5 205.8 L494 205.9 L495.5 205.9 L497 205.9 L498.6 206 L500.1 206 L501.6 206 L503.1 206.1 L504.6 206.1 L506.1 206.1" stroke="#f01830" stroke-width="0.9" stroke-opacity="0.9"/><path d="M430.4 216.3 L432 216.4 L433.5 216.6 L435.1 216.8 L436.7 217 L438.3 217.3 L439.8 217.5 L441.4 217.9 L443 218.2 L444.5 218.5 L446.1 218.8 L447.7 219.1 L449.3 219.4 L450.8 219.7 L452.4 220 L454 220.2 L455.6 220.4 L457.1 220.6 L458.7 220.7 L460.3 220 L461.8 219.1 L463.4 217.8 L465 216.4 L466.5 214.9 L468.1 213.4 L469.7 212 L471.3 210.8 L472.8 209.8 L474.4 209.2 L475.9 209.4 L477.4 209.7 L478.9 210 L480.4 210.5 L481.9 210.9 L483.5 211.4 L485 211.9 L486.5 212.5 L488 213.1 L489.5 213.7 L491 214.3 L492.5 214.9 L494 215.5 L495.5 216.1 L497 216.6 L498.6 217.1 L500.1 217.5 L501.6 217.9 L503.1 218.3 L504.6 218.6 L506.1 218.8" stroke="#f01830" stroke-width="0.85" stroke-opacity="0.9"/><path d="M430.4 216.4 L432 216.5 L433.5 216.5 L435.1 216.6 L436.7 216.6 L438.3 216.7 L439.8 216.8 L441.4 216.9 L443 216.9 L444.5 217 L446.1 217.1 L447.7 217.2 L449.3 217.3 L450.8 217.4 L452.4 217.4 L454 217.5 L455.6 217.6 L457.1 217.6 L458.7 217.6 L460.3 217.9 L461.8 218.2 L463.4 218.6 L465 219 L466.5 219.5 L468.1 220 L469.7 220.5 L471.3 220.9 L472.8 221.2 L474.4 221.4 L475.9 221.4 L477.4 221.3 L478.9 221.3 L480.4 221.2 L481.9 221.1 L483.5 221 L485 220.9 L486.5 220.8 L488 220.7 L489.5 220.6 L491 220.4 L492.5 220.3 L494 220.2 L495.5 220.1 L497 220 L498.6 219.9 L500.1 219.8 L501.6 219.7 L503.1 219.7 L504.6 219.6 L506.1 219.6" stroke="#d02058" stroke-width="0.85" stroke-opacity="0.9"/><path d="M430.4 221 L432 221 L433.5 221 L435.1 221 L436.7 220.9 L438.3 220.9 L439.8 220.9 L441.4 220.9 L443 220.9 L444.5 220.9 L446.1 220.9 L447.7 220.8 L449.3 220.8 L450.8 220.8 L452.4 220.8 L454 220.8 L455.6 220.8 L457.1 220.8 L458.7 220.8 L460.3 220 L461.8 218.9 L463.4 217.5 L465 215.9 L466.5 214.2 L468.1 212.6 L469.7 211 L471.3 209.6 L472.8 208.5 L474.4 207.7 L475.9 207.9 L477.4 208.2 L478.9 208.6 L480.4 209 L481.9 209.4 L483.5 209.9 L485 210.4 L486.5 210.9 L488 211.5 L489.5 212 L491 212.6 L492.5 213.2 L494 213.7 L495.5 214.3 L497 214.8 L498.6 215.3 L500.1 215.7 L501.6 216.1 L503.1 216.4 L504.6 216.7 L506.1 216.9" stroke="#e01838" stroke-width="0.85" stroke-opacity="0.9"/><path d="M430.4 215.8 L432 215.9 L433.5 216 L435.1 216.1 L436.7 216.3 L438.3 216.5 L439.8 216.7 L441.4 216.9 L443 217.1 L444.5 217.3 L446.1 217.6 L447.7 217.8 L449.3 218 L450.8 218.2 L452.4 218.4 L454 218.5 L455.6 218.7 L457.1 218.8 L458.7 218.9 L460.3 218.3 L461.8 217.4 L463.4 216.3 L465 215.1 L466.5 213.8 L468.1 212.4 L469.7 211.2 L471.3 210.1 L472.8 209.2 L474.4 208.6 L475.9 208.6 L477.4 208.5 L478.9 208.4 L480.4 208.2 L481.9 208.1 L483.5 207.9 L485 207.7 L486.5 207.5 L488 207.4 L489.5 207.2 L491 207 L492.5 206.8 L494 206.6 L495.5 206.4 L497 206.2 L498.6 206 L500.1 205.9 L501.6 205.8 L503.1 205.6 L504.6 205.5 L506.1 205.5" stroke="#e83060" stroke-width="0.85" stroke-opacity="0.9"/><path d="M430.4 213.1 L432 213 L433.5 212.7 L435.1 212.5 L436.7 212.1 L438.3 211.8 L439.8 211.4 L441.4 210.9 L443 210.5 L444.5 210.1 L446.1 209.6 L447.7 209.2 L449.3 208.7 L450.8 208.3 L452.4 208 L454 207.7 L455.6 207.4 L457.1 207.1 L458.7 207 L460.3 207.3 L461.8 207.9 L463.4 208.6 L465 209.4 L466.5 210.2 L468.1 211 L469.7 211.8 L471.3 212.5 L472.8 213.1 L474.4 213.4 L475.9 213.6 L477.4 213.7 L478.9 213.9 L480.4 214.1 L481.9 214.4 L483.5 214.7 L485 215 L486.5 215.3 L488 215.6 L489.5 215.9 L491 216.3 L492.5 216.6 L494 216.9 L495.5 217.2 L497 217.5 L498.6 217.8 L500.1 218.1 L501.6 218.3 L503.1 218.5 L504.6 218.6 L506.1 218.8" stroke="#d02058" stroke-width="0.85" stroke-opacity="0.9"/><path d="M430.4 205.6 L432 205.8 L433.5 206.2 L435.1 206.6 L436.7 207.1 L438.3 207.6 L439.8 208.2 L441.4 208.8 L443 209.4 L444.5 210.1 L446.1 210.8 L447.7 211.4 L449.3 212 L450.8 212.6 L452.4 213.1 L454 213.6 L455.6 214 L457.1 214.4 L458.7 214.6 L460.3 214.7 L461.8 214.8 L463.4 214.9 L465 215 L466.5 215.1 L468.1 215.3 L469.7 215.4 L471.3 215.5 L472.8 215.6 L474.4 215.6 L475.9 215.6 L477.4 215.5 L478.9 215.5 L480.4 215.4 L481.9 215.3 L483.5 215.3 L485 215.2 L486.5 215.1 L488 215 L489.5 214.9 L491 214.8 L492.5 214.7 L494 214.6 L495.5 214.5 L497 214.4 L498.6 214.3 L500.1 214.2 L501.6 214.2 L503.1 214.1 L504.6 214.1 L506.1 214" stroke="#d81040" stroke-width="0.85" stroke-opacity="0.9"/><path d="M430.4 210.3 L432 210.1 L433.5 209.9 L435.1 209.6 L436.7 209.3 L438.3 208.9 L439.8 208.5 L441.4 208.1 L443 207.7 L444.5 207.2 L446.1 206.8 L447.7 206.4 L449.3 205.9 L450.8 205.5 L452.4 205.2 L454 204.9 L455.6 204.6 L457.1 204.3 L458.7 204.2 L460.3 204.3 L461.8 204.4 L463.4 204.6 L465 204.8 L466.5 205 L468.1 205.2 L469.7 205.5 L471.3 205.6 L472.8 205.8 L474.4 205.9 L475.9 206.1 L477.4 206.4 L478.9 206.7 L480.4 207 L481.9 207.4 L483.5 207.9 L485 208.4 L486.5 208.9 L488 209.4 L489.5 209.9 L491 210.5 L492.5 211 L494 211.5 L495.5 212 L497 212.5 L498.6 213 L500.1 213.4 L501.6 213.7 L503.1 214 L504.6 214.3 L506.1 214.5" stroke="#e8102c" stroke-width="0.85" stroke-opacity="0.9"/><path d="M430.4 207.9 L432 207.8 L433.5 207.8 L435.1 207.7 L436.7 207.6 L438.3 207.4 L439.8 207.3 L441.4 207.1 L443 207 L444.5 206.8 L446.1 206.7 L447.7 206.5 L449.3 206.4 L450.8 206.2 L452.4 206.1 L454 206 L455.6 205.9 L457.1 205.8 L458.7 205.8 L460.3 206.1 L461.8 206.7 L463.4 207.3 L465 208.1 L466.5 208.9 L468.1 209.8 L469.7 210.5 L471.3 211.2 L472.8 211.8 L474.4 212.1 L475.9 212.2 L477.4 212.3 L478.9 212.5 L480.4 212.6 L481.9 212.8 L483.5 213 L485 213.2 L486.5 213.5 L488 213.7 L489.5 213.9 L491 214.2 L492.5 214.4 L494 214.7 L495.5 214.9 L497 215.1 L498.6 215.3 L500.1 215.5 L501.6 215.7 L503.1 215.8 L504.6 215.9 L506.1 216" stroke="#d02058" stroke-width="0.85" stroke-opacity="0.9"/><path d="M430.4 207.9 L432 208.2 L433.5 208.5 L435.1 208.8 L436.7 209.3 L438.3 209.7 L439.8 210.2 L441.4 210.8 L443 211.3 L444.5 211.9 L446.1 212.5 L447.7 213.1 L449.3 213.6 L450.8 214.1 L452.4 214.6 L454 215 L455.6 215.4 L457.1 215.7 L458.7 215.9 L460.3 215.7 L461.8 215.4 L463.4 215.1 L465 214.7 L466.5 214.3 L468.1 213.9 L469.7 213.5 L471.3 213.2 L472.8 212.9 L474.4 212.7 L475.9 212.4 L477.4 212.1 L478.9 211.7 L480.4 211.2 L481.9 210.6 L483.5 210 L485 209.3 L486.5 208.7 L488 207.9 L489.5 207.2 L491 206.5 L492.5 205.7 L494 205 L495.5 204.3 L497 203.7 L498.6 203.1 L500.1 202.5 L501.6 202 L503.1 201.6 L504.6 201.2 L506.1 200.9" stroke="#e8102c" stroke-width="0.85" stroke-opacity="0.9"/><path d="M430.4 210.5 L432 210.5 L433.5 210.5 L435.1 210.5 L436.7 210.5 L438.3 210.6 L439.8 210.6 L441.4 210.6 L443 210.6 L444.5 210.7 L446.1 210.7 L447.7 210.7 L449.3 210.7 L450.8 210.7 L452.4 210.8 L454 210.8 L455.6 210.8 L457.1 210.8 L458.7 210.8 L460.3 210.2 L461.8 209.3 L463.4 208.1 L465 206.8 L466.5 205.5 L468.1 204.1 L469.7 202.8 L471.3 201.6 L472.8 200.7 L474.4 200.1 L475.9 200.3 L477.4 200.5 L478.9 200.7 L480.4 201 L481.9 201.3 L483.5 201.7 L485 202.1 L486.5 202.4 L488 202.9 L489.5 203.3 L491 203.7 L492.5 204.1 L494 204.5 L495.5 204.9 L497 205.3 L498.6 205.6 L500.1 206 L501.6 206.3 L503.1 206.5 L504.6 206.7 L506.1 206.9" stroke="#e02050" stroke-width="0.85" stroke-opacity="0.9"/><path d="M430.4 200.6 L432 200.7 L433.5 200.7 L435.1 200.8 L436.7 200.8 L438.3 200.9 L439.8 200.9 L441.4 201 L443 201.1 L444.5 201.1 L446.1 201.2 L447.7 201.3 L449.3 201.3 L450.8 201.4 L452.4 201.4 L454 201.5 L455.6 201.5 L457.1 201.6 L458.7 201.6 L460.3 201.4 L461.8 201.1 L463.4 200.7 L465 200.3 L466.5 199.9 L468.1 199.4 L469.7 199 L471.3 198.6 L472.8 198.4 L474.4 198.2 L475.9 198.5 L477.4 198.9 L478.9 199.4 L480.4 200 L481.9 200.7 L483.5 201.4 L485 202.2 L486.5 203 L488 203.8 L489.5 204.7 L491 205.6 L492.5 206.4 L494 207.3 L495.5 208.1 L497 208.9 L498.6 209.6 L500.1 210.2 L501.6 210.8 L503.1 211.3 L504.6 211.8 L506.1 212.1" stroke="#f06080" stroke-width="0.85" stroke-opacity="0.9"/><path d="M430.4 202 L432 202.2 L433.5 202.5 L435.1 202.8 L436.7 203.2 L438.3 203.6 L439.8 204.1 L441.4 204.6 L443 205.1 L444.5 205.6 L446.1 206.1 L447.7 206.6 L449.3 207.1 L450.8 207.6 L452.4 208 L454 208.4 L455.6 208.7 L457.1 209 L458.7 209.2 L460.3 208.6 L461.8 207.7 L463.4 206.6 L465 205.3 L466.5 204 L468.1 202.6 L469.7 201.4 L471.3 200.3 L472.8 199.4 L474.4 198.8 L475.9 199.1 L477.4 199.6 L478.9 200.1 L480.4 200.7 L481.9 201.3 L483.5 202 L485 202.8 L486.5 203.6 L488 204.5 L489.5 205.3 L491 206.2 L492.5 207.1 L494 207.9 L495.5 208.7 L497 209.5 L498.6 210.2 L500.1 210.9 L501.6 211.5 L503.1 212 L504.6 212.4 L506.1 212.7" stroke="#f01830" stroke-width="0.85" stroke-opacity="0.9"/><path d="M430.4 226.3 L432 226.3 L433.5 226.3 L435.1 226.4 L436.7 226.4 L438.3 226.4 L439.8 226.4 L441.4 226.4 L443 226.5 L444.5 226.5 L446.1 226.5 L447.7 226.5 L449.3 226.5 L450.8 226.6 L452.4 226.6 L454 226.6 L455.6 226.6 L457.1 226.6 L458.7 226.6 L460.3 226.4 L461.8 226 L463.4 225.5 L465 224.9 L466.5 224.4 L468.1 223.8 L469.7 223.2 L471.3 222.7 L472.8 222.4 L474.4 222.1 L475.9 222 L477.4 222 L478.9 221.9 L480.4 221.8 L481.9 221.7 L483.5 221.5 L485 221.4 L486.5 221.3 L488 221.1 L489.5 221 L491 220.8 L492.5 220.7 L494 220.5 L495.5 220.4 L497 220.2 L498.6 220.1 L500.1 220 L501.6 219.9 L503.1 219.8 L504.6 219.7 L506.1 219.7" stroke="#d01850" stroke-width="0.85" stroke-opacity="0.9"/><path d="M430.4 223.9 L432 224 L433.5 224.1 L435.1 224.2 L436.7 224.3 L438.3 224.4 L439.8 224.6 L441.4 224.7 L443 224.9 L444.5 225 L446.1 225.2 L447.7 225.3 L449.3 225.5 L450.8 225.6 L452.4 225.7 L454 225.9 L455.6 226 L457.1 226 L458.7 226.1 L460.3 226.3 L461.8 226.6 L463.4 227.1 L465 227.5 L466.5 228 L468.1 228.5 L469.7 229 L471.3 229.4 L472.8 229.7 L474.4 230 L475.9 229.7 L477.4 229.5 L478.9 229.1 L480.4 228.7 L481.9 228.3 L483.5 227.8 L485 227.3 L486.5 226.8 L488 226.2 L489.5 225.6 L491 225.1 L492.5 224.5 L494 223.9 L495.5 223.4 L497 222.9 L498.6 222.4 L500.1 222 L501.6 221.6 L503.1 221.2 L504.6 221 L506.1 220.7" stroke="#e04070" stroke-width="0.85" stroke-opacity="0.9"/><path d="M430.4 225.3 L432 225.1 L433.5 224.8 L435.1 224.5 L436.7 224.2 L438.3 223.8 L439.8 223.4 L441.4 223 L443 222.5 L444.5 222.1 L446.1 221.6 L447.7 221.1 L449.3 220.7 L450.8 220.3 L452.4 219.9 L454 219.6 L455.6 219.3 L457.1 219 L458.7 218.9 L460.3 219.3 L461.8 220 L463.4 220.9 L465 221.9 L466.5 223 L468.1 224.1 L469.7 225.1 L471.3 226 L472.8 226.7 L474.4 227.2 L475.9 227 L477.4 226.7 L478.9 226.4 L480.4 226.1 L481.9 225.7 L483.5 225.3 L485 224.8 L486.5 224.3 L488 223.8 L489.5 223.3 L491 222.8 L492.5 222.2 L494 221.7 L495.5 221.2 L497 220.8 L498.6 220.3 L500.1 220 L501.6 219.6 L503.1 219.3 L504.6 219 L506.1 218.8" stroke="#c01050" stroke-width="0.85" stroke-opacity="0.9"/><path d="M430.4 226.1 L432 226 L433.5 225.9 L435.1 225.8 L436.7 225.7 L438.3 225.6 L439.8 225.4 L441.4 225.3 L443 225.1 L444.5 224.9 L446.1 224.8 L447.7 224.6 L449.3 224.5 L450.8 224.3 L452.4 224.2 L454 224.1 L455.6 224 L457.1 223.9 L458.7 223.8 L460.3 224 L461.8 224.3 L463.4 224.6 L465 224.9 L466.5 225.3 L468.1 225.7 L469.7 226.1 L471.3 226.4 L472.8 226.7 L474.4 226.9 L475.9 226.8 L477.4 226.7 L478.9 226.5 L480.4 226.4 L481.9 226.2 L483.5 226.1 L485 225.9 L486.5 225.7 L488 225.5 L489.5 225.2 L491 225 L492.5 224.8 L494 224.6 L495.5 224.4 L497 224.2 L498.6 224 L500.1 223.9 L501.6 223.7 L503.1 223.6 L504.6 223.5 L506.1 223.4" stroke="#e83060" stroke-width="0.85" stroke-opacity="0.9"/><path d="M430.4 228 L432 227.8 L433.5 227.5 L435.1 227.1 L436.7 226.7 L438.3 226.3 L439.8 225.8 L441.4 225.2 L443 224.7 L444.5 224.1 L446.1 223.6 L447.7 223 L449.3 222.5 L450.8 222 L452.4 221.5 L454 221.1 L455.6 220.8 L457.1 220.5 L458.7 220.2 L460.3 220.3 L461.8 220.5 L463.4 220.6 L465 220.8 L466.5 221 L468.1 221.2 L469.7 221.4 L471.3 221.6 L472.8 221.7 L474.4 221.8 L475.9 221.8 L477.4 221.9 L478.9 221.9 L480.4 222 L481.9 222 L483.5 222.1 L485 222.2 L486.5 222.2 L488 222.3 L489.5 222.4 L491 222.5 L492.5 222.6 L494 222.6 L495.5 222.7 L497 222.8 L498.6 222.9 L500.1 222.9 L501.6 223 L503.1 223 L504.6 223.1 L506.1 223.1" stroke="#c01050" stroke-width="0.85" stroke-opacity="0.9"/><path d="M430.4 214.7 L432 215.1 L433.5 215.5 L435.1 216 L436.7 216.6 L438.3 217.3 L439.8 218.1 L441.4 218.9 L443 219.7 L444.5 220.6 L446.1 221.4 L447.7 222.2 L449.3 223 L450.8 223.8 L452.4 224.5 L454 225.1 L455.6 225.6 L457.1 226 L458.7 226.4 L460.3 226.2 L461.8 226 L463.4 225.8 L465 225.5 L466.5 225.2 L468.1 224.9 L469.7 224.6 L471.3 224.3 L472.8 224.1 L474.4 224 L475.9 224 L477.4 224.1 L478.9 224.1 L480.4 224.2 L481.9 224.3 L483.5 224.4 L485 224.5 L486.5 224.6 L488 224.7 L489.5 224.8 L491 224.9 L492.5 225 L494 225.1 L495.5 225.2 L497 225.3 L498.6 225.4 L500.1 225.4 L501.6 225.5 L503.1 225.6 L504.6 225.6 L506.1 225.7" stroke="#e04070" stroke-width="0.85" stroke-opacity="0.9"/><path d="M430.4 210.9 L432 211.1 L433.5 211.5 L435.1 211.9 L436.7 212.3 L438.3 212.8 L439.8 213.4 L441.4 214 L443 214.6 L444.5 215.3 L446.1 215.9 L447.7 216.5 L449.3 217.1 L450.8 217.7 L452.4 218.2 L454 218.7 L455.6 219.1 L457.1 219.4 L458.7 219.7 L460.3 219.2 L461.8 218.5 L463.4 217.6 L465 216.6 L466.5 215.5 L468.1 214.4 L469.7 213.4 L471.3 212.5 L472.8 211.8 L474.4 211.3 L475.9 211.6 L477.4 211.9 L478.9 212.3 L480.4 212.8 L481.9 213.4 L483.5 214 L485 214.6 L486.5 215.3 L488 216 L489.5 216.8 L491 217.5 L492.5 218.2 L494 218.9 L495.5 219.6 L497 220.3 L498.6 220.9 L500.1 221.4 L501.6 221.9 L503.1 222.3 L504.6 222.7 L506.1 223" stroke="#c81858" stroke-width="0.85" stroke-opacity="0.9"/><path d="M430.4 210.8 L432 210.8 L433.5 210.8 L435.1 210.9 L436.7 210.9 L438.3 211 L439.8 211.1 L441.4 211.2 L443 211.3 L444.5 211.3 L446.1 211.4 L447.7 211.5 L449.3 211.6 L450.8 211.7 L452.4 211.7 L454 211.8 L455.6 211.9 L457.1 211.9 L458.7 211.9 L460.3 212.6 L461.8 213.6 L463.4 214.8 L465 216.3 L466.5 217.8 L468.1 219.3 L469.7 220.7 L471.3 222 L472.8 222.9 L474.4 223.6 L475.9 223.5 L477.4 223.4 L478.9 223.2 L480.4 223 L481.9 222.7 L483.5 222.5 L485 222.2 L486.5 221.9 L488 221.6 L489.5 221.3 L491 221 L492.5 220.6 L494 220.3 L495.5 220 L497 219.8 L498.6 219.5 L500.1 219.3 L501.6 219 L503.1 218.9 L504.6 218.7 L506.1 218.6" stroke="#d01850" stroke-width="0.85" stroke-opacity="0.9"/><path d="M430.4 211.4 L432 211.5 L433.5 211.6 L435.1 211.8 L436.7 212 L438.3 212.2 L439.8 212.5 L441.4 212.8 L443 213.1 L444.5 213.3 L446.1 213.6 L447.7 213.9 L449.3 214.2 L450.8 214.5 L452.4 214.7 L454 214.9 L455.6 215.1 L457.1 215.2 L458.7 215.3 L460.3 215.8 L461.8 216.5 L463.4 217.4 L465 218.3 L466.5 219.4 L468.1 220.4 L469.7 221.4 L471.3 222.3 L472.8 223 L474.4 223.4 L475.9 223.2 L477.4 222.8 L478.9 222.4 L480.4 221.9 L481.9 221.4 L483.5 220.8 L485 220.2 L486.5 219.5 L488 218.8 L489.5 218.1 L491 217.4 L492.5 216.7 L494 216 L495.5 215.4 L497 214.7 L498.6 214.2 L500.1 213.6 L501.6 213.1 L503.1 212.7 L504.6 212.4 L506.1 212.1" stroke="#c81858" stroke-width="0.85" stroke-opacity="0.9"/><path d="M430.4 221.7 L432 221.4 L433.5 221.1 L435.1 220.7 L436.7 220.2 L438.3 219.7 L439.8 219.1 L441.4 218.5 L443 217.9 L444.5 217.3 L446.1 216.6 L447.7 216 L449.3 215.4 L450.8 214.8 L452.4 214.3 L454 213.8 L455.6 213.4 L457.1 213.1 L458.7 212.8 L460.3 213.1 L461.8 213.5 L463.4 213.9 L465 214.4 L466.5 215 L468.1 215.5 L469.7 216.1 L471.3 216.5 L472.8 216.9 L474.4 217.1 L475.9 217.1 L477.4 217 L478.9 217 L480.4 216.9 L481.9 216.9 L483.5 216.8 L485 216.7 L486.5 216.6 L488 216.5 L489.5 216.4 L491 216.3 L492.5 216.2 L494 216.2 L495.5 216.1 L497 216 L498.6 215.9 L500.1 215.8 L501.6 215.8 L503.1 215.7 L504.6 215.7 L506.1 215.6" stroke="#c81858" stroke-width="0.85" stroke-opacity="0.9"/><path d="M430.4 213 L432 213.2 L433.5 213.5 L435.1 213.8 L436.7 214.2 L438.3 214.6 L439.8 215.1 L441.4 215.6 L443 216.1 L444.5 216.6 L446.1 217.1 L447.7 217.6 L449.3 218.1 L450.8 218.6 L452.4 219 L454 219.4 L455.6 219.7 L457.1 219.9 L458.7 220.2 L460.3 219.5 L461.8 218.5 L463.4 217.3 L465 215.9 L466.5 214.5 L468.1 213 L469.7 211.6 L471.3 210.4 L472.8 209.4 L474.4 208.8 L475.9 208.8 L477.4 208.9 L478.9 209 L480.4 209.1 L481.9 209.2 L483.5 209.3 L485 209.4 L486.5 209.6 L488 209.7 L489.5 209.9 L491 210 L492.5 210.1 L494 210.3 L495.5 210.4 L497 210.5 L498.6 210.7 L500.1 210.8 L501.6 210.9 L503.1 211 L504.6 211 L506.1 211.1" stroke="#e02060" stroke-width="0.85" stroke-opacity="0.9"/><path d="M430.4 213.6 L432 213.5 L433.5 213.3 L435.1 213 L436.7 212.7 L438.3 212.3 L439.8 212 L441.4 211.6 L443 211.2 L444.5 210.7 L446.1 210.3 L447.7 209.9 L449.3 209.5 L450.8 209.1 L452.4 208.8 L454 208.5 L455.6 208.2 L457.1 208 L458.7 207.8 L460.3 208.1 L461.8 208.6 L463.4 209.1 L465 209.8 L466.5 210.5 L468.1 211.1 L469.7 211.8 L471.3 212.3 L472.8 212.8 L474.4 213.1 L475.9 213.2 L477.4 213.2 L478.9 213.3 L480.4 213.4 L481.9 213.5 L483.5 213.6 L485 213.7 L486.5 213.8 L488 213.9 L489.5 214 L491 214.2 L492.5 214.3 L494 214.4 L495.5 214.5 L497 214.6 L498.6 214.7 L500.1 214.8 L501.6 214.9 L503.1 215 L504.6 215 L506.1 215.1" stroke="#c01050" stroke-width="0.85" stroke-opacity="0.9"/><path d="M430.4 233.7 L432 233.9 L433.5 234.1 L435.1 234.4 L436.7 234.8 L438.3 235.2 L439.8 235.6 L441.4 236.1 L443 236.6 L444.5 237.1 L446.1 237.5 L447.7 238 L449.3 238.5 L450.8 238.9 L452.4 239.3 L454 239.7 L455.6 240 L457.1 240.2 L458.7 240.4 L460.3 239.9 L461.8 239.2 L463.4 238.4 L465 237.4 L466.5 236.3 L468.1 235.2 L469.7 234.2 L471.3 233.3 L472.8 232.6 L474.4 232.1 L475.9 232.2 L477.4 232.2 L478.9 232.3 L480.4 232.4 L481.9 232.6 L483.5 232.7 L485 232.8 L486.5 233 L488 233.1 L489.5 233.3 L491 233.4 L492.5 233.6 L494 233.8 L495.5 233.9 L497 234 L498.6 234.2 L500.1 234.3 L501.6 234.4 L503.1 234.5 L504.6 234.6 L506.1 234.6" stroke="#e04070" stroke-width="0.85" stroke-opacity="0.9"/><path d="M430.4 239.7 L432 239.6 L433.5 239.4 L435.1 239.3 L436.7 239.1 L438.3 238.8 L439.8 238.6 L441.4 238.3 L443 238.1 L444.5 237.8 L446.1 237.5 L447.7 237.2 L449.3 237 L450.8 236.7 L452.4 236.5 L454 236.3 L455.6 236.1 L457.1 236 L458.7 235.9 L460.3 235.7 L461.8 235.5 L463.4 235.2 L465 234.8 L466.5 234.4 L468.1 234 L469.7 233.7 L471.3 233.3 L472.8 233.1 L474.4 232.9 L475.9 233 L477.4 233.1 L478.9 233.2 L480.4 233.3 L481.9 233.4 L483.5 233.6 L485 233.8 L486.5 233.9 L488 234.1 L489.5 234.3 L491 234.5 L492.5 234.7 L494 234.8 L495.5 235 L497 235.2 L498.6 235.3 L500.1 235.5 L501.6 235.6 L503.1 235.7 L504.6 235.8 L506.1 235.8" stroke="#e02060" stroke-width="0.85" stroke-opacity="0.9"/><path d="M430.4 234.5 L432 234.3 L433.5 234.1 L435.1 233.8 L436.7 233.5 L438.3 233.1 L439.8 232.8 L441.4 232.4 L443 231.9 L444.5 231.5 L446.1 231.1 L447.7 230.6 L449.3 230.2 L450.8 229.9 L452.4 229.5 L454 229.2 L455.6 228.9 L457.1 228.7 L458.7 228.5 L460.3 228.3 L461.8 228 L463.4 227.7 L465 227.2 L466.5 226.8 L468.1 226.3 L469.7 225.9 L471.3 225.5 L472.8 225.2 L474.4 225 L475.9 225.2 L477.4 225.4 L478.9 225.7 L480.4 226.1 L481.9 226.5 L483.5 226.9 L485 227.4 L486.5 227.8 L488 228.3 L489.5 228.8 L491 229.4 L492.5 229.9 L494 230.4 L495.5 230.9 L497 231.3 L498.6 231.7 L500.1 232.1 L501.6 232.5 L503.1 232.8 L504.6 233 L506.1 233.2" stroke="#a81050" stroke-width="0.85" stroke-opacity="0.9"/><path d="M430.4 227.1 L432 227.1 L433.5 227 L435.1 226.9 L436.7 226.8 L438.3 226.7 L439.8 226.6 L441.4 226.4 L443 226.3 L444.5 226.1 L446.1 226 L447.7 225.8 L449.3 225.7 L450.8 225.6 L452.4 225.5 L454 225.3 L455.6 225.3 L457.1 225.2 L458.7 225.1 L460.3 225.8 L461.8 226.7 L463.4 227.9 L465 229.2 L466.5 230.6 L468.1 232.1 L469.7 233.4 L471.3 234.6 L472.8 235.5 L474.4 236.1 L475.9 236.1 L477.4 236.1 L478.9 236 L480.4 236 L481.9 235.9 L483.5 235.9 L485 235.8 L486.5 235.8 L488 235.7 L489.5 235.6 L491 235.6 L492.5 235.5 L494 235.4 L495.5 235.4 L497 235.3 L498.6 235.3 L500.1 235.2 L501.6 235.2 L503.1 235.1 L504.6 235.1 L506.1 235.1" stroke="#b81058" stroke-width="0.85" stroke-opacity="0.9"/><path d="M430.4 234.9 L432 234.9 L433.5 234.9 L435.1 235 L436.7 235 L438.3 235 L439.8 235 L441.4 235.1 L443 235.1 L444.5 235.1 L446.1 235.1 L447.7 235.2 L449.3 235.2 L450.8 235.2 L452.4 235.2 L454 235.3 L455.6 235.3 L457.1 235.3 L458.7 235.3 L460.3 235.3 L461.8 235.3 L463.4 235.3 L465 235.4 L466.5 235.4 L468.1 235.4 L469.7 235.4 L471.3 235.4 L472.8 235.4 L474.4 235.5 L475.9 235.4 L477.4 235.3 L478.9 235.3 L480.4 235.2 L481.9 235.1 L483.5 235 L485 234.9 L486.5 234.7 L488 234.6 L489.5 234.5 L491 234.4 L492.5 234.2 L494 234.1 L495.5 234 L497 233.9 L498.6 233.8 L500.1 233.7 L501.6 233.6 L503.1 233.5 L504.6 233.4 L506.1 233.4" stroke="#e02060" stroke-width="0.85" stroke-opacity="0.9"/><path d="M430.4 224.5 L432 224.5 L433.5 224.6 L435.1 224.7 L436.7 224.8 L438.3 225 L439.8 225.1 L441.4 225.3 L443 225.4 L444.5 225.6 L446.1 225.7 L447.7 225.9 L449.3 226.1 L450.8 226.2 L452.4 226.3 L454 226.4 L455.6 226.5 L457.1 226.6 L458.7 226.7 L460.3 227.1 L461.8 227.6 L463.4 228.3 L465 229.1 L466.5 229.9 L468.1 230.8 L469.7 231.5 L471.3 232.2 L472.8 232.8 L474.4 233.1 L475.9 233 L477.4 232.7 L478.9 232.4 L480.4 232.1 L481.9 231.7 L483.5 231.3 L485 230.9 L486.5 230.4 L488 230 L489.5 229.5 L491 229 L492.5 228.5 L494 228 L495.5 227.6 L497 227.2 L498.6 226.8 L500.1 226.4 L501.6 226.1 L503.1 225.8 L504.6 225.5 L506.1 225.4" stroke="#c01050" stroke-width="0.85" stroke-opacity="0.9"/><path d="M430.4 235.4 L432 235.2 L433.5 235 L435.1 234.7 L436.7 234.4 L438.3 234.1 L439.8 233.7 L441.4 233.3 L443 232.9 L444.5 232.5 L446.1 232.1 L447.7 231.7 L449.3 231.3 L450.8 230.9 L452.4 230.5 L454 230.2 L455.6 230 L457.1 229.8 L458.7 229.6 L460.3 229.5 L461.8 229.5 L463.4 229.4 L465 229.3 L466.5 229.2 L468.1 229.1 L469.7 228.9 L471.3 228.9 L472.8 228.8 L474.4 228.7 L475.9 228.6 L477.4 228.4 L478.9 228.1 L480.4 227.8 L481.9 227.5 L483.5 227.2 L485 226.8 L486.5 226.4 L488 226 L489.5 225.6 L491 225.2 L492.5 224.8 L494 224.4 L495.5 224 L497 223.6 L498.6 223.3 L500.1 223 L501.6 222.7 L503.1 222.5 L504.6 222.3 L506.1 222.1" stroke="#c81858" stroke-width="0.85" stroke-opacity="0.9"/><path d="M430.4 227 L432 226.9 L433.5 226.8 L435.1 226.6 L436.7 226.5 L438.3 226.3 L439.8 226.1 L441.4 225.8 L443 225.6 L444.5 225.4 L446.1 225.1 L447.7 224.9 L449.3 224.7 L450.8 224.5 L452.4 224.3 L454 224.1 L455.6 224 L457.1 223.8 L458.7 223.7 L460.3 224 L461.8 224.3 L463.4 224.8 L465 225.3 L466.5 225.8 L468.1 226.4 L469.7 226.9 L471.3 227.3 L472.8 227.6 L474.4 227.9 L475.9 228 L477.4 228.1 L478.9 228.2 L480.4 228.4 L481.9 228.5 L483.5 228.7 L485 228.9 L486.5 229.1 L488 229.3 L489.5 229.5 L491 229.7 L492.5 230 L494 230.2 L495.5 230.4 L497 230.6 L498.6 230.7 L500.1 230.9 L501.6 231.1 L503.1 231.2 L504.6 231.3 L506.1 231.4" stroke="#a81050" stroke-width="0.85" stroke-opacity="0.9"/><path d="M430.4 232.6 L432 232.3 L433.5 231.9 L435.1 231.4 L436.7 230.8 L438.3 230.1 L439.8 229.4 L441.4 228.6 L443 227.8 L444.5 226.9 L446.1 226.1 L447.7 225.3 L449.3 224.5 L450.8 223.8 L452.4 223.1 L454 222.5 L455.6 222 L457.1 221.6 L458.7 221.2 L460.3 221.2 L461.8 221 L463.4 220.9 L465 220.7 L466.5 220.5 L468.1 220.3 L469.7 220.2 L471.3 220 L472.8 219.9 L474.4 219.8 L475.9 220.1 L477.4 220.5 L478.9 221 L480.4 221.5 L481.9 222.1 L483.5 222.7 L485 223.5 L486.5 224.2 L488 225 L489.5 225.8 L491 226.5 L492.5 227.3 L494 228.1 L495.5 228.8 L497 229.6 L498.6 230.2 L500.1 230.8 L501.6 231.3 L503.1 231.8 L504.6 232.2 L506.1 232.5" stroke="#c81858" stroke-width="0.85" stroke-opacity="0.9"/><path d="M430.4 229.7 L432 229.6 L433.5 229.5 L435.1 229.4 L436.7 229.3 L438.3 229.2 L439.8 229.1 L441.4 228.9 L443 228.8 L444.5 228.6 L446.1 228.4 L447.7 228.3 L449.3 228.1 L450.8 228 L452.4 227.9 L454 227.7 L455.6 227.7 L457.1 227.6 L458.7 227.5 L460.3 227 L461.8 226.3 L463.4 225.4 L465 224.4 L466.5 223.3 L468.1 222.3 L469.7 221.2 L471.3 220.4 L472.8 219.7 L474.4 219.2 L475.9 219.2 L477.4 219.2 L478.9 219.1 L480.4 219.1 L481.9 219.1 L483.5 219.1 L485 219.1 L486.5 219 L488 219 L489.5 219 L491 219 L492.5 219 L494 218.9 L495.5 218.9 L497 218.9 L498.6 218.9 L500.1 218.9 L501.6 218.8 L503.1 218.8 L504.6 218.8 L506.1 218.8" stroke="#c81858" stroke-width="0.85" stroke-opacity="0.9"/><path d="M430.4 229.6 L432 229.5 L433.5 229.5 L435.1 229.5 L436.7 229.4 L438.3 229.4 L439.8 229.3 L441.4 229.3 L443 229.2 L444.5 229.1 L446.1 229.1 L447.7 229 L449.3 228.9 L450.8 228.9 L452.4 228.8 L454 228.8 L455.6 228.7 L457.1 228.7 L458.7 228.7 L460.3 228.5 L461.8 228.3 L463.4 228 L465 227.6 L466.5 227.2 L468.1 226.8 L469.7 226.5 L471.3 226.2 L472.8 225.9 L474.4 225.8 L475.9 225.6 L477.4 225.4 L478.9 225.2 L480.4 224.9 L481.9 224.6 L483.5 224.3 L485 223.9 L486.5 223.5 L488 223.2 L489.5 222.8 L491 222.3 L492.5 221.9 L494 221.6 L495.5 221.2 L497 220.8 L498.6 220.5 L500.1 220.2 L501.6 219.9 L503.1 219.7 L504.6 219.5 L506.1 219.3" stroke="#e04070" stroke-width="0.85" stroke-opacity="0.9"/><path d="M430.4 223.8 L432 223.9 L433.5 224.1 L435.1 224.4 L436.7 224.7 L438.3 225 L439.8 225.4 L441.4 225.8 L443 226.2 L444.5 226.6 L446.1 227 L447.7 227.4 L449.3 227.8 L450.8 228.1 L452.4 228.5 L454 228.8 L455.6 229 L457.1 229.2 L458.7 229.4 L460.3 228.9 L461.8 228.3 L463.4 227.4 L465 226.5 L466.5 225.5 L468.1 224.4 L469.7 223.5 L471.3 222.7 L472.8 222 L474.4 221.5 L475.9 221.6 L477.4 221.6 L478.9 221.7 L480.4 221.8 L481.9 221.8 L483.5 221.9 L485 222 L486.5 222.1 L488 222.2 L489.5 222.3 L491 222.4 L492.5 222.5 L494 222.6 L495.5 222.7 L497 222.8 L498.6 222.9 L500.1 223 L501.6 223 L503.1 223.1 L504.6 223.1 L506.1 223.2" stroke="#e02060" stroke-width="0.85" stroke-opacity="0.9"/><path d="M430.4 219.1 L432 219.3 L433.5 219.6 L435.1 219.9 L436.7 220.3 L438.3 220.8 L439.8 221.2 L441.4 221.7 L443 222.3 L444.5 222.8 L446.1 223.4 L447.7 223.9 L449.3 224.4 L450.8 224.9 L452.4 225.3 L454 225.7 L455.6 226 L457.1 226.3 L458.7 226.5 L460.3 226.1 L461.8 225.6 L463.4 224.9 L465 224.1 L466.5 223.2 L468.1 222.4 L469.7 221.6 L471.3 220.9 L472.8 220.3 L474.4 219.9 L475.9 220 L477.4 220.1 L478.9 220.2 L480.4 220.4 L481.9 220.5 L483.5 220.7 L485 220.9 L486.5 221.1 L488 221.3 L489.5 221.5 L491 221.7 L492.5 221.9 L494 222.1 L495.5 222.3 L497 222.5 L498.6 222.7 L500.1 222.8 L501.6 223 L503.1 223.1 L504.6 223.2 L506.1 223.3" stroke="#d01850" stroke-width="0.85" stroke-opacity="0.9"/><path d="M430.4 149.1 L432 149.1 L433.5 149.1 L435.1 149 L436.7 149 L438.3 148.9 L439.8 148.8 L441.4 148.8 L443 148.7 L444.5 148.6 L446.1 148.6 L447.7 148.5 L449.3 148.4 L450.8 148.3 L452.4 148.3 L454 148.2 L455.6 148.2 L457.1 148.2 L458.7 148.1 L460.3 148.1 L461.8 148 L463.4 147.9 L465 147.9 L466.5 147.8 L468.1 147.7 L469.7 147.6 L471.3 147.5 L472.8 147.5 L474.4 147.4 L475.9 147.5 L477.4 147.5 L478.9 147.6 L480.4 147.7 L481.9 147.8 L483.5 147.9 L485 148 L486.5 148.1 L488 148.2 L489.5 148.4 L491 148.5 L492.5 148.6 L494 148.7 L495.5 148.8 L497 149 L498.6 149.1 L500.1 149.2 L501.6 149.2 L503.1 149.3 L504.6 149.4 L506.1 149.4" stroke="#e02030" stroke-width="0.9" stroke-opacity="0.9"/><path d="M430.4 151.9 L432 152 L433.5 152 L435.1 152 L436.7 152 L438.3 152 L439.8 152.1 L441.4 152.1 L443 152.1 L444.5 152.1 L446.1 152.2 L447.7 152.2 L449.3 152.2 L450.8 152.2 L452.4 152.3 L454 152.3 L455.6 152.3 L457.1 152.3 L458.7 152.3 L460.3 152.1 L461.8 151.8 L463.4 151.3 L465 150.8 L466.5 150.3 L468.1 149.8 L469.7 149.3 L471.3 148.9 L472.8 148.6 L474.4 148.4 L475.9 148.4 L477.4 148.4 L478.9 148.5 L480.4 148.6 L481.9 148.6 L483.5 148.7 L485 148.8 L486.5 148.9 L488 149 L489.5 149.1 L491 149.2 L492.5 149.3 L494 149.4 L495.5 149.5 L497 149.6 L498.6 149.7 L500.1 149.7 L501.6 149.8 L503.1 149.9 L504.6 149.9 L506.1 149.9" stroke="#e02030" stroke-width="0.9" stroke-opacity="0.9"/><path d="M430.4 150.9 L432 150.8 L433.5 150.8 L435.1 150.8 L436.7 150.8 L438.3 150.7 L439.8 150.7 L441.4 150.6 L443 150.6 L444.5 150.6 L446.1 150.5 L447.7 150.5 L449.3 150.4 L450.8 150.4 L452.4 150.4 L454 150.3 L455.6 150.3 L457.1 150.3 L458.7 150.3 L460.3 150.1 L461.8 150 L463.4 149.8 L465 149.5 L466.5 149.3 L468.1 149 L469.7 148.8 L471.3 148.6 L472.8 148.4 L474.4 148.3 L475.9 148.4 L477.4 148.4 L478.9 148.5 L480.4 148.6 L481.9 148.7 L483.5 148.8 L485 148.9 L486.5 149.1 L488 149.2 L489.5 149.3 L491 149.5 L492.5 149.6 L494 149.7 L495.5 149.9 L497 150 L498.6 150.1 L500.1 150.2 L501.6 150.3 L503.1 150.4 L504.6 150.5 L506.1 150.5" stroke="#2030c8" stroke-width="0.9" stroke-opacity="0.9"/><path d="M430.4 146.2 L432 146.2 L433.5 146.2 L435.1 146.2 L436.7 146.2 L438.3 146.1 L439.8 146.1 L441.4 146.1 L443 146.1 L444.5 146.1 L446.1 146 L447.7 146 L449.3 146 L450.8 146 L452.4 146 L454 145.9 L455.6 145.9 L457.1 145.9 L458.7 145.9 L460.3 146.1 L461.8 146.3 L463.4 146.6 L465 146.9 L466.5 147.2 L468.1 147.6 L469.7 147.9 L471.3 148.2 L472.8 148.4 L474.4 148.5 L475.9 148.5 L477.4 148.6 L478.9 148.6 L480.4 148.6 L481.9 148.6 L483.5 148.6 L485 148.6 L486.5 148.7 L488 148.7 L489.5 148.7 L491 148.7 L492.5 148.7 L494 148.8 L495.5 148.8 L497 148.8 L498.6 148.8 L500.1 148.8 L501.6 148.9 L503.1 148.9 L504.6 148.9 L506.1 148.9" stroke="#3040d8" stroke-width="0.9" stroke-opacity="0.9"/><path d="M430.4 150.4 L432 150.3 L433.5 150.3 L435.1 150.2 L436.7 150.1 L438.3 150.1 L439.8 150 L441.4 149.9 L443 149.8 L444.5 149.7 L446.1 149.6 L447.7 149.5 L449.3 149.4 L450.8 149.3 L452.4 149.2 L454 149.2 L455.6 149.1 L457.1 149 L458.7 149 L460.3 149 L461.8 148.9 L463.4 148.8 L465 148.7 L466.5 148.6 L468.1 148.5 L469.7 148.4 L471.3 148.3 L472.8 148.3 L474.4 148.2 L475.9 148.2 L477.4 148.1 L478.9 148.1 L480.4 148 L481.9 147.9 L483.5 147.9 L485 147.8 L486.5 147.7 L488 147.6 L489.5 147.5 L491 147.4 L492.5 147.3 L494 147.1 L495.5 147.1 L497 147 L498.6 146.9 L500.1 146.8 L501.6 146.7 L503.1 146.7 L504.6 146.6 L506.1 146.6" stroke="#7030b0" stroke-width="0.9" stroke-opacity="0.9"/><path d="M430.4 146.1 L432 146 L433.5 145.9 L435.1 145.8 L436.7 145.6 L438.3 145.5 L439.8 145.3 L441.4 145.1 L443 144.8 L444.5 144.6 L446.1 144.4 L447.7 144.2 L449.3 144 L450.8 143.8 L452.4 143.6 L454 143.4 L455.6 143.3 L457.1 143.2 L458.7 143.1 L460.3 143.3 L461.8 143.7 L463.4 144.1 L465 144.6 L466.5 145.2 L468.1 145.7 L469.7 146.2 L471.3 146.7 L472.8 147 L474.4 147.3 L475.9 147.2 L477.4 147.1 L478.9 147 L480.4 146.9 L481.9 146.8 L483.5 146.7 L485 146.5 L486.5 146.4 L488 146.2 L489.5 146.1 L491 145.9 L492.5 145.8 L494 145.6 L495.5 145.5 L497 145.3 L498.6 145.2 L500.1 145.1 L501.6 145 L503.1 144.9 L504.6 144.8 L506.1 144.8" stroke="#e02030" stroke-width="0.9" stroke-opacity="0.9"/><path d="M430.4 147.9 L432 147.9 L433.5 147.9 L435.1 147.9 L436.7 147.9 L438.3 147.9 L439.8 147.9 L441.4 147.9 L443 147.9 L444.5 147.9 L446.1 147.9 L447.7 147.9 L449.3 147.9 L450.8 147.9 L452.4 147.9 L454 147.9 L455.6 147.9 L457.1 147.9 L458.7 147.9 L460.3 147.5 L461.8 147.1 L463.4 146.5 L465 145.9 L466.5 145.2 L468.1 144.5 L469.7 143.9 L471.3 143.3 L472.8 142.9 L474.4 142.6 L475.9 142.6 L477.4 142.5 L478.9 142.5 L480.4 142.5 L481.9 142.5 L483.5 142.5 L485 142.4 L486.5 142.4 L488 142.4 L489.5 142.3 L491 142.3 L492.5 142.3 L494 142.2 L495.5 142.2 L497 142.2 L498.6 142.1 L500.1 142.1 L501.6 142.1 L503.1 142.1 L504.6 142.1 L506.1 142" stroke="#2030c8" stroke-width="0.9" stroke-opacity="0.9"/><path d="M430.4 144.4 L432 144.3 L433.5 144.2 L435.1 144 L436.7 143.9 L438.3 143.7 L439.8 143.5 L441.4 143.2 L443 143 L444.5 142.7 L446.1 142.5 L447.7 142.3 L449.3 142 L450.8 141.8 L452.4 141.6 L454 141.4 L455.6 141.3 L457.1 141.2 L458.7 141.1 L460.3 141.3 L461.8 141.6 L463.4 142 L465 142.5 L466.5 143 L468.1 143.5 L469.7 143.9 L471.3 144.3 L472.8 144.7 L474.4 144.9 L475.9 144.8 L477.4 144.8 L478.9 144.7 L480.4 144.6 L481.9 144.4 L483.5 144.3 L485 144.2 L486.5 144 L488 143.9 L489.5 143.7 L491 143.6 L492.5 143.4 L494 143.3 L495.5 143.1 L497 143 L498.6 142.8 L500.1 142.7 L501.6 142.6 L503.1 142.5 L504.6 142.5 L506.1 142.4" stroke="#d02048" stroke-width="0.9" stroke-opacity="0.9"/><path d="M430.4 142.6 L432 142.7 L433.5 142.7 L435.1 142.8 L436.7 142.9 L438.3 143 L439.8 143.2 L441.4 143.3 L443 143.4 L444.5 143.6 L446.1 143.7 L447.7 143.8 L449.3 144 L450.8 144.1 L452.4 144.2 L454 144.3 L455.6 144.4 L457.1 144.5 L458.7 144.5 L460.3 144.5 L461.8 144.6 L463.4 144.6 L465 144.6 L466.5 144.6 L468.1 144.7 L469.7 144.7 L471.3 144.7 L472.8 144.7 L474.4 144.8 L475.9 144.7 L477.4 144.7 L478.9 144.6 L480.4 144.5 L481.9 144.4 L483.5 144.4 L485 144.3 L486.5 144.2 L488 144 L489.5 143.9 L491 143.8 L492.5 143.7 L494 143.6 L495.5 143.5 L497 143.4 L498.6 143.3 L500.1 143.2 L501.6 143.2 L503.1 143.1 L504.6 143 L506.1 143" stroke="#2a38c0" stroke-width="0.9" stroke-opacity="0.9"/><path d="M430.4 143.4 L432 143.3 L433.5 143.2 L435.1 143.1 L436.7 143 L438.3 142.8 L439.8 142.6 L441.4 142.4 L443 142.2 L444.5 142 L446.1 141.8 L447.7 141.6 L449.3 141.4 L450.8 141.2 L452.4 141.1 L454 140.9 L455.6 140.8 L457.1 140.7 L458.7 140.6 L460.3 140.6 L461.8 140.6 L463.4 140.6 L465 140.7 L466.5 140.7 L468.1 140.7 L469.7 140.7 L471.3 140.7 L472.8 140.8 L474.4 140.8 L475.9 140.8 L477.4 140.9 L478.9 141 L480.4 141.2 L481.9 141.3 L483.5 141.5 L485 141.6 L486.5 141.8 L488 142 L489.5 142.2 L491 142.4 L492.5 142.5 L494 142.7 L495.5 142.9 L497 143.1 L498.6 143.2 L500.1 143.4 L501.6 143.5 L503.1 143.6 L504.6 143.7 L506.1 143.8" stroke="#3040d8" stroke-width="0.9" stroke-opacity="0.9"/><path d="M430.4 140.9 L432 140.9 L433.5 140.8 L435.1 140.7 L436.7 140.6 L438.3 140.5 L439.8 140.4 L441.4 140.2 L443 140.1 L444.5 140 L446.1 139.8 L447.7 139.7 L449.3 139.6 L450.8 139.4 L452.4 139.3 L454 139.2 L455.6 139.1 L457.1 139.1 L458.7 139 L460.3 139.2 L461.8 139.5 L463.4 139.8 L465 140.2 L466.5 140.7 L468.1 141.1 L469.7 141.5 L471.3 141.9 L472.8 142.2 L474.4 142.4 L475.9 142.4 L477.4 142.4 L478.9 142.4 L480.4 142.5 L481.9 142.5 L483.5 142.5 L485 142.6 L486.5 142.6 L488 142.7 L489.5 142.7 L491 142.8 L492.5 142.8 L494 142.9 L495.5 142.9 L497 142.9 L498.6 143 L500.1 143 L501.6 143.1 L503.1 143.1 L504.6 143.1 L506.1 143.1" stroke="#2030c8" stroke-width="0.9" stroke-opacity="0.9"/><path d="M430.4 137.8 L432 137.8 L433.5 137.9 L435.1 138 L436.7 138.1 L438.3 138.2 L439.8 138.3 L441.4 138.4 L443 138.5 L444.5 138.7 L446.1 138.8 L447.7 138.9 L449.3 139.1 L450.8 139.2 L452.4 139.3 L454 139.4 L455.6 139.5 L457.1 139.5 L458.7 139.6 L460.3 139.6 L461.8 139.6 L463.4 139.7 L465 139.7 L466.5 139.7 L468.1 139.8 L469.7 139.8 L471.3 139.9 L472.8 139.9 L474.4 139.9 L475.9 140 L477.4 140.1 L478.9 140.2 L480.4 140.3 L481.9 140.5 L483.5 140.6 L485 140.8 L486.5 141 L488 141.2 L489.5 141.4 L491 141.6 L492.5 141.8 L494 141.9 L495.5 142.1 L497 142.3 L498.6 142.5 L500.1 142.6 L501.6 142.7 L503.1 142.9 L504.6 142.9 L506.1 143" stroke="#e02030" stroke-width="0.9" stroke-opacity="0.9"/><path d="M430.4 140.9 L432 140.9 L433.5 140.9 L435.1 140.9 L436.7 140.9 L438.3 140.9 L439.8 140.9 L441.4 140.9 L443 140.9 L444.5 140.9 L446.1 140.9 L447.7 140.9 L449.3 140.9 L450.8 140.9 L452.4 140.9 L454 140.9 L455.6 140.9 L457.1 140.8 L458.7 140.8 L460.3 140.7 L461.8 140.5 L463.4 140.2 L465 139.9 L466.5 139.6 L468.1 139.3 L469.7 139 L471.3 138.8 L472.8 138.5 L474.4 138.4 L475.9 138.4 L477.4 138.4 L478.9 138.4 L480.4 138.5 L481.9 138.5 L483.5 138.5 L485 138.5 L486.5 138.5 L488 138.6 L489.5 138.6 L491 138.6 L492.5 138.6 L494 138.7 L495.5 138.7 L497 138.7 L498.6 138.7 L500.1 138.7 L501.6 138.7 L503.1 138.8 L504.6 138.8 L506.1 138.8" stroke="#7030b0" stroke-width="0.9" stroke-opacity="0.9"/><path d="M430.4 136 L432 136 L433.5 135.9 L435.1 135.9 L436.7 135.9 L438.3 135.9 L439.8 135.9 L441.4 135.8 L443 135.8 L444.5 135.8 L446.1 135.7 L447.7 135.7 L449.3 135.7 L450.8 135.7 L452.4 135.6 L454 135.6 L455.6 135.6 L457.1 135.6 L458.7 135.6 L460.3 135.7 L461.8 135.8 L463.4 135.9 L465 136.1 L466.5 136.3 L468.1 136.5 L469.7 136.7 L471.3 136.8 L472.8 136.9 L474.4 137 L475.9 137.1 L477.4 137.2 L478.9 137.3 L480.4 137.5 L481.9 137.7 L483.5 137.8 L485 138 L486.5 138.2 L488 138.5 L489.5 138.7 L491 138.9 L492.5 139.1 L494 139.4 L495.5 139.6 L497 139.8 L498.6 139.9 L500.1 140.1 L501.6 140.3 L503.1 140.4 L504.6 140.5 L506.1 140.6" stroke="#2030c8" stroke-width="0.9" stroke-opacity="0.9"/><path d="M430.4 152.6 L432 152.6 L433.5 152.6 L435.1 152.6 L436.7 152.6 L438.3 152.6 L439.8 152.6 L441.4 152.6 L443 152.6 L444.5 152.6 L446.1 152.6 L447.7 152.6 L449.3 152.6 L450.8 152.6 L452.4 152.6 L454 152.6 L455.6 152.6 L457.1 152.6 L458.7 152.6 L460.3 152.6 L461.8 152.6 L463.4 152.6 L465 152.6 L466.5 152.6 L468.1 152.6 L469.7 152.6 L471.3 152.6 L472.8 152.6 L474.4 152.6 L475.9 152.6 L477.4 152.6 L478.9 152.6 L480.4 152.6 L481.9 152.6 L483.5 152.6 L485 152.6 L486.5 152.6 L488 152.6 L489.5 152.6 L491 152.6 L492.5 152.6 L494 152.6 L495.5 152.6 L497 152.6 L498.6 152.6 L500.1 152.6 L501.6 152.6 L503.1 152.6 L504.6 152.6 L506.1 152.6" stroke="#8080d0" stroke-width="0.9"/><path d="M430.4 155.2 L432 155.2 L433.5 155.2 L435.1 155.2 L436.7 155.2 L438.3 155.2 L439.8 155.2 L441.4 155.2 L443 155.2 L444.5 155.2 L446.1 155.2 L447.7 155.2 L449.3 155.2 L450.8 155.2 L452.4 155.2 L454 155.2 L455.6 155.2 L457.1 155.2 L458.7 155.2 L460.3 155.2 L461.8 155.2 L463.4 155.2 L465 155.2 L466.5 155.2 L468.1 155.2 L469.7 155.2 L471.3 155.2 L472.8 155.2 L474.4 155.2 L475.9 155.2 L477.4 155.2 L478.9 155.2 L480.4 155.2 L481.9 155.2 L483.5 155.2 L485 155.2 L486.5 155.2 L488 155.2 L489.5 155.2 L491 155.2 L492.5 155.2 L494 155.2 L495.5 155.2 L497 155.2 L498.6 155.2 L500.1 155.2 L501.6 155.2 L503.1 155.2 L504.6 155.2 L506.1 155.2" stroke="#40b0b0" stroke-width="1.2"/><path d="M430.4 158.3 L432 158.3 L433.5 158.3 L435.1 158.3 L436.7 158.4 L438.3 158.4 L439.8 158.4 L441.4 158.5 L443 158.5 L444.5 158.5 L446.1 158.6 L447.7 158.6 L449.3 158.6 L450.8 158.6 L452.4 158.7 L454 158.7 L455.6 158.7 L457.1 158.7 L458.7 158.7 L460.3 158.7 L461.8 158.7 L463.4 158.6 L465 158.6 L466.5 158.5 L468.1 158.5 L469.7 158.4 L471.3 158.4 L472.8 158.3 L474.4 158.3 L475.9 158.3 L477.4 158.3 L478.9 158.3 L480.4 158.3 L481.9 158.3 L483.5 158.3 L485 158.3 L486.5 158.3 L488 158.3 L489.5 158.3 L491 158.3 L492.5 158.3 L494 158.3 L495.5 158.3 L497 158.3 L498.6 158.3 L500.1 158.3 L501.6 158.3 L503.1 158.3 L504.6 158.3 L506.1 158.3" stroke="#40a070" stroke-width="1.0"/><path d="M430.4 161.8 L432 161.8 L433.5 161.8 L435.1 161.8 L436.7 161.9 L438.3 161.9 L439.8 161.9 L441.4 162 L443 162 L444.5 162 L446.1 162.1 L447.7 162.1 L449.3 162.1 L450.8 162.1 L452.4 162.2 L454 162.2 L455.6 162.2 L457.1 162.2 L458.7 162.2 L460.3 162.2 L461.8 162.2 L463.4 162.1 L465 162.1 L466.5 162 L468.1 162 L469.7 161.9 L471.3 161.9 L472.8 161.8 L474.4 161.8 L475.9 161.8 L477.4 161.8 L478.9 161.8 L480.4 161.8 L481.9 161.8 L483.5 161.8 L485 161.8 L486.5 161.8 L488 161.8 L489.5 161.8 L491 161.8 L492.5 161.8 L494 161.8 L495.5 161.8 L497 161.8 L498.6 161.8 L500.1 161.8 L501.6 161.8 L503.1 161.8 L504.6 161.8 L506.1 161.8" stroke="#50b070" stroke-width="1.0"/><path d="M430.4 164.9 L432 164.9 L433.5 164.9 L435.1 164.9 L436.7 164.9 L438.3 164.9 L439.8 164.9 L441.4 164.9 L443 164.9 L444.5 164.9 L446.1 164.9 L447.7 164.9 L449.3 164.9 L450.8 164.9 L452.4 164.9 L454 164.9 L455.6 164.9 L457.1 164.9 L458.7 164.9 L460.3 164.9 L461.8 164.9 L463.4 164.9 L465 164.9 L466.5 164.9 L468.1 164.9 L469.7 164.9 L471.3 164.9 L472.8 164.9 L474.4 164.9 L475.9 164.9 L477.4 164.9 L478.9 164.9 L480.4 164.9 L481.9 164.9 L483.5 164.9 L485 164.9 L486.5 164.9 L488 164.9 L489.5 164.9 L491 164.9 L492.5 164.9 L494 164.9 L495.5 164.9 L497 164.9 L498.6 164.9 L500.1 164.9 L501.6 164.9 L503.1 164.9 L504.6 164.9 L506.1 164.9" stroke="#e06070" stroke-width="0.9"/><path d="M430.4 183.2 L432 183.2 L433.5 183.2 L435.1 183.2 L436.7 183.2 L438.3 183.2 L439.8 183.2 L441.4 183.2 L443 183.2 L444.5 183.2 L446.1 183.2 L447.7 183.2 L449.3 183.2 L450.8 183.2 L452.4 183.2 L454 183.2 L455.6 183.2 L457.1 183.2 L458.7 183.2 L460.3 183.2 L461.8 183.2 L463.4 183.2 L465 183.2 L466.5 183.2 L468.1 183.2 L469.7 183.2 L471.3 183.2 L472.8 183.2 L474.4 183.2 L475.9 183.2 L477.4 183.2 L478.9 183.2 L480.4 183.2 L481.9 183.2 L483.5 183.2 L485 183.2 L486.5 183.2 L488 183.2 L489.5 183.2 L491 183.2 L492.5 183.2 L494 183.2 L495.5 183.2 L497 183.2 L498.6 183.2 L500.1 183.2 L501.6 183.2 L503.1 183.2 L504.6 183.2 L506.1 183.2" stroke="#e08060" stroke-width="0.7"/><path d="M430.4 183.9 L432 183.9 L433.5 183.9 L435.1 183.9 L436.7 183.9 L438.3 183.9 L439.8 183.9 L441.4 183.9 L443 183.9 L444.5 183.9 L446.1 183.9 L447.7 183.9 L449.3 183.9 L450.8 183.9 L452.4 183.9 L454 183.9 L455.6 183.9 L457.1 183.9 L458.7 183.9 L460.3 183.9 L461.8 183.9 L463.4 183.9 L465 183.9 L466.5 183.9 L468.1 183.9 L469.7 183.9 L471.3 183.9 L472.8 183.9 L474.4 183.9 L475.9 183.9 L477.4 183.9 L478.9 183.9 L480.4 183.9 L481.9 183.9 L483.5 183.9 L485 183.9 L486.5 183.9 L488 183.9 L489.5 183.9 L491 183.9 L492.5 183.9 L494 183.9 L495.5 183.9 L497 183.9 L498.6 183.9 L500.1 183.9 L501.6 183.9 L503.1 183.9 L504.6 183.9 L506.1 183.9" stroke="#107a20" stroke-width="1.4"/><path d="M430.4 190.2 L432 190.3 L433.5 190.4 L435.1 190.5 L436.7 190.6 L438.3 190.8 L439.8 190.9 L441.4 191.1 L443 191.2 L444.5 191.4 L446.1 191.6 L447.7 191.8 L449.3 191.9 L450.8 192.1 L452.4 192.2 L454 192.3 L455.6 192.4 L457.1 192.5 L458.7 192.6 L460.3 192.6 L461.8 192.6 L463.4 192.6 L465 192.6 L466.5 192.6 L468.1 192.6 L469.7 192.6 L471.3 192.6 L472.8 192.6 L474.4 192.6 L475.9 192.5 L477.4 192.5 L478.9 192.4 L480.4 192.3 L481.9 192.2 L483.5 192.1 L485 191.9 L486.5 191.8 L488 191.6 L489.5 191.5 L491 191.3 L492.5 191.2 L494 191.1 L495.5 190.9 L497 190.8 L498.6 190.7 L500.1 190.6 L501.6 190.5 L503.1 190.4 L504.6 190.3 L506.1 190.2" stroke="#b0a040" stroke-width="1.0"/><path d="M430.4 197.2 L432 197.2 L433.5 197.2 L435.1 197.2 L436.7 197.2 L438.3 197.2 L439.8 197.2 L441.4 197.2 L443 197.2 L444.5 197.2 L446.1 197.2 L447.7 197.2 L449.3 197.2 L450.8 197.2 L452.4 197.2 L454 197.2 L455.6 197.2 L457.1 197.2 L458.7 197.2 L460.3 197.2 L461.8 197.2 L463.4 197.2 L465 197.2 L466.5 197.2 L468.1 197.2 L469.7 197.2 L471.3 197.2 L472.8 197.2 L474.4 197.2 L475.9 197.2 L477.4 197.2 L478.9 197.2 L480.4 197.2 L481.9 197.2 L483.5 197.2 L485 197.2 L486.5 197.2 L488 197.2 L489.5 197.2 L491 197.2 L492.5 197.2 L494 197.2 L495.5 197.2 L497 197.2 L498.6 197.2 L500.1 197.2 L501.6 197.2 L503.1 197.2 L504.6 197.2 L506.1 197.2" stroke="#e09050" stroke-width="1.0"/><path d="M430.4 198.6 L432 198.6 L433.5 198.7 L435.1 198.8 L436.7 199 L438.3 199.1 L439.8 199.3 L441.4 199.4 L443 199.6 L444.5 199.8 L446.1 200 L447.7 200.1 L449.3 200.3 L450.8 200.5 L452.4 200.6 L454 200.7 L455.6 200.8 L457.1 200.9 L458.7 201 L460.3 201 L461.8 200.9 L463.4 200.9 L465 200.8 L466.5 200.7 L468.1 200.7 L469.7 200.6 L471.3 200.5 L472.8 200.5 L474.4 200.5 L475.9 200.4 L477.4 200.3 L478.9 200.3 L480.4 200.2 L481.9 200 L483.5 199.9 L485 199.8 L486.5 199.7 L488 199.5 L489.5 199.4 L491 199.2 L492.5 199.1 L494 198.9 L495.5 198.8 L497 198.7 L498.6 198.5 L500.1 198.4 L501.6 198.3 L503.1 198.2 L504.6 198.2 L506.1 198.1" stroke="#e02030" stroke-width="1.3"/></g><line x1="508.3" y1="184.2" x2="545.6" y2="184.2" stroke="#333" stroke-width="1"/><g clip-path="url(#cdH)"><path d="M508.3 196.8 L513.9 196.8 L516.1 197.2 L518.4 197.5 L520.6 197.9 L522.9 198.2 L525.1 198.6 L527.3 198.9 L529.6 199.2 L531.8 199.6 L534.1 200 L536.3 200.3 L534.1 200.7 L531.8 201 L529.6 201.4 L529.4 201.7 L529.5 202.1 L529.2 202.4 L528.7 202.8 L528.2 203.1 L528 203.5 L528.2 203.8 L528.8 204.2 L531.1 204.5 L533.5 204.9 L535.9 205.2 L538.3 205.6 L535.9 205.9 L533.5 206.2 L531.1 206.6 L528.7 207 L527.4 207.3 L526.4 207.7 L525.8 208 L525.7 208.4 L526 208.7 L526.6 209.1 L527.2 209.4 L527.6 209.8 L527.7 210.1 L527.4 210.5 L529.1 210.8 L531.2 211.2 L533.3 211.5 L533.3 211.9 L531.2 212.2 L529.1 212.6 L527.1 212.9 L528.4 213.2 L529.7 213.6 L530.7 214 L531.3 214.3 L531.3 214.7 L530.9 215 L530.2 215.4 L529.4 215.7 L530.7 216.1 L532.9 216.4 L535.2 216.8 L535.2 217.1 L532.9 217.5 L530.7 217.8 L530.1 218.2 L529.9 218.5 L529.2 218.9 L528.2 219.2 L526.9 219.6 L525.7 219.9 L526.5 220.2 L528.5 220.6 L530.4 221 L532.3 221.3 L530.4 221.7 L528.5 222 L527.8 222.4 L528.3 222.7 L528.5 223.1 L528.3 223.4 L527.8 223.8 L527.4 224.1 L527.1 224.5 L528.7 224.8 L531.4 225.2 L534.1 225.5 L536.9 225.9 L539.6 226.2 L542.3 226.6 L539.6 226.9 L536.9 227.2 L534.1 227.6 L531.4 228 L528.8 228.3 L527.8 228.7 L527 229 L526.7 229.4 L526.8 229.7 L528.3 230.1 L527.7 230.4 L528.1 230.8 L528.1 231.1 L527.8 231.5 L527.1 231.8 L508.3 231.8Z" fill="#b0b0b0" stroke="#8c8c8c" stroke-width="0.4"/><path d="M508.3 139.9 L527.7 139.9 L527.1 140.3 L526.9 140.6 L527 141 L527.4 141.3 L527.8 141.7 L528.1 142 L528.1 142.4 L527.7 142.7 L526.9 143.1 L525.8 143.4 L524.8 143.8 L523.9 144.1 L523.5 144.5 L523.5 144.8 L524.1 145.2 L525.1 145.5 L526.2 145.9 L527.3 146.2 L528 146.6 L528.4 146.9 L528.4 147.3 L528.1 147.6 L527.6 148 L527.2 148.3 L527.1 148.7 L527.4 149 L528 149.4 L528.8 149.7 L529.7 150.1 L530.4 150.4 L530.7 150.8 L530.5 151.1 L529.8 151.5 L528.7 151.8 L527.5 152.2 L526.3 152.5 L525.4 152.9 L508.3 153.1Z" fill="#b0b0b0" stroke="#8c8c8c" stroke-width="0.4"/><path d="M508.3 153.9 L516.7 153.9 L517.7 154.3 L518.6 154.6 L519.6 155 L520.1 155.3 L519.1 155.7 L518.1 156 L517.2 156.4 L516.2 156.7 L516.9 157.1 L517.9 157.4 L518.9 157.8 L519.8 158.1 L519.8 158.5 L518.9 158.8 L517.9 159.2 L516.9 159.5 L516 159.9 L515 160.2 L515.5 160.6 L516.3 160.9 L517.1 161.3 L517.9 161.6 L517.9 162 L517.1 162.3 L516.3 162.7 L515.5 163 L514.7 163.4 L513.9 163.7 L513.1 164.1 L512.3 164.4 L512 164.8 L512 165.1 L512 165.5 L512.1 165.8 L512.3 166.2 L508.3 166.2Z" fill="#b0b0b0" stroke="#8c8c8c" stroke-width="0.4"/><path d="M508.8 197.7 L508.8 198.4 L508.7 199.1 L508.7 199.8 L508.7 200.5 L509.3 201.2 L509.7 201.9 L510 202.6 L510.1 203.3 L510.2 204 L510.3 204.7 L510 205.4 L509.2 206.1 L508.7 206.8 L509 207.5 L509.6 208.2 L510.1 208.9 L510.3 209.6 L510.5 210.3 L511.1 211 L511.8 211.7 L511.5 212.4 L510.8 213.1 L510.1 213.8 L509.8 214.5 L510.4 215.2 L510.3 215.9 L510.3 216.6 L510.8 217.3 L511.6 218 L512.7 218.7 L512.6 219.4 L512 220.1 L511.6 220.8 L511.6 221.5 L511.3 222.2 L510.9 222.9 L510.3 223.6 L510.8 224.3 L511.9 225 L512.6 225.7 L512.9 226.4 L512.9 227.1 L512.9 227.8 L512.9 228.5 L512.9 229.2 L512 229.9" fill="none" stroke="#10a030" stroke-width="0.9"/><path d="M509.4 199.4 L509.5 200.1 L510 200.8 L510.6 201.5 L511.1 202.2 L511.2 202.9 L511.8 203.6 L511.9 204.3 L511 205 L509.4 205.7 L509.6 206.4 L510.7 207.1 L511.7 207.8 L512.4 208.5 L512.5 209.2 L513.4 209.9 L514.6 210.6 L514.6 211.3 L513.7 212 L512.8 212.7 L512.3 213.4 L512.9 214.1 L513.6 214.8 L513.6 215.5 L514.2 216.2 L515.4 216.9 L517 217.6 L517.2 218.3 L516.7 219 L515.9 219.7 L515.4 220.4 L516 221.1 L515.3 221.8 L515 222.5 L515.1 223.2 L516.7 223.9 L518.5 224.6 L519 225.3 L519.2 226 L518.8 226.7 L519 227.4 L519.1 228.1 L518.2 228.8 L517.1 229.5" fill="none" stroke="#2030c8" stroke-width="0.9"/><path d="M510.3 196.8 L511.1 197.5 L512.4 198.2 L514.2 198.9 L516 199.6 L517.6 200.3 L519.8 201 L520.5 201.7 L518.7 202.4 L516.5 203.1 L517.1 203.8 L518.1 204.5 L518 205.2 L519.4 205.9 L521.5 206.6 L521.3 207.3 L519.7 208 L518 208.7 L518.1 209.4 L517.9 210.1 L517.1 210.8 L519 211.5 L521.6 212.2 L521.7 212.9 L520.3 213.6 L520.2 214.3 L519.6 215 L517.8 215.7 L516.8 216.4 L518.9 217.1 L520.9 217.8 L520.9 218.5 L520.9 219.2 L521.7 219.9 L520.5 220.6 L518.2 221.3 L517.6 222 L518.9 222.7 L519.8 223.4 L520.3 224.1 L521.6 224.8 L523.1 225.5 L521.6 226.2 L519.6 226.9 L519.1 227.6 L519.4 228.3 L518.8 229 L519.3 229.7" fill="none" stroke="#e02030" stroke-width="0.9"/><path d="M514.4 140.8 L514.6 141.2 L514.6 141.7 L514.5 142.1 L514.1 142.6 L513.3 143 L512.9 143.4 L512.9 143.9 L513.1 144.3 L512.6 144.7 L512.3 145.2 L513 145.6 L514.1 146.1 L515.6 146.5 L516.1 146.9 L515.8 147.4 L514.8 147.8 L513.6 148.2 L513.1 148.7 L512.7 149.1 L512.6 149.6 L511.7 150 L510.8 150.4 L510.8 150.9 L511.6 151.3 L513.2 151.7 L514.5 152.2 L515 152.6 L514.5 153.1" fill="none" stroke="#2030c8" stroke-width="1.0"/><path d="M509.3 140.8 L509.3 153.1" fill="none" stroke="#e02030" stroke-width="0.9"/><path d="M508.3 160.6 L520.3 161.4 L508.3 162.2 Z" fill="#333" stroke="#333" stroke-width="0.4"/><path d="M508.3 182.6 L524.3 183.7 L508.3 184.8 Z" fill="#1a5a1a" stroke="#1a5a1a" stroke-width="0.4"/><path d="M508.3 188.1 L518.3 188.9 L508.3 189.7 Z" fill="#666" stroke="#666" stroke-width="0.4"/><path d="M508.3 195.3 L515.3 195.9 L508.3 196.5 Z" fill="#888" stroke="#888" stroke-width="0.4"/></g><rect x="430.4" y="140" width="75.7" height="89.8" fill="none" stroke="#3a3a3a" stroke-width="1.2"/><rect x="508.3" y="140" width="37.3" height="89.8" fill="none" stroke="#3a3a3a" stroke-width="1.2"/><text x="428.6" y="232" font-size="5.3" text-anchor="end" font-weight="normal" fill="#222" font-family="Liberation Sans, sans-serif" >-5</text><text x="428.6" y="223.2" font-size="5.3" text-anchor="end" font-weight="normal" fill="#222" font-family="Liberation Sans, sans-serif" >-4</text><text x="428.6" y="214.5" font-size="5.3" text-anchor="end" font-weight="normal" fill="#222" font-family="Liberation Sans, sans-serif" >-3</text><text x="428.6" y="205.7" font-size="5.3" text-anchor="end" font-weight="normal" fill="#222" font-family="Liberation Sans, sans-serif" >-2</text><text x="428.6" y="197" font-size="5.3" text-anchor="end" font-weight="normal" fill="#222" font-family="Liberation Sans, sans-serif" >-1</text><text x="428.6" y="188.2" font-size="5.3" text-anchor="end" font-weight="normal" fill="#222" font-family="Liberation Sans, sans-serif" >0</text><text x="428.6" y="179.5" font-size="5.3" text-anchor="end" font-weight="normal" fill="#222" font-family="Liberation Sans, sans-serif" >1</text><text x="428.6" y="170.7" font-size="5.3" text-anchor="end" font-weight="normal" fill="#222" font-family="Liberation Sans, sans-serif" >2</text><text x="428.6" y="162" font-size="5.3" text-anchor="end" font-weight="normal" fill="#222" font-family="Liberation Sans, sans-serif" >3</text><text x="428.6" y="153.2" font-size="5.3" text-anchor="end" font-weight="normal" fill="#222" font-family="Liberation Sans, sans-serif" >4</text><text x="428.6" y="144.5" font-size="5.3" text-anchor="end" font-weight="normal" fill="#222" font-family="Liberation Sans, sans-serif" >5</text><text transform="translate(416.8 186) rotate(-90)" font-size="7.3" text-anchor="middle" font-style="italic" font-weight="bold" fill="#1a1a1a" font-family="Liberation Sans, sans-serif">E-E<tspan font-size="4.8" dy="1.5">f</tspan><tspan dy="-1.5">(eV)</tspan></text><text x="430.4" y="237.9" font-size="5.3" text-anchor="middle" font-weight="normal" fill="#111" font-family="Liberation Sans, sans-serif" >G</text><text x="458.7" y="237.9" font-size="5.3" text-anchor="middle" font-weight="normal" fill="#111" font-family="Liberation Sans, sans-serif" >M</text><text x="474.4" y="237.9" font-size="5.3" text-anchor="middle" font-weight="normal" fill="#111" font-family="Liberation Sans, sans-serif" >K</text><text x="506.1" y="237.9" font-size="5.3" text-anchor="middle" font-weight="normal" fill="#111" font-family="Liberation Sans, sans-serif" >G</text><text x="526.5" y="237.9" font-size="5.1" text-anchor="middle" font-weight="normal" fill="#111" font-family="Liberation Sans, sans-serif" >DOS</text><text x="412.8" y="147.2" font-size="7.6" text-anchor="start" font-weight="bold" fill="#222" font-family="Liberation Sans, sans-serif" >(H)</text><text x="460.3" y="172.2" font-size="5.4" text-anchor="start" font-weight="normal" fill="#c01830" font-family="Liberation Sans, sans-serif" >E<tspan font-size="3.6" dy="1.5">g</tspan><tspan dy="-1.5">=2.11 eV</tspan></text><rect x="530.9" y="140.6" width="14.1" height="17.1" fill="#fff"/><line x1="531.7" y1="143" x2="537.3" y2="143" stroke="#aaa" stroke-width="1"/><text x="538.6" y="144.2" font-size="3.5" text-anchor="start" font-weight="normal" fill="#222" font-family="Liberation Sans, sans-serif" >Total</text><line x1="531.7" y1="146.9" x2="537.3" y2="146.9" stroke="#2030c8" stroke-width="1"/><text x="538.6" y="148.2" font-size="3.5" text-anchor="start" font-weight="normal" fill="#222" font-family="Liberation Sans, sans-serif" >B</text><line x1="531.7" y1="150.8" x2="537.3" y2="150.8" stroke="#e02030" stroke-width="1"/><text x="538.6" y="152.1" font-size="3.5" text-anchor="start" font-weight="normal" fill="#222" font-family="Liberation Sans, sans-serif" >N</text><line x1="531.7" y1="154.7" x2="537.3" y2="154.7" stroke="#10a030" stroke-width="1"/><text x="538.6" y="155.9" font-size="3.5" text-anchor="start" font-weight="normal" fill="#222" font-family="Liberation Sans, sans-serif" >C</text><rect x="431.2" y="140.6" width="14.2" height="13.2" fill="#fff" stroke="#222" stroke-width="1.0"/><path d="M438.3 144.5 L434.5 151.1 L438.3 148.9 Z" fill="#c02060"/><path d="M438.3 144.5 L442.1 151.1 L438.3 148.9 Z" fill="#c05020"/><path d="M434.5 151.1 L442.1 151.1 L438.3 148.9 Z" fill="#30a060"/><path d="M438.3 144.5 L436.4 147.8 L440.2 147.8 Z" fill="#e01818"/><path d="M434.5 151.1 L436.4 147.8 L438.3 151.1 Z" fill="#2038e0"/><path d="M442.1 151.1 L440.2 147.8 L438.3 151.1 Z" fill="#20b030"/><rect x="434.5" y="151.1" width="7.7" height="1" fill="#fff"/><text x="438.3" y="144.1" font-size="3.4" text-anchor="middle" font-weight="normal" fill="#000" font-family="Liberation Sans, sans-serif" >N</text><rect x="431.9" y="151.2" width="1.5" height="1.5" fill="#fff" stroke="#333" stroke-width="0.3"/><rect x="443.2" y="151.2" width="1.5" height="1.5" fill="#fff" stroke="#333" stroke-width="0.3"/></svg></body></html>
